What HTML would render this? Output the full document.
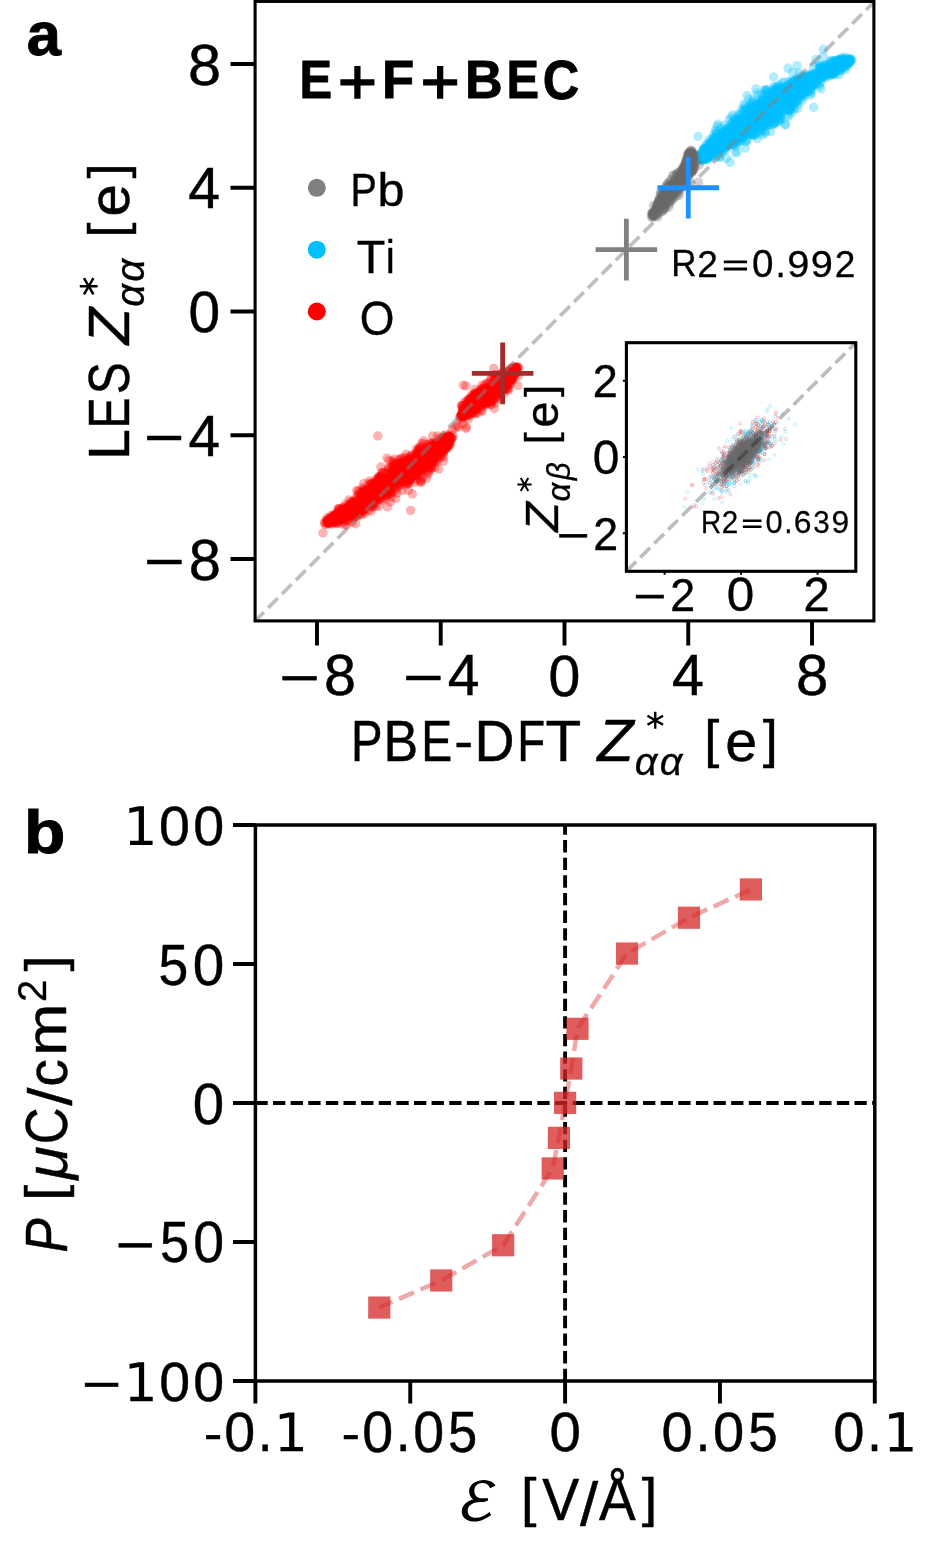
<!DOCTYPE html>
<html><head><meta charset="utf-8"><style>
html,body{margin:0;padding:0;background:#fff;overflow:hidden;}
svg{display:block;}
text{font-family:"Liberation Sans", sans-serif;}
.sc circle{r:4.75px;}
.si circle{r:1.5px;}
</style></head><body>
<svg width="934" height="1550" viewBox="0 0 934 1550">
<rect width="934" height="1550" fill="#fff"/>
<g class='sc' fill='#ff0000' fill-opacity='0.3'><circle cx='493.3' cy='375.0' r='4.75'/><circle cx='409.8' cy='463.8' r='4.75'/><circle cx='506.1' cy='380.0' r='4.75'/><circle cx='386.4' cy='484.7' r='4.75'/><circle cx='433.3' cy='453.6' r='4.75'/><circle cx='429.6' cy='458.9' r='4.75'/><circle cx='362.2' cy='503.0' r='4.75'/><circle cx='484.7' cy='397.3' r='4.75'/><circle cx='502.4' cy='372.5' r='4.75'/><circle cx='355.6' cy='503.1' r='4.75'/><circle cx='495.6' cy='394.7' r='4.75'/><circle cx='446.0' cy='445.9' r='4.75'/><circle cx='392.5' cy='466.7' r='4.75'/><circle cx='400.4' cy='469.6' r='4.75'/><circle cx='447.0' cy='447.9' r='4.75'/><circle cx='367.0' cy='498.3' r='4.75'/><circle cx='482.4' cy='399.5' r='4.75'/><circle cx='409.5' cy='480.0' r='4.75'/><circle cx='368.4' cy='499.6' r='4.75'/><circle cx='480.2' cy='400.7' r='4.75'/><circle cx='331.0' cy='522.2' r='4.75'/><circle cx='337.6' cy='523.0' r='4.75'/><circle cx='474.7' cy='408.6' r='4.75'/><circle cx='385.6' cy='485.7' r='4.75'/><circle cx='420.5' cy='460.7' r='4.75'/><circle cx='436.5' cy='444.1' r='4.75'/><circle cx='461.5' cy='415.1' r='4.75'/><circle cx='413.2' cy='472.6' r='4.75'/><circle cx='380.4' cy='498.5' r='4.75'/><circle cx='383.7' cy='478.1' r='4.75'/><circle cx='440.0' cy='441.0' r='4.75'/><circle cx='483.7' cy='403.7' r='4.75'/><circle cx='367.3' cy='499.3' r='4.75'/><circle cx='346.1' cy='515.4' r='4.75'/><circle cx='485.5' cy='405.0' r='4.75'/><circle cx='477.9' cy='394.4' r='4.75'/><circle cx='338.6' cy='509.1' r='4.75'/><circle cx='417.0' cy='474.3' r='4.75'/><circle cx='429.4' cy='465.4' r='4.75'/><circle cx='398.9' cy='474.8' r='4.75'/><circle cx='391.7' cy='470.1' r='4.75'/><circle cx='445.0' cy='447.9' r='4.75'/><circle cx='347.3' cy='513.2' r='4.75'/><circle cx='417.8' cy='456.9' r='4.75'/><circle cx='414.8' cy='470.6' r='4.75'/><circle cx='380.0' cy='499.5' r='4.75'/><circle cx='474.7' cy='404.8' r='4.75'/><circle cx='479.9' cy='399.9' r='4.75'/><circle cx='432.6' cy='454.1' r='4.75'/><circle cx='396.7' cy='492.8' r='4.75'/><circle cx='342.9' cy='508.4' r='4.75'/><circle cx='408.1' cy='471.8' r='4.75'/><circle cx='404.3' cy='465.8' r='4.75'/><circle cx='403.8' cy='470.8' r='4.75'/><circle cx='433.8' cy='446.5' r='4.75'/><circle cx='488.0' cy='383.1' r='4.75'/><circle cx='485.0' cy='390.9' r='4.75'/><circle cx='482.1' cy='398.9' r='4.75'/><circle cx='425.3' cy='447.7' r='4.75'/><circle cx='372.4' cy='485.8' r='4.75'/><circle cx='348.8' cy='511.6' r='4.75'/><circle cx='365.2' cy='499.1' r='4.75'/><circle cx='492.1' cy='389.0' r='4.75'/><circle cx='381.3' cy='479.9' r='4.75'/><circle cx='508.5' cy='379.7' r='4.75'/><circle cx='406.5' cy='471.2' r='4.75'/><circle cx='464.9' cy='402.0' r='4.75'/><circle cx='420.5' cy='459.7' r='4.75'/><circle cx='395.7' cy='484.3' r='4.75'/><circle cx='409.1' cy='481.7' r='4.75'/><circle cx='402.6' cy='469.7' r='4.75'/><circle cx='426.9' cy='459.0' r='4.75'/><circle cx='489.7' cy='391.8' r='4.75'/><circle cx='475.8' cy='413.7' r='4.75'/><circle cx='429.6' cy='459.4' r='4.75'/><circle cx='333.4' cy='516.4' r='4.75'/><circle cx='512.0' cy='372.4' r='4.75'/><circle cx='484.1' cy='390.8' r='4.75'/><circle cx='355.0' cy='503.0' r='4.75'/><circle cx='503.7' cy='391.2' r='4.75'/><circle cx='502.4' cy='379.7' r='4.75'/><circle cx='477.6' cy='401.2' r='4.75'/><circle cx='364.7' cy='497.7' r='4.75'/><circle cx='433.1' cy='459.3' r='4.75'/><circle cx='482.6' cy='390.2' r='4.75'/><circle cx='477.7' cy='413.0' r='4.75'/><circle cx='505.0' cy='377.9' r='4.75'/><circle cx='391.2' cy='492.0' r='4.75'/><circle cx='409.6' cy='467.2' r='4.75'/><circle cx='399.9' cy='478.1' r='4.75'/><circle cx='360.7' cy='514.9' r='4.75'/><circle cx='475.8' cy='398.2' r='4.75'/><circle cx='334.4' cy='521.3' r='4.75'/><circle cx='492.6' cy='399.2' r='4.75'/><circle cx='420.3' cy='467.9' r='4.75'/><circle cx='366.5' cy='498.1' r='4.75'/><circle cx='497.8' cy='389.8' r='4.75'/><circle cx='367.1' cy='497.5' r='4.75'/><circle cx='477.0' cy='396.5' r='4.75'/><circle cx='504.2' cy='377.5' r='4.75'/><circle cx='469.9' cy='398.4' r='4.75'/><circle cx='390.7' cy='482.5' r='4.75'/><circle cx='337.3' cy='516.6' r='4.75'/><circle cx='422.6' cy='469.6' r='4.75'/><circle cx='383.8' cy='485.3' r='4.75'/><circle cx='508.2' cy='383.3' r='4.75'/><circle cx='411.1' cy='462.4' r='4.75'/><circle cx='464.3' cy='415.0' r='4.75'/><circle cx='446.3' cy='443.7' r='4.75'/><circle cx='395.9' cy='475.6' r='4.75'/><circle cx='369.8' cy='494.5' r='4.75'/><circle cx='364.0' cy='503.3' r='4.75'/><circle cx='441.0' cy='447.6' r='4.75'/><circle cx='408.2' cy='460.3' r='4.75'/><circle cx='485.3' cy='399.2' r='4.75'/><circle cx='419.1' cy='449.4' r='4.75'/><circle cx='408.1' cy='483.7' r='4.75'/><circle cx='386.0' cy='482.0' r='4.75'/><circle cx='363.5' cy='504.4' r='4.75'/><circle cx='512.2' cy='367.6' r='4.75'/><circle cx='366.7' cy='501.1' r='4.75'/><circle cx='509.9' cy='376.6' r='4.75'/><circle cx='450.3' cy='444.8' r='4.75'/><circle cx='382.3' cy='491.4' r='4.75'/><circle cx='401.3' cy='464.0' r='4.75'/><circle cx='367.0' cy='504.4' r='4.75'/><circle cx='382.9' cy='483.8' r='4.75'/><circle cx='468.7' cy='401.0' r='4.75'/><circle cx='490.2' cy='394.4' r='4.75'/><circle cx='335.5' cy='517.3' r='4.75'/><circle cx='474.3' cy='409.6' r='4.75'/><circle cx='367.1' cy='502.6' r='4.75'/><circle cx='367.3' cy='498.1' r='4.75'/><circle cx='396.5' cy='468.7' r='4.75'/><circle cx='410.9' cy='469.1' r='4.75'/><circle cx='492.0' cy='388.7' r='4.75'/><circle cx='382.1' cy='493.9' r='4.75'/><circle cx='344.8' cy='524.8' r='4.75'/><circle cx='413.5' cy='468.9' r='4.75'/><circle cx='441.5' cy='449.9' r='4.75'/><circle cx='495.6' cy='394.8' r='4.75'/><circle cx='338.0' cy='510.3' r='4.75'/><circle cx='495.2' cy='396.7' r='4.75'/><circle cx='516.3' cy='370.3' r='4.75'/><circle cx='510.0' cy='383.2' r='4.75'/><circle cx='393.6' cy='480.0' r='4.75'/><circle cx='402.1' cy='463.5' r='4.75'/><circle cx='402.3' cy='473.1' r='4.75'/><circle cx='425.1' cy='454.0' r='4.75'/><circle cx='374.9' cy='483.3' r='4.75'/><circle cx='406.7' cy='463.2' r='4.75'/><circle cx='418.2' cy='467.3' r='4.75'/><circle cx='433.4' cy='456.8' r='4.75'/><circle cx='407.5' cy='463.4' r='4.75'/><circle cx='447.8' cy='437.0' r='4.75'/><circle cx='376.1' cy='487.7' r='4.75'/><circle cx='401.6' cy='478.4' r='4.75'/><circle cx='494.6' cy='392.8' r='4.75'/><circle cx='360.4' cy='505.4' r='4.75'/><circle cx='494.1' cy='396.6' r='4.75'/><circle cx='374.8' cy='486.4' r='4.75'/><circle cx='391.9' cy='461.1' r='4.75'/><circle cx='339.0' cy='518.9' r='4.75'/><circle cx='387.8' cy='489.8' r='4.75'/><circle cx='380.1' cy='488.2' r='4.75'/><circle cx='468.1' cy='413.2' r='4.75'/><circle cx='419.3' cy='461.8' r='4.75'/><circle cx='475.4' cy='395.0' r='4.75'/><circle cx='507.8' cy='376.7' r='4.75'/><circle cx='443.4' cy='450.3' r='4.75'/><circle cx='380.9' cy='492.9' r='4.75'/><circle cx='441.7' cy='439.7' r='4.75'/><circle cx='467.6' cy='412.8' r='4.75'/><circle cx='512.6' cy='379.5' r='4.75'/><circle cx='436.9' cy='455.2' r='4.75'/><circle cx='500.9' cy='381.4' r='4.75'/><circle cx='374.4' cy='500.0' r='4.75'/><circle cx='420.7' cy='461.9' r='4.75'/><circle cx='471.1' cy='400.8' r='4.75'/><circle cx='474.9' cy='393.6' r='4.75'/><circle cx='370.6' cy='499.5' r='4.75'/><circle cx='352.8' cy='513.2' r='4.75'/><circle cx='421.5' cy='461.5' r='4.75'/><circle cx='361.4' cy='504.1' r='4.75'/><circle cx='507.0' cy='376.5' r='4.75'/><circle cx='444.3' cy='437.7' r='4.75'/><circle cx='443.1' cy='447.7' r='4.75'/><circle cx='350.0' cy='514.9' r='4.75'/><circle cx='369.3' cy='500.7' r='4.75'/><circle cx='436.0' cy='450.2' r='4.75'/><circle cx='406.0' cy='475.1' r='4.75'/><circle cx='391.0' cy='480.8' r='4.75'/><circle cx='486.6' cy='389.7' r='4.75'/><circle cx='358.0' cy='502.6' r='4.75'/><circle cx='358.5' cy='512.7' r='4.75'/><circle cx='337.5' cy='520.3' r='4.75'/><circle cx='415.8' cy='460.8' r='4.75'/><circle cx='472.4' cy='406.0' r='4.75'/><circle cx='422.5' cy='454.6' r='4.75'/><circle cx='371.9' cy='503.9' r='4.75'/><circle cx='378.8' cy='486.7' r='4.75'/><circle cx='385.3' cy='492.4' r='4.75'/><circle cx='391.8' cy='480.7' r='4.75'/><circle cx='440.8' cy='445.3' r='4.75'/><circle cx='499.0' cy='385.9' r='4.75'/><circle cx='497.5' cy='385.6' r='4.75'/><circle cx='489.3' cy='395.6' r='4.75'/><circle cx='377.2' cy='491.7' r='4.75'/><circle cx='515.2' cy='368.5' r='4.75'/><circle cx='503.4' cy='374.5' r='4.75'/><circle cx='376.9' cy='496.7' r='4.75'/><circle cx='389.0' cy='460.7' r='4.75'/><circle cx='476.7' cy='401.7' r='4.75'/><circle cx='505.8' cy='372.2' r='4.75'/><circle cx='498.4' cy='377.1' r='4.75'/><circle cx='341.0' cy='512.6' r='4.75'/><circle cx='427.3' cy='463.7' r='4.75'/><circle cx='501.1' cy='387.9' r='4.75'/><circle cx='431.5' cy='460.6' r='4.75'/><circle cx='378.1' cy='488.0' r='4.75'/><circle cx='476.9' cy='402.2' r='4.75'/><circle cx='443.6' cy='439.0' r='4.75'/><circle cx='496.8' cy='390.8' r='4.75'/><circle cx='470.9' cy='402.7' r='4.75'/><circle cx='470.0' cy='413.4' r='4.75'/><circle cx='422.1' cy='461.8' r='4.75'/><circle cx='408.4' cy='458.4' r='4.75'/><circle cx='446.5' cy='439.5' r='4.75'/><circle cx='472.7' cy='397.7' r='4.75'/><circle cx='479.8' cy='392.0' r='4.75'/><circle cx='421.5' cy='443.7' r='4.75'/><circle cx='468.3' cy='409.5' r='4.75'/><circle cx='477.1' cy='400.3' r='4.75'/><circle cx='393.6' cy='462.3' r='4.75'/><circle cx='474.4' cy='401.6' r='4.75'/><circle cx='362.5' cy='505.8' r='4.75'/><circle cx='392.9' cy='480.0' r='4.75'/><circle cx='437.3' cy='448.6' r='4.75'/><circle cx='335.5' cy='514.3' r='4.75'/><circle cx='397.8' cy='480.8' r='4.75'/><circle cx='377.7' cy='488.5' r='4.75'/><circle cx='351.0' cy='507.0' r='4.75'/><circle cx='420.5' cy='465.6' r='4.75'/><circle cx='423.0' cy='468.2' r='4.75'/><circle cx='427.2' cy='459.7' r='4.75'/><circle cx='384.3' cy='485.6' r='4.75'/><circle cx='382.8' cy='481.2' r='4.75'/><circle cx='430.6' cy='450.3' r='4.75'/><circle cx='437.2' cy='460.9' r='4.75'/><circle cx='502.8' cy='386.3' r='4.75'/><circle cx='359.9' cy='506.1' r='4.75'/><circle cx='481.3' cy='395.5' r='4.75'/><circle cx='471.7' cy='404.6' r='4.75'/><circle cx='475.7' cy='395.8' r='4.75'/><circle cx='341.0' cy='515.8' r='4.75'/><circle cx='398.7' cy='459.8' r='4.75'/><circle cx='513.8' cy='372.5' r='4.75'/><circle cx='354.6' cy='504.3' r='4.75'/><circle cx='501.5' cy='385.0' r='4.75'/><circle cx='368.1' cy='496.4' r='4.75'/><circle cx='472.0' cy='409.7' r='4.75'/><circle cx='332.6' cy='517.3' r='4.75'/><circle cx='476.3' cy='397.1' r='4.75'/><circle cx='425.5' cy='456.3' r='4.75'/><circle cx='425.2' cy='462.8' r='4.75'/><circle cx='507.6' cy='374.3' r='4.75'/><circle cx='496.5' cy='392.2' r='4.75'/><circle cx='357.8' cy='502.9' r='4.75'/><circle cx='397.5' cy='474.0' r='4.75'/><circle cx='366.4' cy='491.7' r='4.75'/><circle cx='359.5' cy='506.1' r='4.75'/><circle cx='351.4' cy='513.7' r='4.75'/><circle cx='431.0' cy='466.6' r='4.75'/><circle cx='394.9' cy='469.8' r='4.75'/><circle cx='336.7' cy='517.0' r='4.75'/><circle cx='424.5' cy='457.7' r='4.75'/><circle cx='461.0' cy='415.4' r='4.75'/><circle cx='497.4' cy='385.1' r='4.75'/><circle cx='393.2' cy='471.4' r='4.75'/><circle cx='398.6' cy='477.2' r='4.75'/><circle cx='370.2' cy='505.4' r='4.75'/><circle cx='358.1' cy='507.5' r='4.75'/><circle cx='421.9' cy='458.2' r='4.75'/><circle cx='393.9' cy='477.7' r='4.75'/><circle cx='391.5' cy='473.1' r='4.75'/><circle cx='470.0' cy='398.7' r='4.75'/><circle cx='351.1' cy='512.9' r='4.75'/><circle cx='335.0' cy='518.6' r='4.75'/><circle cx='417.5' cy='468.6' r='4.75'/><circle cx='341.6' cy='509.2' r='4.75'/><circle cx='425.3' cy='470.8' r='4.75'/><circle cx='445.8' cy='441.7' r='4.75'/><circle cx='479.0' cy='398.0' r='4.75'/><circle cx='493.5' cy='395.7' r='4.75'/><circle cx='387.0' cy='492.8' r='4.75'/><circle cx='401.8' cy='477.2' r='4.75'/><circle cx='408.9' cy='477.9' r='4.75'/><circle cx='498.1' cy='381.8' r='4.75'/><circle cx='361.0' cy='505.6' r='4.75'/><circle cx='502.9' cy='380.6' r='4.75'/><circle cx='512.1' cy='377.8' r='4.75'/><circle cx='441.2' cy='441.3' r='4.75'/><circle cx='375.3' cy='484.5' r='4.75'/><circle cx='401.4' cy='470.6' r='4.75'/><circle cx='382.4' cy='472.6' r='4.75'/><circle cx='395.7' cy='498.6' r='4.75'/><circle cx='468.2' cy='411.2' r='4.75'/><circle cx='405.6' cy='474.1' r='4.75'/><circle cx='379.3' cy='476.6' r='4.75'/><circle cx='511.9' cy='379.0' r='4.75'/><circle cx='492.5' cy='397.9' r='4.75'/><circle cx='486.2' cy='393.5' r='4.75'/><circle cx='364.1' cy='499.6' r='4.75'/><circle cx='387.0' cy='493.9' r='4.75'/><circle cx='431.2' cy='445.0' r='4.75'/><circle cx='479.9' cy='402.9' r='4.75'/><circle cx='487.3' cy='388.4' r='4.75'/><circle cx='496.5' cy='391.9' r='4.75'/><circle cx='410.6' cy='473.3' r='4.75'/><circle cx='412.6' cy='464.4' r='4.75'/><circle cx='418.8' cy='450.5' r='4.75'/><circle cx='414.3' cy='467.1' r='4.75'/><circle cx='332.2' cy='523.2' r='4.75'/><circle cx='346.6' cy='510.2' r='4.75'/><circle cx='401.3' cy='458.8' r='4.75'/><circle cx='401.2' cy='471.0' r='4.75'/><circle cx='373.0' cy='495.6' r='4.75'/><circle cx='411.3' cy='464.6' r='4.75'/><circle cx='474.0' cy='410.7' r='4.75'/><circle cx='493.0' cy='396.9' r='4.75'/><circle cx='463.6' cy='415.4' r='4.75'/><circle cx='418.9' cy='451.3' r='4.75'/><circle cx='341.3' cy='518.8' r='4.75'/><circle cx='405.8' cy='481.4' r='4.75'/><circle cx='402.7' cy='476.7' r='4.75'/><circle cx='509.3' cy='378.9' r='4.75'/><circle cx='493.5' cy='387.6' r='4.75'/><circle cx='353.2' cy='510.9' r='4.75'/><circle cx='381.9' cy='494.5' r='4.75'/><circle cx='357.6' cy='511.4' r='4.75'/><circle cx='492.4' cy='391.9' r='4.75'/><circle cx='351.7' cy='517.4' r='4.75'/><circle cx='500.3' cy='379.1' r='4.75'/><circle cx='350.7' cy='509.6' r='4.75'/><circle cx='470.3' cy='402.0' r='4.75'/><circle cx='342.9' cy='513.3' r='4.75'/><circle cx='496.1' cy='379.3' r='4.75'/><circle cx='370.3' cy='502.8' r='4.75'/><circle cx='448.3' cy='441.5' r='4.75'/><circle cx='359.3' cy='502.9' r='4.75'/><circle cx='341.1' cy='516.1' r='4.75'/><circle cx='414.2' cy='465.5' r='4.75'/><circle cx='503.6' cy='376.3' r='4.75'/><circle cx='346.9' cy='514.2' r='4.75'/><circle cx='349.8' cy='509.9' r='4.75'/><circle cx='392.4' cy='492.1' r='4.75'/><circle cx='412.0' cy='476.5' r='4.75'/><circle cx='358.0' cy='504.3' r='4.75'/><circle cx='389.0' cy='479.5' r='4.75'/><circle cx='379.4' cy='491.9' r='4.75'/><circle cx='497.3' cy='380.2' r='4.75'/><circle cx='419.2' cy='455.7' r='4.75'/><circle cx='381.2' cy='476.2' r='4.75'/><circle cx='437.4' cy='457.3' r='4.75'/><circle cx='499.5' cy='393.2' r='4.75'/><circle cx='492.9' cy='394.6' r='4.75'/><circle cx='374.7' cy='497.4' r='4.75'/><circle cx='444.5' cy='446.5' r='4.75'/><circle cx='363.6' cy='503.4' r='4.75'/><circle cx='345.8' cy='514.9' r='4.75'/><circle cx='510.7' cy='379.1' r='4.75'/><circle cx='442.4' cy='438.9' r='4.75'/><circle cx='437.7' cy='446.4' r='4.75'/><circle cx='337.1' cy='523.7' r='4.75'/><circle cx='350.6' cy='508.6' r='4.75'/><circle cx='420.2' cy='454.7' r='4.75'/><circle cx='349.3' cy='509.1' r='4.75'/><circle cx='416.7' cy='465.5' r='4.75'/><circle cx='428.1' cy='459.0' r='4.75'/><circle cx='380.5' cy='480.7' r='4.75'/><circle cx='406.3' cy='475.2' r='4.75'/><circle cx='381.2' cy='478.6' r='4.75'/><circle cx='377.1' cy='489.5' r='4.75'/><circle cx='403.2' cy='470.6' r='4.75'/><circle cx='377.9' cy='481.3' r='4.75'/><circle cx='339.7' cy='515.8' r='4.75'/><circle cx='337.1' cy='516.2' r='4.75'/><circle cx='478.9' cy='403.6' r='4.75'/><circle cx='505.6' cy='379.5' r='4.75'/><circle cx='492.0' cy='401.1' r='4.75'/><circle cx='368.8' cy='499.8' r='4.75'/><circle cx='380.0' cy='479.5' r='4.75'/><circle cx='337.7' cy='519.4' r='4.75'/><circle cx='474.2' cy='399.7' r='4.75'/><circle cx='324.8' cy='523.8' r='4.75'/><circle cx='504.3' cy='379.9' r='4.75'/><circle cx='486.2' cy='389.4' r='4.75'/><circle cx='417.9' cy='460.3' r='4.75'/><circle cx='425.3' cy='463.7' r='4.75'/><circle cx='499.2' cy='385.0' r='4.75'/><circle cx='397.6' cy='474.3' r='4.75'/><circle cx='331.2' cy='515.3' r='4.75'/><circle cx='421.8' cy='461.4' r='4.75'/><circle cx='346.8' cy='507.3' r='4.75'/><circle cx='363.9' cy='492.1' r='4.75'/><circle cx='415.8' cy='469.3' r='4.75'/><circle cx='500.2' cy='395.2' r='4.75'/><circle cx='345.8' cy='520.7' r='4.75'/><circle cx='515.8' cy='373.0' r='4.75'/><circle cx='488.0' cy='392.6' r='4.75'/><circle cx='486.7' cy='394.1' r='4.75'/><circle cx='429.7' cy='462.3' r='4.75'/><circle cx='497.1' cy='394.2' r='4.75'/><circle cx='412.3' cy='473.4' r='4.75'/><circle cx='423.1' cy='460.1' r='4.75'/><circle cx='393.7' cy='474.8' r='4.75'/><circle cx='387.8' cy='484.7' r='4.75'/><circle cx='392.4' cy='484.3' r='4.75'/><circle cx='476.1' cy='398.1' r='4.75'/><circle cx='363.4' cy='501.3' r='4.75'/><circle cx='497.6' cy='392.9' r='4.75'/><circle cx='360.3' cy='508.4' r='4.75'/><circle cx='462.9' cy='410.5' r='4.75'/><circle cx='416.1' cy='467.7' r='4.75'/><circle cx='506.4' cy='381.7' r='4.75'/><circle cx='483.7' cy='394.7' r='4.75'/><circle cx='387.9' cy='481.5' r='4.75'/><circle cx='328.6' cy='523.0' r='4.75'/><circle cx='382.1' cy='492.2' r='4.75'/><circle cx='446.8' cy='444.6' r='4.75'/><circle cx='508.2' cy='372.8' r='4.75'/><circle cx='381.9' cy='481.6' r='4.75'/><circle cx='472.8' cy='402.1' r='4.75'/><circle cx='469.4' cy='414.7' r='4.75'/><circle cx='409.7' cy='479.5' r='4.75'/><circle cx='417.6' cy='462.6' r='4.75'/><circle cx='371.3' cy='496.3' r='4.75'/><circle cx='478.7' cy='404.1' r='4.75'/><circle cx='435.7' cy='452.6' r='4.75'/><circle cx='422.5' cy='452.3' r='4.75'/><circle cx='419.4' cy='467.6' r='4.75'/><circle cx='422.2' cy='461.2' r='4.75'/><circle cx='383.2' cy='490.8' r='4.75'/><circle cx='361.5' cy='492.2' r='4.75'/><circle cx='509.1' cy='379.9' r='4.75'/><circle cx='367.1' cy='493.4' r='4.75'/><circle cx='408.9' cy='460.6' r='4.75'/><circle cx='411.2' cy='466.4' r='4.75'/><circle cx='476.2' cy='401.3' r='4.75'/><circle cx='466.7' cy='407.0' r='4.75'/><circle cx='329.6' cy='522.3' r='4.75'/><circle cx='417.0' cy='457.2' r='4.75'/><circle cx='336.3' cy='519.1' r='4.75'/><circle cx='440.9' cy='440.5' r='4.75'/><circle cx='419.3' cy='469.9' r='4.75'/><circle cx='451.0' cy='439.0' r='4.75'/><circle cx='478.5' cy='403.4' r='4.75'/><circle cx='377.1' cy='498.3' r='4.75'/><circle cx='499.1' cy='387.2' r='4.75'/><circle cx='462.8' cy='410.5' r='4.75'/><circle cx='502.3' cy='382.2' r='4.75'/><circle cx='363.3' cy='496.7' r='4.75'/><circle cx='375.0' cy='503.1' r='4.75'/><circle cx='475.9' cy='393.1' r='4.75'/><circle cx='439.7' cy='445.3' r='4.75'/><circle cx='383.4' cy='484.8' r='4.75'/><circle cx='377.1' cy='493.4' r='4.75'/><circle cx='474.1' cy='398.2' r='4.75'/><circle cx='362.5' cy='488.1' r='4.75'/><circle cx='404.3' cy='475.2' r='4.75'/><circle cx='380.4' cy='491.2' r='4.75'/><circle cx='462.8' cy='417.2' r='4.75'/><circle cx='368.4' cy='491.8' r='4.75'/><circle cx='506.2' cy='379.6' r='4.75'/><circle cx='334.1' cy='515.1' r='4.75'/><circle cx='424.7' cy='457.4' r='4.75'/><circle cx='482.9' cy='388.9' r='4.75'/><circle cx='439.8' cy='448.6' r='4.75'/><circle cx='367.3' cy='490.2' r='4.75'/><circle cx='387.5' cy='472.8' r='4.75'/><circle cx='423.7' cy='466.8' r='4.75'/><circle cx='502.4' cy='388.0' r='4.75'/><circle cx='418.0' cy='457.4' r='4.75'/><circle cx='448.5' cy='445.8' r='4.75'/><circle cx='399.1' cy='464.6' r='4.75'/><circle cx='507.1' cy='380.2' r='4.75'/><circle cx='412.0' cy='473.4' r='4.75'/><circle cx='461.6' cy='414.4' r='4.75'/><circle cx='499.8' cy='383.6' r='4.75'/><circle cx='397.4' cy='470.7' r='4.75'/><circle cx='356.6' cy='515.3' r='4.75'/><circle cx='404.0' cy='470.0' r='4.75'/><circle cx='329.0' cy='521.2' r='4.75'/><circle cx='352.3' cy='522.1' r='4.75'/><circle cx='364.2' cy='503.8' r='4.75'/><circle cx='337.1' cy='519.1' r='4.75'/><circle cx='409.7' cy='456.5' r='4.75'/><circle cx='513.7' cy='372.4' r='4.75'/><circle cx='434.8' cy='467.3' r='4.75'/><circle cx='331.0' cy='517.6' r='4.75'/><circle cx='508.9' cy='389.8' r='4.75'/><circle cx='510.1' cy='384.0' r='4.75'/><circle cx='358.1' cy='510.8' r='4.75'/><circle cx='512.7' cy='373.8' r='4.75'/><circle cx='350.2' cy='507.6' r='4.75'/><circle cx='426.4' cy='464.3' r='4.75'/><circle cx='339.2' cy='516.6' r='4.75'/><circle cx='406.8' cy='474.7' r='4.75'/><circle cx='411.4' cy='471.3' r='4.75'/><circle cx='428.0' cy='466.4' r='4.75'/><circle cx='403.3' cy='481.8' r='4.75'/><circle cx='358.4' cy='505.5' r='4.75'/><circle cx='443.6' cy='451.6' r='4.75'/><circle cx='373.0' cy='493.1' r='4.75'/><circle cx='514.9' cy='369.2' r='4.75'/><circle cx='382.5' cy='486.6' r='4.75'/><circle cx='434.9' cy='458.9' r='4.75'/><circle cx='410.7' cy='510.4' r='4.75'/><circle cx='441.2' cy='444.8' r='4.75'/><circle cx='442.3' cy='441.4' r='4.75'/><circle cx='342.9' cy='518.9' r='4.75'/><circle cx='447.9' cy='437.7' r='4.75'/><circle cx='470.4' cy='406.5' r='4.75'/><circle cx='398.9' cy='483.8' r='4.75'/><circle cx='504.0' cy='378.5' r='4.75'/><circle cx='348.8' cy='505.9' r='4.75'/><circle cx='428.0' cy='455.2' r='4.75'/><circle cx='396.2' cy='472.0' r='4.75'/><circle cx='396.7' cy='479.8' r='4.75'/><circle cx='449.6' cy='436.9' r='4.75'/><circle cx='417.2' cy='462.0' r='4.75'/><circle cx='324.6' cy='522.2' r='4.75'/><circle cx='412.8' cy='465.7' r='4.75'/><circle cx='487.3' cy='402.6' r='4.75'/><circle cx='492.8' cy='389.0' r='4.75'/><circle cx='386.9' cy='491.0' r='4.75'/><circle cx='447.3' cy='440.7' r='4.75'/><circle cx='492.9' cy='391.9' r='4.75'/><circle cx='476.9' cy='396.3' r='4.75'/><circle cx='416.0' cy='469.0' r='4.75'/><circle cx='452.9' cy='435.7' r='4.75'/><circle cx='400.9' cy='463.6' r='4.75'/><circle cx='349.3' cy='507.6' r='4.75'/><circle cx='439.0' cy='447.8' r='4.75'/><circle cx='428.8' cy='450.9' r='4.75'/><circle cx='410.2' cy='468.5' r='4.75'/><circle cx='428.7' cy='457.3' r='4.75'/><circle cx='435.1' cy='448.6' r='4.75'/><circle cx='461.1' cy='416.4' r='4.75'/><circle cx='487.4' cy='403.0' r='4.75'/><circle cx='430.0' cy='470.4' r='4.75'/><circle cx='444.3' cy='441.2' r='4.75'/><circle cx='395.4' cy='488.2' r='4.75'/><circle cx='450.5' cy='441.8' r='4.75'/><circle cx='482.2' cy='392.8' r='4.75'/><circle cx='379.9' cy='490.7' r='4.75'/><circle cx='411.0' cy='465.7' r='4.75'/><circle cx='405.0' cy='457.6' r='4.75'/><circle cx='443.7' cy='456.6' r='4.75'/><circle cx='463.5' cy='410.8' r='4.75'/><circle cx='504.8' cy='375.8' r='4.75'/><circle cx='412.6' cy='454.8' r='4.75'/><circle cx='498.6' cy='382.3' r='4.75'/><circle cx='343.0' cy='512.6' r='4.75'/><circle cx='437.1' cy='455.3' r='4.75'/><circle cx='496.2' cy='374.6' r='4.75'/><circle cx='357.9' cy='508.8' r='4.75'/><circle cx='423.8' cy='459.0' r='4.75'/><circle cx='413.9' cy='474.0' r='4.75'/><circle cx='372.4' cy='507.0' r='4.75'/><circle cx='408.2' cy='463.4' r='4.75'/><circle cx='506.9' cy='386.6' r='4.75'/><circle cx='471.8' cy='395.9' r='4.75'/><circle cx='336.9' cy='515.7' r='4.75'/><circle cx='435.7' cy='455.6' r='4.75'/><circle cx='376.1' cy='496.9' r='4.75'/><circle cx='405.4' cy='479.2' r='4.75'/><circle cx='417.0' cy='479.5' r='4.75'/><circle cx='365.8' cy='501.7' r='4.75'/><circle cx='469.5' cy='415.5' r='4.75'/><circle cx='417.4' cy='466.5' r='4.75'/><circle cx='377.6' cy='492.9' r='4.75'/><circle cx='439.3' cy='443.2' r='4.75'/><circle cx='501.4' cy='379.9' r='4.75'/><circle cx='356.9' cy='511.5' r='4.75'/><circle cx='438.8' cy='438.6' r='4.75'/><circle cx='355.1' cy='512.0' r='4.75'/><circle cx='333.2' cy='520.6' r='4.75'/><circle cx='422.4' cy='470.1' r='4.75'/><circle cx='502.4' cy='381.8' r='4.75'/><circle cx='429.0' cy='467.9' r='4.75'/><circle cx='501.1' cy='380.6' r='4.75'/><circle cx='463.4' cy='414.0' r='4.75'/><circle cx='488.3' cy='396.7' r='4.75'/><circle cx='435.0' cy='451.0' r='4.75'/><circle cx='347.5' cy='510.4' r='4.75'/><circle cx='495.7' cy='391.7' r='4.75'/><circle cx='494.0' cy='390.1' r='4.75'/><circle cx='384.4' cy='492.0' r='4.75'/><circle cx='430.7' cy='442.8' r='4.75'/><circle cx='390.1' cy='501.8' r='4.75'/><circle cx='387.0' cy='487.5' r='4.75'/><circle cx='445.1' cy='449.3' r='4.75'/><circle cx='410.4' cy='459.8' r='4.75'/><circle cx='402.0' cy='476.5' r='4.75'/><circle cx='419.5' cy='447.0' r='4.75'/><circle cx='370.4' cy='484.3' r='4.75'/><circle cx='503.8' cy='383.9' r='4.75'/><circle cx='372.3' cy='483.7' r='4.75'/><circle cx='498.5' cy='387.3' r='4.75'/><circle cx='391.2' cy='474.8' r='4.75'/><circle cx='441.0' cy='443.5' r='4.75'/><circle cx='392.2' cy='480.5' r='4.75'/><circle cx='493.8' cy='394.4' r='4.75'/><circle cx='393.2' cy='482.1' r='4.75'/><circle cx='372.5' cy='505.9' r='4.75'/><circle cx='407.7' cy='479.8' r='4.75'/><circle cx='433.1' cy='449.7' r='4.75'/><circle cx='394.1' cy='477.4' r='4.75'/><circle cx='449.5' cy='443.7' r='4.75'/><circle cx='496.6' cy='387.8' r='4.75'/><circle cx='377.8' cy='435.9' r='4.75'/><circle cx='326.4' cy='520.2' r='4.75'/><circle cx='434.0' cy='457.9' r='4.75'/><circle cx='327.9' cy='523.1' r='4.75'/><circle cx='375.5' cy='492.1' r='4.75'/><circle cx='374.6' cy='482.0' r='4.75'/><circle cx='339.7' cy='520.9' r='4.75'/><circle cx='416.0' cy='454.3' r='4.75'/><circle cx='369.9' cy='480.9' r='4.75'/><circle cx='427.9' cy='457.1' r='4.75'/><circle cx='382.9' cy='486.2' r='4.75'/><circle cx='443.9' cy='438.1' r='4.75'/><circle cx='442.1' cy='443.4' r='4.75'/><circle cx='469.9' cy='405.4' r='4.75'/><circle cx='472.9' cy='400.6' r='4.75'/><circle cx='380.4' cy='481.6' r='4.75'/><circle cx='477.5' cy='404.1' r='4.75'/><circle cx='497.4' cy='391.0' r='4.75'/><circle cx='491.9' cy='398.8' r='4.75'/><circle cx='420.9' cy='458.1' r='4.75'/><circle cx='400.6' cy='464.1' r='4.75'/><circle cx='347.7' cy='505.5' r='4.75'/><circle cx='502.4' cy='385.4' r='4.75'/><circle cx='449.9' cy='438.6' r='4.75'/><circle cx='404.5' cy='481.0' r='4.75'/><circle cx='446.5' cy='436.1' r='4.75'/><circle cx='374.5' cy='493.8' r='4.75'/><circle cx='486.4' cy='397.7' r='4.75'/><circle cx='500.7' cy='380.6' r='4.75'/><circle cx='416.3' cy='462.6' r='4.75'/><circle cx='380.3' cy='494.8' r='4.75'/><circle cx='397.8' cy='466.1' r='4.75'/><circle cx='409.5' cy='471.8' r='4.75'/><circle cx='369.6' cy='497.1' r='4.75'/><circle cx='416.2' cy='472.3' r='4.75'/><circle cx='408.8' cy='458.5' r='4.75'/><circle cx='469.8' cy='405.2' r='4.75'/><circle cx='400.7' cy='472.1' r='4.75'/><circle cx='417.9' cy='456.7' r='4.75'/><circle cx='386.9' cy='494.7' r='4.75'/><circle cx='446.4' cy='439.3' r='4.75'/><circle cx='429.7' cy='454.6' r='4.75'/><circle cx='438.4' cy='458.9' r='4.75'/><circle cx='424.7' cy='467.9' r='4.75'/><circle cx='443.4' cy='440.9' r='4.75'/><circle cx='475.4' cy='397.3' r='4.75'/><circle cx='348.1' cy='507.5' r='4.75'/><circle cx='471.2' cy='400.3' r='4.75'/><circle cx='485.2' cy='395.4' r='4.75'/><circle cx='358.7' cy='506.3' r='4.75'/><circle cx='405.3' cy='470.7' r='4.75'/><circle cx='504.4' cy='381.0' r='4.75'/><circle cx='369.6' cy='503.6' r='4.75'/><circle cx='340.7' cy='513.9' r='4.75'/><circle cx='366.9' cy='493.3' r='4.75'/><circle cx='356.7' cy='507.4' r='4.75'/><circle cx='384.8' cy='485.4' r='4.75'/><circle cx='351.7' cy='505.4' r='4.75'/><circle cx='373.3' cy='493.0' r='4.75'/><circle cx='480.8' cy='396.4' r='4.75'/><circle cx='434.0' cy='447.2' r='4.75'/><circle cx='396.0' cy='463.1' r='4.75'/><circle cx='422.0' cy='462.2' r='4.75'/><circle cx='368.4' cy='499.4' r='4.75'/><circle cx='371.7' cy='495.8' r='4.75'/><circle cx='375.9' cy='506.7' r='4.75'/><circle cx='419.0' cy='459.0' r='4.75'/><circle cx='488.4' cy='395.6' r='4.75'/><circle cx='463.4' cy='415.5' r='4.75'/><circle cx='487.5' cy='393.0' r='4.75'/><circle cx='373.2' cy='488.3' r='4.75'/><circle cx='434.1' cy='448.7' r='4.75'/><circle cx='376.4' cy='479.5' r='4.75'/><circle cx='411.9' cy='469.0' r='4.75'/><circle cx='340.1' cy='511.5' r='4.75'/><circle cx='502.9' cy='389.5' r='4.75'/><circle cx='364.0' cy='505.8' r='4.75'/><circle cx='484.1' cy='397.7' r='4.75'/><circle cx='371.9' cy='505.8' r='4.75'/><circle cx='489.7' cy='392.7' r='4.75'/><circle cx='411.1' cy='478.6' r='4.75'/><circle cx='447.7' cy='445.1' r='4.75'/><circle cx='518.4' cy='375.9' r='4.75'/><circle cx='504.6' cy='379.5' r='4.75'/><circle cx='342.1' cy='517.1' r='4.75'/><circle cx='421.1' cy='466.3' r='4.75'/><circle cx='429.3' cy='447.8' r='4.75'/><circle cx='369.4' cy='498.3' r='4.75'/><circle cx='443.1' cy='444.2' r='4.75'/><circle cx='464.0' cy='407.5' r='4.75'/><circle cx='492.1' cy='383.8' r='4.75'/><circle cx='495.7' cy='388.6' r='4.75'/><circle cx='387.5' cy='506.8' r='4.75'/><circle cx='517.8' cy='385.4' r='4.75'/><circle cx='503.1' cy='380.1' r='4.75'/><circle cx='361.2' cy='502.8' r='4.75'/><circle cx='437.5' cy='448.5' r='4.75'/><circle cx='440.6' cy='446.0' r='4.75'/><circle cx='363.9' cy='495.3' r='4.75'/><circle cx='331.1' cy='518.1' r='4.75'/><circle cx='515.9' cy='368.0' r='4.75'/><circle cx='467.1' cy='407.6' r='4.75'/><circle cx='487.1' cy='397.9' r='4.75'/><circle cx='466.5' cy='411.6' r='4.75'/><circle cx='397.3' cy='471.7' r='4.75'/><circle cx='438.7' cy='448.0' r='4.75'/><circle cx='419.0' cy='452.3' r='4.75'/><circle cx='344.9' cy='518.6' r='4.75'/><circle cx='433.6' cy='449.8' r='4.75'/><circle cx='365.1' cy='489.8' r='4.75'/><circle cx='463.8' cy='411.5' r='4.75'/><circle cx='399.1' cy='483.4' r='4.75'/><circle cx='485.8' cy='400.6' r='4.75'/><circle cx='467.4' cy='413.9' r='4.75'/><circle cx='467.9' cy='407.4' r='4.75'/><circle cx='385.1' cy='485.0' r='4.75'/><circle cx='375.0' cy='498.0' r='4.75'/><circle cx='363.3' cy='505.4' r='4.75'/><circle cx='398.0' cy='477.9' r='4.75'/><circle cx='378.6' cy='491.8' r='4.75'/><circle cx='378.8' cy='486.8' r='4.75'/><circle cx='509.1' cy='377.0' r='4.75'/><circle cx='445.9' cy='439.8' r='4.75'/><circle cx='402.4' cy='480.8' r='4.75'/><circle cx='443.7' cy='442.1' r='4.75'/><circle cx='367.7' cy='491.8' r='4.75'/><circle cx='380.8' cy='487.3' r='4.75'/><circle cx='375.2' cy='492.7' r='4.75'/><circle cx='466.0' cy='409.2' r='4.75'/><circle cx='384.2' cy='491.6' r='4.75'/><circle cx='375.5' cy='493.8' r='4.75'/><circle cx='395.9' cy='479.6' r='4.75'/><circle cx='350.7' cy='501.7' r='4.75'/><circle cx='370.3' cy='502.7' r='4.75'/><circle cx='357.2' cy='515.9' r='4.75'/><circle cx='415.5' cy='454.3' r='4.75'/><circle cx='444.4' cy='448.0' r='4.75'/><circle cx='472.8' cy='397.4' r='4.75'/><circle cx='510.3' cy='371.2' r='4.75'/><circle cx='435.9' cy='452.5' r='4.75'/><circle cx='464.8' cy='411.5' r='4.75'/><circle cx='491.1' cy='400.9' r='4.75'/><circle cx='500.9' cy='383.9' r='4.75'/><circle cx='402.4' cy='473.0' r='4.75'/><circle cx='476.1' cy='408.0' r='4.75'/><circle cx='508.0' cy='371.8' r='4.75'/><circle cx='474.9' cy='406.5' r='4.75'/><circle cx='486.8' cy='395.5' r='4.75'/><circle cx='514.7' cy='368.9' r='4.75'/><circle cx='344.8' cy='510.9' r='4.75'/><circle cx='424.3' cy='454.5' r='4.75'/><circle cx='478.2' cy='398.2' r='4.75'/><circle cx='406.3' cy='466.5' r='4.75'/><circle cx='431.8' cy='443.6' r='4.75'/><circle cx='430.4' cy='447.4' r='4.75'/><circle cx='431.7' cy='462.4' r='4.75'/><circle cx='329.3' cy='519.6' r='4.75'/><circle cx='362.4' cy='505.2' r='4.75'/><circle cx='399.0' cy='479.3' r='4.75'/><circle cx='465.1' cy='414.0' r='4.75'/><circle cx='493.6' cy='389.9' r='4.75'/><circle cx='488.5' cy='388.8' r='4.75'/><circle cx='431.6' cy='457.6' r='4.75'/><circle cx='467.4' cy='413.2' r='4.75'/><circle cx='374.2' cy='497.7' r='4.75'/><circle cx='387.2' cy='482.5' r='4.75'/><circle cx='489.0' cy='397.1' r='4.75'/><circle cx='504.8' cy='380.4' r='4.75'/><circle cx='352.1' cy='511.4' r='4.75'/><circle cx='398.6' cy='466.8' r='4.75'/><circle cx='362.4' cy='510.7' r='4.75'/><circle cx='370.6' cy='499.8' r='4.75'/><circle cx='512.1' cy='377.1' r='4.75'/><circle cx='438.6' cy='449.4' r='4.75'/><circle cx='489.4' cy='399.2' r='4.75'/><circle cx='367.2' cy='504.3' r='4.75'/><circle cx='423.3' cy='458.9' r='4.75'/><circle cx='343.9' cy='516.7' r='4.75'/><circle cx='515.1' cy='368.5' r='4.75'/><circle cx='431.1' cy='468.4' r='4.75'/><circle cx='336.7' cy='513.9' r='4.75'/><circle cx='404.1' cy='482.0' r='4.75'/><circle cx='370.5' cy='498.2' r='4.75'/><circle cx='507.1' cy='374.2' r='4.75'/><circle cx='396.4' cy='489.7' r='4.75'/><circle cx='504.2' cy='383.0' r='4.75'/><circle cx='334.9' cy='518.5' r='4.75'/><circle cx='432.1' cy='458.3' r='4.75'/><circle cx='360.0' cy='511.4' r='4.75'/><circle cx='432.5' cy='460.7' r='4.75'/><circle cx='461.4' cy='405.5' r='4.75'/><circle cx='468.5' cy='414.1' r='4.75'/><circle cx='484.9' cy='395.4' r='4.75'/><circle cx='464.8' cy='412.9' r='4.75'/><circle cx='368.3' cy='496.3' r='4.75'/><circle cx='442.0' cy='447.7' r='4.75'/><circle cx='469.7' cy='407.6' r='4.75'/><circle cx='443.9' cy='443.3' r='4.75'/><circle cx='435.8' cy='444.9' r='4.75'/><circle cx='443.9' cy='437.4' r='4.75'/><circle cx='517.7' cy='371.9' r='4.75'/><circle cx='506.6' cy='377.7' r='4.75'/><circle cx='371.1' cy='504.4' r='4.75'/><circle cx='517.4' cy='367.7' r='4.75'/><circle cx='512.0' cy='371.7' r='4.75'/><circle cx='327.5' cy='522.1' r='4.75'/><circle cx='345.4' cy='509.6' r='4.75'/><circle cx='352.2' cy='517.7' r='4.75'/><circle cx='502.6' cy='387.4' r='4.75'/><circle cx='423.1' cy='461.9' r='4.75'/><circle cx='387.1' cy='483.5' r='4.75'/><circle cx='392.7' cy='483.4' r='4.75'/><circle cx='491.8' cy='392.9' r='4.75'/><circle cx='364.5' cy='503.9' r='4.75'/><circle cx='509.3' cy='375.9' r='4.75'/><circle cx='463.2' cy='412.3' r='4.75'/><circle cx='353.8' cy='501.3' r='4.75'/><circle cx='410.4' cy='462.9' r='4.75'/><circle cx='448.2' cy='443.2' r='4.75'/><circle cx='335.6' cy='519.7' r='4.75'/><circle cx='368.0' cy='510.6' r='4.75'/><circle cx='499.3' cy='390.6' r='4.75'/><circle cx='500.3' cy='383.8' r='4.75'/><circle cx='508.7' cy='372.4' r='4.75'/><circle cx='374.5' cy='494.8' r='4.75'/><circle cx='501.7' cy='386.9' r='4.75'/><circle cx='473.5' cy='403.5' r='4.75'/><circle cx='444.1' cy='450.4' r='4.75'/><circle cx='391.8' cy='478.9' r='4.75'/><circle cx='365.5' cy='504.0' r='4.75'/><circle cx='380.3' cy='489.7' r='4.75'/><circle cx='344.2' cy='507.2' r='4.75'/><circle cx='425.7' cy='462.6' r='4.75'/><circle cx='501.9' cy='375.6' r='4.75'/><circle cx='504.4' cy='378.1' r='4.75'/><circle cx='448.3' cy='445.7' r='4.75'/><circle cx='435.4' cy='450.9' r='4.75'/><circle cx='489.0' cy='401.8' r='4.75'/><circle cx='513.7' cy='369.5' r='4.75'/><circle cx='342.7' cy='513.3' r='4.75'/><circle cx='340.0' cy='518.6' r='4.75'/><circle cx='477.2' cy='403.4' r='4.75'/><circle cx='351.9' cy='509.7' r='4.75'/><circle cx='499.6' cy='390.8' r='4.75'/><circle cx='385.9' cy='482.7' r='4.75'/><circle cx='337.8' cy='520.0' r='4.75'/><circle cx='425.7' cy='456.4' r='4.75'/><circle cx='349.1' cy='507.8' r='4.75'/><circle cx='351.8' cy='515.4' r='4.75'/><circle cx='394.1' cy='475.5' r='4.75'/><circle cx='418.9' cy='462.4' r='4.75'/><circle cx='345.6' cy='515.9' r='4.75'/><circle cx='476.2' cy='400.4' r='4.75'/><circle cx='489.1' cy='396.8' r='4.75'/><circle cx='372.6' cy='497.9' r='4.75'/><circle cx='349.7' cy='513.9' r='4.75'/><circle cx='445.2' cy='443.0' r='4.75'/><circle cx='380.6' cy='477.3' r='4.75'/><circle cx='396.9' cy='480.1' r='4.75'/><circle cx='362.3' cy='493.7' r='4.75'/><circle cx='445.4' cy='446.1' r='4.75'/><circle cx='366.6' cy='503.7' r='4.75'/><circle cx='442.3' cy='448.2' r='4.75'/><circle cx='481.6' cy='395.1' r='4.75'/><circle cx='507.0' cy='381.4' r='4.75'/><circle cx='396.7' cy='474.5' r='4.75'/><circle cx='506.0' cy='376.8' r='4.75'/><circle cx='498.2' cy='389.8' r='4.75'/><circle cx='412.8' cy='476.2' r='4.75'/><circle cx='355.2' cy='516.3' r='4.75'/><circle cx='474.0' cy='400.2' r='4.75'/><circle cx='386.7' cy='491.0' r='4.75'/><circle cx='471.9' cy='405.9' r='4.75'/><circle cx='388.6' cy='469.7' r='4.75'/><circle cx='483.0' cy='395.6' r='4.75'/><circle cx='353.8' cy='504.6' r='4.75'/><circle cx='375.6' cy='492.9' r='4.75'/><circle cx='501.2' cy='384.0' r='4.75'/><circle cx='399.8' cy='485.1' r='4.75'/><circle cx='401.5' cy='478.6' r='4.75'/><circle cx='334.4' cy='516.8' r='4.75'/><circle cx='384.2' cy='489.4' r='4.75'/><circle cx='495.9' cy='385.7' r='4.75'/><circle cx='503.7' cy='386.9' r='4.75'/><circle cx='371.1' cy='492.7' r='4.75'/><circle cx='420.5' cy='451.9' r='4.75'/><circle cx='514.5' cy='374.3' r='4.75'/><circle cx='372.6' cy='495.3' r='4.75'/><circle cx='350.7' cy='508.3' r='4.75'/><circle cx='490.1' cy='397.8' r='4.75'/><circle cx='353.5' cy='507.3' r='4.75'/><circle cx='436.5' cy='447.5' r='4.75'/><circle cx='471.2' cy='402.9' r='4.75'/><circle cx='383.9' cy='472.8' r='4.75'/><circle cx='440.2' cy='442.9' r='4.75'/><circle cx='375.3' cy='484.4' r='4.75'/><circle cx='373.0' cy='489.8' r='4.75'/><circle cx='339.8' cy='518.6' r='4.75'/><circle cx='390.7' cy='479.5' r='4.75'/><circle cx='362.0' cy='502.5' r='4.75'/><circle cx='351.9' cy='506.5' r='4.75'/><circle cx='366.8' cy='493.9' r='4.75'/><circle cx='511.8' cy='375.7' r='4.75'/><circle cx='504.5' cy='373.2' r='4.75'/><circle cx='468.2' cy='399.6' r='4.75'/><circle cx='510.8' cy='371.3' r='4.75'/><circle cx='379.7' cy='493.0' r='4.75'/><circle cx='441.5' cy='447.1' r='4.75'/><circle cx='383.4' cy='490.6' r='4.75'/><circle cx='507.3' cy='387.9' r='4.75'/><circle cx='504.8' cy='374.5' r='4.75'/><circle cx='438.5' cy='445.2' r='4.75'/><circle cx='369.2' cy='500.7' r='4.75'/><circle cx='483.7' cy='393.9' r='4.75'/><circle cx='490.2' cy='399.4' r='4.75'/><circle cx='511.4' cy='370.2' r='4.75'/><circle cx='413.3' cy='460.7' r='4.75'/><circle cx='384.4' cy='483.2' r='4.75'/><circle cx='514.9' cy='372.4' r='4.75'/><circle cx='489.8' cy='390.5' r='4.75'/><circle cx='516.6' cy='366.9' r='4.75'/><circle cx='505.1' cy='388.9' r='4.75'/><circle cx='492.8' cy='389.9' r='4.75'/><circle cx='327.6' cy='522.9' r='4.75'/><circle cx='489.4' cy='396.4' r='4.75'/><circle cx='426.3' cy='457.2' r='4.75'/><circle cx='355.1' cy='514.7' r='4.75'/><circle cx='445.9' cy='446.1' r='4.75'/><circle cx='446.8' cy='442.4' r='4.75'/><circle cx='511.1' cy='379.7' r='4.75'/><circle cx='393.9' cy='477.8' r='4.75'/><circle cx='506.2' cy='375.6' r='4.75'/><circle cx='418.1' cy='454.9' r='4.75'/><circle cx='337.6' cy='522.7' r='4.75'/><circle cx='466.2' cy='405.3' r='4.75'/><circle cx='476.6' cy='395.6' r='4.75'/><circle cx='330.9' cy='520.3' r='4.75'/><circle cx='484.3' cy='398.2' r='4.75'/><circle cx='442.1' cy='445.5' r='4.75'/><circle cx='404.5' cy='472.7' r='4.75'/><circle cx='401.0' cy='470.7' r='4.75'/><circle cx='390.1' cy='477.8' r='4.75'/><circle cx='350.8' cy='509.0' r='4.75'/><circle cx='408.2' cy='466.1' r='4.75'/><circle cx='394.7' cy='459.2' r='4.75'/><circle cx='385.1' cy='479.6' r='4.75'/><circle cx='475.0' cy='389.6' r='4.75'/><circle cx='507.1' cy='385.5' r='4.75'/><circle cx='342.6' cy='510.0' r='4.75'/><circle cx='506.5' cy='383.0' r='4.75'/><circle cx='436.6' cy='450.9' r='4.75'/><circle cx='372.3' cy='490.5' r='4.75'/><circle cx='406.4' cy='468.6' r='4.75'/><circle cx='354.0' cy='503.2' r='4.75'/><circle cx='449.8' cy='437.1' r='4.75'/><circle cx='350.9' cy='509.3' r='4.75'/><circle cx='417.8' cy='468.1' r='4.75'/><circle cx='369.3' cy='497.4' r='4.75'/><circle cx='363.4' cy='493.4' r='4.75'/><circle cx='493.2' cy='392.0' r='4.75'/><circle cx='474.1' cy='404.0' r='4.75'/><circle cx='388.7' cy='481.2' r='4.75'/><circle cx='501.8' cy='384.5' r='4.75'/><circle cx='445.1' cy='445.0' r='4.75'/><circle cx='489.3' cy='396.0' r='4.75'/><circle cx='337.6' cy='515.9' r='4.75'/><circle cx='412.4' cy='463.0' r='4.75'/><circle cx='360.5' cy='504.9' r='4.75'/><circle cx='350.4' cy='514.2' r='4.75'/><circle cx='500.4' cy='397.4' r='4.75'/><circle cx='502.9' cy='381.9' r='4.75'/><circle cx='510.7' cy='375.6' r='4.75'/><circle cx='361.9' cy='498.3' r='4.75'/><circle cx='419.9' cy='472.2' r='4.75'/><circle cx='341.2' cy='516.9' r='4.75'/><circle cx='479.4' cy='401.8' r='4.75'/><circle cx='370.2' cy='503.0' r='4.75'/><circle cx='480.5' cy='395.6' r='4.75'/><circle cx='349.5' cy='513.5' r='4.75'/><circle cx='365.8' cy='494.9' r='4.75'/><circle cx='392.2' cy='478.0' r='4.75'/><circle cx='414.2' cy='465.0' r='4.75'/><circle cx='468.3' cy='418.8' r='4.75'/><circle cx='345.5' cy='516.2' r='4.75'/><circle cx='503.8' cy='375.3' r='4.75'/><circle cx='433.9' cy='446.0' r='4.75'/><circle cx='379.6' cy='487.1' r='4.75'/><circle cx='408.2' cy='477.6' r='4.75'/><circle cx='438.5' cy='449.2' r='4.75'/><circle cx='397.4' cy='483.1' r='4.75'/><circle cx='517.3' cy='367.8' r='4.75'/><circle cx='358.5' cy='508.0' r='4.75'/><circle cx='492.3' cy='400.3' r='4.75'/><circle cx='403.6' cy='473.3' r='4.75'/><circle cx='385.5' cy='494.7' r='4.75'/><circle cx='358.5' cy='490.4' r='4.75'/><circle cx='328.1' cy='523.0' r='4.75'/><circle cx='443.1' cy='438.7' r='4.75'/><circle cx='395.8' cy='476.6' r='4.75'/><circle cx='365.8' cy='490.6' r='4.75'/><circle cx='371.8' cy='483.8' r='4.75'/><circle cx='472.4' cy='407.3' r='4.75'/><circle cx='472.7' cy='404.8' r='4.75'/><circle cx='499.3' cy='388.4' r='4.75'/><circle cx='427.6' cy='455.9' r='4.75'/><circle cx='364.4' cy='507.5' r='4.75'/><circle cx='368.9' cy='494.2' r='4.75'/><circle cx='412.6' cy='464.7' r='4.75'/><circle cx='358.2' cy='507.6' r='4.75'/><circle cx='445.5' cy='441.9' r='4.75'/><circle cx='374.1' cy='495.2' r='4.75'/><circle cx='471.9' cy='400.2' r='4.75'/><circle cx='412.4' cy='470.2' r='4.75'/><circle cx='375.5' cy='489.3' r='4.75'/><circle cx='423.2' cy='463.7' r='4.75'/><circle cx='427.1' cy='468.5' r='4.75'/><circle cx='433.3' cy='443.2' r='4.75'/><circle cx='437.1' cy='454.2' r='4.75'/><circle cx='341.1' cy='517.4' r='4.75'/><circle cx='401.0' cy='482.2' r='4.75'/><circle cx='419.5' cy='471.3' r='4.75'/><circle cx='397.1' cy='478.8' r='4.75'/><circle cx='481.3' cy='403.1' r='4.75'/><circle cx='383.7' cy='485.9' r='4.75'/><circle cx='417.1' cy='470.4' r='4.75'/><circle cx='436.2' cy='449.0' r='4.75'/><circle cx='503.7' cy='385.5' r='4.75'/><circle cx='447.1' cy='442.3' r='4.75'/><circle cx='391.3' cy='476.2' r='4.75'/><circle cx='411.1' cy='473.9' r='4.75'/><circle cx='482.7' cy='392.3' r='4.75'/><circle cx='465.3' cy='410.9' r='4.75'/><circle cx='507.6' cy='375.0' r='4.75'/><circle cx='397.4' cy='466.0' r='4.75'/><circle cx='365.5' cy='508.7' r='4.75'/><circle cx='355.2' cy='509.9' r='4.75'/><circle cx='498.2' cy='394.0' r='4.75'/><circle cx='343.8' cy='517.7' r='4.75'/><circle cx='474.7' cy='398.2' r='4.75'/><circle cx='509.6' cy='375.7' r='4.75'/><circle cx='501.0' cy='384.1' r='4.75'/><circle cx='383.8' cy='472.9' r='4.75'/><circle cx='406.2' cy='484.8' r='4.75'/><circle cx='473.0' cy='403.4' r='4.75'/><circle cx='513.8' cy='369.5' r='4.75'/><circle cx='427.5' cy='459.7' r='4.75'/><circle cx='488.3' cy='401.3' r='4.75'/><circle cx='502.2' cy='380.6' r='4.75'/><circle cx='509.3' cy='376.8' r='4.75'/><circle cx='406.7' cy='464.8' r='4.75'/><circle cx='361.8' cy='506.7' r='4.75'/><circle cx='367.2' cy='503.2' r='4.75'/><circle cx='345.8' cy='517.5' r='4.75'/><circle cx='419.3' cy='461.6' r='4.75'/><circle cx='337.1' cy='518.8' r='4.75'/><circle cx='436.3' cy='449.9' r='4.75'/><circle cx='463.3' cy='409.3' r='4.75'/><circle cx='505.7' cy='374.4' r='4.75'/><circle cx='497.0' cy='386.7' r='4.75'/><circle cx='470.1' cy='399.2' r='4.75'/><circle cx='438.2' cy='447.0' r='4.75'/><circle cx='492.1' cy='395.2' r='4.75'/><circle cx='501.6' cy='373.4' r='4.75'/><circle cx='327.2' cy='517.8' r='4.75'/><circle cx='442.3' cy='441.4' r='4.75'/><circle cx='443.2' cy='446.7' r='4.75'/><circle cx='505.6' cy='383.7' r='4.75'/><circle cx='352.8' cy='509.1' r='4.75'/><circle cx='443.5' cy='436.0' r='4.75'/><circle cx='386.7' cy='485.3' r='4.75'/><circle cx='342.3' cy='511.4' r='4.75'/><circle cx='418.5' cy='456.4' r='4.75'/><circle cx='468.2' cy='412.8' r='4.75'/><circle cx='482.9' cy='396.0' r='4.75'/><circle cx='499.3' cy='384.8' r='4.75'/><circle cx='466.4' cy='409.7' r='4.75'/><circle cx='440.3' cy='455.5' r='4.75'/><circle cx='357.0' cy='505.3' r='4.75'/><circle cx='501.3' cy='384.5' r='4.75'/><circle cx='429.2' cy='450.2' r='4.75'/><circle cx='392.6' cy='484.8' r='4.75'/><circle cx='382.1' cy='480.5' r='4.75'/><circle cx='463.4' cy='385.2' r='4.75'/><circle cx='356.6' cy='490.7' r='4.75'/><circle cx='417.4' cy='450.4' r='4.75'/><circle cx='441.1' cy='452.7' r='4.75'/><circle cx='399.1' cy='474.2' r='4.75'/><circle cx='350.2' cy='515.2' r='4.75'/><circle cx='509.3' cy='378.6' r='4.75'/><circle cx='336.2' cy='515.6' r='4.75'/><circle cx='512.3' cy='375.6' r='4.75'/><circle cx='389.9' cy='480.6' r='4.75'/><circle cx='386.5' cy='483.9' r='4.75'/><circle cx='411.7' cy='462.6' r='4.75'/><circle cx='510.7' cy='380.0' r='4.75'/><circle cx='421.2' cy='481.6' r='4.75'/><circle cx='380.2' cy='488.0' r='4.75'/><circle cx='484.2' cy='386.9' r='4.75'/><circle cx='365.5' cy='490.7' r='4.75'/><circle cx='367.8' cy='492.7' r='4.75'/><circle cx='356.8' cy='504.4' r='4.75'/><circle cx='340.1' cy='514.6' r='4.75'/><circle cx='508.0' cy='374.6' r='4.75'/><circle cx='422.5' cy='465.0' r='4.75'/><circle cx='359.6' cy='510.3' r='4.75'/><circle cx='482.2' cy='404.9' r='4.75'/><circle cx='369.3' cy='497.5' r='4.75'/><circle cx='331.9' cy='519.9' r='4.75'/><circle cx='499.2' cy='377.2' r='4.75'/><circle cx='328.4' cy='520.0' r='4.75'/><circle cx='489.2' cy='396.9' r='4.75'/><circle cx='340.3' cy='515.0' r='4.75'/><circle cx='416.0' cy='471.6' r='4.75'/><circle cx='347.7' cy='519.8' r='4.75'/><circle cx='415.9' cy='463.0' r='4.75'/><circle cx='437.1' cy='446.4' r='4.75'/><circle cx='405.5' cy='476.7' r='4.75'/><circle cx='358.3' cy='495.6' r='4.75'/><circle cx='473.9' cy='410.5' r='4.75'/><circle cx='462.7' cy='405.5' r='4.75'/><circle cx='372.5' cy='489.2' r='4.75'/><circle cx='328.0' cy='522.0' r='4.75'/><circle cx='388.8' cy='467.3' r='4.75'/><circle cx='485.1' cy='384.3' r='4.75'/><circle cx='362.2' cy='492.8' r='4.75'/><circle cx='435.6' cy='450.9' r='4.75'/><circle cx='330.1' cy='518.4' r='4.75'/><circle cx='479.1' cy='401.1' r='4.75'/><circle cx='358.0' cy='505.3' r='4.75'/><circle cx='383.2' cy='498.0' r='4.75'/><circle cx='373.0' cy='501.9' r='4.75'/><circle cx='497.2' cy='387.6' r='4.75'/><circle cx='344.0' cy='513.5' r='4.75'/><circle cx='348.1' cy='514.9' r='4.75'/><circle cx='464.9' cy='409.6' r='4.75'/><circle cx='515.6' cy='367.5' r='4.75'/><circle cx='370.5' cy='503.9' r='4.75'/><circle cx='417.4' cy='460.0' r='4.75'/><circle cx='432.8' cy='447.5' r='4.75'/><circle cx='419.4' cy='465.0' r='4.75'/><circle cx='511.6' cy='379.8' r='4.75'/><circle cx='328.2' cy='522.1' r='4.75'/><circle cx='379.1' cy='492.7' r='4.75'/><circle cx='329.6' cy='521.0' r='4.75'/><circle cx='442.0' cy='449.7' r='4.75'/><circle cx='403.9' cy='468.5' r='4.75'/><circle cx='383.0' cy='494.6' r='4.75'/><circle cx='502.6' cy='377.4' r='4.75'/><circle cx='338.4' cy='512.1' r='4.75'/><circle cx='420.3' cy='460.8' r='4.75'/><circle cx='411.7' cy='475.2' r='4.75'/><circle cx='391.4' cy='473.2' r='4.75'/><circle cx='469.4' cy='402.9' r='4.75'/><circle cx='350.2' cy='509.8' r='4.75'/><circle cx='409.6' cy='466.4' r='4.75'/><circle cx='351.2' cy='503.7' r='4.75'/><circle cx='353.9' cy='514.8' r='4.75'/><circle cx='362.6' cy='499.6' r='4.75'/><circle cx='439.3' cy='453.5' r='4.75'/><circle cx='506.1' cy='381.5' r='4.75'/><circle cx='377.5' cy='487.4' r='4.75'/><circle cx='401.3' cy='467.5' r='4.75'/><circle cx='405.2' cy='471.4' r='4.75'/><circle cx='414.6' cy='467.4' r='4.75'/><circle cx='358.0' cy='494.9' r='4.75'/><circle cx='381.5' cy='477.8' r='4.75'/><circle cx='502.8' cy='383.3' r='4.75'/><circle cx='409.3' cy='464.5' r='4.75'/><circle cx='358.3' cy='501.7' r='4.75'/><circle cx='514.2' cy='371.6' r='4.75'/><circle cx='401.1' cy='473.6' r='4.75'/><circle cx='380.0' cy='484.3' r='4.75'/><circle cx='485.5' cy='399.3' r='4.75'/><circle cx='415.3' cy='474.6' r='4.75'/><circle cx='390.7' cy='478.6' r='4.75'/><circle cx='381.8' cy='478.5' r='4.75'/><circle cx='411.6' cy='465.8' r='4.75'/><circle cx='368.9' cy='492.7' r='4.75'/><circle cx='498.6' cy='391.5' r='4.75'/><circle cx='347.5' cy='520.5' r='4.75'/><circle cx='353.4' cy='517.9' r='4.75'/><circle cx='414.3' cy='473.6' r='4.75'/><circle cx='342.5' cy='516.6' r='4.75'/><circle cx='423.1' cy='476.4' r='4.75'/><circle cx='482.2' cy='406.2' r='4.75'/><circle cx='361.4' cy='499.6' r='4.75'/><circle cx='477.4' cy='398.1' r='4.75'/><circle cx='386.1' cy='498.3' r='4.75'/><circle cx='341.8' cy='514.7' r='4.75'/><circle cx='333.0' cy='521.8' r='4.75'/><circle cx='358.7' cy='504.7' r='4.75'/><circle cx='437.4' cy='436.0' r='4.75'/><circle cx='464.4' cy='408.6' r='4.75'/><circle cx='387.3' cy='478.0' r='4.75'/><circle cx='385.5' cy='478.4' r='4.75'/><circle cx='393.4' cy='476.1' r='4.75'/><circle cx='422.7' cy='469.1' r='4.75'/><circle cx='383.2' cy='488.9' r='4.75'/><circle cx='442.1' cy='440.8' r='4.75'/><circle cx='363.5' cy='509.0' r='4.75'/><circle cx='518.3' cy='367.1' r='4.75'/><circle cx='331.4' cy='519.2' r='4.75'/><circle cx='490.2' cy='383.6' r='4.75'/><circle cx='503.2' cy='388.4' r='4.75'/><circle cx='408.4' cy='460.2' r='4.75'/><circle cx='450.7' cy='438.6' r='4.75'/><circle cx='339.7' cy='514.4' r='4.75'/><circle cx='425.4' cy='457.8' r='4.75'/><circle cx='423.1' cy='453.4' r='4.75'/><circle cx='446.7' cy='447.7' r='4.75'/><circle cx='422.9' cy='458.8' r='4.75'/><circle cx='421.2' cy='457.8' r='4.75'/><circle cx='395.4' cy='478.0' r='4.75'/><circle cx='413.4' cy='464.0' r='4.75'/><circle cx='350.5' cy='504.8' r='4.75'/><circle cx='386.7' cy='488.2' r='4.75'/><circle cx='358.9' cy='492.0' r='4.75'/><circle cx='472.0' cy='406.0' r='4.75'/><circle cx='371.1' cy='492.1' r='4.75'/><circle cx='509.8' cy='374.0' r='4.75'/><circle cx='415.5' cy='459.9' r='4.75'/><circle cx='419.2' cy='453.5' r='4.75'/><circle cx='376.4' cy='495.9' r='4.75'/><circle cx='492.3' cy='394.6' r='4.75'/><circle cx='463.1' cy='417.8' r='4.75'/><circle cx='373.6' cy='489.8' r='4.75'/><circle cx='361.1' cy='508.8' r='4.75'/><circle cx='479.1' cy='403.8' r='4.75'/><circle cx='336.9' cy='517.7' r='4.75'/><circle cx='439.3' cy='445.2' r='4.75'/><circle cx='399.3' cy='475.7' r='4.75'/><circle cx='484.9' cy='397.3' r='4.75'/><circle cx='438.8' cy='469.1' r='4.75'/><circle cx='418.6' cy='455.6' r='4.75'/><circle cx='480.6' cy='392.8' r='4.75'/><circle cx='367.3' cy='497.7' r='4.75'/><circle cx='431.0' cy='464.6' r='4.75'/><circle cx='468.7' cy='406.0' r='4.75'/><circle cx='401.5' cy='463.4' r='4.75'/><circle cx='339.3' cy='512.1' r='4.75'/><circle cx='501.5' cy='386.9' r='4.75'/><circle cx='467.7' cy='403.5' r='4.75'/><circle cx='344.8' cy='517.0' r='4.75'/><circle cx='448.6' cy='434.4' r='4.75'/><circle cx='416.4' cy='464.2' r='4.75'/><circle cx='385.0' cy='482.1' r='4.75'/><circle cx='332.6' cy='520.2' r='4.75'/><circle cx='510.6' cy='376.7' r='4.75'/><circle cx='335.1' cy='521.4' r='4.75'/><circle cx='343.1' cy='517.4' r='4.75'/><circle cx='437.9' cy='448.5' r='4.75'/><circle cx='386.1' cy='482.9' r='4.75'/><circle cx='335.9' cy='515.7' r='4.75'/><circle cx='482.1' cy='385.2' r='4.75'/><circle cx='344.5' cy='510.5' r='4.75'/><circle cx='397.3' cy='471.7' r='4.75'/><circle cx='428.6' cy='457.1' r='4.75'/><circle cx='483.9' cy='393.3' r='4.75'/><circle cx='392.6' cy='484.6' r='4.75'/><circle cx='332.0' cy='521.4' r='4.75'/><circle cx='474.2' cy='407.0' r='4.75'/><circle cx='484.0' cy='388.6' r='4.75'/><circle cx='426.1' cy='459.2' r='4.75'/><circle cx='386.7' cy='480.4' r='4.75'/><circle cx='448.8' cy='437.7' r='4.75'/><circle cx='425.8' cy='448.2' r='4.75'/><circle cx='405.6' cy='469.2' r='4.75'/><circle cx='498.2' cy='384.2' r='4.75'/><circle cx='471.9' cy='404.8' r='4.75'/><circle cx='489.2' cy='386.7' r='4.75'/><circle cx='379.0' cy='476.5' r='4.75'/><circle cx='462.6' cy='407.7' r='4.75'/><circle cx='366.6' cy='503.6' r='4.75'/><circle cx='334.8' cy='516.3' r='4.75'/><circle cx='368.4' cy='496.4' r='4.75'/><circle cx='415.6' cy='475.5' r='4.75'/><circle cx='503.1' cy='387.4' r='4.75'/><circle cx='511.3' cy='371.3' r='4.75'/><circle cx='343.1' cy='512.5' r='4.75'/><circle cx='400.7' cy='467.2' r='4.75'/><circle cx='368.0' cy='503.0' r='4.75'/><circle cx='437.1' cy='447.7' r='4.75'/><circle cx='508.3' cy='375.2' r='4.75'/><circle cx='492.2' cy='385.9' r='4.75'/><circle cx='332.4' cy='520.2' r='4.75'/><circle cx='347.9' cy='508.6' r='4.75'/><circle cx='391.3' cy='483.4' r='4.75'/><circle cx='499.6' cy='375.7' r='4.75'/><circle cx='343.9' cy='515.8' r='4.75'/><circle cx='341.7' cy='514.4' r='4.75'/><circle cx='513.3' cy='369.9' r='4.75'/><circle cx='398.8' cy='471.7' r='4.75'/><circle cx='333.0' cy='516.9' r='4.75'/><circle cx='369.1' cy='507.0' r='4.75'/><circle cx='439.4' cy='443.2' r='4.75'/><circle cx='510.2' cy='380.2' r='4.75'/><circle cx='355.7' cy='498.1' r='4.75'/><circle cx='483.1' cy='393.1' r='4.75'/><circle cx='365.0' cy='493.9' r='4.75'/><circle cx='513.2' cy='368.0' r='4.75'/><circle cx='355.0' cy='504.6' r='4.75'/><circle cx='501.2' cy='388.7' r='4.75'/><circle cx='342.9' cy='510.5' r='4.75'/><circle cx='391.2' cy='480.9' r='4.75'/><circle cx='407.6' cy='475.3' r='4.75'/><circle cx='477.8' cy='406.2' r='4.75'/><circle cx='508.2' cy='380.0' r='4.75'/><circle cx='341.3' cy='510.6' r='4.75'/><circle cx='432.2' cy='452.5' r='4.75'/><circle cx='345.4' cy='504.3' r='4.75'/><circle cx='335.5' cy='518.3' r='4.75'/><circle cx='343.2' cy='519.1' r='4.75'/><circle cx='518.1' cy='368.9' r='4.75'/><circle cx='435.9' cy='456.1' r='4.75'/><circle cx='347.0' cy='513.0' r='4.75'/><circle cx='438.9' cy='450.9' r='4.75'/><circle cx='432.3' cy='454.7' r='4.75'/><circle cx='486.8' cy='393.6' r='4.75'/><circle cx='511.2' cy='369.2' r='4.75'/><circle cx='481.1' cy='395.6' r='4.75'/><circle cx='377.1' cy='495.7' r='4.75'/><circle cx='411.0' cy='464.7' r='4.75'/><circle cx='483.7' cy='398.8' r='4.75'/><circle cx='405.1' cy='469.9' r='4.75'/><circle cx='346.0' cy='515.2' r='4.75'/><circle cx='486.2' cy='397.7' r='4.75'/><circle cx='364.3' cy='514.2' r='4.75'/><circle cx='479.3' cy='401.2' r='4.75'/><circle cx='482.0' cy='403.4' r='4.75'/><circle cx='493.2' cy='389.1' r='4.75'/><circle cx='358.8' cy='508.7' r='4.75'/><circle cx='466.3' cy='405.6' r='4.75'/><circle cx='380.1' cy='496.2' r='4.75'/><circle cx='465.4' cy='416.5' r='4.75'/><circle cx='498.7' cy='385.3' r='4.75'/><circle cx='379.1' cy='487.0' r='4.75'/><circle cx='477.6' cy='393.4' r='4.75'/><circle cx='476.6' cy='400.3' r='4.75'/><circle cx='434.7' cy='446.3' r='4.75'/><circle cx='420.3' cy='464.5' r='4.75'/><circle cx='352.1' cy='504.6' r='4.75'/><circle cx='428.8' cy='459.0' r='4.75'/><circle cx='473.9' cy='397.5' r='4.75'/><circle cx='333.2' cy='518.6' r='4.75'/><circle cx='367.3' cy='490.1' r='4.75'/><circle cx='418.8' cy='463.9' r='4.75'/><circle cx='368.0' cy='498.4' r='4.75'/><circle cx='384.9' cy='483.2' r='4.75'/><circle cx='466.0' cy='385.9' r='4.75'/><circle cx='505.0' cy='376.7' r='4.75'/><circle cx='434.4' cy='448.0' r='4.75'/><circle cx='422.9' cy='455.5' r='4.75'/><circle cx='490.2' cy='393.1' r='4.75'/><circle cx='411.2' cy='460.7' r='4.75'/><circle cx='465.0' cy='410.9' r='4.75'/><circle cx='503.7' cy='383.3' r='4.75'/><circle cx='485.5' cy='394.9' r='4.75'/><circle cx='350.7' cy='508.7' r='4.75'/><circle cx='328.6' cy='522.9' r='4.75'/><circle cx='356.3' cy='500.6' r='4.75'/><circle cx='481.7' cy='396.8' r='4.75'/><circle cx='418.8' cy='468.6' r='4.75'/><circle cx='464.7' cy='414.7' r='4.75'/><circle cx='491.2' cy='394.7' r='4.75'/><circle cx='350.2' cy='511.8' r='4.75'/><circle cx='440.7' cy='445.1' r='4.75'/><circle cx='515.8' cy='367.9' r='4.75'/><circle cx='493.1' cy='395.5' r='4.75'/><circle cx='333.3' cy='521.9' r='4.75'/><circle cx='419.7' cy='448.3' r='4.75'/><circle cx='438.6' cy='444.1' r='4.75'/><circle cx='474.8' cy='393.9' r='4.75'/><circle cx='390.9' cy='492.7' r='4.75'/><circle cx='479.0' cy='395.3' r='4.75'/><circle cx='382.1' cy='500.2' r='4.75'/><circle cx='428.4' cy='458.8' r='4.75'/><circle cx='349.0' cy='499.9' r='4.75'/><circle cx='388.2' cy='479.9' r='4.75'/><circle cx='438.0' cy='452.0' r='4.75'/><circle cx='447.6' cy='438.2' r='4.75'/><circle cx='496.7' cy='398.4' r='4.75'/><circle cx='489.9' cy='387.4' r='4.75'/><circle cx='486.9' cy='399.9' r='4.75'/><circle cx='427.1' cy='458.5' r='4.75'/><circle cx='420.1' cy='450.3' r='4.75'/><circle cx='366.9' cy='503.9' r='4.75'/><circle cx='421.0' cy='461.7' r='4.75'/><circle cx='492.3' cy='390.6' r='4.75'/><circle cx='338.3' cy='508.5' r='4.75'/><circle cx='423.5' cy='455.6' r='4.75'/><circle cx='405.2' cy='472.2' r='4.75'/><circle cx='389.9' cy='487.5' r='4.75'/><circle cx='422.7' cy='446.3' r='4.75'/><circle cx='503.4' cy='379.1' r='4.75'/><circle cx='494.7' cy='377.4' r='4.75'/><circle cx='499.5' cy='380.8' r='4.75'/><circle cx='439.6' cy='445.9' r='4.75'/><circle cx='475.4' cy='409.0' r='4.75'/><circle cx='398.3' cy='474.5' r='4.75'/><circle cx='344.2' cy='516.4' r='4.75'/><circle cx='439.7' cy='451.1' r='4.75'/><circle cx='416.1' cy='465.0' r='4.75'/><circle cx='390.0' cy='481.3' r='4.75'/><circle cx='348.8' cy='508.2' r='4.75'/><circle cx='389.1' cy='488.7' r='4.75'/><circle cx='363.6' cy='489.0' r='4.75'/><circle cx='491.4' cy='389.0' r='4.75'/><circle cx='409.3' cy='480.3' r='4.75'/><circle cx='496.4' cy='388.2' r='4.75'/><circle cx='383.8' cy='487.8' r='4.75'/><circle cx='386.8' cy='485.4' r='4.75'/><circle cx='339.1' cy='509.1' r='4.75'/><circle cx='486.7' cy='392.5' r='4.75'/><circle cx='368.1' cy='496.1' r='4.75'/><circle cx='402.4' cy='475.9' r='4.75'/><circle cx='477.6' cy='399.7' r='4.75'/><circle cx='484.9' cy='402.7' r='4.75'/><circle cx='344.8' cy='513.7' r='4.75'/><circle cx='439.1' cy='452.5' r='4.75'/><circle cx='403.5' cy='462.9' r='4.75'/><circle cx='433.8' cy='451.9' r='4.75'/><circle cx='491.0' cy='395.9' r='4.75'/><circle cx='499.2' cy='387.2' r='4.75'/><circle cx='446.1' cy='439.1' r='4.75'/><circle cx='473.2' cy='412.6' r='4.75'/><circle cx='381.1' cy='480.2' r='4.75'/><circle cx='367.7' cy='503.6' r='4.75'/><circle cx='511.4' cy='376.5' r='4.75'/><circle cx='418.5' cy='469.0' r='4.75'/><circle cx='477.0' cy='403.7' r='4.75'/><circle cx='404.6' cy='475.5' r='4.75'/><circle cx='327.3' cy='521.5' r='4.75'/><circle cx='478.6' cy='404.0' r='4.75'/><circle cx='467.0' cy='402.5' r='4.75'/><circle cx='478.1' cy='398.4' r='4.75'/><circle cx='435.5' cy='456.3' r='4.75'/><circle cx='399.6' cy='480.4' r='4.75'/><circle cx='352.7' cy='511.9' r='4.75'/><circle cx='363.6' cy='496.0' r='4.75'/><circle cx='419.2' cy='472.3' r='4.75'/><circle cx='468.4' cy='406.8' r='4.75'/><circle cx='342.1' cy='513.0' r='4.75'/><circle cx='473.0' cy='406.9' r='4.75'/><circle cx='368.7' cy='483.3' r='4.75'/><circle cx='381.9' cy='484.2' r='4.75'/><circle cx='498.3' cy='383.4' r='4.75'/><circle cx='444.6' cy='447.1' r='4.75'/><circle cx='425.3' cy='458.3' r='4.75'/><circle cx='371.8' cy='490.6' r='4.75'/><circle cx='514.6' cy='368.4' r='4.75'/><circle cx='356.5' cy='507.5' r='4.75'/><circle cx='363.7' cy='504.7' r='4.75'/><circle cx='387.4' cy='484.8' r='4.75'/><circle cx='471.8' cy='405.3' r='4.75'/><circle cx='340.8' cy='515.7' r='4.75'/><circle cx='440.0' cy='450.0' r='4.75'/><circle cx='385.3' cy='485.3' r='4.75'/><circle cx='413.2' cy='464.1' r='4.75'/><circle cx='434.2' cy='456.1' r='4.75'/><circle cx='412.4' cy='468.6' r='4.75'/><circle cx='452.2' cy='438.0' r='4.75'/><circle cx='506.6' cy='380.7' r='4.75'/><circle cx='400.0' cy='478.0' r='4.75'/><circle cx='409.6' cy='469.6' r='4.75'/><circle cx='481.5' cy='410.3' r='4.75'/><circle cx='352.2' cy='515.0' r='4.75'/><circle cx='399.1' cy='476.9' r='4.75'/><circle cx='338.7' cy='515.8' r='4.75'/><circle cx='513.6' cy='378.8' r='4.75'/><circle cx='435.8' cy='443.5' r='4.75'/><circle cx='405.7' cy='460.3' r='4.75'/><circle cx='412.2' cy='468.0' r='4.75'/><circle cx='431.1' cy='468.1' r='4.75'/><circle cx='431.7' cy='451.4' r='4.75'/><circle cx='490.9' cy='379.5' r='4.75'/><circle cx='354.5' cy='507.7' r='4.75'/><circle cx='502.6' cy='382.1' r='4.75'/><circle cx='392.9' cy='488.0' r='4.75'/><circle cx='391.9' cy='468.5' r='4.75'/><circle cx='515.0' cy='374.4' r='4.75'/><circle cx='354.3' cy='508.0' r='4.75'/><circle cx='482.9' cy='396.6' r='4.75'/><circle cx='408.5' cy='464.2' r='4.75'/><circle cx='355.0' cy='505.7' r='4.75'/><circle cx='509.9' cy='369.3' r='4.75'/><circle cx='360.5' cy='494.5' r='4.75'/><circle cx='377.3' cy='478.6' r='4.75'/><circle cx='498.5' cy='379.3' r='4.75'/><circle cx='394.1' cy='481.3' r='4.75'/><circle cx='386.7' cy='481.8' r='4.75'/><circle cx='495.8' cy='388.7' r='4.75'/><circle cx='486.9' cy='388.4' r='4.75'/><circle cx='417.9' cy='477.1' r='4.75'/><circle cx='345.8' cy='512.2' r='4.75'/><circle cx='397.4' cy='478.4' r='4.75'/><circle cx='449.7' cy='439.2' r='4.75'/><circle cx='358.1' cy='507.3' r='4.75'/><circle cx='481.4' cy='389.3' r='4.75'/><circle cx='473.2' cy='406.4' r='4.75'/><circle cx='420.6' cy='482.5' r='4.75'/><circle cx='372.3' cy='490.8' r='4.75'/><circle cx='349.0' cy='511.5' r='4.75'/><circle cx='496.7' cy='390.9' r='4.75'/><circle cx='483.3' cy='394.1' r='4.75'/><circle cx='380.2' cy='487.5' r='4.75'/><circle cx='418.9' cy='449.3' r='4.75'/><circle cx='354.8' cy='510.0' r='4.75'/><circle cx='491.9' cy='390.2' r='4.75'/><circle cx='410.9' cy='456.0' r='4.75'/><circle cx='448.7' cy='436.2' r='4.75'/><circle cx='500.9' cy='377.4' r='4.75'/><circle cx='441.3' cy='441.6' r='4.75'/><circle cx='372.3' cy='490.8' r='4.75'/><circle cx='399.7' cy='476.0' r='4.75'/><circle cx='504.1' cy='388.0' r='4.75'/><circle cx='440.2' cy='446.9' r='4.75'/><circle cx='432.7' cy='436.1' r='4.75'/><circle cx='325.8' cy='524.6' r='4.75'/><circle cx='479.1' cy='391.4' r='4.75'/><circle cx='478.9' cy='391.9' r='4.75'/><circle cx='446.6' cy='444.4' r='4.75'/><circle cx='480.7' cy='407.5' r='4.75'/><circle cx='360.6' cy='495.0' r='4.75'/><circle cx='483.4' cy='395.2' r='4.75'/><circle cx='474.3' cy='400.8' r='4.75'/><circle cx='377.8' cy='491.2' r='4.75'/><circle cx='506.2' cy='382.7' r='4.75'/><circle cx='336.2' cy='517.6' r='4.75'/><circle cx='361.3' cy='498.6' r='4.75'/><circle cx='380.6' cy='492.1' r='4.75'/><circle cx='378.8' cy='506.1' r='4.75'/><circle cx='428.1' cy='445.8' r='4.75'/><circle cx='333.6' cy='515.8' r='4.75'/><circle cx='509.3' cy='384.2' r='4.75'/><circle cx='369.2' cy='498.3' r='4.75'/><circle cx='382.2' cy='484.8' r='4.75'/><circle cx='514.4' cy='373.7' r='4.75'/><circle cx='355.0' cy='516.5' r='4.75'/><circle cx='494.4' cy='390.3' r='4.75'/><circle cx='348.6' cy='508.8' r='4.75'/><circle cx='514.7' cy='367.9' r='4.75'/><circle cx='417.9' cy='469.0' r='4.75'/><circle cx='399.8' cy='468.2' r='4.75'/><circle cx='396.0' cy='478.4' r='4.75'/><circle cx='403.3' cy='465.5' r='4.75'/><circle cx='494.8' cy='387.9' r='4.75'/><circle cx='417.4' cy='467.9' r='4.75'/><circle cx='436.0' cy='452.9' r='4.75'/><circle cx='437.1' cy='447.8' r='4.75'/><circle cx='497.2' cy='382.3' r='4.75'/><circle cx='466.3' cy='411.1' r='4.75'/><circle cx='355.2' cy='501.6' r='4.75'/><circle cx='337.2' cy='516.9' r='4.75'/><circle cx='412.5' cy='470.2' r='4.75'/><circle cx='329.9' cy='522.9' r='4.75'/><circle cx='471.1' cy='400.2' r='4.75'/><circle cx='487.8' cy='399.4' r='4.75'/><circle cx='506.8' cy='388.8' r='4.75'/><circle cx='443.5' cy='440.0' r='4.75'/><circle cx='362.9' cy='503.4' r='4.75'/><circle cx='492.1' cy='393.5' r='4.75'/><circle cx='399.2' cy='470.6' r='4.75'/><circle cx='340.9' cy='516.7' r='4.75'/><circle cx='422.2' cy='464.2' r='4.75'/><circle cx='386.0' cy='478.7' r='4.75'/><circle cx='386.2' cy='494.8' r='4.75'/><circle cx='480.8' cy='397.8' r='4.75'/><circle cx='388.2' cy='477.6' r='4.75'/><circle cx='419.5' cy='459.8' r='4.75'/><circle cx='442.1' cy='441.7' r='4.75'/><circle cx='486.9' cy='391.7' r='4.75'/><circle cx='442.0' cy='451.7' r='4.75'/><circle cx='363.9' cy='501.8' r='4.75'/><circle cx='467.7' cy='411.1' r='4.75'/><circle cx='497.6' cy='380.5' r='4.75'/><circle cx='439.4' cy='447.3' r='4.75'/><circle cx='427.9' cy='458.4' r='4.75'/><circle cx='466.8' cy='401.0' r='4.75'/><circle cx='347.2' cy='511.3' r='4.75'/><circle cx='352.7' cy='506.8' r='4.75'/><circle cx='423.8' cy='464.2' r='4.75'/><circle cx='485.9' cy='404.0' r='4.75'/><circle cx='473.8' cy='403.7' r='4.75'/><circle cx='355.6' cy='506.4' r='4.75'/><circle cx='440.4' cy='450.8' r='4.75'/><circle cx='485.8' cy='395.6' r='4.75'/><circle cx='473.9' cy='399.2' r='4.75'/><circle cx='399.4' cy='486.0' r='4.75'/><circle cx='491.2' cy='396.5' r='4.75'/><circle cx='421.1' cy='461.0' r='4.75'/><circle cx='446.2' cy='437.7' r='4.75'/><circle cx='372.6' cy='489.1' r='4.75'/><circle cx='427.8' cy='457.8' r='4.75'/><circle cx='370.9' cy='487.9' r='4.75'/><circle cx='400.5' cy='470.3' r='4.75'/><circle cx='499.0' cy='389.3' r='4.75'/><circle cx='413.2' cy='467.2' r='4.75'/><circle cx='417.0' cy='471.7' r='4.75'/><circle cx='515.7' cy='367.1' r='4.75'/><circle cx='333.9' cy='518.8' r='4.75'/><circle cx='378.0' cy='499.6' r='4.75'/><circle cx='359.4' cy='505.3' r='4.75'/><circle cx='449.2' cy='436.1' r='4.75'/><circle cx='461.8' cy='417.3' r='4.75'/><circle cx='352.0' cy='507.4' r='4.75'/><circle cx='465.8' cy='410.8' r='4.75'/><circle cx='492.1' cy='387.6' r='4.75'/><circle cx='491.1' cy='403.9' r='4.75'/><circle cx='383.8' cy='490.8' r='4.75'/><circle cx='468.0' cy='402.7' r='4.75'/><circle cx='362.1' cy='502.6' r='4.75'/><circle cx='445.1' cy='438.2' r='4.75'/><circle cx='337.4' cy='519.3' r='4.75'/><circle cx='437.3' cy='446.4' r='4.75'/><circle cx='409.5' cy='469.3' r='4.75'/><circle cx='367.8' cy='496.5' r='4.75'/><circle cx='394.9' cy='464.4' r='4.75'/><circle cx='386.1' cy='483.8' r='4.75'/><circle cx='414.3' cy='471.7' r='4.75'/><circle cx='409.3' cy='476.5' r='4.75'/><circle cx='476.9' cy='409.1' r='4.75'/><circle cx='421.3' cy='460.1' r='4.75'/><circle cx='420.2' cy='458.3' r='4.75'/><circle cx='485.6' cy='395.7' r='4.75'/><circle cx='499.6' cy='384.7' r='4.75'/><circle cx='426.9' cy='456.0' r='4.75'/><circle cx='419.2' cy='467.4' r='4.75'/><circle cx='435.2' cy='455.4' r='4.75'/><circle cx='406.7' cy='477.6' r='4.75'/><circle cx='370.5' cy='501.1' r='4.75'/><circle cx='504.5' cy='381.5' r='4.75'/><circle cx='410.6' cy='474.0' r='4.75'/><circle cx='479.7' cy='397.3' r='4.75'/><circle cx='481.4' cy='395.1' r='4.75'/><circle cx='433.1' cy='461.0' r='4.75'/><circle cx='391.7' cy='484.7' r='4.75'/><circle cx='333.8' cy='522.8' r='4.75'/><circle cx='510.7' cy='372.4' r='4.75'/><circle cx='427.5' cy='444.4' r='4.75'/><circle cx='363.8' cy='497.2' r='4.75'/><circle cx='375.7' cy='493.2' r='4.75'/><circle cx='490.4' cy='386.7' r='4.75'/><circle cx='345.9' cy='515.9' r='4.75'/><circle cx='499.2' cy='385.9' r='4.75'/><circle cx='431.6' cy='457.4' r='4.75'/><circle cx='395.4' cy='480.8' r='4.75'/><circle cx='477.3' cy='400.9' r='4.75'/><circle cx='503.9' cy='379.3' r='4.75'/><circle cx='496.2' cy='390.3' r='4.75'/><circle cx='389.1' cy='477.4' r='4.75'/><circle cx='436.4' cy='451.2' r='4.75'/><circle cx='481.3' cy='397.7' r='4.75'/><circle cx='429.4' cy='452.0' r='4.75'/><circle cx='367.9' cy='492.9' r='4.75'/><circle cx='478.8' cy='404.0' r='4.75'/><circle cx='401.6' cy='458.2' r='4.75'/><circle cx='444.2' cy='445.0' r='4.75'/><circle cx='415.6' cy='474.9' r='4.75'/><circle cx='337.4' cy='517.8' r='4.75'/><circle cx='421.3' cy='479.3' r='4.75'/><circle cx='334.8' cy='518.3' r='4.75'/><circle cx='383.0' cy='483.5' r='4.75'/><circle cx='490.8' cy='396.9' r='4.75'/><circle cx='506.8' cy='371.4' r='4.75'/><circle cx='393.4' cy='472.9' r='4.75'/><circle cx='416.5' cy='460.2' r='4.75'/><circle cx='494.9' cy='389.3' r='4.75'/><circle cx='344.4' cy='513.0' r='4.75'/><circle cx='369.7' cy='500.5' r='4.75'/><circle cx='353.1' cy='509.5' r='4.75'/><circle cx='515.1' cy='369.1' r='4.75'/><circle cx='335.0' cy='519.7' r='4.75'/><circle cx='354.6' cy='505.1' r='4.75'/><circle cx='506.7' cy='380.4' r='4.75'/><circle cx='356.9' cy='511.8' r='4.75'/><circle cx='346.6' cy='525.0' r='4.75'/><circle cx='446.7' cy='438.7' r='4.75'/><circle cx='495.7' cy='386.0' r='4.75'/><circle cx='360.7' cy='509.6' r='4.75'/><circle cx='495.7' cy='378.1' r='4.75'/><circle cx='513.4' cy='370.0' r='4.75'/><circle cx='447.1' cy='447.4' r='4.75'/><circle cx='377.6' cy='492.0' r='4.75'/><circle cx='487.6' cy='394.8' r='4.75'/><circle cx='483.1' cy='394.6' r='4.75'/><circle cx='397.2' cy='479.3' r='4.75'/><circle cx='372.9' cy='488.9' r='4.75'/><circle cx='495.2' cy='388.2' r='4.75'/><circle cx='495.2' cy='403.0' r='4.75'/><circle cx='511.7' cy='373.9' r='4.75'/><circle cx='381.8' cy='489.2' r='4.75'/><circle cx='373.5' cy='494.2' r='4.75'/><circle cx='352.7' cy='510.6' r='4.75'/><circle cx='467.5' cy='414.7' r='4.75'/><circle cx='467.1' cy='412.0' r='4.75'/><circle cx='441.4' cy='450.6' r='4.75'/><circle cx='470.5' cy='406.3' r='4.75'/><circle cx='512.2' cy='372.6' r='4.75'/><circle cx='464.1' cy='408.1' r='4.75'/><circle cx='491.5' cy='389.9' r='4.75'/><circle cx='491.4' cy='392.8' r='4.75'/><circle cx='348.0' cy='510.6' r='4.75'/><circle cx='416.7' cy='455.4' r='4.75'/><circle cx='326.9' cy='520.8' r='4.75'/><circle cx='351.9' cy='502.1' r='4.75'/><circle cx='357.1' cy='510.5' r='4.75'/><circle cx='449.7' cy='440.4' r='4.75'/><circle cx='498.6' cy='382.3' r='4.75'/><circle cx='400.0' cy='480.1' r='4.75'/><circle cx='476.4' cy='406.8' r='4.75'/><circle cx='499.5' cy='386.4' r='4.75'/><circle cx='345.8' cy='512.5' r='4.75'/><circle cx='366.6' cy='505.0' r='4.75'/><circle cx='355.3' cy='507.7' r='4.75'/><circle cx='351.8' cy='509.9' r='4.75'/><circle cx='449.8' cy='437.3' r='4.75'/><circle cx='408.8' cy='464.6' r='4.75'/><circle cx='472.3' cy='394.7' r='4.75'/><circle cx='459.7' cy='416.7' r='4.75'/><circle cx='373.5' cy='499.6' r='4.75'/><circle cx='422.7' cy='455.3' r='4.75'/><circle cx='431.7' cy='460.6' r='4.75'/><circle cx='501.3' cy='385.1' r='4.75'/><circle cx='431.5' cy='456.7' r='4.75'/><circle cx='392.5' cy='474.7' r='4.75'/><circle cx='360.5' cy='507.0' r='4.75'/><circle cx='358.3' cy='502.2' r='4.75'/><circle cx='354.7' cy='507.9' r='4.75'/><circle cx='418.6' cy='454.0' r='4.75'/><circle cx='513.2' cy='372.1' r='4.75'/><circle cx='375.4' cy='483.4' r='4.75'/><circle cx='424.1' cy='467.7' r='4.75'/><circle cx='355.6' cy='508.1' r='4.75'/><circle cx='433.5' cy='446.2' r='4.75'/><circle cx='383.1' cy='487.3' r='4.75'/><circle cx='429.1' cy='455.8' r='4.75'/><circle cx='402.5' cy='464.9' r='4.75'/><circle cx='430.7' cy='455.4' r='4.75'/><circle cx='474.7' cy='394.4' r='4.75'/><circle cx='475.4' cy='404.7' r='4.75'/><circle cx='331.2' cy='524.4' r='4.75'/><circle cx='504.2' cy='381.5' r='4.75'/><circle cx='497.7' cy='381.3' r='4.75'/><circle cx='501.3' cy='383.7' r='4.75'/><circle cx='396.5' cy='464.6' r='4.75'/><circle cx='427.1' cy='452.0' r='4.75'/><circle cx='461.8' cy='405.8' r='4.75'/><circle cx='494.4' cy='396.7' r='4.75'/><circle cx='498.8' cy='375.4' r='4.75'/><circle cx='430.3' cy='457.4' r='4.75'/><circle cx='394.8' cy='463.5' r='4.75'/><circle cx='485.7' cy='400.9' r='4.75'/><circle cx='432.3' cy='460.1' r='4.75'/><circle cx='371.0' cy='499.8' r='4.75'/><circle cx='369.7' cy='486.5' r='4.75'/><circle cx='412.7' cy='466.3' r='4.75'/><circle cx='412.3' cy='464.1' r='4.75'/><circle cx='495.3' cy='381.5' r='4.75'/><circle cx='470.6' cy='404.3' r='4.75'/><circle cx='412.5' cy='478.7' r='4.75'/><circle cx='496.8' cy='388.3' r='4.75'/><circle cx='427.4' cy='462.5' r='4.75'/><circle cx='447.0' cy='443.7' r='4.75'/><circle cx='362.9' cy='509.5' r='4.75'/><circle cx='404.0' cy='482.0' r='4.75'/><circle cx='515.6' cy='372.5' r='4.75'/><circle cx='388.8' cy='491.5' r='4.75'/><circle cx='485.4' cy='392.9' r='4.75'/><circle cx='390.5' cy='488.0' r='4.75'/><circle cx='351.1' cy='514.8' r='4.75'/><circle cx='464.9' cy='415.0' r='4.75'/><circle cx='443.2' cy='447.5' r='4.75'/><circle cx='361.1' cy='502.2' r='4.75'/><circle cx='429.3' cy='448.0' r='4.75'/><circle cx='506.2' cy='379.8' r='4.75'/><circle cx='482.0' cy='411.1' r='4.75'/><circle cx='399.7' cy='477.5' r='4.75'/><circle cx='378.4' cy='483.3' r='4.75'/><circle cx='380.9' cy='467.1' r='4.75'/><circle cx='332.6' cy='521.0' r='4.75'/><circle cx='329.4' cy='519.6' r='4.75'/><circle cx='478.5' cy='400.5' r='4.75'/><circle cx='341.9' cy='517.1' r='4.75'/><circle cx='366.3' cy='502.4' r='4.75'/><circle cx='412.0' cy='472.8' r='4.75'/><circle cx='503.2' cy='389.0' r='4.75'/><circle cx='378.9' cy='477.8' r='4.75'/><circle cx='413.4' cy='469.1' r='4.75'/><circle cx='484.7' cy='399.4' r='4.75'/><circle cx='516.4' cy='370.8' r='4.75'/><circle cx='368.3' cy='505.3' r='4.75'/><circle cx='441.2' cy='442.1' r='4.75'/><circle cx='464.1' cy='413.7' r='4.75'/><circle cx='423.5' cy='440.8' r='4.75'/><circle cx='414.6' cy='482.6' r='4.75'/><circle cx='389.5' cy='486.1' r='4.75'/><circle cx='500.3' cy='380.5' r='4.75'/><circle cx='505.9' cy='374.9' r='4.75'/><circle cx='423.3' cy='461.6' r='4.75'/><circle cx='389.1' cy='468.6' r='4.75'/><circle cx='415.4' cy='456.1' r='4.75'/><circle cx='384.3' cy='490.8' r='4.75'/><circle cx='410.4' cy='464.6' r='4.75'/><circle cx='487.3' cy='383.2' r='4.75'/><circle cx='512.8' cy='373.6' r='4.75'/><circle cx='441.2' cy='449.1' r='4.75'/><circle cx='359.9' cy='498.1' r='4.75'/><circle cx='369.8' cy='495.9' r='4.75'/><circle cx='404.4' cy='472.4' r='4.75'/><circle cx='346.6' cy='512.7' r='4.75'/><circle cx='482.1' cy='399.2' r='4.75'/><circle cx='363.2' cy='502.3' r='4.75'/><circle cx='363.8' cy='483.6' r='4.75'/><circle cx='429.0' cy='460.4' r='4.75'/><circle cx='371.2' cy='511.2' r='4.75'/><circle cx='360.0' cy='503.4' r='4.75'/><circle cx='507.6' cy='372.6' r='4.75'/><circle cx='402.4' cy='476.3' r='4.75'/><circle cx='404.5' cy='466.7' r='4.75'/><circle cx='437.9' cy='447.2' r='4.75'/><circle cx='378.1' cy='488.9' r='4.75'/><circle cx='410.0' cy='474.2' r='4.75'/><circle cx='440.0' cy='440.6' r='4.75'/><circle cx='488.9' cy='394.2' r='4.75'/><circle cx='470.2' cy='404.6' r='4.75'/><circle cx='377.1' cy='486.6' r='4.75'/><circle cx='461.0' cy='416.5' r='4.75'/><circle cx='477.2' cy='403.4' r='4.75'/><circle cx='442.4' cy='445.4' r='4.75'/><circle cx='461.1' cy='415.3' r='4.75'/><circle cx='345.1' cy='510.1' r='4.75'/><circle cx='495.3' cy='385.9' r='4.75'/><circle cx='432.5' cy='456.7' r='4.75'/><circle cx='351.0' cy='504.7' r='4.75'/><circle cx='384.8' cy='481.0' r='4.75'/><circle cx='427.8' cy='457.9' r='4.75'/><circle cx='441.7' cy='438.8' r='4.75'/><circle cx='362.4' cy='500.9' r='4.75'/><circle cx='426.7' cy='450.7' r='4.75'/><circle cx='378.3' cy='490.6' r='4.75'/><circle cx='477.2' cy='408.3' r='4.75'/><circle cx='436.7' cy='445.2' r='4.75'/><circle cx='356.7' cy='514.1' r='4.75'/><circle cx='474.4' cy='402.6' r='4.75'/><circle cx='476.3' cy='405.3' r='4.75'/><circle cx='433.4' cy='451.2' r='4.75'/><circle cx='394.7' cy='478.0' r='4.75'/><circle cx='370.9' cy='490.3' r='4.75'/><circle cx='414.0' cy='460.2' r='4.75'/><circle cx='426.4' cy='478.3' r='4.75'/><circle cx='360.7' cy='512.9' r='4.75'/><circle cx='472.3' cy='409.2' r='4.75'/><circle cx='478.5' cy='406.0' r='4.75'/><circle cx='483.0' cy='389.9' r='4.75'/><circle cx='384.9' cy='487.0' r='4.75'/><circle cx='500.5' cy='391.2' r='4.75'/><circle cx='482.6' cy='401.0' r='4.75'/><circle cx='485.9' cy='392.2' r='4.75'/><circle cx='432.5' cy='462.7' r='4.75'/><circle cx='365.6' cy='491.0' r='4.75'/><circle cx='387.1' cy='489.3' r='4.75'/><circle cx='507.2' cy='373.1' r='4.75'/><circle cx='354.9' cy='515.3' r='4.75'/><circle cx='428.7' cy='457.4' r='4.75'/><circle cx='432.1' cy='446.8' r='4.75'/><circle cx='379.6' cy='495.7' r='4.75'/><circle cx='406.0' cy='483.4' r='4.75'/><circle cx='494.5' cy='378.5' r='4.75'/><circle cx='417.1' cy='453.7' r='4.75'/><circle cx='386.2' cy='484.6' r='4.75'/><circle cx='380.0' cy='492.0' r='4.75'/><circle cx='355.6' cy='523.7' r='4.75'/><circle cx='411.2' cy='465.8' r='4.75'/><circle cx='498.7' cy='383.9' r='4.75'/><circle cx='393.0' cy='464.2' r='4.75'/><circle cx='396.3' cy='482.0' r='4.75'/><circle cx='386.5' cy='478.4' r='4.75'/><circle cx='359.4' cy='502.0' r='4.75'/><circle cx='481.0' cy='388.9' r='4.75'/><circle cx='361.3' cy='499.4' r='4.75'/><circle cx='505.8' cy='380.1' r='4.75'/><circle cx='503.5' cy='374.2' r='4.75'/><circle cx='347.3' cy='513.9' r='4.75'/><circle cx='502.3' cy='383.3' r='4.75'/><circle cx='387.1' cy='484.7' r='4.75'/><circle cx='463.0' cy='415.9' r='4.75'/><circle cx='402.7' cy='467.2' r='4.75'/><circle cx='466.2' cy='414.1' r='4.75'/><circle cx='428.7' cy='461.7' r='4.75'/><circle cx='358.7' cy='514.6' r='4.75'/><circle cx='401.9' cy='490.6' r='4.75'/><circle cx='399.9' cy='470.4' r='4.75'/><circle cx='506.6' cy='375.0' r='4.75'/><circle cx='376.9' cy='490.5' r='4.75'/><circle cx='408.7' cy='483.3' r='4.75'/><circle cx='474.7' cy='397.9' r='4.75'/><circle cx='430.6' cy='458.7' r='4.75'/><circle cx='425.3' cy='465.1' r='4.75'/><circle cx='491.0' cy='390.4' r='4.75'/><circle cx='388.9' cy='489.6' r='4.75'/><circle cx='511.0' cy='370.6' r='4.75'/><circle cx='448.3' cy='441.2' r='4.75'/><circle cx='507.8' cy='379.4' r='4.75'/><circle cx='390.1' cy='478.6' r='4.75'/><circle cx='506.4' cy='380.0' r='4.75'/><circle cx='420.7' cy='480.9' r='4.75'/><circle cx='462.1' cy='411.7' r='4.75'/><circle cx='435.4' cy='443.2' r='4.75'/><circle cx='502.0' cy='382.2' r='4.75'/><circle cx='381.3' cy='485.2' r='4.75'/><circle cx='475.8' cy='393.6' r='4.75'/><circle cx='447.7' cy='442.5' r='4.75'/><circle cx='502.2' cy='376.3' r='4.75'/><circle cx='474.6' cy='405.9' r='4.75'/><circle cx='438.9' cy='449.8' r='4.75'/><circle cx='427.6' cy='472.7' r='4.75'/><circle cx='451.9' cy='438.2' r='4.75'/><circle cx='373.5' cy='488.1' r='4.75'/><circle cx='446.2' cy='443.4' r='4.75'/><circle cx='381.7' cy='473.1' r='4.75'/><circle cx='379.6' cy='492.5' r='4.75'/><circle cx='493.9' cy='394.4' r='4.75'/><circle cx='404.6' cy='465.2' r='4.75'/><circle cx='490.0' cy='395.3' r='4.75'/><circle cx='363.6' cy='512.1' r='4.75'/><circle cx='429.4' cy='451.3' r='4.75'/><circle cx='368.7' cy='504.7' r='4.75'/><circle cx='376.5' cy='491.3' r='4.75'/><circle cx='356.3' cy='510.3' r='4.75'/><circle cx='413.3' cy='466.2' r='4.75'/><circle cx='411.4' cy='465.5' r='4.75'/><circle cx='511.0' cy='371.2' r='4.75'/><circle cx='403.6' cy='467.6' r='4.75'/><circle cx='486.7' cy='399.2' r='4.75'/><circle cx='496.3' cy='385.1' r='4.75'/><circle cx='443.6' cy='461.1' r='4.75'/><circle cx='416.4' cy='448.9' r='4.75'/><circle cx='423.5' cy='458.5' r='4.75'/><circle cx='399.9' cy='462.9' r='4.75'/><circle cx='443.1' cy='453.5' r='4.75'/><circle cx='412.7' cy='464.5' r='4.75'/><circle cx='338.9' cy='518.5' r='4.75'/><circle cx='485.1' cy='394.7' r='4.75'/><circle cx='499.5' cy='395.8' r='4.75'/><circle cx='421.3' cy='459.4' r='4.75'/><circle cx='370.8' cy='484.6' r='4.75'/><circle cx='363.9' cy='492.8' r='4.75'/><circle cx='465.1' cy='409.9' r='4.75'/><circle cx='364.1' cy='503.0' r='4.75'/><circle cx='406.3' cy='454.2' r='4.75'/><circle cx='347.3' cy='515.4' r='4.75'/><circle cx='377.2' cy='493.7' r='4.75'/><circle cx='502.4' cy='386.5' r='4.75'/><circle cx='329.8' cy='520.4' r='4.75'/><circle cx='378.1' cy='498.3' r='4.75'/><circle cx='491.0' cy='404.9' r='4.75'/><circle cx='413.8' cy='469.8' r='4.75'/><circle cx='475.1' cy='399.6' r='4.75'/><circle cx='403.5' cy='461.3' r='4.75'/><circle cx='476.3' cy='404.2' r='4.75'/><circle cx='446.2' cy='442.8' r='4.75'/><circle cx='374.5' cy='490.7' r='4.75'/><circle cx='423.8' cy='443.5' r='4.75'/><circle cx='391.1' cy='479.4' r='4.75'/><circle cx='352.4' cy='512.3' r='4.75'/><circle cx='408.8' cy='473.9' r='4.75'/><circle cx='451.1' cy='438.1' r='4.75'/><circle cx='490.3' cy='399.9' r='4.75'/><circle cx='470.7' cy='406.9' r='4.75'/><circle cx='358.4' cy='511.7' r='4.75'/><circle cx='367.2' cy='497.9' r='4.75'/><circle cx='495.5' cy='379.1' r='4.75'/><circle cx='484.4' cy='399.3' r='4.75'/><circle cx='341.3' cy='513.4' r='4.75'/><circle cx='432.1' cy='454.7' r='4.75'/><circle cx='393.1' cy='488.3' r='4.75'/><circle cx='341.5' cy='514.8' r='4.75'/><circle cx='446.3' cy='439.4' r='4.75'/><circle cx='499.8' cy='388.2' r='4.75'/><circle cx='400.3' cy='479.9' r='4.75'/><circle cx='408.4' cy='490.3' r='4.75'/><circle cx='502.2' cy='380.1' r='4.75'/><circle cx='357.7' cy='506.9' r='4.75'/><circle cx='418.5' cy='460.6' r='4.75'/><circle cx='438.8' cy='447.1' r='4.75'/><circle cx='472.8' cy='412.0' r='4.75'/><circle cx='446.2' cy='440.7' r='4.75'/><circle cx='362.5' cy='511.4' r='4.75'/><circle cx='419.1' cy='457.6' r='4.75'/><circle cx='471.6' cy='400.8' r='4.75'/><circle cx='411.2' cy='465.5' r='4.75'/><circle cx='408.2' cy='472.8' r='4.75'/><circle cx='502.6' cy='376.7' r='4.75'/><circle cx='362.5' cy='502.9' r='4.75'/><circle cx='340.7' cy='514.4' r='4.75'/><circle cx='397.8' cy='474.7' r='4.75'/><circle cx='346.8' cy='511.4' r='4.75'/><circle cx='507.0' cy='384.4' r='4.75'/><circle cx='333.3' cy='518.9' r='4.75'/><circle cx='377.4' cy='497.7' r='4.75'/><circle cx='402.9' cy='470.4' r='4.75'/><circle cx='477.4' cy='406.9' r='4.75'/><circle cx='503.9' cy='394.0' r='4.75'/><circle cx='375.9' cy='496.6' r='4.75'/><circle cx='343.4' cy='513.2' r='4.75'/><circle cx='424.9' cy='455.2' r='4.75'/><circle cx='478.1' cy='398.5' r='4.75'/><circle cx='502.2' cy='373.3' r='4.75'/><circle cx='477.0' cy='398.4' r='4.75'/><circle cx='395.9' cy='475.5' r='4.75'/><circle cx='476.6' cy='395.0' r='4.75'/><circle cx='441.4' cy='457.0' r='4.75'/><circle cx='372.7' cy='492.7' r='4.75'/><circle cx='498.2' cy='378.9' r='4.75'/><circle cx='513.8' cy='370.0' r='4.75'/><circle cx='474.4' cy='413.5' r='4.75'/><circle cx='348.6' cy='507.2' r='4.75'/><circle cx='435.0' cy='462.8' r='4.75'/><circle cx='385.3' cy='473.7' r='4.75'/><circle cx='498.6' cy='383.0' r='4.75'/><circle cx='484.4' cy='390.8' r='4.75'/><circle cx='356.9' cy='506.2' r='4.75'/><circle cx='493.7' cy='393.5' r='4.75'/><circle cx='491.5' cy='378.1' r='4.75'/><circle cx='425.0' cy='464.5' r='4.75'/><circle cx='365.7' cy='501.5' r='4.75'/><circle cx='404.3' cy='473.7' r='4.75'/><circle cx='366.9' cy='503.6' r='4.75'/><circle cx='387.1' cy='458.2' r='4.75'/><circle cx='374.3' cy='498.9' r='4.75'/><circle cx='461.6' cy='415.6' r='4.75'/><circle cx='392.9' cy='471.9' r='4.75'/><circle cx='501.9' cy='382.4' r='4.75'/><circle cx='358.1' cy='508.1' r='4.75'/><circle cx='493.8' cy='368.4' r='4.75'/><circle cx='418.6' cy='455.4' r='4.75'/><circle cx='383.6' cy='478.2' r='4.75'/><circle cx='492.1' cy='390.8' r='4.75'/><circle cx='443.8' cy='447.2' r='4.75'/><circle cx='339.2' cy='512.4' r='4.75'/><circle cx='471.5' cy='408.0' r='4.75'/><circle cx='429.8' cy='451.5' r='4.75'/><circle cx='349.3' cy='512.9' r='4.75'/><circle cx='426.7' cy='464.9' r='4.75'/><circle cx='369.9' cy='502.4' r='4.75'/><circle cx='408.2' cy='476.4' r='4.75'/><circle cx='447.9' cy='438.0' r='4.75'/><circle cx='374.8' cy='486.3' r='4.75'/><circle cx='374.3' cy='501.4' r='4.75'/><circle cx='352.0' cy='502.3' r='4.75'/><circle cx='415.6' cy='456.7' r='4.75'/><circle cx='372.7' cy='487.4' r='4.75'/><circle cx='369.4' cy='504.6' r='4.75'/><circle cx='401.4' cy='478.3' r='4.75'/><circle cx='423.0' cy='454.5' r='4.75'/><circle cx='341.8' cy='523.0' r='4.75'/><circle cx='382.2' cy='486.8' r='4.75'/><circle cx='467.9' cy='406.2' r='4.75'/><circle cx='407.7' cy='469.0' r='4.75'/><circle cx='350.1' cy='507.0' r='4.75'/><circle cx='507.7' cy='373.4' r='4.75'/><circle cx='441.4' cy='441.4' r='4.75'/><circle cx='488.1' cy='397.5' r='4.75'/><circle cx='399.8' cy='474.1' r='4.75'/><circle cx='333.5' cy='518.9' r='4.75'/><circle cx='428.4' cy='473.8' r='4.75'/><circle cx='437.2' cy='448.1' r='4.75'/><circle cx='350.8' cy='511.2' r='4.75'/><circle cx='512.3' cy='377.7' r='4.75'/><circle cx='380.9' cy='496.7' r='4.75'/><circle cx='433.4' cy='462.2' r='4.75'/><circle cx='462.7' cy='408.4' r='4.75'/><circle cx='510.4' cy='377.5' r='4.75'/><circle cx='377.7' cy='484.1' r='4.75'/><circle cx='391.8' cy='474.2' r='4.75'/><circle cx='374.8' cy='486.7' r='4.75'/><circle cx='447.1' cy='438.5' r='4.75'/><circle cx='422.0' cy='457.7' r='4.75'/><circle cx='372.2' cy='496.4' r='4.75'/><circle cx='413.2' cy='469.2' r='4.75'/><circle cx='367.9' cy='492.7' r='4.75'/><circle cx='468.9' cy='409.5' r='4.75'/><circle cx='357.8' cy='506.4' r='4.75'/><circle cx='503.7' cy='388.0' r='4.75'/><circle cx='378.2' cy='497.1' r='4.75'/><circle cx='482.4' cy='397.6' r='4.75'/><circle cx='445.1' cy='447.9' r='4.75'/><circle cx='334.9' cy='515.6' r='4.75'/><circle cx='391.6' cy='496.8' r='4.75'/><circle cx='358.6' cy='507.7' r='4.75'/><circle cx='484.2' cy='403.5' r='4.75'/><circle cx='352.0' cy='508.8' r='4.75'/><circle cx='357.7' cy='509.2' r='4.75'/><circle cx='502.4' cy='375.0' r='4.75'/><circle cx='349.4' cy='514.1' r='4.75'/><circle cx='358.8' cy='508.2' r='4.75'/><circle cx='402.2' cy='475.3' r='4.75'/><circle cx='403.6' cy='470.6' r='4.75'/><circle cx='488.8' cy='403.1' r='4.75'/><circle cx='374.5' cy='502.9' r='4.75'/><circle cx='335.5' cy='521.7' r='4.75'/><circle cx='342.2' cy='511.1' r='4.75'/><circle cx='358.1' cy='503.8' r='4.75'/><circle cx='407.4' cy='474.7' r='4.75'/><circle cx='483.1' cy='398.4' r='4.75'/><circle cx='378.9' cy='481.7' r='4.75'/><circle cx='497.9' cy='390.2' r='4.75'/><circle cx='464.8' cy='414.5' r='4.75'/><circle cx='401.6' cy='460.5' r='4.75'/><circle cx='492.4' cy='392.3' r='4.75'/><circle cx='328.8' cy='519.3' r='4.75'/><circle cx='344.1' cy='519.6' r='4.75'/><circle cx='388.7' cy='478.3' r='4.75'/><circle cx='485.2' cy='402.6' r='4.75'/><circle cx='433.4' cy='449.6' r='4.75'/><circle cx='391.1' cy='493.5' r='4.75'/><circle cx='363.8' cy='503.0' r='4.75'/><circle cx='515.5' cy='371.7' r='4.75'/><circle cx='333.6' cy='516.2' r='4.75'/><circle cx='388.2' cy='494.6' r='4.75'/><circle cx='408.4' cy='474.9' r='4.75'/><circle cx='376.4' cy='496.8' r='4.75'/><circle cx='501.0' cy='381.0' r='4.75'/><circle cx='422.8' cy='456.4' r='4.75'/><circle cx='432.4' cy='449.1' r='4.75'/><circle cx='363.8' cy='509.4' r='4.75'/><circle cx='465.1' cy='411.9' r='4.75'/><circle cx='479.5' cy='393.1' r='4.75'/><circle cx='462.5' cy='415.0' r='4.75'/><circle cx='502.7' cy='389.8' r='4.75'/><circle cx='378.7' cy='487.9' r='4.75'/><circle cx='444.9' cy='448.6' r='4.75'/><circle cx='429.2' cy='456.0' r='4.75'/><circle cx='363.0' cy='509.1' r='4.75'/><circle cx='412.3' cy='493.8' r='4.75'/><circle cx='434.1' cy='448.1' r='4.75'/><circle cx='475.6' cy='408.4' r='4.75'/><circle cx='480.1' cy='399.4' r='4.75'/><circle cx='498.8' cy='381.8' r='4.75'/><circle cx='494.9' cy='399.7' r='4.75'/><circle cx='380.5' cy='491.4' r='4.75'/><circle cx='342.3' cy='508.1' r='4.75'/><circle cx='357.4' cy='510.8' r='4.75'/><circle cx='509.0' cy='379.3' r='4.75'/><circle cx='364.1' cy='505.3' r='4.75'/><circle cx='369.6' cy='496.6' r='4.75'/><circle cx='421.9' cy='457.9' r='4.75'/><circle cx='472.7' cy='405.7' r='4.75'/><circle cx='391.6' cy='473.7' r='4.75'/><circle cx='409.7' cy='478.1' r='4.75'/><circle cx='368.2' cy='504.3' r='4.75'/><circle cx='358.7' cy='506.4' r='4.75'/><circle cx='345.2' cy='513.2' r='4.75'/><circle cx='357.0' cy='512.9' r='4.75'/><circle cx='391.9' cy='486.5' r='4.75'/><circle cx='396.3' cy='474.9' r='4.75'/><circle cx='340.2' cy='517.6' r='4.75'/><circle cx='373.4' cy='483.5' r='4.75'/><circle cx='508.0' cy='388.8' r='4.75'/><circle cx='360.0' cy='507.5' r='4.75'/><circle cx='379.4' cy='492.8' r='4.75'/><circle cx='466.9' cy='413.4' r='4.75'/><circle cx='378.6' cy='482.4' r='4.75'/><circle cx='433.4' cy='443.6' r='4.75'/><circle cx='502.7' cy='382.0' r='4.75'/><circle cx='392.7' cy='470.4' r='4.75'/><circle cx='360.8' cy='511.3' r='4.75'/><circle cx='361.1' cy='494.4' r='4.75'/><circle cx='379.7' cy='477.6' r='4.75'/><circle cx='494.2' cy='408.4' r='4.75'/><circle cx='344.9' cy='511.7' r='4.75'/><circle cx='507.7' cy='373.0' r='4.75'/><circle cx='330.7' cy='521.4' r='4.75'/><circle cx='371.0' cy='498.2' r='4.75'/><circle cx='507.4' cy='373.6' r='4.75'/><circle cx='424.7' cy='462.1' r='4.75'/><circle cx='484.1' cy='395.0' r='4.75'/><circle cx='445.7' cy='444.1' r='4.75'/><circle cx='495.7' cy='385.4' r='4.75'/><circle cx='456.9' cy='425.4' r='4.75'/><circle cx='458.5' cy='426.8' r='4.75'/><circle cx='466.0' cy='428.4' r='4.75'/><circle cx='460.7' cy='419.3' r='4.75'/><circle cx='455.3' cy='427.8' r='4.75'/><circle cx='466.3' cy='427.0' r='4.75'/><circle cx='323.0' cy='533.0' r='4.75'/><circle cx='452.0' cy='430.0' r='4.75'/><circle cx='463.0' cy='424.0' r='4.75'/></g>
<g class='sc' fill='#00bfff' fill-opacity='0.3'><circle cx='773.2' cy='113.8' r='4.75'/><circle cx='771.4' cy='113.9' r='4.75'/><circle cx='779.8' cy='89.2' r='4.75'/><circle cx='766.9' cy='111.2' r='4.75'/><circle cx='746.4' cy='140.8' r='4.75'/><circle cx='813.7' cy='107.3' r='4.75'/><circle cx='757.8' cy='118.1' r='4.75'/><circle cx='729.4' cy='119.7' r='4.75'/><circle cx='764.5' cy='115.5' r='4.75'/><circle cx='742.9' cy='130.5' r='4.75'/><circle cx='821.5' cy='69.6' r='4.75'/><circle cx='759.3' cy='115.3' r='4.75'/><circle cx='743.4' cy='123.3' r='4.75'/><circle cx='777.0' cy='116.5' r='4.75'/><circle cx='729.7' cy='130.8' r='4.75'/><circle cx='810.5' cy='84.2' r='4.75'/><circle cx='730.7' cy='136.1' r='4.75'/><circle cx='806.4' cy='91.2' r='4.75'/><circle cx='790.6' cy='87.9' r='4.75'/><circle cx='766.0' cy='90.2' r='4.75'/><circle cx='721.7' cy='143.5' r='4.75'/><circle cx='738.3' cy='124.7' r='4.75'/><circle cx='820.2' cy='68.5' r='4.75'/><circle cx='799.7' cy='85.6' r='4.75'/><circle cx='805.9' cy='76.7' r='4.75'/><circle cx='750.7' cy='124.9' r='4.75'/><circle cx='799.2' cy='99.7' r='4.75'/><circle cx='763.9' cy='96.1' r='4.75'/><circle cx='717.6' cy='134.9' r='4.75'/><circle cx='844.4' cy='60.7' r='4.75'/><circle cx='767.5' cy='110.0' r='4.75'/><circle cx='729.0' cy='135.4' r='4.75'/><circle cx='735.2' cy='133.5' r='4.75'/><circle cx='784.7' cy='94.6' r='4.75'/><circle cx='764.6' cy='117.6' r='4.75'/><circle cx='735.1' cy='134.6' r='4.75'/><circle cx='745.8' cy='124.9' r='4.75'/><circle cx='808.6' cy='85.2' r='4.75'/><circle cx='840.4' cy='67.3' r='4.75'/><circle cx='751.6' cy='121.0' r='4.75'/><circle cx='820.9' cy='75.5' r='4.75'/><circle cx='835.2' cy='66.8' r='4.75'/><circle cx='790.0' cy='86.7' r='4.75'/><circle cx='758.5' cy='112.9' r='4.75'/><circle cx='843.2' cy='59.8' r='4.75'/><circle cx='705.1' cy='152.8' r='4.75'/><circle cx='706.5' cy='155.7' r='4.75'/><circle cx='830.1' cy='61.4' r='4.75'/><circle cx='739.2' cy='127.1' r='4.75'/><circle cx='732.5' cy='115.1' r='4.75'/><circle cx='798.0' cy='80.6' r='4.75'/><circle cx='716.1' cy='147.2' r='4.75'/><circle cx='724.4' cy='125.2' r='4.75'/><circle cx='764.0' cy='124.3' r='4.75'/><circle cx='721.4' cy='145.5' r='4.75'/><circle cx='806.4' cy='86.6' r='4.75'/><circle cx='788.2' cy='91.9' r='4.75'/><circle cx='708.3' cy='157.1' r='4.75'/><circle cx='705.9' cy='153.6' r='4.75'/><circle cx='790.1' cy='98.8' r='4.75'/><circle cx='792.1' cy='88.0' r='4.75'/><circle cx='747.6' cy='117.8' r='4.75'/><circle cx='804.7' cy='86.8' r='4.75'/><circle cx='799.6' cy='87.5' r='4.75'/><circle cx='768.8' cy='100.8' r='4.75'/><circle cx='719.7' cy='142.9' r='4.75'/><circle cx='724.5' cy='137.9' r='4.75'/><circle cx='789.5' cy='90.6' r='4.75'/><circle cx='723.7' cy='148.3' r='4.75'/><circle cx='719.1' cy='137.5' r='4.75'/><circle cx='838.4' cy='63.9' r='4.75'/><circle cx='753.7' cy='112.1' r='4.75'/><circle cx='720.5' cy='134.4' r='4.75'/><circle cx='740.7' cy='137.4' r='4.75'/><circle cx='750.8' cy='110.7' r='4.75'/><circle cx='728.1' cy='130.1' r='4.75'/><circle cx='810.3' cy='78.9' r='4.75'/><circle cx='707.2' cy='154.0' r='4.75'/><circle cx='737.1' cy='139.6' r='4.75'/><circle cx='771.0' cy='102.1' r='4.75'/><circle cx='762.7' cy='107.0' r='4.75'/><circle cx='838.0' cy='61.8' r='4.75'/><circle cx='790.7' cy='97.8' r='4.75'/><circle cx='837.2' cy='66.7' r='4.75'/><circle cx='849.6' cy='62.4' r='4.75'/><circle cx='712.6' cy='147.5' r='4.75'/><circle cx='752.2' cy='118.5' r='4.75'/><circle cx='810.3' cy='75.9' r='4.75'/><circle cx='759.2' cy='114.9' r='4.75'/><circle cx='762.6' cy='112.2' r='4.75'/><circle cx='726.2' cy='146.2' r='4.75'/><circle cx='772.5' cy='112.0' r='4.75'/><circle cx='819.9' cy='75.4' r='4.75'/><circle cx='754.7' cy='117.0' r='4.75'/><circle cx='849.9' cy='60.4' r='4.75'/><circle cx='704.6' cy='149.2' r='4.75'/><circle cx='778.7' cy='97.9' r='4.75'/><circle cx='771.4' cy='98.8' r='4.75'/><circle cx='792.6' cy='82.6' r='4.75'/><circle cx='840.3' cy='61.5' r='4.75'/><circle cx='789.9' cy='102.3' r='4.75'/><circle cx='842.3' cy='65.7' r='4.75'/><circle cx='715.2' cy='144.7' r='4.75'/><circle cx='789.6' cy='99.5' r='4.75'/><circle cx='749.4' cy='108.4' r='4.75'/><circle cx='797.1' cy='87.0' r='4.75'/><circle cx='743.6' cy='110.6' r='4.75'/><circle cx='744.8' cy='124.2' r='4.75'/><circle cx='739.3' cy='137.0' r='4.75'/><circle cx='797.9' cy='108.4' r='4.75'/><circle cx='705.5' cy='152.4' r='4.75'/><circle cx='776.9' cy='108.1' r='4.75'/><circle cx='828.0' cy='64.5' r='4.75'/><circle cx='749.3' cy='114.5' r='4.75'/><circle cx='846.0' cy='61.3' r='4.75'/><circle cx='797.7' cy='101.1' r='4.75'/><circle cx='715.8' cy='141.4' r='4.75'/><circle cx='709.7' cy='151.5' r='4.75'/><circle cx='745.3' cy='129.2' r='4.75'/><circle cx='830.4' cy='71.0' r='4.75'/><circle cx='785.1' cy='96.0' r='4.75'/><circle cx='770.2' cy='96.8' r='4.75'/><circle cx='801.6' cy='95.0' r='4.75'/><circle cx='786.4' cy='94.5' r='4.75'/><circle cx='828.5' cy='70.4' r='4.75'/><circle cx='709.3' cy='157.2' r='4.75'/><circle cx='825.3' cy='73.3' r='4.75'/><circle cx='725.4' cy='130.5' r='4.75'/><circle cx='708.7' cy='154.7' r='4.75'/><circle cx='817.7' cy='72.0' r='4.75'/><circle cx='783.6' cy='96.0' r='4.75'/><circle cx='835.7' cy='67.4' r='4.75'/><circle cx='756.7' cy='115.7' r='4.75'/><circle cx='752.2' cy='117.1' r='4.75'/><circle cx='729.1' cy='141.5' r='4.75'/><circle cx='750.8' cy='103.1' r='4.75'/><circle cx='807.4' cy='83.3' r='4.75'/><circle cx='716.0' cy='138.8' r='4.75'/><circle cx='745.3' cy='105.6' r='4.75'/><circle cx='729.0' cy='134.9' r='4.75'/><circle cx='741.5' cy='123.0' r='4.75'/><circle cx='849.4' cy='61.9' r='4.75'/><circle cx='732.8' cy='130.6' r='4.75'/><circle cx='702.4' cy='155.1' r='4.75'/><circle cx='769.2' cy='107.4' r='4.75'/><circle cx='780.4' cy='95.2' r='4.75'/><circle cx='759.5' cy='104.2' r='4.75'/><circle cx='785.2' cy='90.3' r='4.75'/><circle cx='761.7' cy='123.2' r='4.75'/><circle cx='757.6' cy='116.1' r='4.75'/><circle cx='806.6' cy='78.5' r='4.75'/><circle cx='736.9' cy='134.5' r='4.75'/><circle cx='824.3' cy='75.4' r='4.75'/><circle cx='790.2' cy='87.9' r='4.75'/><circle cx='831.9' cy='67.8' r='4.75'/><circle cx='837.0' cy='62.9' r='4.75'/><circle cx='784.8' cy='103.5' r='4.75'/><circle cx='841.3' cy='65.6' r='4.75'/><circle cx='757.0' cy='105.6' r='4.75'/><circle cx='748.0' cy='125.7' r='4.75'/><circle cx='801.2' cy='89.5' r='4.75'/><circle cx='771.8' cy='124.4' r='4.75'/><circle cx='783.6' cy='99.5' r='4.75'/><circle cx='832.4' cy='68.0' r='4.75'/><circle cx='723.1' cy='142.6' r='4.75'/><circle cx='785.3' cy='97.1' r='4.75'/><circle cx='741.3' cy='132.5' r='4.75'/><circle cx='836.2' cy='64.3' r='4.75'/><circle cx='715.1' cy='146.5' r='4.75'/><circle cx='739.8' cy='131.0' r='4.75'/><circle cx='728.1' cy='137.7' r='4.75'/><circle cx='766.9' cy='115.1' r='4.75'/><circle cx='822.0' cy='77.2' r='4.75'/><circle cx='775.6' cy='107.5' r='4.75'/><circle cx='751.4' cy='114.7' r='4.75'/><circle cx='807.1' cy='82.2' r='4.75'/><circle cx='832.9' cy='68.8' r='4.75'/><circle cx='719.7' cy='140.2' r='4.75'/><circle cx='839.4' cy='74.7' r='4.75'/><circle cx='700.9' cy='159.0' r='4.75'/><circle cx='842.2' cy='65.5' r='4.75'/><circle cx='728.2' cy='135.7' r='4.75'/><circle cx='838.7' cy='64.0' r='4.75'/><circle cx='711.1' cy='151.3' r='4.75'/><circle cx='793.3' cy='93.6' r='4.75'/><circle cx='763.5' cy='110.9' r='4.75'/><circle cx='715.6' cy='146.2' r='4.75'/><circle cx='824.2' cy='72.1' r='4.75'/><circle cx='709.1' cy='153.6' r='4.75'/><circle cx='756.0' cy='111.0' r='4.75'/><circle cx='701.8' cy='156.4' r='4.75'/><circle cx='800.5' cy='91.3' r='4.75'/><circle cx='720.6' cy='140.9' r='4.75'/><circle cx='850.6' cy='58.7' r='4.75'/><circle cx='824.9' cy='69.2' r='4.75'/><circle cx='772.9' cy='113.1' r='4.75'/><circle cx='742.9' cy='124.5' r='4.75'/><circle cx='790.1' cy='91.6' r='4.75'/><circle cx='749.7' cy='122.0' r='4.75'/><circle cx='725.9' cy='134.2' r='4.75'/><circle cx='703.3' cy='156.8' r='4.75'/><circle cx='779.6' cy='99.8' r='4.75'/><circle cx='765.3' cy='111.2' r='4.75'/><circle cx='724.6' cy='132.4' r='4.75'/><circle cx='747.5' cy='126.2' r='4.75'/><circle cx='736.7' cy='123.7' r='4.75'/><circle cx='760.5' cy='103.5' r='4.75'/><circle cx='847.6' cy='62.2' r='4.75'/><circle cx='779.1' cy='119.2' r='4.75'/><circle cx='822.2' cy='74.6' r='4.75'/><circle cx='792.0' cy='91.3' r='4.75'/><circle cx='826.3' cy='70.5' r='4.75'/><circle cx='713.1' cy='152.0' r='4.75'/><circle cx='743.5' cy='121.7' r='4.75'/><circle cx='708.0' cy='148.8' r='4.75'/><circle cx='701.6' cy='159.9' r='4.75'/><circle cx='746.9' cy='121.1' r='4.75'/><circle cx='776.9' cy='110.7' r='4.75'/><circle cx='792.8' cy='93.2' r='4.75'/><circle cx='731.0' cy='117.3' r='4.75'/><circle cx='771.1' cy='115.8' r='4.75'/><circle cx='736.2' cy='140.9' r='4.75'/><circle cx='756.6' cy='127.8' r='4.75'/><circle cx='791.8' cy='95.6' r='4.75'/><circle cx='702.3' cy='156.6' r='4.75'/><circle cx='807.9' cy='79.5' r='4.75'/><circle cx='838.7' cy='63.8' r='4.75'/><circle cx='736.5' cy='139.5' r='4.75'/><circle cx='809.1' cy='86.6' r='4.75'/><circle cx='779.9' cy='94.9' r='4.75'/><circle cx='772.2' cy='92.5' r='4.75'/><circle cx='734.5' cy='127.7' r='4.75'/><circle cx='830.3' cy='71.0' r='4.75'/><circle cx='755.3' cy='117.7' r='4.75'/><circle cx='816.4' cy='82.2' r='4.75'/><circle cx='843.6' cy='65.7' r='4.75'/><circle cx='800.5' cy='92.6' r='4.75'/><circle cx='715.3' cy='146.1' r='4.75'/><circle cx='707.7' cy='153.0' r='4.75'/><circle cx='737.2' cy='134.4' r='4.75'/><circle cx='713.0' cy='148.0' r='4.75'/><circle cx='794.4' cy='92.9' r='4.75'/><circle cx='713.5' cy='146.3' r='4.75'/><circle cx='825.0' cy='72.8' r='4.75'/><circle cx='741.1' cy='136.2' r='4.75'/><circle cx='770.2' cy='110.4' r='4.75'/><circle cx='824.1' cy='68.5' r='4.75'/><circle cx='803.7' cy='83.8' r='4.75'/><circle cx='756.2' cy='116.9' r='4.75'/><circle cx='715.0' cy='142.6' r='4.75'/><circle cx='796.3' cy='85.4' r='4.75'/><circle cx='825.9' cy='72.4' r='4.75'/><circle cx='717.2' cy='126.3' r='4.75'/><circle cx='848.4' cy='58.9' r='4.75'/><circle cx='764.8' cy='105.6' r='4.75'/><circle cx='823.4' cy='56.7' r='4.75'/><circle cx='720.0' cy='157.1' r='4.75'/><circle cx='763.0' cy='120.8' r='4.75'/><circle cx='766.1' cy='112.2' r='4.75'/><circle cx='732.9' cy='122.5' r='4.75'/><circle cx='727.1' cy='138.2' r='4.75'/><circle cx='751.9' cy='129.5' r='4.75'/><circle cx='752.5' cy='102.5' r='4.75'/><circle cx='709.9' cy='150.8' r='4.75'/><circle cx='724.7' cy='141.6' r='4.75'/><circle cx='748.8' cy='120.7' r='4.75'/><circle cx='828.9' cy='73.3' r='4.75'/><circle cx='830.8' cy='68.3' r='4.75'/><circle cx='768.0' cy='114.1' r='4.75'/><circle cx='789.0' cy='98.2' r='4.75'/><circle cx='788.6' cy='100.3' r='4.75'/><circle cx='754.0' cy='116.9' r='4.75'/><circle cx='740.3' cy='136.1' r='4.75'/><circle cx='752.2' cy='132.7' r='4.75'/><circle cx='736.7' cy='128.0' r='4.75'/><circle cx='714.7' cy='150.5' r='4.75'/><circle cx='849.9' cy='59.4' r='4.75'/><circle cx='733.4' cy='137.9' r='4.75'/><circle cx='744.2' cy='129.1' r='4.75'/><circle cx='725.5' cy='133.3' r='4.75'/><circle cx='796.1' cy='97.2' r='4.75'/><circle cx='753.8' cy='119.9' r='4.75'/><circle cx='800.8' cy='85.4' r='4.75'/><circle cx='805.3' cy='77.6' r='4.75'/><circle cx='756.3' cy='123.8' r='4.75'/><circle cx='729.6' cy='132.8' r='4.75'/><circle cx='724.8' cy='140.5' r='4.75'/><circle cx='786.4' cy='87.8' r='4.75'/><circle cx='719.4' cy='146.9' r='4.75'/><circle cx='776.2' cy='90.4' r='4.75'/><circle cx='812.1' cy='86.3' r='4.75'/><circle cx='818.4' cy='79.1' r='4.75'/><circle cx='706.3' cy='150.1' r='4.75'/><circle cx='761.5' cy='116.9' r='4.75'/><circle cx='839.8' cy='60.5' r='4.75'/><circle cx='790.0' cy='97.2' r='4.75'/><circle cx='717.3' cy='146.7' r='4.75'/><circle cx='791.1' cy='82.3' r='4.75'/><circle cx='706.9' cy='153.2' r='4.75'/><circle cx='702.1' cy='157.0' r='4.75'/><circle cx='781.1' cy='99.2' r='4.75'/><circle cx='833.7' cy='63.8' r='4.75'/><circle cx='758.2' cy='101.8' r='4.75'/><circle cx='778.3' cy='89.9' r='4.75'/><circle cx='712.1' cy='151.3' r='4.75'/><circle cx='716.6' cy='147.6' r='4.75'/><circle cx='808.1' cy='91.2' r='4.75'/><circle cx='780.4' cy='108.2' r='4.75'/><circle cx='800.9' cy='95.2' r='4.75'/><circle cx='776.0' cy='112.2' r='4.75'/><circle cx='721.0' cy='138.2' r='4.75'/><circle cx='731.4' cy='138.2' r='4.75'/><circle cx='836.2' cy='70.3' r='4.75'/><circle cx='788.7' cy='107.1' r='4.75'/><circle cx='847.5' cy='60.3' r='4.75'/><circle cx='774.1' cy='113.0' r='4.75'/><circle cx='738.7' cy='129.9' r='4.75'/><circle cx='763.4' cy='111.4' r='4.75'/><circle cx='838.9' cy='66.2' r='4.75'/><circle cx='799.6' cy='81.6' r='4.75'/><circle cx='789.1' cy='98.7' r='4.75'/><circle cx='716.8' cy='149.3' r='4.75'/><circle cx='708.3' cy='156.4' r='4.75'/><circle cx='758.0' cy='118.9' r='4.75'/><circle cx='787.1' cy='89.5' r='4.75'/><circle cx='740.2' cy='114.7' r='4.75'/><circle cx='788.8' cy='85.9' r='4.75'/><circle cx='805.5' cy='89.6' r='4.75'/><circle cx='755.9' cy='108.1' r='4.75'/><circle cx='783.5' cy='102.1' r='4.75'/><circle cx='706.4' cy='149.9' r='4.75'/><circle cx='770.5' cy='118.7' r='4.75'/><circle cx='711.5' cy='145.4' r='4.75'/><circle cx='762.0' cy='113.5' r='4.75'/><circle cx='756.8' cy='108.4' r='4.75'/><circle cx='721.4' cy='143.0' r='4.75'/><circle cx='732.6' cy='134.8' r='4.75'/><circle cx='773.9' cy='106.8' r='4.75'/><circle cx='797.0' cy='90.3' r='4.75'/><circle cx='760.3' cy='115.5' r='4.75'/><circle cx='837.5' cy='66.5' r='4.75'/><circle cx='762.2' cy='119.7' r='4.75'/><circle cx='713.0' cy='141.9' r='4.75'/><circle cx='842.6' cy='59.2' r='4.75'/><circle cx='778.5' cy='105.2' r='4.75'/><circle cx='810.5' cy='83.2' r='4.75'/><circle cx='743.1' cy='120.5' r='4.75'/><circle cx='748.6' cy='99.3' r='4.75'/><circle cx='714.1' cy='133.8' r='4.75'/><circle cx='754.5' cy='108.8' r='4.75'/><circle cx='746.1' cy='125.5' r='4.75'/><circle cx='823.2' cy='73.9' r='4.75'/><circle cx='731.8' cy='135.6' r='4.75'/><circle cx='714.9' cy='145.7' r='4.75'/><circle cx='801.0' cy='92.8' r='4.75'/><circle cx='775.5' cy='122.4' r='4.75'/><circle cx='806.5' cy='82.8' r='4.75'/><circle cx='828.9' cy='67.1' r='4.75'/><circle cx='746.2' cy='128.2' r='4.75'/><circle cx='785.8' cy='90.4' r='4.75'/><circle cx='769.2' cy='102.0' r='4.75'/><circle cx='766.8' cy='111.1' r='4.75'/><circle cx='831.4' cy='67.7' r='4.75'/><circle cx='825.7' cy='71.1' r='4.75'/><circle cx='756.7' cy='123.3' r='4.75'/><circle cx='830.5' cy='66.0' r='4.75'/><circle cx='750.5' cy='127.0' r='4.75'/><circle cx='755.3' cy='124.2' r='4.75'/><circle cx='777.1' cy='96.2' r='4.75'/><circle cx='829.9' cy='69.7' r='4.75'/><circle cx='743.5' cy='132.1' r='4.75'/><circle cx='798.9' cy='77.7' r='4.75'/><circle cx='751.2' cy='119.8' r='4.75'/><circle cx='806.6' cy='91.7' r='4.75'/><circle cx='783.2' cy='97.1' r='4.75'/><circle cx='761.4' cy='132.1' r='4.75'/><circle cx='706.0' cy='144.6' r='4.75'/><circle cx='743.6' cy='104.3' r='4.75'/><circle cx='733.2' cy='130.7' r='4.75'/><circle cx='707.3' cy='147.2' r='4.75'/><circle cx='774.8' cy='90.9' r='4.75'/><circle cx='764.9' cy='89.6' r='4.75'/><circle cx='738.6' cy='134.0' r='4.75'/><circle cx='736.8' cy='132.2' r='4.75'/><circle cx='711.2' cy='140.8' r='4.75'/><circle cx='828.9' cy='69.6' r='4.75'/><circle cx='838.5' cy='63.1' r='4.75'/><circle cx='815.1' cy='74.8' r='4.75'/><circle cx='720.8' cy='145.6' r='4.75'/><circle cx='756.6' cy='111.3' r='4.75'/><circle cx='795.7' cy='93.2' r='4.75'/><circle cx='716.2' cy='149.9' r='4.75'/><circle cx='734.6' cy='133.6' r='4.75'/><circle cx='740.0' cy='122.0' r='4.75'/><circle cx='719.0' cy='139.6' r='4.75'/><circle cx='736.5' cy='128.4' r='4.75'/><circle cx='762.6' cy='117.7' r='4.75'/><circle cx='828.9' cy='70.2' r='4.75'/><circle cx='796.1' cy='79.0' r='4.75'/><circle cx='764.1' cy='106.6' r='4.75'/><circle cx='787.8' cy='96.4' r='4.75'/><circle cx='760.3' cy='114.8' r='4.75'/><circle cx='797.3' cy='81.5' r='4.75'/><circle cx='716.8' cy='145.9' r='4.75'/><circle cx='708.9' cy='156.0' r='4.75'/><circle cx='726.8' cy='135.6' r='4.75'/><circle cx='778.3' cy='102.5' r='4.75'/><circle cx='726.2' cy='143.5' r='4.75'/><circle cx='847.4' cy='61.6' r='4.75'/><circle cx='740.3' cy='124.3' r='4.75'/><circle cx='779.2' cy='104.5' r='4.75'/><circle cx='801.8' cy='82.9' r='4.75'/><circle cx='704.3' cy='159.5' r='4.75'/><circle cx='703.8' cy='153.7' r='4.75'/><circle cx='787.7' cy='99.2' r='4.75'/><circle cx='738.2' cy='131.2' r='4.75'/><circle cx='800.1' cy='92.8' r='4.75'/><circle cx='738.9' cy='122.4' r='4.75'/><circle cx='724.8' cy='139.3' r='4.75'/><circle cx='798.0' cy='90.9' r='4.75'/><circle cx='838.2' cy='59.4' r='4.75'/><circle cx='774.4' cy='123.5' r='4.75'/><circle cx='750.0' cy='123.6' r='4.75'/><circle cx='796.5' cy='86.8' r='4.75'/><circle cx='788.2' cy='106.4' r='4.75'/><circle cx='735.4' cy='122.7' r='4.75'/><circle cx='735.1' cy='132.6' r='4.75'/><circle cx='764.4' cy='100.1' r='4.75'/><circle cx='725.0' cy='141.8' r='4.75'/><circle cx='742.6' cy='126.5' r='4.75'/><circle cx='718.0' cy='145.6' r='4.75'/><circle cx='790.3' cy='92.8' r='4.75'/><circle cx='802.4' cy='88.0' r='4.75'/><circle cx='713.6' cy='146.4' r='4.75'/><circle cx='780.2' cy='102.8' r='4.75'/><circle cx='757.7' cy='110.1' r='4.75'/><circle cx='802.9' cy='79.2' r='4.75'/><circle cx='735.6' cy='125.8' r='4.75'/><circle cx='728.7' cy='141.6' r='4.75'/><circle cx='837.0' cy='66.9' r='4.75'/><circle cx='765.6' cy='100.9' r='4.75'/><circle cx='839.1' cy='67.3' r='4.75'/><circle cx='707.4' cy='148.7' r='4.75'/><circle cx='820.1' cy='67.5' r='4.75'/><circle cx='815.1' cy='77.8' r='4.75'/><circle cx='820.8' cy='74.0' r='4.75'/><circle cx='765.6' cy='101.2' r='4.75'/><circle cx='825.9' cy='66.2' r='4.75'/><circle cx='824.8' cy='69.3' r='4.75'/><circle cx='723.2' cy='144.9' r='4.75'/><circle cx='801.7' cy='80.4' r='4.75'/><circle cx='797.3' cy='100.4' r='4.75'/><circle cx='733.2' cy='144.7' r='4.75'/><circle cx='772.3' cy='97.5' r='4.75'/><circle cx='701.1' cy='157.9' r='4.75'/><circle cx='811.2' cy='81.3' r='4.75'/><circle cx='727.5' cy='130.3' r='4.75'/><circle cx='730.4' cy='133.7' r='4.75'/><circle cx='763.2' cy='116.4' r='4.75'/><circle cx='773.4' cy='108.2' r='4.75'/><circle cx='757.1' cy='138.6' r='4.75'/><circle cx='726.0' cy='134.4' r='4.75'/><circle cx='742.7' cy='123.5' r='4.75'/><circle cx='785.3' cy='124.2' r='4.75'/><circle cx='778.8' cy='104.6' r='4.75'/><circle cx='833.5' cy='64.0' r='4.75'/><circle cx='773.3' cy='103.6' r='4.75'/><circle cx='760.6' cy='101.6' r='4.75'/><circle cx='828.0' cy='69.1' r='4.75'/><circle cx='812.3' cy='86.0' r='4.75'/><circle cx='845.8' cy='63.2' r='4.75'/><circle cx='748.1' cy='122.3' r='4.75'/><circle cx='724.1' cy='139.0' r='4.75'/><circle cx='731.5' cy='135.5' r='4.75'/><circle cx='710.2' cy='144.2' r='4.75'/><circle cx='747.6' cy='119.1' r='4.75'/><circle cx='743.3' cy='137.6' r='4.75'/><circle cx='816.8' cy='75.4' r='4.75'/><circle cx='740.0' cy='129.2' r='4.75'/><circle cx='775.0' cy='116.1' r='4.75'/><circle cx='729.5' cy='137.2' r='4.75'/><circle cx='712.5' cy='148.3' r='4.75'/><circle cx='773.0' cy='105.2' r='4.75'/><circle cx='832.6' cy='66.7' r='4.75'/><circle cx='832.9' cy='71.2' r='4.75'/><circle cx='740.0' cy='125.4' r='4.75'/><circle cx='782.7' cy='109.1' r='4.75'/><circle cx='830.9' cy='69.9' r='4.75'/><circle cx='788.0' cy='96.5' r='4.75'/><circle cx='832.3' cy='70.0' r='4.75'/><circle cx='742.7' cy='126.6' r='4.75'/><circle cx='722.0' cy='136.0' r='4.75'/><circle cx='823.0' cy='76.6' r='4.75'/><circle cx='754.5' cy='134.8' r='4.75'/><circle cx='719.5' cy='147.9' r='4.75'/><circle cx='793.9' cy='84.0' r='4.75'/><circle cx='726.3' cy='128.3' r='4.75'/><circle cx='787.2' cy='97.2' r='4.75'/><circle cx='707.7' cy='153.4' r='4.75'/><circle cx='733.7' cy='126.5' r='4.75'/><circle cx='770.5' cy='113.3' r='4.75'/><circle cx='770.7' cy='131.6' r='4.75'/><circle cx='788.8' cy='97.9' r='4.75'/><circle cx='785.6' cy='92.0' r='4.75'/><circle cx='742.1' cy='128.6' r='4.75'/><circle cx='818.3' cy='77.1' r='4.75'/><circle cx='796.0' cy='91.7' r='4.75'/><circle cx='833.9' cy='70.3' r='4.75'/><circle cx='827.4' cy='69.9' r='4.75'/><circle cx='705.3' cy='154.1' r='4.75'/><circle cx='791.2' cy='96.3' r='4.75'/><circle cx='836.8' cy='67.8' r='4.75'/><circle cx='708.4' cy='150.6' r='4.75'/><circle cx='755.7' cy='123.0' r='4.75'/><circle cx='716.6' cy='145.3' r='4.75'/><circle cx='705.1' cy='159.4' r='4.75'/><circle cx='737.1' cy='126.0' r='4.75'/><circle cx='796.2' cy='91.4' r='4.75'/><circle cx='847.7' cy='65.6' r='4.75'/><circle cx='745.1' cy='118.2' r='4.75'/><circle cx='770.3' cy='98.5' r='4.75'/><circle cx='715.6' cy='149.1' r='4.75'/><circle cx='787.6' cy='96.6' r='4.75'/><circle cx='727.1' cy='142.3' r='4.75'/><circle cx='757.4' cy='96.1' r='4.75'/><circle cx='841.4' cy='60.3' r='4.75'/><circle cx='787.5' cy='93.7' r='4.75'/><circle cx='800.9' cy='86.3' r='4.75'/><circle cx='765.8' cy='110.0' r='4.75'/><circle cx='767.0' cy='125.6' r='4.75'/><circle cx='720.1' cy='138.4' r='4.75'/><circle cx='760.6' cy='112.3' r='4.75'/><circle cx='751.9' cy='118.9' r='4.75'/><circle cx='705.3' cy='153.3' r='4.75'/><circle cx='756.1' cy='125.5' r='4.75'/><circle cx='736.0' cy='129.2' r='4.75'/><circle cx='782.3' cy='92.5' r='4.75'/><circle cx='730.3' cy='125.9' r='4.75'/><circle cx='780.0' cy='106.2' r='4.75'/><circle cx='823.2' cy='72.5' r='4.75'/><circle cx='806.9' cy='83.5' r='4.75'/><circle cx='806.9' cy='81.1' r='4.75'/><circle cx='737.7' cy='120.8' r='4.75'/><circle cx='712.5' cy='154.3' r='4.75'/><circle cx='821.2' cy='70.3' r='4.75'/><circle cx='780.9' cy='95.3' r='4.75'/><circle cx='723.3' cy='140.5' r='4.75'/><circle cx='774.0' cy='122.9' r='4.75'/><circle cx='774.2' cy='99.1' r='4.75'/><circle cx='743.2' cy='118.1' r='4.75'/><circle cx='820.6' cy='73.2' r='4.75'/><circle cx='725.0' cy='130.6' r='4.75'/><circle cx='713.2' cy='140.7' r='4.75'/><circle cx='803.9' cy='86.7' r='4.75'/><circle cx='790.0' cy='92.4' r='4.75'/><circle cx='787.7' cy='90.9' r='4.75'/><circle cx='726.2' cy='136.3' r='4.75'/><circle cx='727.0' cy='132.9' r='4.75'/><circle cx='785.9' cy='87.9' r='4.75'/><circle cx='725.0' cy='138.5' r='4.75'/><circle cx='763.7' cy='111.4' r='4.75'/><circle cx='765.9' cy='120.3' r='4.75'/><circle cx='834.2' cy='66.8' r='4.75'/><circle cx='803.4' cy='79.2' r='4.75'/><circle cx='836.6' cy='61.9' r='4.75'/><circle cx='728.8' cy='141.6' r='4.75'/><circle cx='747.5' cy='115.0' r='4.75'/><circle cx='773.6' cy='106.6' r='4.75'/><circle cx='775.9' cy='119.8' r='4.75'/><circle cx='724.5' cy='147.6' r='4.75'/><circle cx='709.2' cy='143.2' r='4.75'/><circle cx='768.0' cy='113.4' r='4.75'/><circle cx='716.0' cy='142.0' r='4.75'/><circle cx='708.9' cy='154.1' r='4.75'/><circle cx='778.0' cy='99.8' r='4.75'/><circle cx='776.5' cy='98.7' r='4.75'/><circle cx='812.3' cy='85.1' r='4.75'/><circle cx='824.5' cy='65.9' r='4.75'/><circle cx='794.3' cy='94.7' r='4.75'/><circle cx='726.0' cy='142.1' r='4.75'/><circle cx='719.7' cy='148.0' r='4.75'/><circle cx='804.7' cy='88.5' r='4.75'/><circle cx='799.4' cy='94.1' r='4.75'/><circle cx='787.4' cy='92.1' r='4.75'/><circle cx='837.3' cy='61.7' r='4.75'/><circle cx='737.5' cy='138.2' r='4.75'/><circle cx='796.8' cy='90.6' r='4.75'/><circle cx='776.5' cy='109.4' r='4.75'/><circle cx='785.0' cy='91.7' r='4.75'/><circle cx='823.6' cy='73.8' r='4.75'/><circle cx='813.4' cy='66.4' r='4.75'/><circle cx='759.9' cy='115.5' r='4.75'/><circle cx='793.0' cy='89.8' r='4.75'/><circle cx='817.7' cy='75.0' r='4.75'/><circle cx='789.0' cy='91.9' r='4.75'/><circle cx='778.1' cy='97.1' r='4.75'/><circle cx='748.2' cy='128.8' r='4.75'/><circle cx='827.9' cy='69.8' r='4.75'/><circle cx='775.5' cy='117.9' r='4.75'/><circle cx='740.4' cy='130.1' r='4.75'/><circle cx='819.2' cy='77.2' r='4.75'/><circle cx='719.3' cy='146.8' r='4.75'/><circle cx='773.0' cy='97.4' r='4.75'/><circle cx='808.3' cy='83.1' r='4.75'/><circle cx='805.7' cy='86.7' r='4.75'/><circle cx='833.2' cy='73.1' r='4.75'/><circle cx='761.3' cy='130.0' r='4.75'/><circle cx='758.2' cy='119.9' r='4.75'/><circle cx='758.2' cy='118.8' r='4.75'/><circle cx='772.8' cy='109.9' r='4.75'/><circle cx='836.2' cy='68.1' r='4.75'/><circle cx='754.8' cy='118.8' r='4.75'/><circle cx='800.7' cy='86.6' r='4.75'/><circle cx='773.6' cy='102.5' r='4.75'/><circle cx='703.0' cy='158.7' r='4.75'/><circle cx='801.8' cy='101.0' r='4.75'/><circle cx='839.6' cy='69.1' r='4.75'/><circle cx='775.2' cy='96.9' r='4.75'/><circle cx='740.7' cy='138.7' r='4.75'/><circle cx='760.1' cy='111.5' r='4.75'/><circle cx='794.7' cy='90.9' r='4.75'/><circle cx='835.2' cy='70.0' r='4.75'/><circle cx='794.5' cy='86.3' r='4.75'/><circle cx='706.2' cy='146.1' r='4.75'/><circle cx='831.5' cy='71.1' r='4.75'/><circle cx='767.4' cy='106.2' r='4.75'/><circle cx='822.8' cy='71.1' r='4.75'/><circle cx='725.7' cy='138.4' r='4.75'/><circle cx='703.2' cy='154.5' r='4.75'/><circle cx='700.9' cy='155.6' r='4.75'/><circle cx='787.5' cy='110.7' r='4.75'/><circle cx='790.2' cy='100.8' r='4.75'/><circle cx='755.4' cy='134.0' r='4.75'/><circle cx='732.6' cy='141.4' r='4.75'/><circle cx='743.0' cy='126.3' r='4.75'/><circle cx='739.3' cy='130.9' r='4.75'/><circle cx='730.1' cy='162.3' r='4.75'/><circle cx='749.8' cy='119.4' r='4.75'/><circle cx='781.5' cy='97.4' r='4.75'/><circle cx='724.1' cy='143.8' r='4.75'/><circle cx='773.3' cy='113.2' r='4.75'/><circle cx='755.7' cy='115.8' r='4.75'/><circle cx='758.0' cy='124.0' r='4.75'/><circle cx='773.5' cy='89.8' r='4.75'/><circle cx='729.7' cy='126.9' r='4.75'/><circle cx='779.0' cy='117.1' r='4.75'/><circle cx='733.3' cy='135.9' r='4.75'/><circle cx='801.3' cy='92.9' r='4.75'/><circle cx='718.7' cy='143.0' r='4.75'/><circle cx='738.5' cy='129.9' r='4.75'/><circle cx='851.5' cy='61.1' r='4.75'/><circle cx='731.3' cy='123.7' r='4.75'/><circle cx='703.1' cy='150.1' r='4.75'/><circle cx='745.8' cy='119.4' r='4.75'/><circle cx='778.4' cy='101.9' r='4.75'/><circle cx='786.4' cy='86.8' r='4.75'/><circle cx='738.4' cy='123.1' r='4.75'/><circle cx='798.6' cy='82.1' r='4.75'/><circle cx='713.6' cy='147.3' r='4.75'/><circle cx='757.1' cy='109.7' r='4.75'/><circle cx='722.7' cy='149.6' r='4.75'/><circle cx='778.9' cy='114.4' r='4.75'/><circle cx='789.4' cy='105.9' r='4.75'/><circle cx='747.4' cy='127.4' r='4.75'/><circle cx='747.4' cy='130.8' r='4.75'/><circle cx='722.0' cy='137.6' r='4.75'/><circle cx='764.9' cy='114.7' r='4.75'/><circle cx='737.0' cy='126.4' r='4.75'/><circle cx='812.6' cy='86.0' r='4.75'/><circle cx='713.8' cy='146.5' r='4.75'/><circle cx='847.3' cy='60.6' r='4.75'/><circle cx='713.1' cy='137.2' r='4.75'/><circle cx='804.4' cy='86.9' r='4.75'/><circle cx='775.5' cy='108.2' r='4.75'/><circle cx='787.6' cy='91.3' r='4.75'/><circle cx='828.0' cy='73.1' r='4.75'/><circle cx='842.3' cy='63.8' r='4.75'/><circle cx='801.5' cy='93.9' r='4.75'/><circle cx='756.8' cy='112.9' r='4.75'/><circle cx='735.0' cy='129.5' r='4.75'/><circle cx='766.9' cy='107.0' r='4.75'/><circle cx='805.0' cy='87.0' r='4.75'/><circle cx='784.2' cy='96.9' r='4.75'/><circle cx='832.7' cy='73.6' r='4.75'/><circle cx='737.4' cy='138.7' r='4.75'/><circle cx='840.0' cy='70.5' r='4.75'/><circle cx='744.3' cy='120.8' r='4.75'/><circle cx='834.7' cy='60.5' r='4.75'/><circle cx='722.5' cy='133.0' r='4.75'/><circle cx='767.1' cy='105.1' r='4.75'/><circle cx='765.3' cy='111.9' r='4.75'/><circle cx='728.7' cy='138.3' r='4.75'/><circle cx='719.4' cy='142.4' r='4.75'/><circle cx='715.1' cy='149.7' r='4.75'/><circle cx='808.5' cy='88.4' r='4.75'/><circle cx='735.8' cy='129.2' r='4.75'/><circle cx='802.3' cy='77.8' r='4.75'/><circle cx='755.5' cy='108.9' r='4.75'/><circle cx='723.2' cy='139.3' r='4.75'/><circle cx='731.3' cy='134.2' r='4.75'/><circle cx='822.0' cy='69.8' r='4.75'/><circle cx='847.0' cy='59.6' r='4.75'/><circle cx='795.2' cy='92.6' r='4.75'/><circle cx='702.4' cy='159.8' r='4.75'/><circle cx='841.4' cy='57.5' r='4.75'/><circle cx='825.2' cy='64.9' r='4.75'/><circle cx='711.8' cy='148.5' r='4.75'/><circle cx='791.1' cy='96.6' r='4.75'/><circle cx='725.8' cy='141.1' r='4.75'/><circle cx='763.3' cy='118.8' r='4.75'/><circle cx='795.3' cy='86.7' r='4.75'/><circle cx='775.4' cy='123.1' r='4.75'/><circle cx='823.2' cy='65.0' r='4.75'/><circle cx='768.5' cy='115.1' r='4.75'/><circle cx='736.4' cy='136.0' r='4.75'/><circle cx='742.2' cy='129.4' r='4.75'/><circle cx='790.0' cy='108.0' r='4.75'/><circle cx='737.6' cy='130.1' r='4.75'/><circle cx='765.5' cy='105.3' r='4.75'/><circle cx='803.3' cy='85.0' r='4.75'/><circle cx='785.5' cy='101.2' r='4.75'/><circle cx='833.5' cy='70.6' r='4.75'/><circle cx='720.0' cy='142.8' r='4.75'/><circle cx='748.3' cy='122.6' r='4.75'/><circle cx='819.3' cy='65.6' r='4.75'/><circle cx='820.5' cy='73.6' r='4.75'/><circle cx='768.9' cy='104.3' r='4.75'/><circle cx='842.3' cy='60.6' r='4.75'/><circle cx='773.7' cy='86.4' r='4.75'/><circle cx='775.5' cy='90.5' r='4.75'/><circle cx='712.7' cy='150.1' r='4.75'/><circle cx='795.8' cy='92.0' r='4.75'/><circle cx='776.1' cy='103.4' r='4.75'/><circle cx='788.4' cy='90.2' r='4.75'/><circle cx='771.0' cy='101.5' r='4.75'/><circle cx='736.2' cy='129.2' r='4.75'/><circle cx='802.3' cy='80.8' r='4.75'/><circle cx='836.3' cy='61.8' r='4.75'/><circle cx='729.7' cy='138.5' r='4.75'/><circle cx='830.7' cy='73.4' r='4.75'/><circle cx='767.3' cy='112.4' r='4.75'/><circle cx='782.5' cy='89.9' r='4.75'/><circle cx='835.7' cy='67.1' r='4.75'/><circle cx='716.3' cy='133.5' r='4.75'/><circle cx='716.9' cy='144.9' r='4.75'/><circle cx='714.1' cy='147.2' r='4.75'/><circle cx='794.9' cy='88.1' r='4.75'/><circle cx='838.8' cy='63.7' r='4.75'/><circle cx='702.6' cy='150.7' r='4.75'/><circle cx='737.2' cy='119.6' r='4.75'/><circle cx='831.5' cy='64.6' r='4.75'/><circle cx='778.9' cy='108.7' r='4.75'/><circle cx='749.7' cy='128.0' r='4.75'/><circle cx='783.9' cy='81.9' r='4.75'/><circle cx='803.3' cy='89.2' r='4.75'/><circle cx='748.6' cy='122.1' r='4.75'/><circle cx='807.8' cy='82.9' r='4.75'/><circle cx='748.2' cy='111.8' r='4.75'/><circle cx='764.0' cy='107.7' r='4.75'/><circle cx='783.7' cy='103.9' r='4.75'/><circle cx='798.5' cy='84.0' r='4.75'/><circle cx='786.6' cy='98.5' r='4.75'/><circle cx='774.0' cy='96.8' r='4.75'/><circle cx='800.9' cy='85.8' r='4.75'/><circle cx='735.9' cy='124.6' r='4.75'/><circle cx='770.9' cy='108.8' r='4.75'/><circle cx='847.0' cy='61.5' r='4.75'/><circle cx='734.5' cy='124.7' r='4.75'/><circle cx='747.6' cy='135.2' r='4.75'/><circle cx='812.4' cy='81.9' r='4.75'/><circle cx='732.3' cy='137.1' r='4.75'/><circle cx='791.0' cy='105.9' r='4.75'/><circle cx='751.7' cy='118.8' r='4.75'/><circle cx='800.8' cy='81.4' r='4.75'/><circle cx='761.8' cy='111.8' r='4.75'/><circle cx='722.3' cy='146.7' r='4.75'/><circle cx='835.1' cy='62.7' r='4.75'/><circle cx='817.6' cy='73.9' r='4.75'/><circle cx='730.7' cy='132.3' r='4.75'/><circle cx='828.5' cy='67.3' r='4.75'/><circle cx='775.9' cy='111.8' r='4.75'/><circle cx='735.5' cy='146.5' r='4.75'/><circle cx='774.6' cy='97.5' r='4.75'/><circle cx='746.8' cy='121.4' r='4.75'/><circle cx='717.3' cy='146.3' r='4.75'/><circle cx='792.6' cy='72.2' r='4.75'/><circle cx='767.3' cy='111.5' r='4.75'/><circle cx='752.5' cy='124.4' r='4.75'/><circle cx='782.9' cy='91.4' r='4.75'/><circle cx='811.9' cy='74.4' r='4.75'/><circle cx='720.8' cy='146.3' r='4.75'/><circle cx='707.5' cy='149.7' r='4.75'/><circle cx='829.7' cy='63.3' r='4.75'/><circle cx='817.0' cy='76.1' r='4.75'/><circle cx='843.7' cy='65.1' r='4.75'/><circle cx='741.0' cy='133.2' r='4.75'/><circle cx='703.7' cy='148.5' r='4.75'/><circle cx='785.2' cy='104.3' r='4.75'/><circle cx='840.2' cy='64.3' r='4.75'/><circle cx='741.1' cy='117.4' r='4.75'/><circle cx='755.8' cy='116.0' r='4.75'/><circle cx='732.2' cy='144.5' r='4.75'/><circle cx='714.7' cy='143.9' r='4.75'/><circle cx='786.2' cy='92.6' r='4.75'/><circle cx='823.8' cy='77.0' r='4.75'/><circle cx='783.3' cy='92.8' r='4.75'/><circle cx='768.5' cy='101.2' r='4.75'/><circle cx='827.8' cy='69.5' r='4.75'/><circle cx='743.5' cy='131.8' r='4.75'/><circle cx='820.1' cy='74.4' r='4.75'/><circle cx='796.1' cy='90.8' r='4.75'/><circle cx='742.0' cy='122.6' r='4.75'/><circle cx='740.1' cy='140.6' r='4.75'/><circle cx='748.4' cy='123.5' r='4.75'/><circle cx='826.5' cy='68.1' r='4.75'/><circle cx='752.1' cy='130.9' r='4.75'/><circle cx='755.7' cy='105.2' r='4.75'/><circle cx='836.6' cy='66.6' r='4.75'/><circle cx='733.4' cy='130.8' r='4.75'/><circle cx='808.2' cy='80.9' r='4.75'/><circle cx='753.8' cy='123.2' r='4.75'/><circle cx='717.2' cy='156.2' r='4.75'/><circle cx='808.0' cy='76.9' r='4.75'/><circle cx='703.3' cy='157.8' r='4.75'/><circle cx='833.6' cy='64.2' r='4.75'/><circle cx='771.3' cy='103.9' r='4.75'/><circle cx='745.1' cy='111.4' r='4.75'/><circle cx='833.2' cy='74.2' r='4.75'/><circle cx='717.3' cy='146.0' r='4.75'/><circle cx='791.8' cy='90.9' r='4.75'/><circle cx='806.3' cy='78.7' r='4.75'/><circle cx='737.7' cy='130.1' r='4.75'/><circle cx='782.6' cy='104.5' r='4.75'/><circle cx='712.2' cy='156.4' r='4.75'/><circle cx='718.0' cy='124.3' r='4.75'/><circle cx='774.2' cy='115.0' r='4.75'/><circle cx='707.0' cy='158.1' r='4.75'/><circle cx='760.3' cy='109.0' r='4.75'/><circle cx='747.7' cy='122.2' r='4.75'/><circle cx='788.9' cy='102.1' r='4.75'/><circle cx='712.8' cy='152.5' r='4.75'/><circle cx='760.4' cy='119.0' r='4.75'/><circle cx='751.0' cy='119.0' r='4.75'/><circle cx='744.6' cy='122.7' r='4.75'/><circle cx='722.2' cy='138.1' r='4.75'/><circle cx='821.0' cy='73.7' r='4.75'/><circle cx='733.1' cy='125.9' r='4.75'/><circle cx='772.2' cy='108.0' r='4.75'/><circle cx='824.3' cy='69.6' r='4.75'/><circle cx='703.9' cy='155.0' r='4.75'/><circle cx='782.0' cy='112.1' r='4.75'/><circle cx='746.4' cy='126.0' r='4.75'/><circle cx='731.8' cy='144.4' r='4.75'/><circle cx='701.9' cy='154.0' r='4.75'/><circle cx='731.8' cy='125.5' r='4.75'/><circle cx='732.7' cy='128.6' r='4.75'/><circle cx='810.8' cy='73.4' r='4.75'/><circle cx='730.7' cy='137.2' r='4.75'/><circle cx='707.4' cy='150.8' r='4.75'/><circle cx='701.5' cy='156.9' r='4.75'/><circle cx='823.5' cy='49.3' r='4.75'/><circle cx='811.8' cy='78.0' r='4.75'/><circle cx='742.0' cy='136.0' r='4.75'/><circle cx='792.3' cy='96.8' r='4.75'/><circle cx='768.9' cy='111.4' r='4.75'/><circle cx='775.2' cy='99.6' r='4.75'/><circle cx='786.1' cy='88.5' r='4.75'/><circle cx='785.7' cy='96.9' r='4.75'/><circle cx='796.5' cy='95.9' r='4.75'/><circle cx='756.6' cy='115.6' r='4.75'/><circle cx='738.8' cy='117.9' r='4.75'/><circle cx='774.8' cy='103.1' r='4.75'/><circle cx='811.5' cy='93.1' r='4.75'/><circle cx='747.8' cy='122.5' r='4.75'/><circle cx='793.2' cy='84.0' r='4.75'/><circle cx='744.0' cy='124.0' r='4.75'/><circle cx='713.3' cy='151.8' r='4.75'/><circle cx='795.9' cy='91.4' r='4.75'/><circle cx='788.3' cy='102.7' r='4.75'/><circle cx='792.4' cy='105.2' r='4.75'/><circle cx='787.5' cy='94.7' r='4.75'/><circle cx='775.0' cy='115.5' r='4.75'/><circle cx='844.1' cy='67.6' r='4.75'/><circle cx='830.6' cy='67.2' r='4.75'/><circle cx='778.2' cy='108.9' r='4.75'/><circle cx='727.2' cy='143.3' r='4.75'/><circle cx='719.6' cy='137.8' r='4.75'/><circle cx='742.1' cy='118.8' r='4.75'/><circle cx='719.6' cy='150.6' r='4.75'/><circle cx='713.5' cy='138.3' r='4.75'/><circle cx='837.2' cy='68.6' r='4.75'/><circle cx='786.6' cy='90.1' r='4.75'/><circle cx='780.1' cy='118.9' r='4.75'/><circle cx='777.3' cy='107.3' r='4.75'/><circle cx='779.4' cy='97.2' r='4.75'/><circle cx='726.7' cy='135.7' r='4.75'/><circle cx='780.2' cy='93.6' r='4.75'/><circle cx='736.1' cy='122.5' r='4.75'/><circle cx='746.2' cy='121.6' r='4.75'/><circle cx='849.9' cy='61.0' r='4.75'/><circle cx='754.1' cy='107.8' r='4.75'/><circle cx='814.0' cy='83.0' r='4.75'/><circle cx='735.1' cy='119.0' r='4.75'/><circle cx='837.7' cy='61.8' r='4.75'/><circle cx='749.8' cy='123.7' r='4.75'/><circle cx='776.8' cy='108.3' r='4.75'/><circle cx='699.6' cy='159.4' r='4.75'/><circle cx='717.4' cy='142.5' r='4.75'/><circle cx='747.1' cy='95.6' r='4.75'/><circle cx='719.1' cy='157.4' r='4.75'/><circle cx='779.9' cy='121.4' r='4.75'/><circle cx='792.9' cy='96.9' r='4.75'/><circle cx='740.5' cy='130.4' r='4.75'/><circle cx='759.3' cy='122.9' r='4.75'/><circle cx='791.9' cy='101.6' r='4.75'/><circle cx='698.9' cy='156.0' r='4.75'/><circle cx='849.3' cy='59.9' r='4.75'/><circle cx='763.4' cy='102.6' r='4.75'/><circle cx='814.4' cy='83.9' r='4.75'/><circle cx='805.3' cy='82.0' r='4.75'/><circle cx='716.9' cy='131.5' r='4.75'/><circle cx='719.1' cy='145.0' r='4.75'/><circle cx='753.6' cy='111.1' r='4.75'/><circle cx='734.6' cy='134.7' r='4.75'/><circle cx='704.5' cy='153.2' r='4.75'/><circle cx='740.5' cy='119.2' r='4.75'/><circle cx='739.5' cy='132.2' r='4.75'/><circle cx='819.6' cy='75.8' r='4.75'/><circle cx='732.7' cy='134.4' r='4.75'/><circle cx='765.7' cy='111.2' r='4.75'/><circle cx='805.9' cy='82.1' r='4.75'/><circle cx='771.4' cy='105.5' r='4.75'/><circle cx='761.8' cy='102.9' r='4.75'/><circle cx='829.0' cy='67.6' r='4.75'/><circle cx='704.3' cy='156.0' r='4.75'/><circle cx='845.2' cy='62.3' r='4.75'/><circle cx='775.7' cy='106.0' r='4.75'/><circle cx='729.3' cy='135.5' r='4.75'/><circle cx='783.6' cy='105.3' r='4.75'/><circle cx='752.8' cy='102.6' r='4.75'/><circle cx='789.2' cy='109.3' r='4.75'/><circle cx='779.6' cy='102.2' r='4.75'/><circle cx='795.9' cy='82.8' r='4.75'/><circle cx='777.1' cy='104.0' r='4.75'/><circle cx='737.4' cy='136.3' r='4.75'/><circle cx='749.6' cy='117.5' r='4.75'/><circle cx='844.2' cy='66.8' r='4.75'/><circle cx='830.0' cy='73.8' r='4.75'/><circle cx='836.5' cy='63.7' r='4.75'/><circle cx='743.4' cy='130.2' r='4.75'/><circle cx='812.2' cy='80.1' r='4.75'/><circle cx='834.4' cy='64.2' r='4.75'/><circle cx='742.3' cy='129.2' r='4.75'/><circle cx='717.6' cy='144.0' r='4.75'/><circle cx='795.3' cy='94.5' r='4.75'/><circle cx='764.3' cy='108.1' r='4.75'/><circle cx='786.0' cy='98.0' r='4.75'/><circle cx='807.0' cy='82.5' r='4.75'/><circle cx='833.8' cy='69.3' r='4.75'/><circle cx='767.2' cy='103.6' r='4.75'/><circle cx='711.7' cy='154.1' r='4.75'/><circle cx='848.3' cy='62.7' r='4.75'/><circle cx='769.3' cy='102.2' r='4.75'/><circle cx='810.0' cy='79.1' r='4.75'/><circle cx='745.9' cy='121.7' r='4.75'/><circle cx='769.3' cy='108.4' r='4.75'/><circle cx='822.0' cy='70.3' r='4.75'/><circle cx='732.5' cy='135.9' r='4.75'/><circle cx='764.5' cy='120.2' r='4.75'/><circle cx='758.9' cy='125.6' r='4.75'/><circle cx='768.6' cy='93.8' r='4.75'/><circle cx='715.7' cy='142.7' r='4.75'/><circle cx='790.5' cy='105.5' r='4.75'/><circle cx='798.7' cy='91.4' r='4.75'/><circle cx='773.6' cy='77.0' r='4.75'/><circle cx='788.3' cy='87.6' r='4.75'/><circle cx='705.5' cy='148.8' r='4.75'/><circle cx='776.2' cy='93.8' r='4.75'/><circle cx='704.3' cy='155.4' r='4.75'/><circle cx='802.4' cy='92.0' r='4.75'/><circle cx='741.7' cy='121.9' r='4.75'/><circle cx='704.5' cy='152.5' r='4.75'/><circle cx='714.1' cy='152.1' r='4.75'/><circle cx='786.1' cy='90.0' r='4.75'/><circle cx='777.1' cy='110.9' r='4.75'/><circle cx='796.0' cy='87.3' r='4.75'/><circle cx='751.5' cy='113.4' r='4.75'/><circle cx='770.8' cy='105.2' r='4.75'/><circle cx='750.4' cy='125.5' r='4.75'/><circle cx='826.5' cy='74.2' r='4.75'/><circle cx='795.5' cy='80.6' r='4.75'/><circle cx='775.8' cy='113.3' r='4.75'/><circle cx='843.1' cy='64.2' r='4.75'/><circle cx='795.3' cy='101.9' r='4.75'/><circle cx='714.3' cy='149.7' r='4.75'/><circle cx='724.9' cy='142.3' r='4.75'/><circle cx='792.3' cy='95.0' r='4.75'/><circle cx='753.4' cy='125.4' r='4.75'/><circle cx='703.6' cy='151.3' r='4.75'/><circle cx='718.9' cy='142.8' r='4.75'/><circle cx='722.4' cy='141.4' r='4.75'/><circle cx='785.1' cy='109.7' r='4.75'/><circle cx='848.4' cy='61.0' r='4.75'/><circle cx='740.5' cy='122.0' r='4.75'/><circle cx='758.2' cy='124.0' r='4.75'/><circle cx='838.7' cy='66.9' r='4.75'/><circle cx='757.0' cy='93.1' r='4.75'/><circle cx='701.4' cy='157.3' r='4.75'/><circle cx='767.6' cy='101.7' r='4.75'/><circle cx='782.9' cy='94.1' r='4.75'/><circle cx='773.3' cy='101.7' r='4.75'/><circle cx='782.9' cy='97.1' r='4.75'/><circle cx='801.2' cy='83.8' r='4.75'/><circle cx='795.7' cy='89.6' r='4.75'/><circle cx='757.4' cy='115.1' r='4.75'/><circle cx='727.7' cy='136.3' r='4.75'/><circle cx='745.4' cy='120.9' r='4.75'/><circle cx='708.4' cy='147.1' r='4.75'/><circle cx='791.3' cy='92.7' r='4.75'/><circle cx='796.4' cy='81.1' r='4.75'/><circle cx='779.9' cy='107.2' r='4.75'/><circle cx='766.1' cy='117.1' r='4.75'/><circle cx='825.1' cy='77.8' r='4.75'/><circle cx='767.9' cy='90.0' r='4.75'/><circle cx='753.1' cy='134.9' r='4.75'/><circle cx='791.2' cy='105.8' r='4.75'/><circle cx='780.5' cy='107.2' r='4.75'/><circle cx='741.0' cy='126.7' r='4.75'/><circle cx='807.0' cy='84.7' r='4.75'/><circle cx='739.0' cy='115.8' r='4.75'/><circle cx='755.1' cy='117.1' r='4.75'/><circle cx='770.1' cy='111.7' r='4.75'/><circle cx='790.5' cy='87.3' r='4.75'/><circle cx='728.1' cy='138.9' r='4.75'/><circle cx='835.1' cy='71.5' r='4.75'/><circle cx='816.8' cy='76.8' r='4.75'/><circle cx='770.4' cy='104.4' r='4.75'/><circle cx='799.0' cy='95.7' r='4.75'/><circle cx='734.3' cy='119.0' r='4.75'/><circle cx='706.7' cy='151.0' r='4.75'/><circle cx='769.8' cy='110.0' r='4.75'/><circle cx='705.1' cy='153.2' r='4.75'/><circle cx='780.9' cy='119.0' r='4.75'/><circle cx='814.0' cy='78.9' r='4.75'/><circle cx='800.9' cy='82.4' r='4.75'/><circle cx='707.0' cy='153.1' r='4.75'/><circle cx='760.3' cy='104.1' r='4.75'/><circle cx='699.9' cy='156.9' r='4.75'/><circle cx='725.0' cy='137.2' r='4.75'/><circle cx='750.7' cy='118.5' r='4.75'/><circle cx='753.7' cy='115.8' r='4.75'/><circle cx='766.1' cy='114.0' r='4.75'/><circle cx='811.0' cy='82.5' r='4.75'/><circle cx='772.7' cy='104.8' r='4.75'/><circle cx='802.7' cy='79.5' r='4.75'/><circle cx='779.3' cy='115.5' r='4.75'/><circle cx='794.5' cy='97.8' r='4.75'/><circle cx='824.5' cy='67.8' r='4.75'/><circle cx='712.0' cy='144.8' r='4.75'/><circle cx='727.6' cy='133.2' r='4.75'/><circle cx='766.5' cy='116.4' r='4.75'/><circle cx='827.5' cy='68.8' r='4.75'/><circle cx='786.8' cy='98.5' r='4.75'/><circle cx='757.1' cy='111.2' r='4.75'/><circle cx='746.8' cy='123.6' r='4.75'/><circle cx='792.0' cy='88.4' r='4.75'/><circle cx='768.5' cy='102.3' r='4.75'/><circle cx='783.4' cy='105.0' r='4.75'/><circle cx='737.4' cy='129.9' r='4.75'/><circle cx='803.6' cy='79.4' r='4.75'/><circle cx='834.0' cy='63.8' r='4.75'/><circle cx='746.6' cy='113.8' r='4.75'/><circle cx='804.9' cy='82.3' r='4.75'/><circle cx='760.9' cy='112.8' r='4.75'/><circle cx='762.8' cy='111.8' r='4.75'/><circle cx='818.0' cy='80.0' r='4.75'/><circle cx='798.9' cy='82.9' r='4.75'/><circle cx='746.9' cy='116.9' r='4.75'/><circle cx='754.2' cy='135.6' r='4.75'/><circle cx='733.7' cy='142.6' r='4.75'/><circle cx='757.6' cy='109.9' r='4.75'/><circle cx='784.3' cy='87.8' r='4.75'/><circle cx='737.2' cy='151.8' r='4.75'/><circle cx='771.2' cy='122.5' r='4.75'/><circle cx='783.5' cy='101.8' r='4.75'/><circle cx='728.2' cy='139.2' r='4.75'/><circle cx='746.5' cy='129.7' r='4.75'/><circle cx='762.5' cy='135.2' r='4.75'/><circle cx='747.1' cy='128.2' r='4.75'/><circle cx='743.1' cy='120.2' r='4.75'/><circle cx='712.1' cy='147.9' r='4.75'/><circle cx='776.6' cy='105.7' r='4.75'/><circle cx='788.6' cy='91.6' r='4.75'/><circle cx='807.0' cy='89.8' r='4.75'/><circle cx='703.4' cy='151.8' r='4.75'/><circle cx='710.6' cy='151.7' r='4.75'/><circle cx='767.9' cy='107.6' r='4.75'/><circle cx='772.2' cy='109.7' r='4.75'/><circle cx='773.1' cy='117.7' r='4.75'/><circle cx='709.2' cy='156.1' r='4.75'/><circle cx='763.4' cy='127.5' r='4.75'/><circle cx='762.9' cy='115.3' r='4.75'/><circle cx='819.0' cy='73.5' r='4.75'/><circle cx='832.5' cy='62.9' r='4.75'/><circle cx='793.6' cy='93.7' r='4.75'/><circle cx='829.4' cy='67.4' r='4.75'/><circle cx='769.7' cy='107.3' r='4.75'/><circle cx='773.8' cy='113.5' r='4.75'/><circle cx='793.4' cy='100.1' r='4.75'/><circle cx='704.3' cy='154.7' r='4.75'/><circle cx='730.5' cy='132.5' r='4.75'/><circle cx='808.2' cy='82.6' r='4.75'/><circle cx='794.2' cy='102.3' r='4.75'/><circle cx='704.4' cy='151.4' r='4.75'/><circle cx='770.5' cy='95.2' r='4.75'/><circle cx='797.3' cy='80.3' r='4.75'/><circle cx='797.8' cy='89.3' r='4.75'/><circle cx='787.6' cy='100.7' r='4.75'/><circle cx='799.6' cy='91.7' r='4.75'/><circle cx='717.8' cy='142.5' r='4.75'/><circle cx='708.0' cy='158.1' r='4.75'/><circle cx='810.8' cy='84.4' r='4.75'/><circle cx='819.8' cy='75.2' r='4.75'/><circle cx='704.9' cy='155.3' r='4.75'/><circle cx='766.4' cy='100.5' r='4.75'/><circle cx='818.4' cy='75.2' r='4.75'/><circle cx='833.2' cy='73.6' r='4.75'/><circle cx='766.5' cy='92.5' r='4.75'/><circle cx='701.7' cy='160.7' r='4.75'/><circle cx='837.3' cy='69.8' r='4.75'/><circle cx='704.6' cy='154.6' r='4.75'/><circle cx='820.2' cy='69.7' r='4.75'/><circle cx='818.2' cy='77.0' r='4.75'/><circle cx='794.5' cy='81.1' r='4.75'/><circle cx='755.9' cy='88.8' r='4.75'/><circle cx='842.0' cy='64.6' r='4.75'/><circle cx='742.6' cy='130.6' r='4.75'/><circle cx='796.0' cy='88.7' r='4.75'/><circle cx='712.4' cy='144.7' r='4.75'/><circle cx='727.2' cy='138.8' r='4.75'/><circle cx='724.0' cy='142.3' r='4.75'/><circle cx='738.5' cy='123.5' r='4.75'/><circle cx='725.8' cy='130.0' r='4.75'/><circle cx='829.1' cy='66.2' r='4.75'/><circle cx='713.1' cy='151.4' r='4.75'/><circle cx='788.5' cy='90.9' r='4.75'/><circle cx='758.8' cy='110.0' r='4.75'/><circle cx='812.7' cy='79.5' r='4.75'/><circle cx='775.1' cy='110.0' r='4.75'/><circle cx='810.7' cy='91.2' r='4.75'/><circle cx='714.8' cy='147.4' r='4.75'/><circle cx='764.3' cy='113.9' r='4.75'/><circle cx='697.7' cy='155.4' r='4.75'/><circle cx='747.0' cy='129.4' r='4.75'/><circle cx='742.5' cy='128.0' r='4.75'/><circle cx='712.5' cy='153.9' r='4.75'/><circle cx='727.9' cy='138.4' r='4.75'/><circle cx='708.7' cy='148.0' r='4.75'/><circle cx='848.9' cy='60.7' r='4.75'/><circle cx='754.0' cy='107.1' r='4.75'/><circle cx='740.0' cy='121.5' r='4.75'/><circle cx='810.6' cy='90.6' r='4.75'/><circle cx='709.4' cy='151.1' r='4.75'/><circle cx='781.9' cy='88.0' r='4.75'/><circle cx='733.2' cy='140.6' r='4.75'/><circle cx='775.1' cy='104.0' r='4.75'/><circle cx='787.8' cy='93.1' r='4.75'/><circle cx='812.0' cy='79.1' r='4.75'/><circle cx='835.2' cy='60.5' r='4.75'/><circle cx='720.2' cy='147.4' r='4.75'/><circle cx='836.4' cy='62.1' r='4.75'/><circle cx='738.4' cy='137.7' r='4.75'/><circle cx='711.7' cy='149.1' r='4.75'/><circle cx='804.3' cy='95.2' r='4.75'/><circle cx='762.4' cy='113.5' r='4.75'/><circle cx='747.3' cy='139.9' r='4.75'/><circle cx='705.2' cy='151.5' r='4.75'/><circle cx='783.1' cy='91.2' r='4.75'/><circle cx='754.5' cy='128.7' r='4.75'/><circle cx='735.7' cy='130.6' r='4.75'/><circle cx='797.7' cy='104.1' r='4.75'/><circle cx='793.7' cy='94.8' r='4.75'/><circle cx='788.0' cy='68.3' r='4.75'/><circle cx='771.8' cy='101.9' r='4.75'/><circle cx='801.5' cy='92.6' r='4.75'/><circle cx='778.6' cy='104.0' r='4.75'/><circle cx='759.6' cy='119.2' r='4.75'/><circle cx='813.1' cy='79.5' r='4.75'/><circle cx='762.9' cy='102.2' r='4.75'/><circle cx='811.9' cy='77.0' r='4.75'/><circle cx='784.5' cy='87.5' r='4.75'/><circle cx='723.8' cy='137.4' r='4.75'/><circle cx='721.7' cy='133.4' r='4.75'/><circle cx='814.8' cy='79.3' r='4.75'/><circle cx='830.1' cy='69.2' r='4.75'/><circle cx='762.4' cy='97.9' r='4.75'/><circle cx='775.3' cy='98.5' r='4.75'/><circle cx='705.1' cy='156.6' r='4.75'/><circle cx='734.9' cy='131.9' r='4.75'/><circle cx='831.5' cy='60.5' r='4.75'/><circle cx='801.8' cy='84.2' r='4.75'/><circle cx='707.1' cy='152.7' r='4.75'/><circle cx='712.4' cy='153.1' r='4.75'/><circle cx='729.8' cy='131.8' r='4.75'/><circle cx='726.4' cy='135.8' r='4.75'/><circle cx='748.3' cy='107.9' r='4.75'/><circle cx='721.0' cy='140.3' r='4.75'/><circle cx='795.9' cy='89.9' r='4.75'/><circle cx='736.3' cy='134.0' r='4.75'/><circle cx='766.4' cy='123.1' r='4.75'/><circle cx='766.4' cy='114.3' r='4.75'/><circle cx='760.5' cy='108.0' r='4.75'/><circle cx='748.6' cy='126.2' r='4.75'/><circle cx='813.0' cy='75.5' r='4.75'/><circle cx='711.3' cy='157.2' r='4.75'/><circle cx='785.1' cy='93.3' r='4.75'/><circle cx='790.1' cy='110.4' r='4.75'/><circle cx='761.3' cy='121.9' r='4.75'/><circle cx='751.5' cy='113.5' r='4.75'/><circle cx='845.4' cy='69.8' r='4.75'/><circle cx='744.4' cy='125.1' r='4.75'/><circle cx='727.3' cy='137.8' r='4.75'/><circle cx='839.9' cy='60.1' r='4.75'/><circle cx='760.4' cy='122.6' r='4.75'/><circle cx='745.7' cy='110.8' r='4.75'/><circle cx='784.2' cy='106.1' r='4.75'/><circle cx='730.3' cy='144.3' r='4.75'/><circle cx='840.3' cy='71.1' r='4.75'/><circle cx='842.6' cy='67.5' r='4.75'/><circle cx='790.8' cy='94.2' r='4.75'/><circle cx='824.1' cy='70.5' r='4.75'/><circle cx='718.3' cy='150.1' r='4.75'/><circle cx='750.8' cy='107.6' r='4.75'/><circle cx='828.8' cy='71.1' r='4.75'/><circle cx='827.7' cy='73.9' r='4.75'/><circle cx='820.7' cy='76.9' r='4.75'/><circle cx='739.9' cy='134.2' r='4.75'/><circle cx='767.1' cy='93.8' r='4.75'/><circle cx='726.3' cy='135.7' r='4.75'/><circle cx='708.8' cy='148.2' r='4.75'/><circle cx='774.9' cy='109.5' r='4.75'/><circle cx='797.8' cy='79.9' r='4.75'/><circle cx='818.8' cy='75.4' r='4.75'/><circle cx='806.9' cy='85.8' r='4.75'/><circle cx='827.5' cy='72.7' r='4.75'/><circle cx='784.0' cy='98.4' r='4.75'/><circle cx='753.2' cy='112.1' r='4.75'/><circle cx='700.1' cy='156.0' r='4.75'/><circle cx='714.7' cy='145.1' r='4.75'/><circle cx='749.6' cy='110.0' r='4.75'/><circle cx='724.6' cy='140.5' r='4.75'/><circle cx='726.8' cy='129.4' r='4.75'/><circle cx='711.9' cy='150.4' r='4.75'/><circle cx='842.9' cy='61.9' r='4.75'/><circle cx='847.7' cy='61.7' r='4.75'/><circle cx='757.0' cy='125.4' r='4.75'/><circle cx='775.2' cy='111.2' r='4.75'/><circle cx='720.1' cy='145.5' r='4.75'/><circle cx='719.4' cy='144.5' r='4.75'/><circle cx='842.9' cy='59.3' r='4.75'/><circle cx='780.6' cy='91.9' r='4.75'/><circle cx='750.0' cy='120.3' r='4.75'/><circle cx='704.3' cy='148.6' r='4.75'/><circle cx='788.6' cy='98.7' r='4.75'/><circle cx='773.7' cy='103.8' r='4.75'/><circle cx='721.9' cy='136.7' r='4.75'/><circle cx='802.1' cy='84.8' r='4.75'/><circle cx='718.2' cy='149.4' r='4.75'/><circle cx='725.8' cy='143.9' r='4.75'/><circle cx='734.6' cy='130.1' r='4.75'/><circle cx='760.0' cy='103.6' r='4.75'/><circle cx='725.9' cy='133.4' r='4.75'/><circle cx='725.5' cy='150.5' r='4.75'/><circle cx='730.7' cy='131.8' r='4.75'/><circle cx='782.6' cy='96.7' r='4.75'/><circle cx='795.9' cy='87.6' r='4.75'/><circle cx='772.3' cy='97.0' r='4.75'/><circle cx='729.0' cy='132.9' r='4.75'/><circle cx='726.3' cy='134.5' r='4.75'/><circle cx='729.7' cy='137.9' r='4.75'/><circle cx='726.7' cy='137.8' r='4.75'/><circle cx='724.6' cy='149.0' r='4.75'/><circle cx='809.3' cy='82.8' r='4.75'/><circle cx='700.1' cy='158.8' r='4.75'/><circle cx='751.1' cy='127.1' r='4.75'/><circle cx='706.6' cy='159.0' r='4.75'/><circle cx='744.6' cy='131.0' r='4.75'/><circle cx='766.4' cy='116.1' r='4.75'/><circle cx='788.0' cy='114.9' r='4.75'/><circle cx='783.3' cy='97.5' r='4.75'/><circle cx='808.5' cy='81.8' r='4.75'/><circle cx='757.2' cy='126.4' r='4.75'/><circle cx='843.4' cy='64.2' r='4.75'/><circle cx='848.1' cy='63.9' r='4.75'/><circle cx='837.6' cy='63.8' r='4.75'/><circle cx='721.4' cy='153.1' r='4.75'/><circle cx='774.6' cy='108.4' r='4.75'/><circle cx='748.1' cy='129.1' r='4.75'/><circle cx='844.4' cy='64.0' r='4.75'/><circle cx='747.5' cy='133.5' r='4.75'/><circle cx='785.2' cy='92.0' r='4.75'/><circle cx='764.2' cy='99.7' r='4.75'/><circle cx='793.0' cy='107.3' r='4.75'/><circle cx='773.0' cy='111.8' r='4.75'/><circle cx='820.9' cy='88.8' r='4.75'/><circle cx='751.1' cy='116.9' r='4.75'/><circle cx='840.7' cy='63.6' r='4.75'/><circle cx='851.7' cy='60.1' r='4.75'/><circle cx='804.1' cy='84.5' r='4.75'/><circle cx='723.5' cy='142.1' r='4.75'/><circle cx='729.5' cy='144.5' r='4.75'/><circle cx='784.0' cy='100.0' r='4.75'/><circle cx='735.9' cy='130.9' r='4.75'/><circle cx='798.1' cy='86.2' r='4.75'/><circle cx='765.2' cy='131.4' r='4.75'/><circle cx='752.6' cy='114.3' r='4.75'/><circle cx='715.2' cy='147.2' r='4.75'/><circle cx='742.3' cy='120.6' r='4.75'/><circle cx='723.3' cy='144.5' r='4.75'/><circle cx='793.0' cy='92.7' r='4.75'/><circle cx='829.5' cy='76.0' r='4.75'/><circle cx='717.8' cy='136.2' r='4.75'/><circle cx='759.8' cy='107.2' r='4.75'/><circle cx='706.6' cy='159.7' r='4.75'/><circle cx='778.3' cy='111.9' r='4.75'/><circle cx='789.0' cy='96.7' r='4.75'/><circle cx='775.7' cy='99.2' r='4.75'/><circle cx='780.3' cy='97.6' r='4.75'/><circle cx='778.0' cy='96.6' r='4.75'/><circle cx='770.8' cy='101.1' r='4.75'/><circle cx='845.0' cy='58.7' r='4.75'/><circle cx='722.5' cy='134.1' r='4.75'/><circle cx='759.6' cy='113.6' r='4.75'/><circle cx='806.3' cy='83.3' r='4.75'/><circle cx='762.2' cy='109.0' r='4.75'/><circle cx='710.3' cy='142.2' r='4.75'/><circle cx='720.3' cy='143.7' r='4.75'/><circle cx='839.5' cy='63.8' r='4.75'/><circle cx='715.6' cy='136.7' r='4.75'/><circle cx='800.4' cy='85.1' r='4.75'/><circle cx='790.8' cy='96.6' r='4.75'/><circle cx='801.8' cy='88.8' r='4.75'/><circle cx='763.1' cy='114.0' r='4.75'/><circle cx='723.2' cy='143.4' r='4.75'/><circle cx='753.7' cy='122.3' r='4.75'/><circle cx='804.3' cy='85.8' r='4.75'/><circle cx='797.7' cy='84.0' r='4.75'/><circle cx='765.1' cy='133.2' r='4.75'/><circle cx='782.7' cy='95.8' r='4.75'/><circle cx='780.6' cy='86.1' r='4.75'/><circle cx='750.2' cy='121.4' r='4.75'/><circle cx='718.4' cy='149.3' r='4.75'/><circle cx='833.9' cy='69.7' r='4.75'/><circle cx='779.2' cy='103.8' r='4.75'/><circle cx='810.4' cy='95.2' r='4.75'/><circle cx='778.8' cy='85.1' r='4.75'/><circle cx='801.7' cy='75.7' r='4.75'/><circle cx='743.3' cy='131.8' r='4.75'/><circle cx='800.1' cy='93.5' r='4.75'/><circle cx='757.3' cy='104.5' r='4.75'/><circle cx='733.2' cy='137.0' r='4.75'/><circle cx='819.6' cy='86.3' r='4.75'/><circle cx='737.2' cy='124.5' r='4.75'/><circle cx='722.6' cy='142.1' r='4.75'/><circle cx='726.4' cy='158.2' r='4.75'/><circle cx='741.4' cy='121.1' r='4.75'/><circle cx='786.4' cy='90.7' r='4.75'/><circle cx='815.5' cy='74.9' r='4.75'/><circle cx='752.8' cy='107.4' r='4.75'/><circle cx='745.5' cy='141.9' r='4.75'/><circle cx='712.8' cy='149.6' r='4.75'/><circle cx='731.5' cy='144.1' r='4.75'/><circle cx='750.4' cy='113.6' r='4.75'/><circle cx='762.1' cy='104.9' r='4.75'/><circle cx='746.7' cy='117.9' r='4.75'/><circle cx='769.3' cy='117.8' r='4.75'/><circle cx='725.9' cy='141.2' r='4.75'/><circle cx='724.1' cy='136.9' r='4.75'/><circle cx='814.7' cy='79.0' r='4.75'/><circle cx='776.7' cy='103.9' r='4.75'/><circle cx='808.4' cy='77.9' r='4.75'/><circle cx='800.9' cy='81.0' r='4.75'/><circle cx='707.3' cy='153.9' r='4.75'/><circle cx='791.4' cy='93.4' r='4.75'/><circle cx='715.4' cy='129.9' r='4.75'/><circle cx='758.0' cy='119.5' r='4.75'/><circle cx='754.6' cy='116.1' r='4.75'/><circle cx='771.5' cy='102.7' r='4.75'/><circle cx='723.5' cy='140.0' r='4.75'/><circle cx='704.3' cy='158.6' r='4.75'/><circle cx='741.3' cy='137.9' r='4.75'/><circle cx='769.6' cy='105.1' r='4.75'/><circle cx='798.5' cy='96.8' r='4.75'/><circle cx='700.6' cy='154.0' r='4.75'/><circle cx='716.1' cy='143.7' r='4.75'/><circle cx='782.5' cy='98.1' r='4.75'/><circle cx='789.7' cy='93.5' r='4.75'/><circle cx='814.7' cy='74.1' r='4.75'/><circle cx='703.9' cy='152.9' r='4.75'/><circle cx='709.1' cy='156.6' r='4.75'/><circle cx='733.8' cy='140.1' r='4.75'/><circle cx='780.0' cy='95.7' r='4.75'/><circle cx='744.2' cy='126.0' r='4.75'/><circle cx='764.9' cy='122.3' r='4.75'/><circle cx='729.6' cy='146.4' r='4.75'/><circle cx='719.6' cy='146.9' r='4.75'/><circle cx='772.7' cy='93.5' r='4.75'/><circle cx='788.2' cy='101.8' r='4.75'/><circle cx='776.2' cy='87.1' r='4.75'/><circle cx='707.9' cy='155.5' r='4.75'/><circle cx='799.6' cy='80.7' r='4.75'/><circle cx='747.5' cy='123.8' r='4.75'/><circle cx='784.1' cy='91.2' r='4.75'/><circle cx='720.2' cy='128.1' r='4.75'/><circle cx='761.2' cy='106.7' r='4.75'/><circle cx='808.3' cy='86.3' r='4.75'/><circle cx='790.8' cy='94.0' r='4.75'/><circle cx='726.2' cy='142.2' r='4.75'/><circle cx='725.5' cy='144.7' r='4.75'/><circle cx='738.4' cy='141.5' r='4.75'/><circle cx='733.7' cy='129.0' r='4.75'/><circle cx='760.4' cy='110.1' r='4.75'/><circle cx='732.8' cy='131.1' r='4.75'/><circle cx='727.2' cy='138.9' r='4.75'/><circle cx='726.5' cy='146.3' r='4.75'/><circle cx='752.7' cy='100.1' r='4.75'/><circle cx='720.4' cy='140.9' r='4.75'/><circle cx='728.0' cy='142.8' r='4.75'/><circle cx='729.4' cy='132.0' r='4.75'/><circle cx='732.4' cy='129.0' r='4.75'/><circle cx='768.1' cy='125.2' r='4.75'/><circle cx='764.4' cy='113.2' r='4.75'/><circle cx='777.5' cy='98.4' r='4.75'/><circle cx='765.3' cy='104.2' r='4.75'/><circle cx='849.4' cy='61.4' r='4.75'/><circle cx='802.1' cy='93.4' r='4.75'/><circle cx='785.8' cy='87.2' r='4.75'/><circle cx='729.2' cy='132.6' r='4.75'/><circle cx='763.5' cy='122.8' r='4.75'/><circle cx='791.1' cy='96.3' r='4.75'/><circle cx='738.6' cy='122.3' r='4.75'/><circle cx='728.9' cy='144.2' r='4.75'/><circle cx='765.9' cy='113.4' r='4.75'/><circle cx='734.7' cy='135.5' r='4.75'/><circle cx='822.3' cy='69.1' r='4.75'/><circle cx='780.5' cy='116.8' r='4.75'/><circle cx='747.9' cy='130.7' r='4.75'/><circle cx='837.1' cy='61.9' r='4.75'/><circle cx='707.4' cy='148.4' r='4.75'/><circle cx='719.0' cy='142.6' r='4.75'/><circle cx='795.8' cy='87.3' r='4.75'/><circle cx='806.3' cy='80.7' r='4.75'/><circle cx='706.8' cy='158.7' r='4.75'/><circle cx='769.5' cy='110.8' r='4.75'/><circle cx='724.6' cy='143.5' r='4.75'/><circle cx='821.4' cy='81.3' r='4.75'/><circle cx='750.5' cy='121.3' r='4.75'/><circle cx='819.0' cy='77.9' r='4.75'/><circle cx='757.0' cy='115.7' r='4.75'/><circle cx='783.9' cy='111.0' r='4.75'/><circle cx='704.7' cy='155.7' r='4.75'/><circle cx='801.7' cy='89.3' r='4.75'/><circle cx='739.7' cy='123.9' r='4.75'/><circle cx='779.0' cy='105.7' r='4.75'/><circle cx='716.6' cy='145.8' r='4.75'/><circle cx='796.0' cy='96.1' r='4.75'/><circle cx='706.4' cy='153.9' r='4.75'/><circle cx='750.2' cy='115.8' r='4.75'/><circle cx='776.5' cy='95.0' r='4.75'/><circle cx='723.6' cy='138.9' r='4.75'/><circle cx='798.6' cy='91.6' r='4.75'/><circle cx='710.6' cy='148.5' r='4.75'/><circle cx='849.8' cy='59.3' r='4.75'/><circle cx='831.5' cy='73.3' r='4.75'/><circle cx='748.6' cy='125.6' r='4.75'/><circle cx='795.7' cy='92.7' r='4.75'/><circle cx='788.6' cy='94.2' r='4.75'/><circle cx='753.9' cy='124.6' r='4.75'/><circle cx='845.0' cy='61.9' r='4.75'/><circle cx='714.5' cy='151.3' r='4.75'/><circle cx='706.8' cy='153.9' r='4.75'/><circle cx='841.5' cy='61.3' r='4.75'/><circle cx='770.1' cy='98.8' r='4.75'/><circle cx='777.1' cy='88.1' r='4.75'/><circle cx='756.8' cy='132.5' r='4.75'/><circle cx='815.2' cy='74.0' r='4.75'/><circle cx='759.2' cy='127.9' r='4.75'/><circle cx='775.7' cy='104.6' r='4.75'/><circle cx='710.5' cy='143.6' r='4.75'/><circle cx='738.4' cy='121.2' r='4.75'/><circle cx='776.0' cy='89.4' r='4.75'/><circle cx='747.0' cy='126.6' r='4.75'/><circle cx='750.4' cy='128.2' r='4.75'/><circle cx='705.3' cy='149.5' r='4.75'/><circle cx='745.5' cy='116.7' r='4.75'/><circle cx='834.2' cy='71.0' r='4.75'/><circle cx='753.6' cy='111.1' r='4.75'/><circle cx='727.7' cy='137.3' r='4.75'/><circle cx='762.0' cy='124.1' r='4.75'/><circle cx='751.6' cy='134.8' r='4.75'/><circle cx='731.9' cy='135.5' r='4.75'/><circle cx='739.2' cy='131.5' r='4.75'/><circle cx='782.2' cy='94.4' r='4.75'/><circle cx='788.7' cy='96.8' r='4.75'/><circle cx='725.2' cy='134.6' r='4.75'/><circle cx='746.2' cy='129.0' r='4.75'/><circle cx='790.6' cy='110.3' r='4.75'/><circle cx='789.6' cy='92.1' r='4.75'/><circle cx='800.1' cy='81.9' r='4.75'/><circle cx='719.1' cy='140.4' r='4.75'/><circle cx='751.3' cy='117.8' r='4.75'/><circle cx='729.1' cy='140.2' r='4.75'/><circle cx='747.8' cy='123.3' r='4.75'/><circle cx='812.1' cy='86.2' r='4.75'/><circle cx='823.9' cy='74.0' r='4.75'/><circle cx='708.3' cy='154.8' r='4.75'/><circle cx='721.8' cy='134.8' r='4.75'/><circle cx='751.5' cy='115.9' r='4.75'/><circle cx='744.1' cy='136.3' r='4.75'/><circle cx='832.7' cy='60.9' r='4.75'/><circle cx='780.9' cy='101.5' r='4.75'/><circle cx='736.7' cy='143.9' r='4.75'/><circle cx='723.7' cy='143.8' r='4.75'/><circle cx='846.1' cy='64.5' r='4.75'/><circle cx='739.6' cy='121.3' r='4.75'/><circle cx='715.0' cy='150.1' r='4.75'/><circle cx='737.8' cy='134.1' r='4.75'/><circle cx='834.6' cy='66.0' r='4.75'/><circle cx='830.6' cy='64.1' r='4.75'/><circle cx='761.7' cy='112.4' r='4.75'/><circle cx='835.1' cy='62.2' r='4.75'/><circle cx='765.4' cy='106.1' r='4.75'/><circle cx='795.2' cy='91.9' r='4.75'/><circle cx='777.2' cy='87.0' r='4.75'/><circle cx='828.6' cy='75.7' r='4.75'/><circle cx='817.6' cy='84.5' r='4.75'/><circle cx='736.0' cy='133.3' r='4.75'/><circle cx='747.7' cy='107.4' r='4.75'/><circle cx='747.4' cy='134.0' r='4.75'/><circle cx='836.9' cy='68.7' r='4.75'/><circle cx='709.7' cy='150.7' r='4.75'/><circle cx='735.8' cy='132.8' r='4.75'/><circle cx='772.0' cy='112.7' r='4.75'/><circle cx='819.5' cy='75.1' r='4.75'/><circle cx='771.4' cy='101.1' r='4.75'/><circle cx='774.9' cy='110.5' r='4.75'/><circle cx='772.4' cy='115.3' r='4.75'/><circle cx='710.3' cy='144.4' r='4.75'/><circle cx='742.1' cy='124.0' r='4.75'/><circle cx='797.0' cy='65.7' r='4.75'/><circle cx='714.3' cy='144.9' r='4.75'/><circle cx='751.7' cy='113.0' r='4.75'/><circle cx='827.9' cy='70.1' r='4.75'/><circle cx='745.3' cy='148.1' r='4.75'/><circle cx='754.5' cy='112.4' r='4.75'/><circle cx='715.1' cy='151.7' r='4.75'/><circle cx='700.9' cy='157.4' r='4.75'/><circle cx='840.9' cy='64.7' r='4.75'/><circle cx='846.4' cy='59.3' r='4.75'/><circle cx='753.5' cy='118.8' r='4.75'/><circle cx='778.4' cy='120.4' r='4.75'/><circle cx='832.5' cy='71.7' r='4.75'/><circle cx='739.5' cy='124.9' r='4.75'/><circle cx='788.4' cy='91.7' r='4.75'/><circle cx='798.0' cy='86.0' r='4.75'/><circle cx='733.2' cy='141.1' r='4.75'/><circle cx='725.7' cy='139.5' r='4.75'/><circle cx='789.3' cy='80.9' r='4.75'/><circle cx='828.1' cy='72.0' r='4.75'/><circle cx='730.7' cy='137.4' r='4.75'/><circle cx='728.0' cy='137.3' r='4.75'/><circle cx='820.2' cy='65.7' r='4.75'/><circle cx='735.3' cy='153.0' r='4.75'/><circle cx='839.3' cy='59.7' r='4.75'/><circle cx='706.1' cy='157.2' r='4.75'/><circle cx='752.5' cy='125.1' r='4.75'/><circle cx='701.5' cy='159.0' r='4.75'/><circle cx='730.5' cy='131.2' r='4.75'/><circle cx='741.9' cy='109.2' r='4.75'/><circle cx='795.1' cy='97.5' r='4.75'/><circle cx='720.6' cy='140.5' r='4.75'/><circle cx='734.0' cy='130.1' r='4.75'/><circle cx='829.2' cy='72.4' r='4.75'/><circle cx='766.0' cy='104.4' r='4.75'/><circle cx='706.1' cy='148.6' r='4.75'/><circle cx='747.7' cy='116.8' r='4.75'/><circle cx='724.2' cy='143.6' r='4.75'/><circle cx='745.9' cy='125.5' r='4.75'/><circle cx='784.4' cy='96.7' r='4.75'/><circle cx='812.0' cy='75.3' r='4.75'/><circle cx='755.0' cy='128.7' r='4.75'/><circle cx='728.1' cy='142.7' r='4.75'/><circle cx='754.1' cy='106.3' r='4.75'/><circle cx='832.9' cy='74.4' r='4.75'/><circle cx='795.3' cy='93.9' r='4.75'/><circle cx='764.9' cy='109.9' r='4.75'/><circle cx='716.4' cy='143.6' r='4.75'/><circle cx='786.1' cy='101.8' r='4.75'/><circle cx='766.7' cy='120.3' r='4.75'/><circle cx='712.0' cy='145.2' r='4.75'/><circle cx='720.6' cy='141.2' r='4.75'/><circle cx='775.0' cy='99.5' r='4.75'/><circle cx='762.3' cy='117.0' r='4.75'/><circle cx='840.5' cy='63.1' r='4.75'/><circle cx='762.5' cy='119.5' r='4.75'/><circle cx='769.8' cy='104.9' r='4.75'/><circle cx='711.7' cy='146.6' r='4.75'/><circle cx='845.4' cy='57.2' r='4.75'/><circle cx='813.2' cy='77.2' r='4.75'/><circle cx='740.5' cy='132.0' r='4.75'/><circle cx='744.2' cy='127.3' r='4.75'/><circle cx='807.4' cy='88.0' r='4.75'/><circle cx='814.1' cy='77.5' r='4.75'/><circle cx='703.1' cy='156.4' r='4.75'/><circle cx='757.0' cy='108.2' r='4.75'/><circle cx='758.3' cy='120.5' r='4.75'/><circle cx='786.6' cy='94.5' r='4.75'/><circle cx='787.9' cy='103.8' r='4.75'/><circle cx='848.5' cy='62.4' r='4.75'/><circle cx='773.2' cy='114.6' r='4.75'/><circle cx='777.8' cy='108.1' r='4.75'/><circle cx='840.4' cy='64.6' r='4.75'/><circle cx='779.4' cy='101.6' r='4.75'/><circle cx='756.7' cy='117.4' r='4.75'/><circle cx='726.0' cy='142.2' r='4.75'/><circle cx='774.4' cy='111.8' r='4.75'/><circle cx='733.7' cy='134.4' r='4.75'/><circle cx='832.7' cy='72.6' r='4.75'/><circle cx='735.0' cy='128.6' r='4.75'/><circle cx='780.4' cy='108.1' r='4.75'/><circle cx='767.9' cy='119.1' r='4.75'/><circle cx='788.5' cy='109.6' r='4.75'/><circle cx='750.1' cy='109.4' r='4.75'/><circle cx='837.7' cy='66.5' r='4.75'/><circle cx='819.8' cy='74.9' r='4.75'/><circle cx='764.0' cy='110.0' r='4.75'/><circle cx='740.5' cy='122.5' r='4.75'/><circle cx='715.1' cy='150.6' r='4.75'/><circle cx='744.0' cy='122.3' r='4.75'/><circle cx='752.3' cy='134.3' r='4.75'/><circle cx='774.6' cy='105.8' r='4.75'/><circle cx='721.6' cy='140.7' r='4.75'/><circle cx='744.7' cy='119.0' r='4.75'/><circle cx='805.5' cy='80.9' r='4.75'/><circle cx='799.3' cy='93.7' r='4.75'/><circle cx='754.7' cy='113.6' r='4.75'/><circle cx='816.0' cy='59.5' r='4.75'/><circle cx='730.7' cy='140.6' r='4.75'/><circle cx='716.6' cy='147.8' r='4.75'/><circle cx='763.7' cy='113.4' r='4.75'/><circle cx='759.3' cy='110.6' r='4.75'/><circle cx='787.4' cy='99.9' r='4.75'/><circle cx='789.7' cy='90.0' r='4.75'/><circle cx='725.0' cy='143.6' r='4.75'/><circle cx='748.3' cy='133.6' r='4.75'/><circle cx='755.4' cy='108.4' r='4.75'/><circle cx='836.7' cy='65.5' r='4.75'/><circle cx='772.0' cy='112.3' r='4.75'/><circle cx='809.7' cy='89.0' r='4.75'/><circle cx='735.3' cy='126.4' r='4.75'/><circle cx='721.5' cy='142.7' r='4.75'/><circle cx='737.3' cy='126.7' r='4.75'/><circle cx='743.7' cy='135.6' r='4.75'/><circle cx='790.1' cy='93.7' r='4.75'/><circle cx='805.9' cy='82.9' r='4.75'/><circle cx='759.3' cy='129.8' r='4.75'/><circle cx='833.7' cy='66.8' r='4.75'/><circle cx='781.7' cy='102.4' r='4.75'/><circle cx='817.9' cy='68.5' r='4.75'/><circle cx='703.2' cy='153.9' r='4.75'/><circle cx='722.2' cy='145.9' r='4.75'/><circle cx='772.4' cy='104.1' r='4.75'/><circle cx='794.6' cy='109.1' r='4.75'/><circle cx='723.0' cy='132.7' r='4.75'/><circle cx='709.5' cy='156.2' r='4.75'/><circle cx='723.7' cy='140.9' r='4.75'/><circle cx='843.2' cy='62.1' r='4.75'/><circle cx='732.1' cy='134.0' r='4.75'/><circle cx='779.4' cy='109.2' r='4.75'/><circle cx='803.9' cy='92.2' r='4.75'/><circle cx='734.5' cy='143.4' r='4.75'/><circle cx='761.1' cy='94.7' r='4.75'/><circle cx='711.4' cy='149.8' r='4.75'/><circle cx='724.3' cy='147.9' r='4.75'/><circle cx='839.3' cy='60.0' r='4.75'/><circle cx='736.3' cy='132.9' r='4.75'/><circle cx='813.0' cy='78.5' r='4.75'/><circle cx='743.8' cy='132.8' r='4.75'/><circle cx='725.1' cy='143.1' r='4.75'/><circle cx='752.3' cy='122.4' r='4.75'/><circle cx='848.9' cy='61.5' r='4.75'/><circle cx='707.7' cy='157.1' r='4.75'/><circle cx='802.7' cy='85.6' r='4.75'/><circle cx='742.7' cy='131.6' r='4.75'/><circle cx='752.1' cy='110.4' r='4.75'/><circle cx='797.3' cy='93.9' r='4.75'/><circle cx='725.5' cy='139.1' r='4.75'/><circle cx='722.1' cy='145.6' r='4.75'/><circle cx='745.7' cy='112.9' r='4.75'/><circle cx='775.2' cy='106.0' r='4.75'/><circle cx='752.8' cy='132.7' r='4.75'/><circle cx='727.5' cy='142.3' r='4.75'/><circle cx='780.1' cy='115.4' r='4.75'/><circle cx='720.9' cy='141.9' r='4.75'/><circle cx='785.4' cy='95.1' r='4.75'/><circle cx='741.8' cy='137.7' r='4.75'/><circle cx='755.4' cy='105.8' r='4.75'/><circle cx='783.8' cy='92.1' r='4.75'/><circle cx='754.8' cy='127.6' r='4.75'/><circle cx='730.0' cy='138.7' r='4.75'/><circle cx='732.4' cy='129.8' r='4.75'/><circle cx='718.2' cy='145.7' r='4.75'/><circle cx='717.0' cy='145.1' r='4.75'/><circle cx='751.4' cy='120.4' r='4.75'/><circle cx='762.5' cy='116.4' r='4.75'/><circle cx='775.4' cy='104.2' r='4.75'/><circle cx='804.3' cy='97.1' r='4.75'/><circle cx='780.0' cy='94.3' r='4.75'/><circle cx='710.4' cy='149.4' r='4.75'/><circle cx='719.4' cy='146.4' r='4.75'/><circle cx='707.5' cy='147.9' r='4.75'/><circle cx='705.0' cy='148.7' r='4.75'/><circle cx='772.5' cy='125.1' r='4.75'/><circle cx='843.7' cy='60.1' r='4.75'/><circle cx='792.7' cy='80.7' r='4.75'/><circle cx='769.7' cy='102.5' r='4.75'/><circle cx='738.2' cy='129.3' r='4.75'/><circle cx='765.4' cy='114.4' r='4.75'/><circle cx='761.3' cy='103.3' r='4.75'/><circle cx='836.4' cy='66.9' r='4.75'/><circle cx='818.2' cy='79.5' r='4.75'/><circle cx='754.1' cy='122.6' r='4.75'/><circle cx='787.1' cy='95.6' r='4.75'/><circle cx='787.6' cy='94.0' r='4.75'/><circle cx='830.6' cy='72.0' r='4.75'/><circle cx='722.4' cy='137.7' r='4.75'/><circle cx='844.7' cy='62.4' r='4.75'/><circle cx='734.0' cy='131.8' r='4.75'/><circle cx='734.8' cy='131.6' r='4.75'/><circle cx='771.0' cy='96.9' r='4.75'/><circle cx='727.2' cy='140.8' r='4.75'/><circle cx='844.1' cy='64.6' r='4.75'/><circle cx='725.2' cy='138.0' r='4.75'/><circle cx='779.0' cy='111.5' r='4.75'/><circle cx='829.6' cy='67.0' r='4.75'/><circle cx='791.8' cy='112.7' r='4.75'/><circle cx='703.0' cy='153.6' r='4.75'/><circle cx='782.6' cy='99.8' r='4.75'/><circle cx='738.0' cy='120.2' r='4.75'/><circle cx='706.6' cy='153.3' r='4.75'/><circle cx='790.9' cy='100.7' r='4.75'/><circle cx='847.8' cy='61.9' r='4.75'/><circle cx='761.5' cy='114.8' r='4.75'/><circle cx='807.4' cy='88.4' r='4.75'/><circle cx='774.5' cy='91.3' r='4.75'/><circle cx='774.4' cy='99.7' r='4.75'/><circle cx='722.3' cy='132.1' r='4.75'/><circle cx='718.9' cy='142.9' r='4.75'/><circle cx='701.0' cy='153.9' r='4.75'/><circle cx='842.4' cy='64.2' r='4.75'/><circle cx='759.9' cy='130.3' r='4.75'/><circle cx='785.2' cy='95.1' r='4.75'/><circle cx='775.2' cy='103.8' r='4.75'/><circle cx='840.9' cy='60.6' r='4.75'/><circle cx='804.4' cy='76.0' r='4.75'/><circle cx='794.9' cy='92.6' r='4.75'/><circle cx='805.8' cy='87.7' r='4.75'/><circle cx='805.5' cy='80.6' r='4.75'/><circle cx='748.7' cy='127.1' r='4.75'/><circle cx='790.1' cy='102.1' r='4.75'/><circle cx='800.7' cy='95.4' r='4.75'/><circle cx='800.5' cy='90.2' r='4.75'/><circle cx='735.6' cy='131.6' r='4.75'/><circle cx='790.0' cy='85.2' r='4.75'/><circle cx='819.5' cy='83.0' r='4.75'/><circle cx='804.1' cy='90.1' r='4.75'/><circle cx='817.7' cy='73.8' r='4.75'/><circle cx='769.4' cy='103.8' r='4.75'/><circle cx='805.0' cy='79.5' r='4.75'/><circle cx='735.8' cy='139.8' r='4.75'/><circle cx='801.6' cy='80.5' r='4.75'/><circle cx='794.6' cy='99.9' r='4.75'/><circle cx='745.0' cy='115.9' r='4.75'/><circle cx='825.7' cy='67.9' r='4.75'/><circle cx='788.9' cy='90.4' r='4.75'/><circle cx='805.7' cy='88.2' r='4.75'/><circle cx='843.2' cy='62.1' r='4.75'/><circle cx='803.5' cy='88.3' r='4.75'/><circle cx='832.0' cy='66.9' r='4.75'/><circle cx='838.8' cy='65.6' r='4.75'/><circle cx='794.2' cy='100.6' r='4.75'/><circle cx='795.9' cy='90.9' r='4.75'/><circle cx='738.0' cy='141.6' r='4.75'/><circle cx='711.1' cy='151.6' r='4.75'/><circle cx='733.4' cy='130.9' r='4.75'/><circle cx='788.3' cy='116.9' r='4.75'/><circle cx='757.5' cy='117.6' r='4.75'/><circle cx='724.7' cy='137.5' r='4.75'/><circle cx='786.4' cy='93.2' r='4.75'/><circle cx='772.3' cy='101.8' r='4.75'/><circle cx='743.2' cy='126.0' r='4.75'/><circle cx='826.4' cy='74.5' r='4.75'/><circle cx='837.8' cy='63.2' r='4.75'/><circle cx='835.0' cy='74.3' r='4.75'/><circle cx='800.7' cy='89.3' r='4.75'/><circle cx='710.9' cy='153.5' r='4.75'/><circle cx='834.2' cy='67.4' r='4.75'/><circle cx='756.9' cy='114.5' r='4.75'/><circle cx='716.0' cy='137.8' r='4.75'/><circle cx='811.5' cy='74.8' r='4.75'/><circle cx='806.4' cy='79.4' r='4.75'/><circle cx='747.5' cy='131.2' r='4.75'/><circle cx='841.3' cy='66.2' r='4.75'/><circle cx='774.1' cy='88.7' r='4.75'/><circle cx='746.2' cy='126.2' r='4.75'/><circle cx='736.3' cy='135.5' r='4.75'/><circle cx='789.9' cy='88.0' r='4.75'/><circle cx='843.4' cy='59.8' r='4.75'/><circle cx='848.5' cy='61.7' r='4.75'/><circle cx='711.6' cy='150.7' r='4.75'/><circle cx='718.0' cy='139.6' r='4.75'/><circle cx='837.7' cy='65.9' r='4.75'/><circle cx='767.7' cy='112.6' r='4.75'/><circle cx='724.2' cy='146.3' r='4.75'/><circle cx='804.1' cy='86.8' r='4.75'/><circle cx='714.2' cy='146.0' r='4.75'/><circle cx='775.1' cy='112.5' r='4.75'/><circle cx='815.2' cy='78.8' r='4.75'/><circle cx='832.2' cy='64.0' r='4.75'/><circle cx='808.8' cy='75.7' r='4.75'/><circle cx='717.7' cy='148.3' r='4.75'/><circle cx='842.8' cy='61.9' r='4.75'/><circle cx='705.6' cy='155.3' r='4.75'/><circle cx='758.7' cy='113.6' r='4.75'/><circle cx='777.4' cy='103.4' r='4.75'/><circle cx='765.1' cy='90.4' r='4.75'/><circle cx='748.7' cy='121.9' r='4.75'/><circle cx='791.8' cy='82.4' r='4.75'/><circle cx='751.9' cy='121.4' r='4.75'/><circle cx='721.1' cy='142.1' r='4.75'/><circle cx='785.4' cy='124.8' r='4.75'/><circle cx='809.3' cy='79.1' r='4.75'/><circle cx='715.0' cy='145.1' r='4.75'/><circle cx='738.1' cy='114.1' r='4.75'/><circle cx='746.3' cy='132.2' r='4.75'/><circle cx='740.5' cy='140.5' r='4.75'/><circle cx='828.3' cy='68.9' r='4.75'/><circle cx='719.9' cy='138.4' r='4.75'/><circle cx='782.1' cy='100.9' r='4.75'/><circle cx='837.3' cy='61.8' r='4.75'/><circle cx='756.7' cy='106.5' r='4.75'/><circle cx='817.3' cy='74.7' r='4.75'/><circle cx='709.2' cy='146.8' r='4.75'/><circle cx='778.7' cy='103.4' r='4.75'/><circle cx='709.9' cy='153.8' r='4.75'/><circle cx='782.1' cy='109.8' r='4.75'/><circle cx='762.6' cy='100.1' r='4.75'/><circle cx='820.0' cy='67.7' r='4.75'/><circle cx='789.8' cy='89.8' r='4.75'/><circle cx='752.7' cy='122.4' r='4.75'/><circle cx='770.0' cy='109.2' r='4.75'/><circle cx='752.6' cy='122.7' r='4.75'/><circle cx='764.2' cy='124.2' r='4.75'/><circle cx='825.2' cy='68.7' r='4.75'/><circle cx='763.0' cy='125.6' r='4.75'/><circle cx='807.5' cy='76.6' r='4.75'/><circle cx='841.5' cy='67.0' r='4.75'/><circle cx='714.0' cy='139.0' r='4.75'/><circle cx='739.7' cy='128.6' r='4.75'/><circle cx='782.3' cy='89.5' r='4.75'/><circle cx='759.6' cy='109.5' r='4.75'/><circle cx='770.4' cy='103.2' r='4.75'/><circle cx='760.6' cy='104.7' r='4.75'/><circle cx='766.1' cy='122.6' r='4.75'/><circle cx='720.9' cy='141.2' r='4.75'/><circle cx='756.0' cy='112.0' r='4.75'/><circle cx='777.2' cy='98.9' r='4.75'/><circle cx='761.1' cy='112.6' r='4.75'/><circle cx='709.1' cy='139.7' r='4.75'/><circle cx='846.5' cy='60.5' r='4.75'/><circle cx='703.5' cy='155.9' r='4.75'/><circle cx='723.4' cy='135.3' r='4.75'/><circle cx='802.2' cy='94.5' r='4.75'/><circle cx='769.3' cy='105.1' r='4.75'/><circle cx='741.6' cy='127.9' r='4.75'/><circle cx='781.3' cy='98.6' r='4.75'/><circle cx='744.0' cy='127.9' r='4.75'/><circle cx='796.6' cy='82.4' r='4.75'/><circle cx='735.2' cy='128.4' r='4.75'/><circle cx='717.3' cy='140.0' r='4.75'/><circle cx='773.1' cy='95.7' r='4.75'/><circle cx='751.3' cy='120.0' r='4.75'/><circle cx='835.0' cy='62.7' r='4.75'/><circle cx='743.3' cy='135.1' r='4.75'/><circle cx='816.4' cy='78.5' r='4.75'/><circle cx='841.3' cy='69.0' r='4.75'/><circle cx='750.4' cy='116.2' r='4.75'/><circle cx='719.5' cy='136.1' r='4.75'/><circle cx='792.0' cy='96.4' r='4.75'/><circle cx='784.8' cy='105.8' r='4.75'/><circle cx='781.6' cy='88.2' r='4.75'/><circle cx='828.6' cy='70.8' r='4.75'/><circle cx='762.1' cy='130.0' r='4.75'/><circle cx='726.3' cy='135.5' r='4.75'/><circle cx='731.1' cy='132.9' r='4.75'/><circle cx='738.1' cy='133.9' r='4.75'/><circle cx='794.2' cy='90.3' r='4.75'/><circle cx='751.1' cy='115.6' r='4.75'/><circle cx='739.2' cy='124.9' r='4.75'/><circle cx='746.0' cy='109.8' r='4.75'/><circle cx='787.3' cy='92.5' r='4.75'/><circle cx='810.5' cy='77.0' r='4.75'/><circle cx='712.0' cy='152.9' r='4.75'/><circle cx='715.1' cy='142.0' r='4.75'/><circle cx='762.8' cy='100.0' r='4.75'/><circle cx='809.8' cy='85.0' r='4.75'/><circle cx='711.5' cy='148.9' r='4.75'/><circle cx='767.3' cy='124.7' r='4.75'/><circle cx='714.3' cy='152.5' r='4.75'/><circle cx='758.5' cy='124.0' r='4.75'/><circle cx='846.3' cy='65.6' r='4.75'/><circle cx='759.5' cy='110.1' r='4.75'/><circle cx='823.4' cy='68.5' r='4.75'/><circle cx='789.9' cy='92.0' r='4.75'/><circle cx='826.8' cy='70.7' r='4.75'/><circle cx='794.4' cy='95.8' r='4.75'/><circle cx='743.8' cy='110.2' r='4.75'/><circle cx='810.4' cy='89.2' r='4.75'/><circle cx='838.2' cy='70.2' r='4.75'/><circle cx='706.5' cy='148.5' r='4.75'/><circle cx='721.2' cy='136.0' r='4.75'/><circle cx='800.5' cy='85.5' r='4.75'/><circle cx='781.5' cy='99.3' r='4.75'/><circle cx='725.3' cy='145.0' r='4.75'/><circle cx='719.5' cy='138.8' r='4.75'/><circle cx='760.2' cy='108.6' r='4.75'/><circle cx='829.1' cy='73.2' r='4.75'/><circle cx='773.8' cy='117.2' r='4.75'/><circle cx='776.4' cy='108.0' r='4.75'/><circle cx='715.3' cy='152.8' r='4.75'/><circle cx='790.4' cy='94.4' r='4.75'/><circle cx='760.5' cy='111.7' r='4.75'/><circle cx='745.7' cy='127.4' r='4.75'/><circle cx='790.6' cy='98.4' r='4.75'/><circle cx='744.4' cy='119.9' r='4.75'/><circle cx='732.2' cy='133.4' r='4.75'/><circle cx='804.4' cy='86.7' r='4.75'/><circle cx='817.5' cy='76.8' r='4.75'/><circle cx='730.3' cy='132.0' r='4.75'/><circle cx='846.1' cy='60.7' r='4.75'/><circle cx='723.1' cy='145.0' r='4.75'/><circle cx='708.0' cy='148.1' r='4.75'/><circle cx='750.3' cy='118.7' r='4.75'/><circle cx='737.6' cy='135.6' r='4.75'/><circle cx='843.9' cy='63.1' r='4.75'/><circle cx='734.7' cy='125.9' r='4.75'/><circle cx='777.6' cy='116.3' r='4.75'/><circle cx='733.2' cy='128.1' r='4.75'/><circle cx='824.4' cy='72.6' r='4.75'/><circle cx='790.3' cy='84.5' r='4.75'/><circle cx='743.6' cy='126.5' r='4.75'/><circle cx='732.5' cy='135.1' r='4.75'/><circle cx='704.9' cy='158.0' r='4.75'/><circle cx='794.2' cy='103.8' r='4.75'/><circle cx='733.8' cy='130.5' r='4.75'/><circle cx='813.5' cy='83.9' r='4.75'/><circle cx='827.9' cy='69.0' r='4.75'/><circle cx='759.1' cy='112.7' r='4.75'/><circle cx='807.4' cy='90.6' r='4.75'/><circle cx='733.9' cy='133.6' r='4.75'/><circle cx='712.1' cy='146.0' r='4.75'/><circle cx='797.6' cy='89.7' r='4.75'/><circle cx='759.5' cy='106.5' r='4.75'/><circle cx='787.0' cy='91.8' r='4.75'/><circle cx='747.9' cy='114.2' r='4.75'/><circle cx='775.1' cy='110.2' r='4.75'/><circle cx='763.2' cy='125.5' r='4.75'/><circle cx='750.7' cy='105.6' r='4.75'/><circle cx='708.4' cy='154.3' r='4.75'/><circle cx='741.1' cy='133.2' r='4.75'/><circle cx='717.7' cy='146.5' r='4.75'/><circle cx='830.1' cy='66.2' r='4.75'/><circle cx='738.3' cy='135.0' r='4.75'/><circle cx='746.6' cy='123.1' r='4.75'/><circle cx='849.1' cy='62.2' r='4.75'/><circle cx='734.9' cy='135.9' r='4.75'/><circle cx='750.9' cy='109.2' r='4.75'/><circle cx='773.0' cy='92.4' r='4.75'/><circle cx='735.4' cy='128.0' r='4.75'/><circle cx='823.2' cy='69.0' r='4.75'/><circle cx='720.6' cy='144.6' r='4.75'/><circle cx='799.5' cy='72.9' r='4.75'/><circle cx='803.4' cy='92.7' r='4.75'/><circle cx='821.9' cy='74.5' r='4.75'/><circle cx='800.4' cy='85.0' r='4.75'/><circle cx='819.0' cy='77.1' r='4.75'/><circle cx='714.3' cy='149.8' r='4.75'/><circle cx='743.1' cy='129.4' r='4.75'/><circle cx='736.7' cy='132.8' r='4.75'/><circle cx='765.0' cy='123.4' r='4.75'/><circle cx='712.7' cy='152.1' r='4.75'/><circle cx='835.2' cy='69.6' r='4.75'/><circle cx='765.7' cy='91.9' r='4.75'/><circle cx='787.5' cy='85.8' r='4.75'/><circle cx='782.6' cy='83.0' r='4.75'/><circle cx='786.1' cy='98.3' r='4.75'/><circle cx='698.0' cy='136.4' r='4.75'/><circle cx='729.9' cy='133.5' r='4.75'/></g>
<g class='sc' fill='#696969' fill-opacity='0.3'><circle cx='669.2' cy='194.8' r='4.75'/><circle cx='660.5' cy='206.1' r='4.75'/><circle cx='690.3' cy='163.6' r='4.75'/><circle cx='657.2' cy='209.4' r='4.75'/><circle cx='677.7' cy='183.9' r='4.75'/><circle cx='683.4' cy='170.4' r='4.75'/><circle cx='666.5' cy='197.5' r='4.75'/><circle cx='682.4' cy='179.1' r='4.75'/><circle cx='657.5' cy='209.7' r='4.75'/><circle cx='660.6' cy='207.4' r='4.75'/><circle cx='668.6' cy='207.3' r='4.75'/><circle cx='658.4' cy='206.0' r='4.75'/><circle cx='686.7' cy='171.8' r='4.75'/><circle cx='689.0' cy='167.2' r='4.75'/><circle cx='680.9' cy='187.6' r='4.75'/><circle cx='686.1' cy='174.7' r='4.75'/><circle cx='679.4' cy='184.5' r='4.75'/><circle cx='665.0' cy='192.6' r='4.75'/><circle cx='685.6' cy='174.0' r='4.75'/><circle cx='680.9' cy='180.6' r='4.75'/><circle cx='692.2' cy='154.5' r='4.75'/><circle cx='667.6' cy='189.9' r='4.75'/><circle cx='686.6' cy='170.0' r='4.75'/><circle cx='673.0' cy='191.3' r='4.75'/><circle cx='665.2' cy='188.3' r='4.75'/><circle cx='691.0' cy='150.2' r='4.75'/><circle cx='667.3' cy='199.3' r='4.75'/><circle cx='688.1' cy='167.4' r='4.75'/><circle cx='668.7' cy='191.4' r='4.75'/><circle cx='672.5' cy='188.8' r='4.75'/><circle cx='693.2' cy='153.8' r='4.75'/><circle cx='691.8' cy='151.2' r='4.75'/><circle cx='671.1' cy='190.5' r='4.75'/><circle cx='675.7' cy='184.0' r='4.75'/><circle cx='666.9' cy='196.6' r='4.75'/><circle cx='688.6' cy='169.3' r='4.75'/><circle cx='677.0' cy='182.1' r='4.75'/><circle cx='688.7' cy='152.6' r='4.75'/><circle cx='692.4' cy='162.1' r='4.75'/><circle cx='685.0' cy='174.4' r='4.75'/><circle cx='656.0' cy='213.4' r='4.75'/><circle cx='655.3' cy='214.4' r='4.75'/><circle cx='682.2' cy='177.8' r='4.75'/><circle cx='677.6' cy='182.0' r='4.75'/><circle cx='669.5' cy='192.7' r='4.75'/><circle cx='656.1' cy='209.9' r='4.75'/><circle cx='671.4' cy='191.1' r='4.75'/><circle cx='692.8' cy='158.7' r='4.75'/><circle cx='669.9' cy='191.3' r='4.75'/><circle cx='687.1' cy='174.0' r='4.75'/><circle cx='672.7' cy='189.7' r='4.75'/><circle cx='693.7' cy='169.7' r='4.75'/><circle cx='664.3' cy='195.9' r='4.75'/><circle cx='679.0' cy='181.9' r='4.75'/><circle cx='658.7' cy='202.1' r='4.75'/><circle cx='671.5' cy='191.6' r='4.75'/><circle cx='656.7' cy='211.0' r='4.75'/><circle cx='678.7' cy='186.4' r='4.75'/><circle cx='682.1' cy='170.8' r='4.75'/><circle cx='686.4' cy='172.6' r='4.75'/><circle cx='662.0' cy='199.3' r='4.75'/><circle cx='673.7' cy='186.0' r='4.75'/><circle cx='691.3' cy='162.7' r='4.75'/><circle cx='660.4' cy='199.8' r='4.75'/><circle cx='663.3' cy='204.1' r='4.75'/><circle cx='674.9' cy='183.7' r='4.75'/><circle cx='671.4' cy='197.3' r='4.75'/><circle cx='682.3' cy='169.3' r='4.75'/><circle cx='665.8' cy='186.5' r='4.75'/><circle cx='685.2' cy='166.9' r='4.75'/><circle cx='676.6' cy='185.9' r='4.75'/><circle cx='692.1' cy='160.1' r='4.75'/><circle cx='690.7' cy='158.4' r='4.75'/><circle cx='665.3' cy='193.3' r='4.75'/><circle cx='678.3' cy='181.3' r='4.75'/><circle cx='681.9' cy='178.3' r='4.75'/><circle cx='691.0' cy='159.6' r='4.75'/><circle cx='674.7' cy='194.5' r='4.75'/><circle cx='671.7' cy='198.1' r='4.75'/><circle cx='653.1' cy='212.1' r='4.75'/><circle cx='669.6' cy='193.4' r='4.75'/><circle cx='685.8' cy='159.2' r='4.75'/><circle cx='683.3' cy='171.0' r='4.75'/><circle cx='686.3' cy='176.6' r='4.75'/><circle cx='666.7' cy='198.5' r='4.75'/><circle cx='680.7' cy='178.0' r='4.75'/><circle cx='667.8' cy='203.3' r='4.75'/><circle cx='670.8' cy='192.5' r='4.75'/><circle cx='655.7' cy='210.1' r='4.75'/><circle cx='686.6' cy='170.2' r='4.75'/><circle cx='661.7' cy='209.5' r='4.75'/><circle cx='679.8' cy='179.4' r='4.75'/><circle cx='686.9' cy='165.9' r='4.75'/><circle cx='688.0' cy='171.3' r='4.75'/><circle cx='690.8' cy='162.8' r='4.75'/><circle cx='686.6' cy='165.4' r='4.75'/><circle cx='661.4' cy='201.5' r='4.75'/><circle cx='682.6' cy='177.9' r='4.75'/><circle cx='686.4' cy='172.1' r='4.75'/><circle cx='660.9' cy='206.1' r='4.75'/><circle cx='692.8' cy='159.1' r='4.75'/><circle cx='679.0' cy='195.6' r='4.75'/><circle cx='658.6' cy='207.1' r='4.75'/><circle cx='663.8' cy='203.9' r='4.75'/><circle cx='670.3' cy='191.3' r='4.75'/><circle cx='669.6' cy='188.2' r='4.75'/><circle cx='669.4' cy='194.2' r='4.75'/><circle cx='652.1' cy='213.9' r='4.75'/><circle cx='676.4' cy='189.8' r='4.75'/><circle cx='680.8' cy='183.5' r='4.75'/><circle cx='684.0' cy='167.7' r='4.75'/><circle cx='690.3' cy='170.4' r='4.75'/><circle cx='691.1' cy='168.8' r='4.75'/><circle cx='661.7' cy='205.3' r='4.75'/><circle cx='691.8' cy='153.6' r='4.75'/><circle cx='686.8' cy='176.9' r='4.75'/><circle cx='679.6' cy='175.7' r='4.75'/><circle cx='656.7' cy='210.6' r='4.75'/><circle cx='690.1' cy='159.6' r='4.75'/><circle cx='658.0' cy='206.7' r='4.75'/><circle cx='691.0' cy='162.7' r='4.75'/><circle cx='662.6' cy='205.3' r='4.75'/><circle cx='686.2' cy='161.7' r='4.75'/><circle cx='670.7' cy='191.4' r='4.75'/><circle cx='671.1' cy='184.7' r='4.75'/><circle cx='676.0' cy='183.6' r='4.75'/><circle cx='668.0' cy='193.2' r='4.75'/><circle cx='687.5' cy='154.1' r='4.75'/><circle cx='655.6' cy='210.1' r='4.75'/><circle cx='685.9' cy='169.6' r='4.75'/><circle cx='686.0' cy='171.1' r='4.75'/><circle cx='665.3' cy='201.2' r='4.75'/><circle cx='682.1' cy='175.4' r='4.75'/><circle cx='661.2' cy='205.9' r='4.75'/><circle cx='654.7' cy='214.3' r='4.75'/><circle cx='688.5' cy='156.1' r='4.75'/><circle cx='693.1' cy='170.9' r='4.75'/><circle cx='659.8' cy='208.4' r='4.75'/><circle cx='665.3' cy='199.4' r='4.75'/><circle cx='691.4' cy='157.6' r='4.75'/><circle cx='653.2' cy='213.9' r='4.75'/><circle cx='691.3' cy='162.2' r='4.75'/><circle cx='680.4' cy='181.8' r='4.75'/><circle cx='680.1' cy='177.9' r='4.75'/><circle cx='689.8' cy='166.6' r='4.75'/><circle cx='674.2' cy='186.4' r='4.75'/><circle cx='674.9' cy='184.5' r='4.75'/><circle cx='692.2' cy='161.3' r='4.75'/><circle cx='685.8' cy='173.0' r='4.75'/><circle cx='683.3' cy='181.4' r='4.75'/><circle cx='678.3' cy='184.1' r='4.75'/><circle cx='676.4' cy='185.1' r='4.75'/><circle cx='678.7' cy='182.5' r='4.75'/><circle cx='679.9' cy='186.8' r='4.75'/><circle cx='669.3' cy='192.5' r='4.75'/><circle cx='675.8' cy='181.1' r='4.75'/><circle cx='668.3' cy='190.3' r='4.75'/><circle cx='671.9' cy='189.7' r='4.75'/><circle cx='659.2' cy='205.5' r='4.75'/><circle cx='675.4' cy='185.1' r='4.75'/><circle cx='665.6' cy='194.2' r='4.75'/><circle cx='671.7' cy='191.7' r='4.75'/><circle cx='684.8' cy='177.9' r='4.75'/><circle cx='676.5' cy='183.0' r='4.75'/><circle cx='685.1' cy='176.9' r='4.75'/><circle cx='672.2' cy='187.8' r='4.75'/><circle cx='680.7' cy='176.9' r='4.75'/><circle cx='672.8' cy='175.6' r='4.75'/><circle cx='690.5' cy='164.1' r='4.75'/><circle cx='675.7' cy='186.0' r='4.75'/><circle cx='670.3' cy='189.2' r='4.75'/><circle cx='663.6' cy='201.3' r='4.75'/><circle cx='689.2' cy='167.3' r='4.75'/><circle cx='660.2' cy='209.5' r='4.75'/><circle cx='673.3' cy='186.1' r='4.75'/><circle cx='668.5' cy='194.0' r='4.75'/><circle cx='666.7' cy='196.7' r='4.75'/><circle cx='662.8' cy='205.7' r='4.75'/><circle cx='692.3' cy='154.5' r='4.75'/><circle cx='690.3' cy='162.4' r='4.75'/><circle cx='666.2' cy='196.0' r='4.75'/><circle cx='663.4' cy='199.6' r='4.75'/><circle cx='689.1' cy='161.2' r='4.75'/><circle cx='664.0' cy='196.9' r='4.75'/><circle cx='689.0' cy='158.6' r='4.75'/><circle cx='654.4' cy='213.2' r='4.75'/><circle cx='655.7' cy='212.3' r='4.75'/><circle cx='672.3' cy='186.6' r='4.75'/><circle cx='691.8' cy='172.1' r='4.75'/><circle cx='680.0' cy='182.3' r='4.75'/><circle cx='653.5' cy='205.3' r='4.75'/><circle cx='687.9' cy='158.4' r='4.75'/><circle cx='685.4' cy='172.5' r='4.75'/><circle cx='661.6' cy='198.2' r='4.75'/><circle cx='691.3' cy='171.8' r='4.75'/><circle cx='656.8' cy='212.5' r='4.75'/><circle cx='682.4' cy='186.2' r='4.75'/><circle cx='679.1' cy='183.9' r='4.75'/><circle cx='692.0' cy='168.3' r='4.75'/><circle cx='690.5' cy='170.3' r='4.75'/><circle cx='674.9' cy='186.7' r='4.75'/><circle cx='680.4' cy='184.4' r='4.75'/><circle cx='690.3' cy='159.8' r='4.75'/><circle cx='685.5' cy='171.2' r='4.75'/><circle cx='683.3' cy='171.5' r='4.75'/><circle cx='656.6' cy='212.8' r='4.75'/><circle cx='664.8' cy='204.8' r='4.75'/><circle cx='680.2' cy='179.4' r='4.75'/><circle cx='662.7' cy='206.5' r='4.75'/><circle cx='666.5' cy='196.1' r='4.75'/><circle cx='654.6' cy='216.1' r='4.75'/><circle cx='685.5' cy='175.0' r='4.75'/><circle cx='686.6' cy='173.4' r='4.75'/><circle cx='661.7' cy='209.6' r='4.75'/><circle cx='673.1' cy='188.8' r='4.75'/><circle cx='669.5' cy='189.3' r='4.75'/><circle cx='677.9' cy='179.4' r='4.75'/><circle cx='676.0' cy='193.8' r='4.75'/><circle cx='671.5' cy='186.5' r='4.75'/><circle cx='685.1' cy='165.9' r='4.75'/><circle cx='681.5' cy='180.3' r='4.75'/><circle cx='688.6' cy='166.5' r='4.75'/><circle cx='677.9' cy='181.4' r='4.75'/><circle cx='688.8' cy='166.3' r='4.75'/><circle cx='673.7' cy='195.6' r='4.75'/><circle cx='685.2' cy='171.3' r='4.75'/><circle cx='666.2' cy='200.3' r='4.75'/><circle cx='685.8' cy='163.5' r='4.75'/><circle cx='663.3' cy='200.5' r='4.75'/><circle cx='663.7' cy='206.2' r='4.75'/><circle cx='668.2' cy='182.8' r='4.75'/><circle cx='682.8' cy='173.4' r='4.75'/><circle cx='684.6' cy='176.4' r='4.75'/><circle cx='683.8' cy='174.1' r='4.75'/><circle cx='673.0' cy='183.2' r='4.75'/><circle cx='687.0' cy='158.6' r='4.75'/><circle cx='677.2' cy='188.1' r='4.75'/><circle cx='678.0' cy='191.4' r='4.75'/><circle cx='666.8' cy='190.5' r='4.75'/><circle cx='691.7' cy='156.3' r='4.75'/><circle cx='690.5' cy='164.5' r='4.75'/><circle cx='671.3' cy='187.3' r='4.75'/><circle cx='683.5' cy='182.6' r='4.75'/><circle cx='656.3' cy='213.0' r='4.75'/><circle cx='663.7' cy='210.4' r='4.75'/><circle cx='688.0' cy='167.0' r='4.75'/><circle cx='686.7' cy='175.6' r='4.75'/><circle cx='666.9' cy='199.5' r='4.75'/><circle cx='660.9' cy='208.0' r='4.75'/><circle cx='669.9' cy='192.5' r='4.75'/><circle cx='683.7' cy='178.0' r='4.75'/><circle cx='687.3' cy='170.1' r='4.75'/><circle cx='662.7' cy='205.2' r='4.75'/><circle cx='681.4' cy='184.2' r='4.75'/><circle cx='674.9' cy='184.5' r='4.75'/><circle cx='679.4' cy='180.2' r='4.75'/><circle cx='669.7' cy='181.3' r='4.75'/><circle cx='664.3' cy='206.1' r='4.75'/><circle cx='664.7' cy='202.2' r='4.75'/><circle cx='686.3' cy='163.8' r='4.75'/><circle cx='677.7' cy='186.7' r='4.75'/><circle cx='679.8' cy='184.5' r='4.75'/><circle cx='676.2' cy='179.7' r='4.75'/><circle cx='679.1' cy='179.3' r='4.75'/><circle cx='672.7' cy='193.1' r='4.75'/><circle cx='665.4' cy='195.5' r='4.75'/><circle cx='660.3' cy='194.5' r='4.75'/><circle cx='668.3' cy='193.6' r='4.75'/><circle cx='659.8' cy='207.0' r='4.75'/><circle cx='682.1' cy='182.5' r='4.75'/><circle cx='691.6' cy='154.7' r='4.75'/><circle cx='677.8' cy='183.3' r='4.75'/><circle cx='660.5' cy='203.7' r='4.75'/><circle cx='685.0' cy='176.3' r='4.75'/><circle cx='673.3' cy='185.2' r='4.75'/><circle cx='676.8' cy='173.5' r='4.75'/><circle cx='669.8' cy='185.7' r='4.75'/><circle cx='657.1' cy='213.7' r='4.75'/><circle cx='691.1' cy='162.5' r='4.75'/><circle cx='658.3' cy='208.0' r='4.75'/><circle cx='665.5' cy='202.6' r='4.75'/><circle cx='690.4' cy='166.6' r='4.75'/><circle cx='681.7' cy='170.8' r='4.75'/><circle cx='668.0' cy='197.8' r='4.75'/><circle cx='675.8' cy='191.3' r='4.75'/><circle cx='657.8' cy='205.8' r='4.75'/><circle cx='666.9' cy='201.4' r='4.75'/><circle cx='662.9' cy='201.4' r='4.75'/><circle cx='673.6' cy='193.8' r='4.75'/><circle cx='684.7' cy='168.5' r='4.75'/><circle cx='661.3' cy='198.3' r='4.75'/><circle cx='686.5' cy='170.8' r='4.75'/><circle cx='655.1' cy='210.4' r='4.75'/><circle cx='689.4' cy='155.3' r='4.75'/><circle cx='671.2' cy='195.8' r='4.75'/><circle cx='686.6' cy='165.6' r='4.75'/><circle cx='686.8' cy='168.7' r='4.75'/><circle cx='656.3' cy='210.1' r='4.75'/><circle cx='660.5' cy='208.7' r='4.75'/><circle cx='663.6' cy='207.1' r='4.75'/><circle cx='688.0' cy='164.6' r='4.75'/><circle cx='656.2' cy='212.9' r='4.75'/><circle cx='671.0' cy='189.9' r='4.75'/><circle cx='687.9' cy='169.1' r='4.75'/><circle cx='667.5' cy='195.1' r='4.75'/><circle cx='667.9' cy='201.3' r='4.75'/><circle cx='687.6' cy='173.4' r='4.75'/><circle cx='688.8' cy='171.2' r='4.75'/><circle cx='683.6' cy='182.1' r='4.75'/><circle cx='690.7' cy='155.1' r='4.75'/><circle cx='672.8' cy='189.9' r='4.75'/><circle cx='683.9' cy='178.5' r='4.75'/><circle cx='690.6' cy='169.6' r='4.75'/><circle cx='691.8' cy='157.1' r='4.75'/><circle cx='669.7' cy='204.0' r='4.75'/><circle cx='689.4' cy='157.9' r='4.75'/><circle cx='692.2' cy='169.4' r='4.75'/><circle cx='658.3' cy='206.4' r='4.75'/><circle cx='676.1' cy='188.3' r='4.75'/><circle cx='693.9' cy='159.5' r='4.75'/><circle cx='679.5' cy='181.4' r='4.75'/><circle cx='662.1' cy='203.9' r='4.75'/><circle cx='689.1' cy='159.4' r='4.75'/><circle cx='685.8' cy='173.7' r='4.75'/><circle cx='688.9' cy='166.8' r='4.75'/><circle cx='668.3' cy='201.0' r='4.75'/><circle cx='691.4' cy='156.6' r='4.75'/><circle cx='664.2' cy='199.3' r='4.75'/><circle cx='690.6' cy='161.4' r='4.75'/><circle cx='676.9' cy='189.9' r='4.75'/><circle cx='688.9' cy='154.7' r='4.75'/><circle cx='684.2' cy='181.1' r='4.75'/><circle cx='680.3' cy='180.7' r='4.75'/><circle cx='690.9' cy='155.7' r='4.75'/><circle cx='662.7' cy='198.4' r='4.75'/><circle cx='661.1' cy='195.5' r='4.75'/><circle cx='668.3' cy='200.4' r='4.75'/><circle cx='666.4' cy='195.8' r='4.75'/><circle cx='656.8' cy='209.4' r='4.75'/><circle cx='690.0' cy='166.8' r='4.75'/><circle cx='689.1' cy='154.4' r='4.75'/><circle cx='674.6' cy='186.5' r='4.75'/><circle cx='688.2' cy='167.1' r='4.75'/><circle cx='665.9' cy='192.6' r='4.75'/><circle cx='679.1' cy='188.1' r='4.75'/><circle cx='675.4' cy='183.2' r='4.75'/><circle cx='688.0' cy='170.7' r='4.75'/><circle cx='667.7' cy='195.5' r='4.75'/><circle cx='670.9' cy='193.9' r='4.75'/><circle cx='680.7' cy='178.3' r='4.75'/><circle cx='674.1' cy='184.5' r='4.75'/><circle cx='673.4' cy='192.3' r='4.75'/><circle cx='690.3' cy='161.3' r='4.75'/><circle cx='674.3' cy='188.3' r='4.75'/><circle cx='671.5' cy='187.0' r='4.75'/><circle cx='685.7' cy='172.5' r='4.75'/><circle cx='674.8' cy='191.1' r='4.75'/><circle cx='679.9' cy='178.4' r='4.75'/><circle cx='669.3' cy='197.1' r='4.75'/><circle cx='656.6' cy='208.5' r='4.75'/><circle cx='691.3' cy='162.2' r='4.75'/><circle cx='680.4' cy='190.8' r='4.75'/><circle cx='659.1' cy='200.8' r='4.75'/><circle cx='668.2' cy='191.7' r='4.75'/><circle cx='680.0' cy='183.7' r='4.75'/><circle cx='689.6' cy='166.4' r='4.75'/><circle cx='665.6' cy='191.9' r='4.75'/><circle cx='687.4' cy='173.2' r='4.75'/><circle cx='686.4' cy='172.4' r='4.75'/><circle cx='688.9' cy='162.5' r='4.75'/><circle cx='684.6' cy='171.1' r='4.75'/><circle cx='652.3' cy='215.5' r='4.75'/><circle cx='666.4' cy='198.4' r='4.75'/><circle cx='691.2' cy='152.4' r='4.75'/><circle cx='685.6' cy='175.6' r='4.75'/><circle cx='683.8' cy='168.6' r='4.75'/><circle cx='682.3' cy='175.5' r='4.75'/><circle cx='688.8' cy='156.4' r='4.75'/><circle cx='693.6' cy='165.3' r='4.75'/><circle cx='684.8' cy='177.6' r='4.75'/><circle cx='679.2' cy='180.7' r='4.75'/><circle cx='680.1' cy='178.5' r='4.75'/><circle cx='668.6' cy='194.8' r='4.75'/><circle cx='685.3' cy='172.7' r='4.75'/><circle cx='664.2' cy='204.2' r='4.75'/><circle cx='660.0' cy='205.7' r='4.75'/><circle cx='664.0' cy='208.8' r='4.75'/><circle cx='663.1' cy='191.0' r='4.75'/><circle cx='674.6' cy='191.9' r='4.75'/><circle cx='685.7' cy='172.6' r='4.75'/><circle cx='665.0' cy='204.7' r='4.75'/><circle cx='676.2' cy='185.1' r='4.75'/><circle cx='664.3' cy='194.7' r='4.75'/><circle cx='684.0' cy='171.1' r='4.75'/><circle cx='663.0' cy='207.1' r='4.75'/><circle cx='687.5' cy='165.5' r='4.75'/><circle cx='688.9' cy='161.7' r='4.75'/><circle cx='684.1' cy='164.3' r='4.75'/><circle cx='685.9' cy='180.5' r='4.75'/><circle cx='672.4' cy='190.9' r='4.75'/><circle cx='680.6' cy='173.6' r='4.75'/><circle cx='662.5' cy='197.2' r='4.75'/><circle cx='662.1' cy='206.9' r='4.75'/><circle cx='671.2' cy='193.9' r='4.75'/><circle cx='661.6' cy='202.5' r='4.75'/><circle cx='655.8' cy='212.9' r='4.75'/><circle cx='657.4' cy='213.2' r='4.75'/><circle cx='686.5' cy='180.8' r='4.75'/><circle cx='675.8' cy='186.0' r='4.75'/><circle cx='664.9' cy='197.7' r='4.75'/><circle cx='682.2' cy='168.6' r='4.75'/><circle cx='663.4' cy='198.9' r='4.75'/><circle cx='660.1' cy='203.8' r='4.75'/><circle cx='658.3' cy='208.6' r='4.75'/><circle cx='691.4' cy='160.6' r='4.75'/><circle cx='677.7' cy='173.4' r='4.75'/><circle cx='668.5' cy='191.0' r='4.75'/><circle cx='657.7' cy='212.7' r='4.75'/><circle cx='678.0' cy='189.6' r='4.75'/><circle cx='689.6' cy='154.7' r='4.75'/><circle cx='668.7' cy='194.2' r='4.75'/><circle cx='668.4' cy='200.2' r='4.75'/><circle cx='695.4' cy='162.3' r='4.75'/><circle cx='679.3' cy='181.3' r='4.75'/><circle cx='689.1' cy='159.8' r='4.75'/><circle cx='665.2' cy='199.2' r='4.75'/><circle cx='680.8' cy='182.9' r='4.75'/><circle cx='659.8' cy='210.4' r='4.75'/><circle cx='682.2' cy='185.5' r='4.75'/><circle cx='670.8' cy='188.5' r='4.75'/><circle cx='690.7' cy='151.0' r='4.75'/><circle cx='663.0' cy='204.6' r='4.75'/><circle cx='664.7' cy='200.3' r='4.75'/><circle cx='687.1' cy='159.3' r='4.75'/><circle cx='692.0' cy='170.7' r='4.75'/><circle cx='672.7' cy='186.9' r='4.75'/><circle cx='676.8' cy='187.8' r='4.75'/><circle cx='685.8' cy='167.4' r='4.75'/><circle cx='683.5' cy='171.3' r='4.75'/><circle cx='669.8' cy='197.6' r='4.75'/><circle cx='663.4' cy='205.4' r='4.75'/><circle cx='663.3' cy='196.9' r='4.75'/><circle cx='679.8' cy='175.6' r='4.75'/><circle cx='689.8' cy='167.9' r='4.75'/><circle cx='687.8' cy='160.4' r='4.75'/><circle cx='673.8' cy='175.5' r='4.75'/><circle cx='689.4' cy='160.6' r='4.75'/><circle cx='684.7' cy='173.1' r='4.75'/><circle cx='672.0' cy='193.5' r='4.75'/><circle cx='663.7' cy='200.7' r='4.75'/><circle cx='664.4' cy='201.4' r='4.75'/><circle cx='683.4' cy='184.7' r='4.75'/><circle cx='686.6' cy='169.6' r='4.75'/><circle cx='669.2' cy='191.7' r='4.75'/><circle cx='664.5' cy='207.3' r='4.75'/><circle cx='679.3' cy='184.2' r='4.75'/><circle cx='676.8' cy='182.8' r='4.75'/><circle cx='668.3' cy='191.2' r='4.75'/><circle cx='688.6' cy='156.9' r='4.75'/><circle cx='680.2' cy='175.3' r='4.75'/><circle cx='684.4' cy='174.8' r='4.75'/><circle cx='682.4' cy='177.8' r='4.75'/><circle cx='662.9' cy='203.4' r='4.75'/><circle cx='658.6' cy='199.8' r='4.75'/><circle cx='670.2' cy='194.0' r='4.75'/><circle cx='683.5' cy='183.5' r='4.75'/><circle cx='665.8' cy='199.7' r='4.75'/><circle cx='680.4' cy='186.3' r='4.75'/><circle cx='679.3' cy='176.0' r='4.75'/><circle cx='662.9' cy='198.8' r='4.75'/><circle cx='692.5' cy='161.8' r='4.75'/><circle cx='682.5' cy='177.1' r='4.75'/><circle cx='679.2' cy='186.2' r='4.75'/><circle cx='692.2' cy='163.8' r='4.75'/><circle cx='670.8' cy='195.4' r='4.75'/><circle cx='681.5' cy='179.6' r='4.75'/><circle cx='679.9' cy='187.4' r='4.75'/><circle cx='685.7' cy='177.2' r='4.75'/><circle cx='654.2' cy='214.7' r='4.75'/><circle cx='664.6' cy='196.5' r='4.75'/><circle cx='665.3' cy='203.7' r='4.75'/><circle cx='683.2' cy='172.2' r='4.75'/><circle cx='675.7' cy='186.5' r='4.75'/><circle cx='684.5' cy='168.7' r='4.75'/><circle cx='655.5' cy='214.3' r='4.75'/><circle cx='679.9' cy='182.6' r='4.75'/><circle cx='685.5' cy='174.2' r='4.75'/><circle cx='652.0' cy='217.7' r='4.75'/><circle cx='678.8' cy='178.1' r='4.75'/><circle cx='688.3' cy='158.8' r='4.75'/><circle cx='691.7' cy='158.8' r='4.75'/><circle cx='678.5' cy='183.0' r='4.75'/><circle cx='665.1' cy='199.3' r='4.75'/><circle cx='684.4' cy='172.6' r='4.75'/><circle cx='661.8' cy='204.3' r='4.75'/><circle cx='667.4' cy='198.8' r='4.75'/><circle cx='669.3' cy='201.6' r='4.75'/><circle cx='690.9' cy='157.5' r='4.75'/><circle cx='666.6' cy='197.1' r='4.75'/><circle cx='668.5' cy='185.5' r='4.75'/><circle cx='689.5' cy='156.9' r='4.75'/><circle cx='658.4' cy='203.3' r='4.75'/><circle cx='689.9' cy='165.8' r='4.75'/><circle cx='681.9' cy='173.1' r='4.75'/><circle cx='692.7' cy='155.0' r='4.75'/><circle cx='689.2' cy='157.8' r='4.75'/><circle cx='685.8' cy='162.8' r='4.75'/><circle cx='685.1' cy='177.1' r='4.75'/><circle cx='693.9' cy='153.0' r='4.75'/><circle cx='654.0' cy='213.4' r='4.75'/><circle cx='685.1' cy='171.7' r='4.75'/><circle cx='691.5' cy='154.6' r='4.75'/><circle cx='661.4' cy='204.1' r='4.75'/><circle cx='666.5' cy='197.3' r='4.75'/><circle cx='678.7' cy='179.9' r='4.75'/><circle cx='690.5' cy='155.4' r='4.75'/><circle cx='661.6' cy='203.8' r='4.75'/><circle cx='679.3' cy='177.8' r='4.75'/><circle cx='680.0' cy='175.9' r='4.75'/><circle cx='684.5' cy='175.6' r='4.75'/><circle cx='657.2' cy='209.3' r='4.75'/><circle cx='660.6' cy='192.5' r='4.75'/><circle cx='665.4' cy='199.3' r='4.75'/><circle cx='689.6' cy='160.7' r='4.75'/><circle cx='669.7' cy='190.9' r='4.75'/><circle cx='688.4' cy='167.0' r='4.75'/><circle cx='671.5' cy='195.8' r='4.75'/><circle cx='691.5' cy='155.1' r='4.75'/><circle cx='670.2' cy='194.7' r='4.75'/><circle cx='687.7' cy='171.4' r='4.75'/><circle cx='691.1' cy='155.0' r='4.75'/><circle cx='662.7' cy='200.1' r='4.75'/><circle cx='654.8' cy='213.9' r='4.75'/><circle cx='661.5' cy='200.4' r='4.75'/><circle cx='665.7' cy='194.8' r='4.75'/><circle cx='687.1' cy='171.8' r='4.75'/><circle cx='688.9' cy='154.0' r='4.75'/><circle cx='665.4' cy='207.7' r='4.75'/><circle cx='665.6' cy='201.6' r='4.75'/><circle cx='690.4' cy='162.7' r='4.75'/><circle cx='674.1' cy='194.0' r='4.75'/><circle cx='669.1' cy='191.6' r='4.75'/><circle cx='658.6' cy='206.1' r='4.75'/><circle cx='692.0' cy='170.1' r='4.75'/><circle cx='668.6' cy='188.4' r='4.75'/><circle cx='675.0' cy='188.3' r='4.75'/><circle cx='662.2' cy='211.6' r='4.75'/><circle cx='673.2' cy='193.2' r='4.75'/><circle cx='671.1' cy='195.6' r='4.75'/><circle cx='687.2' cy='167.8' r='4.75'/><circle cx='666.7' cy='195.5' r='4.75'/><circle cx='676.1' cy='187.6' r='4.75'/><circle cx='661.6' cy='202.1' r='4.75'/><circle cx='689.7' cy='154.8' r='4.75'/><circle cx='688.9' cy='168.1' r='4.75'/><circle cx='662.1' cy='203.9' r='4.75'/><circle cx='672.8' cy='197.0' r='4.75'/><circle cx='656.2' cy='212.4' r='4.75'/><circle cx='665.6' cy='201.6' r='4.75'/><circle cx='674.0' cy='184.3' r='4.75'/><circle cx='673.1' cy='188.0' r='4.75'/><circle cx='691.1' cy='154.1' r='4.75'/><circle cx='662.6' cy='195.3' r='4.75'/><circle cx='673.3' cy='187.4' r='4.75'/><circle cx='654.3' cy='214.1' r='4.75'/><circle cx='663.8' cy='204.0' r='4.75'/><circle cx='661.9' cy='201.8' r='4.75'/><circle cx='692.3' cy='154.5' r='4.75'/><circle cx='666.1' cy='199.3' r='4.75'/><circle cx='669.1' cy='196.8' r='4.75'/><circle cx='676.6' cy='187.1' r='4.75'/><circle cx='692.5' cy='157.0' r='4.75'/><circle cx='652.2' cy='212.9' r='4.75'/><circle cx='670.5' cy='192.7' r='4.75'/><circle cx='671.6' cy='189.8' r='4.75'/><circle cx='689.1' cy='159.3' r='4.75'/><circle cx='661.1' cy='199.4' r='4.75'/><circle cx='666.1' cy='193.2' r='4.75'/><circle cx='671.3' cy='191.8' r='4.75'/><circle cx='664.9' cy='198.2' r='4.75'/><circle cx='682.8' cy='177.8' r='4.75'/><circle cx='689.3' cy='164.5' r='4.75'/><circle cx='683.5' cy='175.7' r='4.75'/><circle cx='671.7' cy='187.2' r='4.75'/><circle cx='672.1' cy='194.5' r='4.75'/><circle cx='687.6' cy='157.7' r='4.75'/><circle cx='685.8' cy='172.3' r='4.75'/><circle cx='676.9' cy='186.2' r='4.75'/><circle cx='685.9' cy='165.6' r='4.75'/><circle cx='674.4' cy='189.5' r='4.75'/><circle cx='671.3' cy='191.8' r='4.75'/><circle cx='686.3' cy='163.7' r='4.75'/><circle cx='690.2' cy='161.2' r='4.75'/><circle cx='685.5' cy='164.1' r='4.75'/><circle cx='656.2' cy='211.4' r='4.75'/><circle cx='665.4' cy='197.1' r='4.75'/><circle cx='687.1' cy='167.6' r='4.75'/><circle cx='674.4' cy='185.9' r='4.75'/><circle cx='671.8' cy='185.8' r='4.75'/><circle cx='655.4' cy='210.1' r='4.75'/><circle cx='655.9' cy='212.7' r='4.75'/><circle cx='658.8' cy='204.9' r='4.75'/><circle cx='672.4' cy='195.5' r='4.75'/><circle cx='674.2' cy='189.5' r='4.75'/><circle cx='675.4' cy='186.2' r='4.75'/><circle cx='677.3' cy='182.8' r='4.75'/><circle cx='664.8' cy='190.3' r='4.75'/><circle cx='691.2' cy='166.9' r='4.75'/><circle cx='676.1' cy='180.8' r='4.75'/><circle cx='690.2' cy='165.3' r='4.75'/><circle cx='687.9' cy='159.7' r='4.75'/><circle cx='692.5' cy='162.1' r='4.75'/><circle cx='665.6' cy='198.4' r='4.75'/><circle cx='665.4' cy='200.2' r='4.75'/><circle cx='658.3' cy='203.8' r='4.75'/><circle cx='688.2' cy='163.2' r='4.75'/><circle cx='690.6' cy='159.3' r='4.75'/><circle cx='682.2' cy='182.6' r='4.75'/><circle cx='666.6' cy='193.2' r='4.75'/><circle cx='685.6' cy='174.6' r='4.75'/><circle cx='687.4' cy='173.9' r='4.75'/><circle cx='656.4' cy='205.1' r='4.75'/><circle cx='657.1' cy='206.5' r='4.75'/><circle cx='662.4' cy='201.9' r='4.75'/><circle cx='672.8' cy='189.7' r='4.75'/><circle cx='664.9' cy='203.2' r='4.75'/><circle cx='669.0' cy='194.9' r='4.75'/><circle cx='677.6' cy='179.1' r='4.75'/><circle cx='687.5' cy='164.8' r='4.75'/><circle cx='680.8' cy='177.6' r='4.75'/><circle cx='664.8' cy='198.8' r='4.75'/><circle cx='690.0' cy='157.4' r='4.75'/><circle cx='673.7' cy='181.2' r='4.75'/><circle cx='662.9' cy='198.4' r='4.75'/><circle cx='656.2' cy='211.9' r='4.75'/><circle cx='670.9' cy='193.6' r='4.75'/><circle cx='676.8' cy='191.9' r='4.75'/><circle cx='654.8' cy='212.4' r='4.75'/><circle cx='688.7' cy='158.5' r='4.75'/><circle cx='685.5' cy='168.7' r='4.75'/><circle cx='673.8' cy='183.2' r='4.75'/><circle cx='689.2' cy='168.2' r='4.75'/><circle cx='687.7' cy='166.0' r='4.75'/><circle cx='663.9' cy='197.3' r='4.75'/><circle cx='683.4' cy='173.2' r='4.75'/><circle cx='673.1' cy='186.2' r='4.75'/><circle cx='686.9' cy='162.5' r='4.75'/><circle cx='680.7' cy='175.9' r='4.75'/><circle cx='682.1' cy='173.1' r='4.75'/><circle cx='676.4' cy='184.6' r='4.75'/><circle cx='687.8' cy='160.9' r='4.75'/><circle cx='687.8' cy='169.1' r='4.75'/><circle cx='675.1' cy='183.6' r='4.75'/><circle cx='672.9' cy='191.6' r='4.75'/><circle cx='693.4' cy='163.6' r='4.75'/><circle cx='683.1' cy='180.3' r='4.75'/><circle cx='689.5' cy='154.0' r='4.75'/><circle cx='655.3' cy='213.1' r='4.75'/><circle cx='653.1' cy='213.0' r='4.75'/><circle cx='669.3' cy='185.1' r='4.75'/><circle cx='681.3' cy='184.1' r='4.75'/><circle cx='688.6' cy='158.3' r='4.75'/><circle cx='657.7' cy='204.1' r='4.75'/><circle cx='686.7' cy='172.8' r='4.75'/><circle cx='678.7' cy='180.5' r='4.75'/><circle cx='657.7' cy='211.0' r='4.75'/><circle cx='680.5' cy='184.4' r='4.75'/><circle cx='683.4' cy='183.3' r='4.75'/><circle cx='688.2' cy='154.1' r='4.75'/><circle cx='676.3' cy='186.2' r='4.75'/><circle cx='667.8' cy='199.2' r='4.75'/><circle cx='671.0' cy='186.4' r='4.75'/><circle cx='682.7' cy='176.9' r='4.75'/><circle cx='676.2' cy='188.6' r='4.75'/><circle cx='677.3' cy='184.8' r='4.75'/><circle cx='675.9' cy='183.2' r='4.75'/><circle cx='684.1' cy='180.4' r='4.75'/><circle cx='655.9' cy='210.9' r='4.75'/><circle cx='688.9' cy='168.5' r='4.75'/><circle cx='689.0' cy='154.1' r='4.75'/><circle cx='678.2' cy='172.3' r='4.75'/><circle cx='663.9' cy='194.5' r='4.75'/><circle cx='660.1' cy='207.6' r='4.75'/><circle cx='661.5' cy='205.2' r='4.75'/><circle cx='676.0' cy='186.9' r='4.75'/><circle cx='663.2' cy='197.8' r='4.75'/><circle cx='695.1' cy='164.1' r='4.75'/><circle cx='676.0' cy='183.5' r='4.75'/><circle cx='656.8' cy='207.7' r='4.75'/><circle cx='676.2' cy='183.9' r='4.75'/><circle cx='699.2' cy='164.9' r='4.75'/><circle cx='672.7' cy='186.6' r='4.75'/><circle cx='658.5' cy='209.4' r='4.75'/><circle cx='667.1' cy='184.2' r='4.75'/><circle cx='681.2' cy='171.4' r='4.75'/><circle cx='657.8' cy='217.1' r='4.75'/><circle cx='689.3' cy='172.4' r='4.75'/><circle cx='678.7' cy='181.3' r='4.75'/><circle cx='686.3' cy='170.3' r='4.75'/><circle cx='688.0' cy='168.9' r='4.75'/><circle cx='675.5' cy='188.6' r='4.75'/><circle cx='676.2' cy='187.3' r='4.75'/><circle cx='691.3' cy='152.0' r='4.75'/><circle cx='687.5' cy='175.3' r='4.75'/><circle cx='679.8' cy='188.1' r='4.75'/><circle cx='694.8' cy='167.3' r='4.75'/><circle cx='682.9' cy='174.7' r='4.75'/><circle cx='665.7' cy='198.8' r='4.75'/><circle cx='685.8' cy='177.8' r='4.75'/><circle cx='685.8' cy='177.9' r='4.75'/><circle cx='657.4' cy='206.7' r='4.75'/><circle cx='658.3' cy='209.0' r='4.75'/><circle cx='686.6' cy='169.4' r='4.75'/><circle cx='686.3' cy='170.7' r='4.75'/><circle cx='684.1' cy='166.1' r='4.75'/><circle cx='691.1' cy='155.2' r='4.75'/><circle cx='676.3' cy='178.9' r='4.75'/><circle cx='656.1' cy='206.6' r='4.75'/><circle cx='653.9' cy='216.4' r='4.75'/><circle cx='685.3' cy='173.0' r='4.75'/><circle cx='671.7' cy='187.7' r='4.75'/><circle cx='685.7' cy='175.5' r='4.75'/><circle cx='684.5' cy='172.6' r='4.75'/><circle cx='662.8' cy='198.1' r='4.75'/><circle cx='666.9' cy='193.8' r='4.75'/><circle cx='659.4' cy='206.0' r='4.75'/><circle cx='689.1' cy='161.8' r='4.75'/><circle cx='691.8' cy='172.3' r='4.75'/><circle cx='675.6' cy='187.9' r='4.75'/><circle cx='688.3' cy='159.4' r='4.75'/><circle cx='672.3' cy='199.0' r='4.75'/><circle cx='677.5' cy='181.9' r='4.75'/><circle cx='688.2' cy='169.9' r='4.75'/><circle cx='680.6' cy='175.4' r='4.75'/><circle cx='669.0' cy='200.7' r='4.75'/><circle cx='689.3' cy='179.5' r='4.75'/><circle cx='688.3' cy='173.9' r='4.75'/><circle cx='683.2' cy='177.5' r='4.75'/><circle cx='661.1' cy='205.1' r='4.75'/><circle cx='676.6' cy='181.7' r='4.75'/><circle cx='689.4' cy='163.3' r='4.75'/><circle cx='693.5' cy='160.2' r='4.75'/><circle cx='689.9' cy='161.7' r='4.75'/><circle cx='663.0' cy='205.8' r='4.75'/><circle cx='659.9' cy='208.7' r='4.75'/><circle cx='683.0' cy='170.0' r='4.75'/><circle cx='675.7' cy='183.1' r='4.75'/><circle cx='651.8' cy='216.4' r='4.75'/><circle cx='674.7' cy='178.7' r='4.75'/><circle cx='659.6' cy='208.8' r='4.75'/><circle cx='671.0' cy='185.1' r='4.75'/><circle cx='695.7' cy='155.9' r='4.75'/><circle cx='672.4' cy='194.3' r='4.75'/><circle cx='663.1' cy='196.5' r='4.75'/><circle cx='658.2' cy='207.4' r='4.75'/><circle cx='677.1' cy='191.5' r='4.75'/><circle cx='673.8' cy='185.1' r='4.75'/><circle cx='667.3' cy='197.3' r='4.75'/><circle cx='664.8' cy='196.9' r='4.75'/><circle cx='651.8' cy='213.1' r='4.75'/><circle cx='694.3' cy='166.7' r='4.75'/><circle cx='670.0' cy='190.3' r='4.75'/><circle cx='659.1' cy='200.3' r='4.75'/><circle cx='687.9' cy='170.8' r='4.75'/><circle cx='668.1' cy='190.0' r='4.75'/><circle cx='689.1' cy='157.8' r='4.75'/><circle cx='681.1' cy='178.2' r='4.75'/><circle cx='676.8' cy='186.8' r='4.75'/><circle cx='666.6' cy='198.6' r='4.75'/><circle cx='689.0' cy='173.4' r='4.75'/><circle cx='667.0' cy='199.2' r='4.75'/><circle cx='690.8' cy='167.1' r='4.75'/><circle cx='688.8' cy='158.5' r='4.75'/><circle cx='667.3' cy='189.9' r='4.75'/><circle cx='664.2' cy='192.1' r='4.75'/><circle cx='688.6' cy='170.1' r='4.75'/><circle cx='656.0' cy='211.3' r='4.75'/><circle cx='663.4' cy='200.9' r='4.75'/><circle cx='670.9' cy='190.9' r='4.75'/><circle cx='685.5' cy='172.0' r='4.75'/><circle cx='672.5' cy='191.1' r='4.75'/><circle cx='667.8' cy='191.3' r='4.75'/><circle cx='693.0' cy='168.6' r='4.75'/><circle cx='683.9' cy='169.6' r='4.75'/><circle cx='665.5' cy='197.9' r='4.75'/><circle cx='659.6' cy='198.7' r='4.75'/><circle cx='681.4' cy='182.7' r='4.75'/><circle cx='653.9' cy='215.4' r='4.75'/><circle cx='668.6' cy='199.5' r='4.75'/><circle cx='671.3' cy='199.3' r='4.75'/><circle cx='698.4' cy='182.2' r='4.75'/><circle cx='656.3' cy='212.9' r='4.75'/><circle cx='683.1' cy='171.9' r='4.75'/><circle cx='660.6' cy='209.2' r='4.75'/><circle cx='661.6' cy='193.3' r='4.75'/><circle cx='679.8' cy='182.2' r='4.75'/><circle cx='681.3' cy='176.5' r='4.75'/><circle cx='687.3' cy='168.1' r='4.75'/><circle cx='687.3' cy='161.1' r='4.75'/><circle cx='670.9' cy='189.5' r='4.75'/><circle cx='689.2' cy='174.5' r='4.75'/><circle cx='691.8' cy='159.2' r='4.75'/><circle cx='679.3' cy='184.9' r='4.75'/><circle cx='669.7' cy='191.6' r='4.75'/><circle cx='682.3' cy='178.9' r='4.75'/><circle cx='691.0' cy='162.4' r='4.75'/><circle cx='669.6' cy='192.9' r='4.75'/><circle cx='657.8' cy='211.3' r='4.75'/><circle cx='661.4' cy='199.2' r='4.75'/><circle cx='653.1' cy='215.4' r='4.75'/><circle cx='663.9' cy='201.6' r='4.75'/><circle cx='652.9' cy='215.5' r='4.75'/><circle cx='689.5' cy='160.1' r='4.75'/><circle cx='689.0' cy='162.7' r='4.75'/><circle cx='671.3' cy='185.6' r='4.75'/><circle cx='692.0' cy='168.9' r='4.75'/><circle cx='685.0' cy='173.4' r='4.75'/><circle cx='690.2' cy='161.9' r='4.75'/><circle cx='683.1' cy='175.1' r='4.75'/><circle cx='658.2' cy='202.6' r='4.75'/><circle cx='674.4' cy='184.9' r='4.75'/><circle cx='659.7' cy='204.6' r='4.75'/><circle cx='664.3' cy='201.5' r='4.75'/><circle cx='687.8' cy='166.7' r='4.75'/><circle cx='653.6' cy='216.2' r='4.75'/><circle cx='664.4' cy='199.1' r='4.75'/><circle cx='685.0' cy='169.8' r='4.75'/><circle cx='660.1' cy='205.9' r='4.75'/><circle cx='680.9' cy='176.8' r='4.75'/><circle cx='684.0' cy='167.8' r='4.75'/><circle cx='676.7' cy='175.0' r='4.75'/><circle cx='665.0' cy='194.8' r='4.75'/><circle cx='687.7' cy='178.0' r='4.75'/><circle cx='666.0' cy='194.2' r='4.75'/><circle cx='666.9' cy='192.4' r='4.75'/><circle cx='675.1' cy='189.3' r='4.75'/><circle cx='669.0' cy='199.9' r='4.75'/><circle cx='658.9' cy='206.4' r='4.75'/><circle cx='662.7' cy='206.1' r='4.75'/><circle cx='687.3' cy='162.9' r='4.75'/><circle cx='661.3' cy='201.9' r='4.75'/><circle cx='689.9' cy='151.9' r='4.75'/><circle cx='675.2' cy='185.2' r='4.75'/><circle cx='682.1' cy='174.6' r='4.75'/><circle cx='686.4' cy='175.6' r='4.75'/><circle cx='671.0' cy='179.4' r='4.75'/><circle cx='675.4' cy='183.8' r='4.75'/><circle cx='675.9' cy='187.5' r='4.75'/><circle cx='681.5' cy='177.3' r='4.75'/><circle cx='669.9' cy='191.6' r='4.75'/></g>
<path d='M254.6,621.4L874.3,1.7' stroke='#808080' stroke-opacity='0.5' stroke-width='3.7' stroke-dasharray='13.73 5.94' stroke-dashoffset='0.6' fill='none'/>
<path d='M595.58,249.62h61.60M626.38,218.82v61.60' stroke='#808080' stroke-width='4.8' fill='none'/>
<path d='M657.46,187.74h61.60M688.26,156.94v61.60' stroke='#1e90ff' stroke-width='4.8' fill='none'/>
<path d='M471.82,373.38h61.60M502.62,342.58v61.60' stroke='#a52a2a' stroke-width='4.8' fill='none'/>
<circle cx='316.8' cy='187.8' r='9' fill='#808080'/><circle cx='316.8' cy='249.7' r='9' fill='#00bfff'/><circle cx='316.8' cy='311.5' r='9' fill='#ff0000'/>
<rect x='626.4' y='342.7' width='229.40' height='228.60' fill='#fff' stroke='none'/>
<g class='si' fill='none' stroke='#ff0000' stroke-opacity='0.3' stroke-width='0.8'><circle cx='734.2' cy='462.2' r='1.5'/><circle cx='755.9' cy='426.8' r='1.5'/><circle cx='752.8' cy='446.9' r='1.5'/><circle cx='765.5' cy='448.1' r='1.5'/><circle cx='737.1' cy='448.6' r='1.5'/><circle cx='725.8' cy='467.3' r='1.5'/><circle cx='749.5' cy='442.4' r='1.5'/><circle cx='730.8' cy='464.9' r='1.5'/><circle cx='737.6' cy='457.0' r='1.5'/><circle cx='743.7' cy='453.8' r='1.5'/><circle cx='739.2' cy='439.7' r='1.5'/><circle cx='727.9' cy='465.4' r='1.5'/><circle cx='734.7' cy='482.4' r='1.5'/><circle cx='739.4' cy='464.8' r='1.5'/><circle cx='739.2' cy='458.8' r='1.5'/><circle cx='741.8' cy='442.2' r='1.5'/><circle cx='738.7' cy='451.4' r='1.5'/><circle cx='729.6' cy='471.1' r='1.5'/><circle cx='702.6' cy='469.8' r='1.5'/><circle cx='775.0' cy='428.5' r='1.5'/><circle cx='743.2' cy='446.0' r='1.5'/><circle cx='744.9' cy='439.8' r='1.5'/><circle cx='755.7' cy='455.8' r='1.5'/><circle cx='753.0' cy='444.4' r='1.5'/><circle cx='724.7' cy='460.6' r='1.5'/><circle cx='737.9' cy='447.0' r='1.5'/><circle cx='755.9' cy='439.4' r='1.5'/><circle cx='723.3' cy='457.9' r='1.5'/><circle cx='724.2' cy='475.4' r='1.5'/><circle cx='771.6' cy='446.6' r='1.5'/><circle cx='763.2' cy='433.8' r='1.5'/><circle cx='751.8' cy='440.8' r='1.5'/><circle cx='729.9' cy='452.5' r='1.5'/><circle cx='755.9' cy='432.7' r='1.5'/><circle cx='716.4' cy='477.7' r='1.5'/><circle cx='755.2' cy='441.7' r='1.5'/><circle cx='764.1' cy='460.0' r='1.5'/><circle cx='740.9' cy='455.0' r='1.5'/><circle cx='714.1' cy='477.7' r='1.5'/><circle cx='733.0' cy='465.5' r='1.5'/><circle cx='765.4' cy='443.7' r='1.5'/><circle cx='746.0' cy='455.9' r='1.5'/><circle cx='723.3' cy='456.4' r='1.5'/><circle cx='739.7' cy='472.3' r='1.5'/><circle cx='747.5' cy='458.0' r='1.5'/><circle cx='751.4' cy='435.9' r='1.5'/><circle cx='757.8' cy='434.1' r='1.5'/><circle cx='760.2' cy='429.3' r='1.5'/><circle cx='760.6' cy='442.0' r='1.5'/><circle cx='762.0' cy='443.1' r='1.5'/><circle cx='769.9' cy='428.3' r='1.5'/><circle cx='753.6' cy='448.9' r='1.5'/><circle cx='757.6' cy='430.0' r='1.5'/><circle cx='762.5' cy='433.3' r='1.5'/><circle cx='752.2' cy='455.6' r='1.5'/><circle cx='724.0' cy='466.6' r='1.5'/><circle cx='741.9' cy='431.8' r='1.5'/><circle cx='755.7' cy='438.9' r='1.5'/><circle cx='775.9' cy='412.4' r='1.5'/><circle cx='726.9' cy='470.5' r='1.5'/><circle cx='764.2' cy='421.3' r='1.5'/><circle cx='758.4' cy='439.6' r='1.5'/><circle cx='745.0' cy='447.6' r='1.5'/><circle cx='744.0' cy='467.7' r='1.5'/><circle cx='742.5' cy='452.4' r='1.5'/><circle cx='719.4' cy='473.3' r='1.5'/><circle cx='740.9' cy='462.1' r='1.5'/><circle cx='741.6' cy='448.4' r='1.5'/><circle cx='738.4' cy='462.7' r='1.5'/><circle cx='740.0' cy='423.6' r='1.5'/><circle cx='755.5' cy='441.1' r='1.5'/><circle cx='738.6' cy='447.3' r='1.5'/><circle cx='748.3' cy='432.8' r='1.5'/><circle cx='738.9' cy='472.5' r='1.5'/><circle cx='753.0' cy='446.9' r='1.5'/><circle cx='730.6' cy='451.3' r='1.5'/><circle cx='735.8' cy='448.6' r='1.5'/><circle cx='730.4' cy='494.6' r='1.5'/><circle cx='751.5' cy='453.1' r='1.5'/><circle cx='727.3' cy='481.6' r='1.5'/><circle cx='765.0' cy='435.0' r='1.5'/><circle cx='731.6' cy='446.6' r='1.5'/><circle cx='732.5' cy='456.3' r='1.5'/><circle cx='726.9' cy='474.4' r='1.5'/><circle cx='733.2' cy='466.5' r='1.5'/><circle cx='740.3' cy='455.5' r='1.5'/><circle cx='745.9' cy='455.8' r='1.5'/><circle cx='772.3' cy='445.4' r='1.5'/><circle cx='728.8' cy='459.5' r='1.5'/><circle cx='729.5' cy='463.7' r='1.5'/><circle cx='722.3' cy='452.5' r='1.5'/><circle cx='730.8' cy='460.1' r='1.5'/><circle cx='752.4' cy='456.6' r='1.5'/><circle cx='731.3' cy='477.6' r='1.5'/><circle cx='707.3' cy='467.6' r='1.5'/><circle cx='723.0' cy='469.5' r='1.5'/><circle cx='718.2' cy='461.7' r='1.5'/><circle cx='733.9' cy='459.9' r='1.5'/><circle cx='752.6' cy='441.6' r='1.5'/><circle cx='685.0' cy='498.7' r='1.5'/><circle cx='756.0' cy='449.1' r='1.5'/><circle cx='743.7' cy='449.6' r='1.5'/><circle cx='766.3' cy='441.1' r='1.5'/><circle cx='758.9' cy='457.7' r='1.5'/><circle cx='724.0' cy='453.1' r='1.5'/><circle cx='768.3' cy='437.6' r='1.5'/><circle cx='756.5' cy='434.9' r='1.5'/><circle cx='744.8' cy='457.1' r='1.5'/><circle cx='755.7' cy='427.5' r='1.5'/><circle cx='755.5' cy='453.4' r='1.5'/><circle cx='723.7' cy='456.8' r='1.5'/><circle cx='728.7' cy='456.6' r='1.5'/><circle cx='731.1' cy='468.2' r='1.5'/><circle cx='741.8' cy='461.0' r='1.5'/><circle cx='766.3' cy='448.1' r='1.5'/><circle cx='718.4' cy='498.3' r='1.5'/><circle cx='741.3' cy='464.2' r='1.5'/><circle cx='740.2' cy='458.0' r='1.5'/><circle cx='763.8' cy='426.1' r='1.5'/><circle cx='746.8' cy='460.2' r='1.5'/><circle cx='718.7' cy='448.1' r='1.5'/><circle cx='716.6' cy='459.3' r='1.5'/><circle cx='730.6' cy='469.2' r='1.5'/><circle cx='727.7' cy='473.6' r='1.5'/><circle cx='741.7' cy='465.3' r='1.5'/><circle cx='756.4' cy='423.6' r='1.5'/><circle cx='757.2' cy='456.1' r='1.5'/><circle cx='756.0' cy='433.9' r='1.5'/><circle cx='734.1' cy='462.4' r='1.5'/><circle cx='733.3' cy='467.9' r='1.5'/><circle cx='745.5' cy='455.1' r='1.5'/><circle cx='703.6' cy='483.3' r='1.5'/><circle cx='734.4' cy='467.5' r='1.5'/><circle cx='726.8' cy='453.3' r='1.5'/><circle cx='744.0' cy='454.4' r='1.5'/><circle cx='722.9' cy='485.0' r='1.5'/><circle cx='742.8' cy='467.0' r='1.5'/><circle cx='738.0' cy='462.3' r='1.5'/><circle cx='706.9' cy='469.9' r='1.5'/><circle cx='758.3' cy='465.7' r='1.5'/><circle cx='767.8' cy='438.4' r='1.5'/><circle cx='747.2' cy='462.8' r='1.5'/><circle cx='711.9' cy='469.0' r='1.5'/><circle cx='693.6' cy='506.4' r='1.5'/><circle cx='753.9' cy='462.7' r='1.5'/><circle cx='718.9' cy='471.9' r='1.5'/><circle cx='764.6' cy='454.0' r='1.5'/><circle cx='736.7' cy='452.0' r='1.5'/><circle cx='752.4' cy='460.3' r='1.5'/><circle cx='747.5' cy='460.4' r='1.5'/><circle cx='745.8' cy='464.6' r='1.5'/><circle cx='765.4' cy='437.0' r='1.5'/><circle cx='696.0' cy='506.4' r='1.5'/><circle cx='763.1' cy='430.6' r='1.5'/><circle cx='736.3' cy='439.3' r='1.5'/><circle cx='747.7' cy='450.9' r='1.5'/><circle cx='764.8' cy='435.4' r='1.5'/><circle cx='722.1' cy='490.3' r='1.5'/><circle cx='736.7' cy='447.8' r='1.5'/><circle cx='724.8' cy='461.7' r='1.5'/><circle cx='750.4' cy='445.6' r='1.5'/><circle cx='735.8' cy='458.7' r='1.5'/><circle cx='732.1' cy='447.2' r='1.5'/><circle cx='754.6' cy='448.3' r='1.5'/><circle cx='753.2' cy='467.7' r='1.5'/><circle cx='738.9' cy='464.3' r='1.5'/><circle cx='758.5' cy='440.1' r='1.5'/><circle cx='723.9' cy='485.8' r='1.5'/><circle cx='736.5' cy='475.9' r='1.5'/><circle cx='726.8' cy='486.2' r='1.5'/><circle cx='768.0' cy='442.0' r='1.5'/><circle cx='730.6' cy='459.2' r='1.5'/><circle cx='739.5' cy='441.9' r='1.5'/><circle cx='735.8' cy='452.4' r='1.5'/><circle cx='760.3' cy='438.1' r='1.5'/><circle cx='733.8' cy='468.4' r='1.5'/><circle cx='761.2' cy='432.4' r='1.5'/><circle cx='739.3' cy='461.8' r='1.5'/><circle cx='704.5' cy='478.5' r='1.5'/><circle cx='734.9' cy='449.7' r='1.5'/><circle cx='773.8' cy='443.5' r='1.5'/><circle cx='740.6' cy='431.2' r='1.5'/><circle cx='735.4' cy='458.2' r='1.5'/><circle cx='749.0' cy='440.9' r='1.5'/><circle cx='737.8' cy='448.0' r='1.5'/><circle cx='769.5' cy='433.9' r='1.5'/><circle cx='745.9' cy='453.5' r='1.5'/><circle cx='737.7' cy='472.2' r='1.5'/><circle cx='760.8' cy='432.5' r='1.5'/><circle cx='724.9' cy='478.8' r='1.5'/><circle cx='741.0' cy='435.1' r='1.5'/><circle cx='729.9' cy='476.2' r='1.5'/><circle cx='760.6' cy='449.9' r='1.5'/><circle cx='736.2' cy='469.9' r='1.5'/><circle cx='753.6' cy='438.9' r='1.5'/><circle cx='730.3' cy='472.7' r='1.5'/><circle cx='747.8' cy='441.5' r='1.5'/><circle cx='720.8' cy='465.6' r='1.5'/><circle cx='741.5' cy='455.5' r='1.5'/><circle cx='760.3' cy='444.8' r='1.5'/><circle cx='748.3' cy='469.7' r='1.5'/><circle cx='727.5' cy='464.1' r='1.5'/><circle cx='725.3' cy='470.9' r='1.5'/><circle cx='736.9' cy='462.1' r='1.5'/><circle cx='706.0' cy='479.2' r='1.5'/><circle cx='736.4' cy='449.7' r='1.5'/><circle cx='758.8' cy='459.4' r='1.5'/><circle cx='738.1' cy='475.9' r='1.5'/><circle cx='735.8' cy='475.5' r='1.5'/><circle cx='745.4' cy='444.3' r='1.5'/><circle cx='748.8' cy='453.7' r='1.5'/><circle cx='743.8' cy='465.5' r='1.5'/><circle cx='750.4' cy='439.3' r='1.5'/><circle cx='745.5' cy='458.6' r='1.5'/><circle cx='744.0' cy='446.8' r='1.5'/><circle cx='749.9' cy='456.9' r='1.5'/><circle cx='769.6' cy='429.6' r='1.5'/><circle cx='729.5' cy='464.9' r='1.5'/><circle cx='767.5' cy='424.6' r='1.5'/><circle cx='721.2' cy='451.3' r='1.5'/><circle cx='743.6' cy='448.7' r='1.5'/><circle cx='717.2' cy='469.3' r='1.5'/><circle cx='737.3' cy='465.3' r='1.5'/><circle cx='706.3' cy='488.2' r='1.5'/><circle cx='752.5' cy='423.4' r='1.5'/><circle cx='725.9' cy='478.3' r='1.5'/><circle cx='753.2' cy='436.9' r='1.5'/><circle cx='752.2' cy='443.1' r='1.5'/><circle cx='769.7' cy='431.3' r='1.5'/><circle cx='713.4' cy='469.3' r='1.5'/><circle cx='743.1' cy='452.6' r='1.5'/><circle cx='729.0' cy='457.1' r='1.5'/><circle cx='746.9' cy='465.7' r='1.5'/><circle cx='741.0' cy='451.8' r='1.5'/><circle cx='739.3' cy='442.2' r='1.5'/><circle cx='780.8' cy='439.9' r='1.5'/><circle cx='755.5' cy='443.1' r='1.5'/><circle cx='734.3' cy='463.0' r='1.5'/><circle cx='741.3' cy='471.2' r='1.5'/><circle cx='723.5' cy='454.3' r='1.5'/><circle cx='736.5' cy='455.3' r='1.5'/><circle cx='730.4' cy='465.8' r='1.5'/><circle cx='764.3' cy='418.4' r='1.5'/><circle cx='764.7' cy='442.9' r='1.5'/><circle cx='744.1' cy='460.2' r='1.5'/><circle cx='714.2' cy='470.7' r='1.5'/><circle cx='747.1' cy='448.1' r='1.5'/><circle cx='743.8' cy='447.4' r='1.5'/><circle cx='752.5' cy='457.3' r='1.5'/><circle cx='749.2' cy='445.3' r='1.5'/><circle cx='738.8' cy='463.8' r='1.5'/><circle cx='742.6' cy='464.2' r='1.5'/><circle cx='746.9' cy='455.5' r='1.5'/><circle cx='726.0' cy='480.8' r='1.5'/><circle cx='743.6' cy='455.3' r='1.5'/><circle cx='731.2' cy='451.9' r='1.5'/><circle cx='745.8' cy='462.0' r='1.5'/><circle cx='741.9' cy='447.1' r='1.5'/><circle cx='736.5' cy='465.7' r='1.5'/><circle cx='713.1' cy='473.0' r='1.5'/><circle cx='709.9' cy='477.0' r='1.5'/><circle cx='740.7' cy='458.0' r='1.5'/><circle cx='751.1' cy='445.5' r='1.5'/><circle cx='746.6' cy='437.9' r='1.5'/><circle cx='774.1' cy='435.8' r='1.5'/><circle cx='723.2' cy='481.4' r='1.5'/><circle cx='762.6' cy='422.4' r='1.5'/><circle cx='750.1' cy='467.7' r='1.5'/><circle cx='732.9' cy='464.8' r='1.5'/><circle cx='760.4' cy='434.9' r='1.5'/><circle cx='767.3' cy='436.0' r='1.5'/><circle cx='735.7' cy='464.2' r='1.5'/><circle cx='744.9' cy='453.4' r='1.5'/><circle cx='750.5' cy='462.7' r='1.5'/><circle cx='755.5' cy='455.0' r='1.5'/><circle cx='712.9' cy='465.1' r='1.5'/><circle cx='750.0' cy='449.5' r='1.5'/><circle cx='738.7' cy='457.7' r='1.5'/><circle cx='716.8' cy='468.1' r='1.5'/><circle cx='729.0' cy='474.0' r='1.5'/><circle cx='749.5' cy='458.3' r='1.5'/><circle cx='738.0' cy='434.2' r='1.5'/><circle cx='732.3' cy='473.0' r='1.5'/><circle cx='731.3' cy='460.0' r='1.5'/><circle cx='727.4' cy='468.8' r='1.5'/><circle cx='767.1' cy='443.3' r='1.5'/><circle cx='740.5' cy='454.1' r='1.5'/><circle cx='718.3' cy='481.1' r='1.5'/><circle cx='762.1' cy='433.5' r='1.5'/><circle cx='721.2' cy='481.5' r='1.5'/><circle cx='739.8' cy='472.0' r='1.5'/><circle cx='735.8' cy='450.2' r='1.5'/><circle cx='759.8' cy='441.4' r='1.5'/><circle cx='758.5' cy='425.1' r='1.5'/><circle cx='728.9' cy='468.3' r='1.5'/><circle cx='727.5' cy='456.9' r='1.5'/><circle cx='753.0' cy='444.7' r='1.5'/><circle cx='704.7' cy='479.8' r='1.5'/><circle cx='756.5' cy='439.1' r='1.5'/><circle cx='756.8' cy='450.9' r='1.5'/><circle cx='721.2' cy='497.1' r='1.5'/><circle cx='724.6' cy='455.2' r='1.5'/><circle cx='742.7' cy='474.0' r='1.5'/><circle cx='744.3' cy='456.4' r='1.5'/><circle cx='757.6' cy='417.4' r='1.5'/><circle cx='743.3' cy='458.1' r='1.5'/><circle cx='742.9' cy='463.5' r='1.5'/><circle cx='741.7' cy='442.6' r='1.5'/><circle cx='740.0' cy='444.7' r='1.5'/><circle cx='731.9' cy='461.4' r='1.5'/><circle cx='746.2' cy='470.5' r='1.5'/><circle cx='748.9' cy='456.5' r='1.5'/><circle cx='755.2' cy='449.9' r='1.5'/><circle cx='707.2' cy='471.2' r='1.5'/><circle cx='739.6' cy='470.5' r='1.5'/><circle cx='743.9' cy='463.6' r='1.5'/><circle cx='760.3' cy='431.7' r='1.5'/><circle cx='749.9' cy='461.4' r='1.5'/><circle cx='749.8' cy='464.3' r='1.5'/><circle cx='750.3' cy='444.8' r='1.5'/><circle cx='759.7' cy='441.0' r='1.5'/><circle cx='769.9' cy='431.0' r='1.5'/><circle cx='735.2' cy='461.7' r='1.5'/><circle cx='735.1' cy='454.3' r='1.5'/><circle cx='757.6' cy='435.4' r='1.5'/><circle cx='737.8' cy='465.2' r='1.5'/><circle cx='743.5' cy='442.2' r='1.5'/><circle cx='742.1' cy='449.5' r='1.5'/><circle cx='752.9' cy='448.0' r='1.5'/><circle cx='749.7' cy='462.9' r='1.5'/><circle cx='728.9' cy='460.5' r='1.5'/><circle cx='728.2' cy='457.1' r='1.5'/><circle cx='729.1' cy='465.9' r='1.5'/><circle cx='734.4' cy='461.8' r='1.5'/><circle cx='745.9' cy='457.6' r='1.5'/><circle cx='716.6' cy='473.6' r='1.5'/><circle cx='712.3' cy='471.9' r='1.5'/><circle cx='740.6' cy='430.9' r='1.5'/><circle cx='753.7' cy='457.6' r='1.5'/><circle cx='742.4' cy='466.0' r='1.5'/><circle cx='744.8' cy='463.7' r='1.5'/><circle cx='753.1' cy='433.2' r='1.5'/><circle cx='738.8' cy='474.3' r='1.5'/><circle cx='746.6' cy='444.5' r='1.5'/><circle cx='748.9' cy='455.0' r='1.5'/><circle cx='691.6' cy='485.2' r='1.5'/><circle cx='745.3' cy='469.5' r='1.5'/><circle cx='750.0' cy='458.6' r='1.5'/><circle cx='731.5' cy='460.3' r='1.5'/><circle cx='735.7' cy='453.1' r='1.5'/><circle cx='748.1' cy='463.1' r='1.5'/><circle cx='743.8' cy='472.0' r='1.5'/><circle cx='724.7' cy='477.5' r='1.5'/><circle cx='759.7' cy='443.6' r='1.5'/><circle cx='730.1' cy='460.8' r='1.5'/><circle cx='739.0' cy='440.1' r='1.5'/><circle cx='736.3' cy='462.2' r='1.5'/><circle cx='729.2' cy='467.0' r='1.5'/><circle cx='761.6' cy='428.4' r='1.5'/><circle cx='733.1' cy='473.0' r='1.5'/><circle cx='757.5' cy='464.5' r='1.5'/><circle cx='754.4' cy='440.9' r='1.5'/><circle cx='753.9' cy='450.3' r='1.5'/><circle cx='745.7' cy='457.5' r='1.5'/><circle cx='724.9' cy='466.9' r='1.5'/><circle cx='767.3' cy='433.3' r='1.5'/><circle cx='735.8' cy='446.1' r='1.5'/><circle cx='728.2' cy='459.6' r='1.5'/><circle cx='733.1' cy='459.7' r='1.5'/><circle cx='745.7' cy='465.9' r='1.5'/><circle cx='739.0' cy='460.5' r='1.5'/><circle cx='721.3' cy='472.6' r='1.5'/><circle cx='709.1' cy='463.6' r='1.5'/><circle cx='758.4' cy='441.7' r='1.5'/><circle cx='738.3' cy='445.0' r='1.5'/><circle cx='749.5' cy='452.8' r='1.5'/><circle cx='720.6' cy='470.9' r='1.5'/><circle cx='722.2' cy='471.3' r='1.5'/><circle cx='735.9' cy='455.3' r='1.5'/><circle cx='740.2' cy='432.4' r='1.5'/><circle cx='744.9' cy='460.7' r='1.5'/><circle cx='735.9' cy='444.4' r='1.5'/><circle cx='715.6' cy='462.6' r='1.5'/><circle cx='744.3' cy='460.8' r='1.5'/><circle cx='752.6' cy='448.2' r='1.5'/><circle cx='725.9' cy='462.6' r='1.5'/><circle cx='734.5' cy='459.9' r='1.5'/><circle cx='756.4' cy='444.9' r='1.5'/><circle cx='750.5' cy='445.6' r='1.5'/><circle cx='723.7' cy='465.2' r='1.5'/><circle cx='742.8' cy='466.9' r='1.5'/><circle cx='739.7' cy='452.9' r='1.5'/><circle cx='692.5' cy='485.1' r='1.5'/><circle cx='739.2' cy='472.9' r='1.5'/><circle cx='745.0' cy='450.7' r='1.5'/><circle cx='767.0' cy='447.7' r='1.5'/><circle cx='726.2' cy='475.6' r='1.5'/><circle cx='731.1' cy='456.0' r='1.5'/><circle cx='739.4' cy='447.6' r='1.5'/><circle cx='753.0' cy='421.7' r='1.5'/><circle cx='726.0' cy='465.3' r='1.5'/><circle cx='775.8' cy='422.1' r='1.5'/><circle cx='737.3' cy='461.8' r='1.5'/><circle cx='744.2' cy='465.2' r='1.5'/><circle cx='729.1' cy='456.0' r='1.5'/><circle cx='719.1' cy='462.8' r='1.5'/><circle cx='744.1' cy='449.0' r='1.5'/><circle cx='742.4' cy='459.8' r='1.5'/><circle cx='723.4' cy='473.9' r='1.5'/><circle cx='761.6' cy='437.1' r='1.5'/><circle cx='725.5' cy='468.3' r='1.5'/><circle cx='725.2' cy='446.3' r='1.5'/><circle cx='740.6' cy='447.2' r='1.5'/><circle cx='752.5' cy='448.0' r='1.5'/><circle cx='738.7' cy='447.2' r='1.5'/><circle cx='777.5' cy='418.0' r='1.5'/><circle cx='736.8' cy='479.9' r='1.5'/><circle cx='734.7' cy='448.6' r='1.5'/><circle cx='727.4' cy='469.5' r='1.5'/><circle cx='751.8' cy='444.1' r='1.5'/><circle cx='714.2' cy='467.4' r='1.5'/><circle cx='743.7' cy='445.3' r='1.5'/><circle cx='758.1' cy='458.8' r='1.5'/><circle cx='745.5' cy='450.9' r='1.5'/><circle cx='735.4' cy='454.1' r='1.5'/><circle cx='750.4' cy='448.3' r='1.5'/><circle cx='764.0' cy='432.3' r='1.5'/><circle cx='729.4' cy='452.4' r='1.5'/><circle cx='726.7' cy='457.5' r='1.5'/><circle cx='734.3' cy='471.4' r='1.5'/><circle cx='773.0' cy='421.5' r='1.5'/><circle cx='766.8' cy='430.7' r='1.5'/><circle cx='751.3' cy='451.4' r='1.5'/><circle cx='737.9' cy='453.7' r='1.5'/><circle cx='730.5' cy='469.1' r='1.5'/><circle cx='744.0' cy='445.7' r='1.5'/><circle cx='728.9' cy='459.9' r='1.5'/><circle cx='776.4' cy='429.0' r='1.5'/><circle cx='715.6' cy='479.9' r='1.5'/><circle cx='743.7' cy='466.9' r='1.5'/><circle cx='724.2' cy='474.4' r='1.5'/><circle cx='756.3' cy='442.5' r='1.5'/><circle cx='739.8' cy='454.2' r='1.5'/><circle cx='712.9' cy='493.6' r='1.5'/><circle cx='733.9' cy='457.6' r='1.5'/><circle cx='756.7' cy='437.3' r='1.5'/><circle cx='758.8' cy='447.3' r='1.5'/><circle cx='740.4' cy='457.9' r='1.5'/><circle cx='744.3' cy='460.4' r='1.5'/><circle cx='744.1' cy='456.7' r='1.5'/></g>
<g class='si' fill='none' stroke='#00bfff' stroke-opacity='0.3' stroke-width='0.8'><circle cx='756.8' cy='452.0' r='1.5'/><circle cx='737.0' cy='454.3' r='1.5'/><circle cx='750.7' cy='462.9' r='1.5'/><circle cx='733.2' cy='482.7' r='1.5'/><circle cx='728.0' cy='463.3' r='1.5'/><circle cx='737.5' cy='459.5' r='1.5'/><circle cx='767.0' cy='428.7' r='1.5'/><circle cx='741.3' cy='471.1' r='1.5'/><circle cx='732.7' cy='455.4' r='1.5'/><circle cx='729.9' cy='468.1' r='1.5'/><circle cx='744.5' cy='461.6' r='1.5'/><circle cx='744.0' cy='456.4' r='1.5'/><circle cx='750.6' cy='432.7' r='1.5'/><circle cx='738.9' cy='443.3' r='1.5'/><circle cx='749.8' cy='457.7' r='1.5'/><circle cx='732.5' cy='471.7' r='1.5'/><circle cx='739.2' cy='463.4' r='1.5'/><circle cx='783.5' cy='444.0' r='1.5'/><circle cx='730.0' cy='468.8' r='1.5'/><circle cx='713.4' cy='488.6' r='1.5'/><circle cx='743.4' cy='451.1' r='1.5'/><circle cx='753.9' cy='458.5' r='1.5'/><circle cx='728.2' cy='462.0' r='1.5'/><circle cx='771.4' cy='424.0' r='1.5'/><circle cx='753.3' cy='463.4' r='1.5'/><circle cx='735.3' cy='465.6' r='1.5'/><circle cx='758.1' cy='432.7' r='1.5'/><circle cx='750.3' cy='463.2' r='1.5'/><circle cx='732.7' cy='464.4' r='1.5'/><circle cx='745.7' cy='434.5' r='1.5'/><circle cx='739.3' cy='452.9' r='1.5'/><circle cx='762.8' cy='449.1' r='1.5'/><circle cx='716.8' cy='486.8' r='1.5'/><circle cx='756.8' cy='439.7' r='1.5'/><circle cx='755.2' cy='448.0' r='1.5'/><circle cx='760.0' cy='433.5' r='1.5'/><circle cx='737.0' cy='453.1' r='1.5'/><circle cx='726.8' cy='461.4' r='1.5'/><circle cx='751.4' cy='458.5' r='1.5'/><circle cx='746.5' cy='458.4' r='1.5'/><circle cx='755.5' cy='435.5' r='1.5'/><circle cx='751.5' cy='447.9' r='1.5'/><circle cx='748.3' cy='438.2' r='1.5'/><circle cx='749.8' cy='478.7' r='1.5'/><circle cx='729.4' cy='467.8' r='1.5'/><circle cx='764.8' cy='448.8' r='1.5'/><circle cx='753.6' cy='439.5' r='1.5'/><circle cx='741.6' cy='469.1' r='1.5'/><circle cx='762.6' cy='420.0' r='1.5'/><circle cx='738.5' cy='469.2' r='1.5'/><circle cx='736.7' cy='458.5' r='1.5'/><circle cx='733.4' cy='462.7' r='1.5'/><circle cx='728.7' cy='462.1' r='1.5'/><circle cx='744.7' cy='463.0' r='1.5'/><circle cx='738.3' cy='461.7' r='1.5'/><circle cx='745.1' cy='434.1' r='1.5'/><circle cx='738.3' cy='472.1' r='1.5'/><circle cx='710.7' cy='467.6' r='1.5'/><circle cx='741.7' cy='440.1' r='1.5'/><circle cx='727.0' cy='491.8' r='1.5'/><circle cx='727.9' cy='474.7' r='1.5'/><circle cx='738.3' cy='467.7' r='1.5'/><circle cx='755.3' cy='475.9' r='1.5'/><circle cx='726.1' cy='476.0' r='1.5'/><circle cx='732.5' cy='462.6' r='1.5'/><circle cx='752.0' cy='425.9' r='1.5'/><circle cx='734.3' cy='471.4' r='1.5'/><circle cx='724.9' cy='483.9' r='1.5'/><circle cx='730.9' cy='476.8' r='1.5'/><circle cx='738.7' cy='460.1' r='1.5'/><circle cx='722.4' cy='453.6' r='1.5'/><circle cx='750.4' cy='451.5' r='1.5'/><circle cx='727.7' cy='455.8' r='1.5'/><circle cx='743.4' cy='475.1' r='1.5'/><circle cx='733.6' cy='463.3' r='1.5'/><circle cx='738.7' cy='466.4' r='1.5'/><circle cx='751.0' cy='454.5' r='1.5'/><circle cx='745.6' cy='437.1' r='1.5'/><circle cx='743.3' cy='450.0' r='1.5'/><circle cx='708.8' cy='480.3' r='1.5'/><circle cx='741.5' cy='459.9' r='1.5'/><circle cx='754.3' cy='466.3' r='1.5'/><circle cx='761.1' cy='426.8' r='1.5'/><circle cx='755.6' cy='437.0' r='1.5'/><circle cx='736.9' cy='434.3' r='1.5'/><circle cx='736.8' cy='454.0' r='1.5'/><circle cx='727.0' cy='467.4' r='1.5'/><circle cx='734.0' cy='483.0' r='1.5'/><circle cx='764.4' cy='432.0' r='1.5'/><circle cx='766.4' cy='434.8' r='1.5'/><circle cx='769.4' cy='442.2' r='1.5'/><circle cx='720.8' cy='484.0' r='1.5'/><circle cx='740.2' cy='458.4' r='1.5'/><circle cx='734.9' cy='461.1' r='1.5'/><circle cx='732.0' cy='462.2' r='1.5'/><circle cx='769.7' cy='443.3' r='1.5'/><circle cx='739.5' cy='452.4' r='1.5'/><circle cx='744.6' cy='449.9' r='1.5'/><circle cx='720.2' cy='489.4' r='1.5'/><circle cx='753.6' cy='458.5' r='1.5'/><circle cx='729.8' cy='468.5' r='1.5'/><circle cx='732.4' cy='446.5' r='1.5'/><circle cx='730.1' cy='449.6' r='1.5'/><circle cx='742.1' cy='463.8' r='1.5'/><circle cx='724.2' cy='456.6' r='1.5'/><circle cx='747.9' cy='481.3' r='1.5'/><circle cx='731.1' cy='462.1' r='1.5'/><circle cx='746.9' cy='447.0' r='1.5'/><circle cx='767.9' cy='409.0' r='1.5'/><circle cx='734.7' cy='471.4' r='1.5'/><circle cx='757.1' cy='441.0' r='1.5'/><circle cx='725.1' cy='475.5' r='1.5'/><circle cx='730.0' cy='462.1' r='1.5'/><circle cx='735.9' cy='473.1' r='1.5'/><circle cx='759.0' cy='442.0' r='1.5'/><circle cx='769.4' cy='424.9' r='1.5'/><circle cx='729.3' cy='483.3' r='1.5'/><circle cx='729.8' cy='456.9' r='1.5'/><circle cx='720.4' cy='471.2' r='1.5'/><circle cx='772.8' cy='429.2' r='1.5'/><circle cx='687.6' cy='491.6' r='1.5'/><circle cx='747.1' cy='455.1' r='1.5'/><circle cx='735.2' cy='455.8' r='1.5'/><circle cx='735.3' cy='448.1' r='1.5'/><circle cx='761.1' cy='441.4' r='1.5'/><circle cx='731.3' cy='463.5' r='1.5'/><circle cx='759.2' cy='444.8' r='1.5'/><circle cx='729.1' cy='464.5' r='1.5'/><circle cx='741.9' cy='453.0' r='1.5'/><circle cx='782.4' cy='414.0' r='1.5'/><circle cx='740.6' cy='472.0' r='1.5'/><circle cx='731.1' cy='480.2' r='1.5'/><circle cx='758.8' cy='450.2' r='1.5'/><circle cx='753.0' cy='441.9' r='1.5'/><circle cx='739.3' cy='456.0' r='1.5'/><circle cx='723.8' cy='452.1' r='1.5'/><circle cx='724.7' cy='481.2' r='1.5'/><circle cx='749.3' cy='448.9' r='1.5'/><circle cx='747.2' cy='434.6' r='1.5'/><circle cx='710.7' cy='492.0' r='1.5'/><circle cx='750.4' cy='440.6' r='1.5'/><circle cx='742.5' cy='456.7' r='1.5'/><circle cx='736.3' cy='456.9' r='1.5'/><circle cx='752.3' cy='453.3' r='1.5'/><circle cx='725.5' cy='468.9' r='1.5'/><circle cx='741.3' cy='453.6' r='1.5'/><circle cx='755.6' cy='419.7' r='1.5'/><circle cx='739.6' cy='452.9' r='1.5'/><circle cx='717.4' cy='480.6' r='1.5'/><circle cx='750.0' cy='464.1' r='1.5'/><circle cx='770.2' cy='405.7' r='1.5'/><circle cx='777.0' cy='422.7' r='1.5'/><circle cx='703.2' cy='469.0' r='1.5'/><circle cx='785.4' cy='431.6' r='1.5'/><circle cx='737.6' cy='469.3' r='1.5'/><circle cx='761.2' cy='420.0' r='1.5'/><circle cx='726.8' cy='489.0' r='1.5'/><circle cx='759.3' cy='451.2' r='1.5'/><circle cx='766.6' cy='411.5' r='1.5'/><circle cx='751.8' cy='460.7' r='1.5'/><circle cx='718.0' cy='471.7' r='1.5'/><circle cx='767.1' cy='442.4' r='1.5'/><circle cx='716.4' cy='488.0' r='1.5'/><circle cx='715.3' cy='464.3' r='1.5'/><circle cx='752.9' cy='442.1' r='1.5'/><circle cx='755.9' cy='446.9' r='1.5'/><circle cx='735.9' cy='443.3' r='1.5'/><circle cx='714.1' cy='498.9' r='1.5'/><circle cx='753.6' cy='449.6' r='1.5'/><circle cx='735.6' cy='456.7' r='1.5'/><circle cx='752.9' cy='450.0' r='1.5'/><circle cx='724.9' cy='482.4' r='1.5'/><circle cx='722.0' cy='492.4' r='1.5'/><circle cx='731.1' cy='458.6' r='1.5'/><circle cx='728.1' cy='469.0' r='1.5'/><circle cx='743.8' cy='442.1' r='1.5'/><circle cx='720.6' cy='477.9' r='1.5'/><circle cx='718.0' cy='476.6' r='1.5'/><circle cx='752.6' cy='436.7' r='1.5'/><circle cx='755.7' cy='443.0' r='1.5'/><circle cx='752.2' cy='439.9' r='1.5'/><circle cx='729.0' cy='476.6' r='1.5'/><circle cx='746.9' cy='445.3' r='1.5'/><circle cx='761.8' cy='430.6' r='1.5'/><circle cx='754.8' cy='443.4' r='1.5'/><circle cx='703.4' cy='474.0' r='1.5'/><circle cx='755.1' cy='454.0' r='1.5'/><circle cx='728.7' cy='482.1' r='1.5'/><circle cx='717.8' cy='489.5' r='1.5'/><circle cx='757.7' cy='442.8' r='1.5'/><circle cx='759.5' cy='443.4' r='1.5'/><circle cx='728.2' cy='463.5' r='1.5'/><circle cx='725.7' cy='459.4' r='1.5'/><circle cx='733.2' cy='458.3' r='1.5'/><circle cx='763.4' cy='422.2' r='1.5'/><circle cx='722.0' cy='469.1' r='1.5'/><circle cx='735.6' cy='453.0' r='1.5'/><circle cx='697.4' cy='469.5' r='1.5'/><circle cx='730.5' cy='454.9' r='1.5'/><circle cx='732.8' cy='477.6' r='1.5'/><circle cx='772.2' cy='436.2' r='1.5'/><circle cx='754.6' cy='446.1' r='1.5'/><circle cx='759.4' cy='441.5' r='1.5'/><circle cx='756.0' cy='445.9' r='1.5'/><circle cx='760.8' cy='434.6' r='1.5'/><circle cx='748.1' cy='483.3' r='1.5'/><circle cx='762.3' cy='432.7' r='1.5'/><circle cx='729.5' cy='475.5' r='1.5'/><circle cx='719.2' cy='479.8' r='1.5'/><circle cx='760.2' cy='448.6' r='1.5'/><circle cx='734.4' cy='447.7' r='1.5'/><circle cx='739.2' cy='448.9' r='1.5'/><circle cx='730.2' cy='454.9' r='1.5'/><circle cx='765.4' cy='434.4' r='1.5'/><circle cx='743.5' cy='449.8' r='1.5'/><circle cx='740.0' cy='453.0' r='1.5'/><circle cx='745.3' cy='445.8' r='1.5'/><circle cx='740.3' cy='457.4' r='1.5'/><circle cx='736.8' cy='463.5' r='1.5'/><circle cx='737.9' cy='450.8' r='1.5'/><circle cx='732.8' cy='473.9' r='1.5'/><circle cx='731.7' cy='465.1' r='1.5'/><circle cx='715.3' cy='481.6' r='1.5'/><circle cx='753.5' cy='440.1' r='1.5'/><circle cx='729.8' cy='456.3' r='1.5'/><circle cx='712.6' cy='461.7' r='1.5'/><circle cx='745.3' cy='458.2' r='1.5'/><circle cx='746.5' cy='451.8' r='1.5'/><circle cx='781.6' cy='437.1' r='1.5'/><circle cx='794.9' cy='424.7' r='1.5'/><circle cx='756.6' cy='432.2' r='1.5'/><circle cx='765.2' cy='442.3' r='1.5'/><circle cx='702.6' cy='471.7' r='1.5'/><circle cx='761.4' cy='420.8' r='1.5'/><circle cx='750.3' cy='434.3' r='1.5'/><circle cx='757.7' cy='443.9' r='1.5'/><circle cx='739.0' cy='454.7' r='1.5'/><circle cx='736.8' cy='447.4' r='1.5'/><circle cx='769.6' cy='422.3' r='1.5'/><circle cx='756.4' cy='476.5' r='1.5'/><circle cx='776.0' cy='441.3' r='1.5'/><circle cx='749.6' cy='450.0' r='1.5'/><circle cx='709.4' cy='482.4' r='1.5'/><circle cx='747.2' cy='440.0' r='1.5'/><circle cx='753.7' cy='440.5' r='1.5'/><circle cx='729.5' cy='469.6' r='1.5'/><circle cx='763.9' cy='444.4' r='1.5'/><circle cx='761.9' cy='460.8' r='1.5'/><circle cx='754.8' cy='441.5' r='1.5'/><circle cx='718.6' cy='469.0' r='1.5'/><circle cx='759.9' cy='448.9' r='1.5'/><circle cx='761.8' cy='438.2' r='1.5'/><circle cx='731.6' cy='474.1' r='1.5'/><circle cx='740.2' cy='459.6' r='1.5'/><circle cx='757.1' cy='449.2' r='1.5'/><circle cx='733.4' cy='468.7' r='1.5'/><circle cx='763.8' cy='448.5' r='1.5'/><circle cx='713.8' cy='479.0' r='1.5'/><circle cx='761.2' cy='438.5' r='1.5'/><circle cx='740.4' cy='472.1' r='1.5'/><circle cx='728.0' cy='462.9' r='1.5'/><circle cx='758.5' cy='446.2' r='1.5'/><circle cx='738.6' cy='462.9' r='1.5'/><circle cx='744.1' cy='450.7' r='1.5'/><circle cx='732.1' cy='439.6' r='1.5'/><circle cx='721.9' cy='472.5' r='1.5'/><circle cx='745.1' cy='447.7' r='1.5'/><circle cx='757.5' cy='459.2' r='1.5'/><circle cx='744.1' cy='437.9' r='1.5'/><circle cx='776.1' cy='430.7' r='1.5'/><circle cx='726.7' cy='472.7' r='1.5'/><circle cx='770.3' cy='436.3' r='1.5'/><circle cx='750.1' cy='449.3' r='1.5'/><circle cx='737.2' cy='455.1' r='1.5'/><circle cx='729.0' cy='460.9' r='1.5'/><circle cx='751.8' cy='456.9' r='1.5'/><circle cx='712.3' cy='476.4' r='1.5'/><circle cx='768.8' cy='425.3' r='1.5'/><circle cx='748.4' cy='448.4' r='1.5'/><circle cx='744.0' cy='430.3' r='1.5'/><circle cx='774.8' cy='437.2' r='1.5'/><circle cx='742.8' cy='456.7' r='1.5'/><circle cx='741.3' cy='458.0' r='1.5'/><circle cx='751.7' cy='443.9' r='1.5'/><circle cx='775.1' cy='416.4' r='1.5'/><circle cx='721.9' cy='491.7' r='1.5'/><circle cx='741.1' cy='461.0' r='1.5'/><circle cx='719.6' cy='459.0' r='1.5'/><circle cx='761.5' cy='436.9' r='1.5'/><circle cx='716.1' cy='481.8' r='1.5'/><circle cx='705.2' cy='485.0' r='1.5'/><circle cx='766.8' cy='431.4' r='1.5'/><circle cx='745.4' cy='431.7' r='1.5'/><circle cx='754.0' cy='451.7' r='1.5'/><circle cx='750.0' cy='474.5' r='1.5'/><circle cx='788.7' cy='418.8' r='1.5'/><circle cx='722.8' cy='475.2' r='1.5'/><circle cx='762.0' cy='439.3' r='1.5'/><circle cx='755.1' cy='420.5' r='1.5'/><circle cx='727.3' cy='441.0' r='1.5'/><circle cx='740.8' cy='484.0' r='1.5'/><circle cx='759.0' cy='451.3' r='1.5'/><circle cx='738.7' cy='468.4' r='1.5'/><circle cx='752.4' cy='467.0' r='1.5'/><circle cx='746.5' cy='441.1' r='1.5'/><circle cx='760.4' cy='436.9' r='1.5'/><circle cx='737.4' cy='470.6' r='1.5'/><circle cx='769.1' cy='459.7' r='1.5'/><circle cx='738.9' cy='452.8' r='1.5'/><circle cx='749.6' cy='450.6' r='1.5'/><circle cx='733.4' cy='460.0' r='1.5'/><circle cx='745.7' cy='481.1' r='1.5'/><circle cx='748.9' cy='431.2' r='1.5'/><circle cx='761.3' cy='450.8' r='1.5'/><circle cx='738.2' cy='461.6' r='1.5'/><circle cx='730.2' cy='449.8' r='1.5'/><circle cx='746.7' cy='438.6' r='1.5'/><circle cx='752.0' cy='455.1' r='1.5'/><circle cx='750.1' cy='432.7' r='1.5'/><circle cx='694.4' cy='504.8' r='1.5'/><circle cx='738.6' cy='446.5' r='1.5'/><circle cx='745.7' cy='446.4' r='1.5'/><circle cx='754.4' cy='437.5' r='1.5'/><circle cx='745.1' cy='461.5' r='1.5'/><circle cx='749.1' cy='440.3' r='1.5'/><circle cx='758.1' cy='438.6' r='1.5'/><circle cx='736.7' cy='462.9' r='1.5'/><circle cx='744.4' cy='467.6' r='1.5'/><circle cx='741.0' cy='433.1' r='1.5'/><circle cx='727.5' cy='460.6' r='1.5'/><circle cx='732.4' cy='465.8' r='1.5'/><circle cx='728.8' cy='477.1' r='1.5'/><circle cx='722.1' cy='502.0' r='1.5'/><circle cx='752.6' cy='432.2' r='1.5'/><circle cx='726.0' cy='483.1' r='1.5'/><circle cx='764.4' cy='446.9' r='1.5'/><circle cx='758.3' cy='446.8' r='1.5'/><circle cx='709.4' cy='493.0' r='1.5'/><circle cx='751.5' cy='448.3' r='1.5'/><circle cx='734.2' cy='483.1' r='1.5'/><circle cx='762.2' cy='419.8' r='1.5'/><circle cx='723.9' cy='482.5' r='1.5'/><circle cx='754.0' cy='474.7' r='1.5'/><circle cx='722.6' cy='456.1' r='1.5'/><circle cx='756.6' cy='443.2' r='1.5'/><circle cx='741.4' cy='463.2' r='1.5'/><circle cx='752.8' cy='432.8' r='1.5'/><circle cx='732.3' cy='459.2' r='1.5'/><circle cx='749.8' cy='439.8' r='1.5'/><circle cx='740.1' cy='459.9' r='1.5'/><circle cx='745.8' cy='462.6' r='1.5'/><circle cx='745.9' cy='451.9' r='1.5'/><circle cx='738.4' cy='439.6' r='1.5'/><circle cx='752.0' cy='426.8' r='1.5'/><circle cx='763.0' cy='444.6' r='1.5'/><circle cx='761.8' cy='449.8' r='1.5'/><circle cx='753.7' cy='461.9' r='1.5'/><circle cx='728.2' cy='475.6' r='1.5'/><circle cx='770.9' cy='443.5' r='1.5'/><circle cx='734.6' cy='464.2' r='1.5'/><circle cx='702.5' cy='503.8' r='1.5'/><circle cx='762.3' cy='436.1' r='1.5'/><circle cx='731.8' cy='462.5' r='1.5'/><circle cx='774.7' cy='439.3' r='1.5'/><circle cx='735.2' cy='454.4' r='1.5'/><circle cx='738.6' cy='456.5' r='1.5'/><circle cx='762.4' cy='438.1' r='1.5'/><circle cx='733.0' cy='445.0' r='1.5'/><circle cx='711.0' cy='475.9' r='1.5'/><circle cx='759.9' cy='452.0' r='1.5'/><circle cx='726.1' cy='490.6' r='1.5'/><circle cx='722.1' cy='474.8' r='1.5'/><circle cx='752.4' cy='436.3' r='1.5'/><circle cx='726.5' cy='486.1' r='1.5'/><circle cx='748.2' cy='468.3' r='1.5'/><circle cx='746.4' cy='436.8' r='1.5'/><circle cx='734.3' cy='486.1' r='1.5'/><circle cx='726.2' cy='465.1' r='1.5'/><circle cx='742.6' cy='440.4' r='1.5'/><circle cx='740.7' cy='467.7' r='1.5'/><circle cx='731.4' cy='427.8' r='1.5'/><circle cx='752.9' cy='446.0' r='1.5'/><circle cx='732.4' cy='467.3' r='1.5'/><circle cx='744.8' cy='458.5' r='1.5'/><circle cx='731.9' cy='457.3' r='1.5'/><circle cx='756.5' cy='444.1' r='1.5'/><circle cx='770.2' cy='439.6' r='1.5'/><circle cx='729.7' cy='483.7' r='1.5'/><circle cx='748.0' cy='452.7' r='1.5'/><circle cx='744.9' cy='454.3' r='1.5'/><circle cx='748.7' cy='431.8' r='1.5'/><circle cx='755.4' cy='435.5' r='1.5'/><circle cx='724.5' cy='473.2' r='1.5'/><circle cx='740.9' cy='445.2' r='1.5'/><circle cx='753.2' cy='456.8' r='1.5'/><circle cx='741.8' cy='449.6' r='1.5'/><circle cx='745.2' cy='432.6' r='1.5'/><circle cx='763.7' cy='426.2' r='1.5'/><circle cx='741.9' cy='464.7' r='1.5'/><circle cx='751.3' cy='462.8' r='1.5'/><circle cx='750.6' cy='461.4' r='1.5'/><circle cx='741.5' cy='461.7' r='1.5'/><circle cx='761.8' cy='435.8' r='1.5'/><circle cx='748.4' cy='435.9' r='1.5'/><circle cx='733.6' cy='458.1' r='1.5'/><circle cx='728.7' cy='456.8' r='1.5'/><circle cx='748.4' cy='455.2' r='1.5'/><circle cx='704.0' cy='499.0' r='1.5'/><circle cx='756.2' cy='443.7' r='1.5'/><circle cx='731.4' cy='459.0' r='1.5'/><circle cx='763.6' cy='443.1' r='1.5'/><circle cx='745.2' cy='466.7' r='1.5'/><circle cx='747.1' cy='455.2' r='1.5'/><circle cx='713.4' cy='477.0' r='1.5'/><circle cx='740.3' cy='438.6' r='1.5'/><circle cx='754.0' cy='444.4' r='1.5'/><circle cx='738.3' cy='476.1' r='1.5'/><circle cx='742.9' cy='448.5' r='1.5'/><circle cx='722.3' cy='460.9' r='1.5'/><circle cx='734.9' cy='445.1' r='1.5'/><circle cx='739.7' cy='459.9' r='1.5'/><circle cx='750.2' cy='451.9' r='1.5'/><circle cx='747.8' cy='444.2' r='1.5'/><circle cx='751.9' cy='431.7' r='1.5'/><circle cx='759.9' cy='458.8' r='1.5'/><circle cx='684.4' cy='507.5' r='1.5'/><circle cx='746.5' cy='453.1' r='1.5'/><circle cx='765.7' cy='436.1' r='1.5'/><circle cx='761.6' cy='442.0' r='1.5'/><circle cx='746.5' cy='447.4' r='1.5'/><circle cx='761.0' cy='434.0' r='1.5'/><circle cx='733.2' cy='462.2' r='1.5'/><circle cx='742.9' cy='470.2' r='1.5'/><circle cx='774.1' cy='454.9' r='1.5'/><circle cx='753.9' cy='443.0' r='1.5'/><circle cx='729.8' cy='484.9' r='1.5'/><circle cx='723.6' cy='463.1' r='1.5'/><circle cx='748.1' cy='461.5' r='1.5'/><circle cx='735.3' cy='436.7' r='1.5'/><circle cx='713.7' cy='476.6' r='1.5'/><circle cx='736.9' cy='450.1' r='1.5'/><circle cx='739.5' cy='446.3' r='1.5'/><circle cx='736.2' cy='465.7' r='1.5'/><circle cx='770.3' cy='445.7' r='1.5'/><circle cx='771.0' cy='426.3' r='1.5'/><circle cx='722.7' cy='474.7' r='1.5'/><circle cx='738.1' cy='475.9' r='1.5'/><circle cx='750.9' cy='456.1' r='1.5'/><circle cx='736.1' cy='460.6' r='1.5'/><circle cx='758.6' cy='426.0' r='1.5'/></g>
<g class='si' fill='none' stroke='#696969' stroke-opacity='0.3' stroke-width='0.8'><circle cx='749.4' cy='438.2' r='1.5'/><circle cx='747.1' cy='456.4' r='1.5'/><circle cx='765.8' cy='446.8' r='1.5'/><circle cx='732.4' cy='450.4' r='1.5'/><circle cx='744.9' cy='448.5' r='1.5'/><circle cx='750.7' cy='459.4' r='1.5'/><circle cx='743.1' cy='458.2' r='1.5'/><circle cx='752.3' cy='440.7' r='1.5'/><circle cx='740.0' cy='464.3' r='1.5'/><circle cx='761.7' cy='434.3' r='1.5'/><circle cx='759.4' cy='443.4' r='1.5'/><circle cx='737.4' cy='461.1' r='1.5'/><circle cx='740.3' cy='449.8' r='1.5'/><circle cx='752.7' cy='429.2' r='1.5'/><circle cx='734.7' cy='461.0' r='1.5'/><circle cx='766.8' cy='437.0' r='1.5'/><circle cx='735.4' cy='457.0' r='1.5'/><circle cx='749.4' cy='451.0' r='1.5'/><circle cx='741.4' cy='460.2' r='1.5'/><circle cx='744.3' cy='453.4' r='1.5'/><circle cx='734.7' cy='457.2' r='1.5'/><circle cx='751.2' cy='442.5' r='1.5'/><circle cx='745.5' cy='447.7' r='1.5'/><circle cx='753.3' cy='454.9' r='1.5'/><circle cx='734.6' cy='454.8' r='1.5'/><circle cx='748.9' cy='453.3' r='1.5'/><circle cx='755.9' cy='437.9' r='1.5'/><circle cx='741.0' cy='448.0' r='1.5'/><circle cx='743.2' cy='449.8' r='1.5'/><circle cx='739.5' cy='462.8' r='1.5'/><circle cx='735.1' cy='463.3' r='1.5'/><circle cx='759.3' cy='430.5' r='1.5'/><circle cx='742.2' cy='445.1' r='1.5'/><circle cx='740.3' cy='452.7' r='1.5'/><circle cx='738.0' cy='445.3' r='1.5'/><circle cx='741.0' cy='460.9' r='1.5'/><circle cx='736.4' cy='460.9' r='1.5'/><circle cx='744.9' cy='464.0' r='1.5'/><circle cx='746.4' cy='441.8' r='1.5'/><circle cx='761.0' cy='449.3' r='1.5'/><circle cx='724.8' cy='472.4' r='1.5'/><circle cx='714.9' cy='479.9' r='1.5'/><circle cx='711.7' cy='478.6' r='1.5'/><circle cx='756.7' cy='451.2' r='1.5'/><circle cx='744.3' cy='438.9' r='1.5'/><circle cx='755.3' cy='450.4' r='1.5'/><circle cx='733.3' cy='460.5' r='1.5'/><circle cx='738.5' cy='454.6' r='1.5'/><circle cx='743.2' cy='444.1' r='1.5'/><circle cx='743.2' cy='451.1' r='1.5'/><circle cx='742.0' cy='450.4' r='1.5'/><circle cx='763.1' cy='445.7' r='1.5'/><circle cx='751.4' cy='453.1' r='1.5'/><circle cx='747.0' cy='438.0' r='1.5'/><circle cx='742.0' cy='440.8' r='1.5'/><circle cx='742.2' cy='465.5' r='1.5'/><circle cx='746.6' cy='455.6' r='1.5'/><circle cx='734.8' cy='460.0' r='1.5'/><circle cx='732.1' cy='454.3' r='1.5'/><circle cx='731.3' cy='456.7' r='1.5'/><circle cx='732.1' cy='459.4' r='1.5'/><circle cx='738.6' cy='453.7' r='1.5'/><circle cx='736.5' cy='460.3' r='1.5'/><circle cx='738.0' cy='457.9' r='1.5'/><circle cx='745.1' cy='441.4' r='1.5'/><circle cx='741.1' cy='476.2' r='1.5'/><circle cx='745.7' cy='451.8' r='1.5'/><circle cx='743.4' cy='448.8' r='1.5'/><circle cx='760.6' cy='439.9' r='1.5'/><circle cx='744.8' cy='455.3' r='1.5'/><circle cx='736.0' cy='447.1' r='1.5'/><circle cx='740.1' cy='458.3' r='1.5'/><circle cx='750.2' cy='444.7' r='1.5'/><circle cx='723.2' cy='463.8' r='1.5'/><circle cx='751.8' cy='448.7' r='1.5'/><circle cx='726.2' cy='465.0' r='1.5'/><circle cx='757.9' cy='441.3' r='1.5'/><circle cx='755.3' cy='447.5' r='1.5'/><circle cx='722.0' cy='470.2' r='1.5'/><circle cx='736.9' cy='452.9' r='1.5'/><circle cx='753.1' cy='456.3' r='1.5'/><circle cx='738.7' cy='456.0' r='1.5'/><circle cx='747.5' cy='458.4' r='1.5'/><circle cx='745.8' cy='462.1' r='1.5'/><circle cx='750.0' cy='448.1' r='1.5'/><circle cx='741.9' cy='454.9' r='1.5'/><circle cx='733.9' cy='463.7' r='1.5'/><circle cx='738.6' cy='442.7' r='1.5'/><circle cx='754.6' cy='449.4' r='1.5'/><circle cx='730.1' cy='459.1' r='1.5'/><circle cx='743.7' cy='463.2' r='1.5'/><circle cx='760.3' cy='453.2' r='1.5'/><circle cx='728.2' cy='473.1' r='1.5'/><circle cx='743.7' cy='437.3' r='1.5'/><circle cx='739.4' cy='458.7' r='1.5'/><circle cx='730.6' cy='464.0' r='1.5'/><circle cx='754.8' cy='438.1' r='1.5'/><circle cx='749.5' cy='437.7' r='1.5'/><circle cx='742.0' cy='471.3' r='1.5'/><circle cx='747.3' cy='447.9' r='1.5'/><circle cx='753.0' cy='450.8' r='1.5'/><circle cx='728.3' cy='461.5' r='1.5'/><circle cx='746.5' cy='452.0' r='1.5'/><circle cx='748.0' cy='453.8' r='1.5'/><circle cx='756.3' cy='440.7' r='1.5'/><circle cx='734.9' cy='474.5' r='1.5'/><circle cx='755.4' cy='445.2' r='1.5'/><circle cx='730.3' cy='468.0' r='1.5'/><circle cx='747.1' cy='459.7' r='1.5'/><circle cx='744.2' cy='435.3' r='1.5'/><circle cx='749.6' cy='461.7' r='1.5'/><circle cx='755.4' cy='433.5' r='1.5'/><circle cx='739.8' cy='460.1' r='1.5'/><circle cx='734.0' cy='452.6' r='1.5'/><circle cx='750.6' cy='452.1' r='1.5'/><circle cx='757.0' cy='443.0' r='1.5'/><circle cx='733.4' cy='456.0' r='1.5'/><circle cx='726.8' cy='476.8' r='1.5'/><circle cx='744.6' cy='455.2' r='1.5'/><circle cx='745.7' cy='446.3' r='1.5'/><circle cx='722.2' cy='466.4' r='1.5'/><circle cx='728.3' cy='473.4' r='1.5'/><circle cx='723.5' cy='473.3' r='1.5'/><circle cx='727.2' cy='460.9' r='1.5'/><circle cx='735.0' cy='466.2' r='1.5'/><circle cx='742.5' cy='458.1' r='1.5'/><circle cx='730.9' cy='473.2' r='1.5'/><circle cx='736.2' cy='464.9' r='1.5'/><circle cx='733.9' cy='454.2' r='1.5'/><circle cx='741.5' cy='442.3' r='1.5'/><circle cx='757.8' cy='436.6' r='1.5'/><circle cx='744.9' cy='462.1' r='1.5'/><circle cx='746.9' cy='450.0' r='1.5'/><circle cx='738.4' cy='451.6' r='1.5'/><circle cx='727.3' cy='452.6' r='1.5'/><circle cx='726.8' cy='469.8' r='1.5'/><circle cx='734.8' cy='456.0' r='1.5'/><circle cx='725.6' cy='469.1' r='1.5'/><circle cx='743.0' cy='465.3' r='1.5'/><circle cx='748.8' cy='439.5' r='1.5'/><circle cx='728.6' cy='465.7' r='1.5'/><circle cx='743.4' cy='459.3' r='1.5'/><circle cx='763.1' cy='432.8' r='1.5'/><circle cx='745.2' cy='447.3' r='1.5'/><circle cx='748.7' cy='461.8' r='1.5'/><circle cx='749.9' cy='463.7' r='1.5'/><circle cx='746.2' cy='450.4' r='1.5'/><circle cx='748.5' cy='447.4' r='1.5'/><circle cx='751.5' cy='431.1' r='1.5'/><circle cx='759.6' cy='447.3' r='1.5'/><circle cx='746.9' cy='460.6' r='1.5'/><circle cx='754.8' cy='447.9' r='1.5'/><circle cx='757.1' cy='451.6' r='1.5'/><circle cx='736.9' cy='468.0' r='1.5'/><circle cx='741.5' cy='455.8' r='1.5'/><circle cx='749.9' cy='451.1' r='1.5'/><circle cx='763.4' cy='445.8' r='1.5'/><circle cx='748.1' cy='441.2' r='1.5'/><circle cx='749.2' cy='451.3' r='1.5'/><circle cx='740.3' cy='443.0' r='1.5'/><circle cx='769.5' cy='430.6' r='1.5'/><circle cx='753.8' cy='442.3' r='1.5'/><circle cx='733.4' cy='465.8' r='1.5'/><circle cx='757.6' cy='439.9' r='1.5'/><circle cx='745.2' cy='434.1' r='1.5'/><circle cx='734.4' cy='460.1' r='1.5'/><circle cx='727.8' cy='460.6' r='1.5'/><circle cx='750.4' cy='455.0' r='1.5'/><circle cx='744.5' cy='456.1' r='1.5'/><circle cx='745.9' cy='442.8' r='1.5'/><circle cx='732.6' cy='451.9' r='1.5'/><circle cx='737.1' cy='462.1' r='1.5'/><circle cx='735.1' cy='464.7' r='1.5'/><circle cx='712.8' cy='492.4' r='1.5'/><circle cx='745.3' cy='481.1' r='1.5'/><circle cx='742.2' cy='447.5' r='1.5'/><circle cx='757.8' cy='445.2' r='1.5'/><circle cx='748.0' cy='445.9' r='1.5'/><circle cx='742.9' cy='442.5' r='1.5'/><circle cx='753.9' cy='447.1' r='1.5'/><circle cx='765.8' cy='435.4' r='1.5'/><circle cx='754.0' cy='435.1' r='1.5'/><circle cx='734.4' cy='451.0' r='1.5'/><circle cx='733.5' cy='470.9' r='1.5'/><circle cx='752.7' cy='454.5' r='1.5'/><circle cx='747.1' cy='447.4' r='1.5'/><circle cx='736.1' cy='475.8' r='1.5'/><circle cx='735.9' cy='462.5' r='1.5'/><circle cx='751.4' cy='444.9' r='1.5'/><circle cx='759.6' cy='445.1' r='1.5'/><circle cx='736.1' cy='441.4' r='1.5'/><circle cx='743.0' cy='463.6' r='1.5'/><circle cx='734.7' cy='459.3' r='1.5'/><circle cx='737.3' cy='466.0' r='1.5'/><circle cx='747.9' cy='445.7' r='1.5'/><circle cx='750.8' cy='444.4' r='1.5'/><circle cx='729.5' cy='471.6' r='1.5'/><circle cx='732.0' cy='467.1' r='1.5'/><circle cx='731.1' cy='468.6' r='1.5'/><circle cx='737.4' cy='450.5' r='1.5'/><circle cx='756.4' cy='443.1' r='1.5'/><circle cx='732.0' cy='454.6' r='1.5'/><circle cx='749.7' cy='455.6' r='1.5'/><circle cx='742.1' cy='461.6' r='1.5'/><circle cx='741.9' cy='440.5' r='1.5'/><circle cx='736.7' cy='454.9' r='1.5'/><circle cx='738.9' cy='450.4' r='1.5'/><circle cx='735.0' cy='459.9' r='1.5'/><circle cx='756.0' cy='449.5' r='1.5'/><circle cx='746.4' cy='458.1' r='1.5'/><circle cx='734.7' cy='468.7' r='1.5'/><circle cx='732.9' cy='467.9' r='1.5'/><circle cx='748.9' cy='448.4' r='1.5'/><circle cx='738.7' cy='463.7' r='1.5'/><circle cx='737.9' cy='444.9' r='1.5'/><circle cx='750.2' cy='440.8' r='1.5'/><circle cx='744.9' cy='448.9' r='1.5'/><circle cx='743.2' cy='443.8' r='1.5'/><circle cx='734.3' cy='448.3' r='1.5'/><circle cx='732.7' cy='453.0' r='1.5'/><circle cx='760.0' cy='426.4' r='1.5'/><circle cx='736.7' cy='441.4' r='1.5'/><circle cx='730.2' cy='460.5' r='1.5'/><circle cx='733.7' cy='475.4' r='1.5'/><circle cx='756.5' cy='443.0' r='1.5'/><circle cx='746.8' cy='452.0' r='1.5'/><circle cx='731.8' cy='468.9' r='1.5'/><circle cx='756.3' cy='439.6' r='1.5'/><circle cx='734.2' cy='457.2' r='1.5'/><circle cx='755.7' cy='446.2' r='1.5'/><circle cx='727.4' cy='468.5' r='1.5'/><circle cx='737.4' cy='453.4' r='1.5'/><circle cx='732.8' cy='458.6' r='1.5'/><circle cx='758.8' cy='442.4' r='1.5'/><circle cx='738.0' cy='456.5' r='1.5'/><circle cx='739.1' cy='468.3' r='1.5'/><circle cx='765.5' cy='448.9' r='1.5'/><circle cx='733.6' cy='458.9' r='1.5'/><circle cx='750.1' cy='448.0' r='1.5'/><circle cx='740.6' cy='454.5' r='1.5'/><circle cx='735.5' cy='465.7' r='1.5'/><circle cx='739.6' cy='454.0' r='1.5'/><circle cx='745.2' cy='449.6' r='1.5'/><circle cx='785.1' cy='428.8' r='1.5'/><circle cx='738.1' cy='445.4' r='1.5'/><circle cx='758.3' cy='444.3' r='1.5'/><circle cx='735.4' cy='448.6' r='1.5'/><circle cx='745.8' cy='456.1' r='1.5'/><circle cx='747.7' cy='454.7' r='1.5'/><circle cx='740.7' cy='447.6' r='1.5'/><circle cx='756.1' cy='431.4' r='1.5'/><circle cx='740.5' cy='469.4' r='1.5'/><circle cx='754.7' cy='452.8' r='1.5'/><circle cx='747.4' cy='459.4' r='1.5'/><circle cx='759.8' cy='450.9' r='1.5'/><circle cx='733.4' cy='460.7' r='1.5'/><circle cx='727.8' cy='471.0' r='1.5'/><circle cx='744.0' cy='448.9' r='1.5'/><circle cx='737.3' cy='443.4' r='1.5'/><circle cx='735.7' cy='458.5' r='1.5'/><circle cx='755.9' cy='443.6' r='1.5'/><circle cx='746.4' cy='448.5' r='1.5'/><circle cx='758.8' cy='440.6' r='1.5'/><circle cx='751.5' cy='453.3' r='1.5'/><circle cx='750.3' cy='459.3' r='1.5'/><circle cx='727.9' cy='464.1' r='1.5'/><circle cx='750.9' cy='452.6' r='1.5'/><circle cx='725.1' cy='477.2' r='1.5'/><circle cx='742.0' cy='463.5' r='1.5'/><circle cx='749.3' cy='452.8' r='1.5'/><circle cx='743.0' cy='449.1' r='1.5'/><circle cx='748.3' cy='447.9' r='1.5'/><circle cx='749.4' cy='450.2' r='1.5'/><circle cx='757.2' cy='457.3' r='1.5'/><circle cx='733.0' cy='461.2' r='1.5'/><circle cx='728.5' cy='464.6' r='1.5'/><circle cx='757.6' cy='440.5' r='1.5'/><circle cx='716.8' cy='481.2' r='1.5'/><circle cx='741.0' cy='458.0' r='1.5'/><circle cx='734.3' cy='455.1' r='1.5'/><circle cx='751.3' cy='446.4' r='1.5'/><circle cx='757.9' cy='447.6' r='1.5'/><circle cx='749.2' cy='430.6' r='1.5'/><circle cx='725.9' cy='480.6' r='1.5'/><circle cx='731.4' cy='453.5' r='1.5'/><circle cx='763.4' cy='427.0' r='1.5'/><circle cx='740.1' cy='458.3' r='1.5'/><circle cx='746.5' cy='456.6' r='1.5'/><circle cx='748.8' cy='450.4' r='1.5'/><circle cx='742.9' cy='452.6' r='1.5'/><circle cx='722.5' cy='475.0' r='1.5'/><circle cx='748.2' cy='455.9' r='1.5'/><circle cx='725.0' cy='462.0' r='1.5'/><circle cx='742.8' cy='444.8' r='1.5'/><circle cx='749.1' cy='451.7' r='1.5'/><circle cx='744.2' cy='451.6' r='1.5'/><circle cx='745.8' cy='459.3' r='1.5'/><circle cx='749.7' cy='447.0' r='1.5'/><circle cx='730.5' cy='471.8' r='1.5'/><circle cx='743.1' cy='454.6' r='1.5'/><circle cx='750.9' cy='447.3' r='1.5'/><circle cx='739.6' cy='472.4' r='1.5'/><circle cx='742.3' cy='458.0' r='1.5'/><circle cx='738.7' cy='458.4' r='1.5'/><circle cx='738.0' cy='459.6' r='1.5'/><circle cx='741.7' cy='471.9' r='1.5'/><circle cx='743.5' cy='448.0' r='1.5'/><circle cx='729.2' cy='473.3' r='1.5'/><circle cx='737.5' cy='465.4' r='1.5'/><circle cx='731.0' cy='471.4' r='1.5'/><circle cx='764.2' cy='454.0' r='1.5'/><circle cx='743.2' cy='453.0' r='1.5'/><circle cx='741.9' cy='454.9' r='1.5'/><circle cx='741.0' cy='458.3' r='1.5'/><circle cx='731.9' cy='457.7' r='1.5'/><circle cx='733.8' cy='447.1' r='1.5'/><circle cx='738.0' cy='441.8' r='1.5'/><circle cx='729.1' cy='455.5' r='1.5'/><circle cx='740.4' cy='464.6' r='1.5'/><circle cx='726.2' cy='462.2' r='1.5'/><circle cx='756.3' cy='440.1' r='1.5'/><circle cx='730.5' cy='450.9' r='1.5'/><circle cx='721.0' cy='478.5' r='1.5'/><circle cx='743.9' cy='454.6' r='1.5'/><circle cx='741.9' cy='443.7' r='1.5'/><circle cx='751.0' cy='449.8' r='1.5'/><circle cx='734.1' cy='452.0' r='1.5'/><circle cx='759.4' cy='448.2' r='1.5'/><circle cx='721.6' cy='484.4' r='1.5'/><circle cx='730.8' cy='463.0' r='1.5'/><circle cx='758.2' cy='451.5' r='1.5'/><circle cx='746.1' cy='449.1' r='1.5'/><circle cx='733.5' cy='466.5' r='1.5'/><circle cx='729.4' cy='470.0' r='1.5'/><circle cx='762.6' cy='434.2' r='1.5'/><circle cx='736.6' cy='449.7' r='1.5'/><circle cx='745.3' cy='449.8' r='1.5'/><circle cx='737.5' cy='460.6' r='1.5'/><circle cx='720.6' cy='465.7' r='1.5'/><circle cx='734.1' cy='463.6' r='1.5'/><circle cx='732.9' cy='469.1' r='1.5'/><circle cx='744.3' cy='445.5' r='1.5'/><circle cx='735.3' cy='448.9' r='1.5'/><circle cx='746.1' cy='457.5' r='1.5'/><circle cx='734.0' cy='458.6' r='1.5'/><circle cx='756.2' cy='434.9' r='1.5'/><circle cx='730.2' cy='464.2' r='1.5'/><circle cx='738.4' cy='459.2' r='1.5'/><circle cx='744.8' cy='450.4' r='1.5'/><circle cx='712.5' cy='484.3' r='1.5'/><circle cx='746.5' cy='465.4' r='1.5'/><circle cx='735.8' cy='452.2' r='1.5'/><circle cx='758.4' cy='446.8' r='1.5'/><circle cx='759.6' cy='437.9' r='1.5'/><circle cx='703.0' cy='479.6' r='1.5'/><circle cx='725.1' cy='461.6' r='1.5'/><circle cx='742.9' cy='460.2' r='1.5'/><circle cx='738.4' cy='452.2' r='1.5'/><circle cx='731.4' cy='460.4' r='1.5'/><circle cx='733.1' cy='471.0' r='1.5'/><circle cx='740.1' cy='462.6' r='1.5'/><circle cx='751.7' cy='446.2' r='1.5'/><circle cx='740.9' cy='446.5' r='1.5'/><circle cx='736.5' cy='461.3' r='1.5'/><circle cx='727.1' cy='467.1' r='1.5'/><circle cx='731.3' cy='461.3' r='1.5'/><circle cx='732.3' cy='462.8' r='1.5'/><circle cx='759.3' cy='439.7' r='1.5'/><circle cx='749.5' cy='446.8' r='1.5'/><circle cx='727.0' cy='465.9' r='1.5'/><circle cx='740.8' cy='459.6' r='1.5'/><circle cx='760.1' cy='451.4' r='1.5'/><circle cx='736.7' cy='466.6' r='1.5'/><circle cx='742.7' cy='446.7' r='1.5'/><circle cx='724.5' cy='475.1' r='1.5'/><circle cx='761.2' cy='443.8' r='1.5'/><circle cx='744.9' cy='455.2' r='1.5'/><circle cx='745.4' cy='461.5' r='1.5'/><circle cx='748.9' cy='446.7' r='1.5'/><circle cx='758.0' cy='454.5' r='1.5'/><circle cx='753.9' cy='457.8' r='1.5'/><circle cx='746.3' cy='455.3' r='1.5'/><circle cx='749.0' cy='443.9' r='1.5'/><circle cx='749.9' cy='458.2' r='1.5'/><circle cx='753.5' cy='447.3' r='1.5'/><circle cx='751.6' cy='442.0' r='1.5'/><circle cx='739.3' cy='471.5' r='1.5'/><circle cx='736.4' cy='468.0' r='1.5'/><circle cx='746.3' cy='436.7' r='1.5'/><circle cx='731.6' cy='462.4' r='1.5'/><circle cx='747.8' cy='467.8' r='1.5'/><circle cx='747.8' cy='451.7' r='1.5'/><circle cx='747.8' cy='445.8' r='1.5'/><circle cx='745.0' cy='467.2' r='1.5'/><circle cx='735.8' cy='463.2' r='1.5'/><circle cx='767.7' cy='441.2' r='1.5'/><circle cx='752.5' cy='444.6' r='1.5'/><circle cx='738.5' cy='458.6' r='1.5'/><circle cx='734.9' cy='465.5' r='1.5'/><circle cx='733.6' cy='436.8' r='1.5'/><circle cx='740.5' cy='453.7' r='1.5'/><circle cx='759.8' cy='439.5' r='1.5'/><circle cx='753.8' cy='442.5' r='1.5'/><circle cx='743.1' cy='444.7' r='1.5'/><circle cx='759.8' cy='432.3' r='1.5'/><circle cx='734.7' cy='466.4' r='1.5'/><circle cx='739.8' cy='461.3' r='1.5'/><circle cx='746.2' cy='451.6' r='1.5'/><circle cx='757.2' cy='444.7' r='1.5'/><circle cx='747.1' cy='449.9' r='1.5'/><circle cx='767.8' cy='431.0' r='1.5'/><circle cx='731.9' cy='470.9' r='1.5'/><circle cx='735.6' cy='452.1' r='1.5'/><circle cx='740.7' cy='458.0' r='1.5'/><circle cx='741.5' cy='463.3' r='1.5'/><circle cx='719.4' cy='462.8' r='1.5'/><circle cx='747.7' cy='447.8' r='1.5'/><circle cx='737.3' cy='470.9' r='1.5'/><circle cx='745.7' cy='446.6' r='1.5'/><circle cx='751.3' cy='434.5' r='1.5'/><circle cx='766.6' cy='433.9' r='1.5'/><circle cx='759.0' cy='441.9' r='1.5'/><circle cx='749.6' cy='449.4' r='1.5'/><circle cx='746.8' cy='453.3' r='1.5'/><circle cx='742.4' cy='465.7' r='1.5'/><circle cx='733.8' cy='455.2' r='1.5'/><circle cx='742.7' cy='438.9' r='1.5'/><circle cx='744.6' cy='447.4' r='1.5'/><circle cx='755.2' cy='423.8' r='1.5'/><circle cx='738.3' cy='461.6' r='1.5'/><circle cx='747.4' cy='452.7' r='1.5'/><circle cx='741.5' cy='453.5' r='1.5'/><circle cx='731.2' cy='458.6' r='1.5'/><circle cx='735.4' cy='455.3' r='1.5'/><circle cx='739.2' cy='458.5' r='1.5'/><circle cx='751.3' cy='449.9' r='1.5'/><circle cx='755.7' cy='443.4' r='1.5'/><circle cx='728.1' cy='456.9' r='1.5'/><circle cx='727.6' cy='460.4' r='1.5'/><circle cx='743.6' cy='440.8' r='1.5'/><circle cx='748.4' cy='443.9' r='1.5'/><circle cx='739.1' cy='470.8' r='1.5'/><circle cx='745.5' cy='451.0' r='1.5'/><circle cx='750.9' cy='445.5' r='1.5'/><circle cx='755.5' cy='451.0' r='1.5'/><circle cx='748.1' cy='454.5' r='1.5'/><circle cx='741.2' cy='451.2' r='1.5'/><circle cx='734.3' cy='458.3' r='1.5'/><circle cx='738.6' cy='458.9' r='1.5'/><circle cx='733.5' cy='465.8' r='1.5'/><circle cx='748.5' cy='441.5' r='1.5'/><circle cx='735.3' cy='452.3' r='1.5'/><circle cx='745.5' cy='450.6' r='1.5'/><circle cx='734.1' cy='452.4' r='1.5'/><circle cx='753.4' cy='454.1' r='1.5'/><circle cx='747.9' cy='457.2' r='1.5'/><circle cx='742.1' cy='460.1' r='1.5'/><circle cx='751.2' cy='438.1' r='1.5'/><circle cx='746.6' cy='449.0' r='1.5'/><circle cx='744.3' cy='461.6' r='1.5'/><circle cx='740.6' cy='469.4' r='1.5'/><circle cx='742.9' cy='453.5' r='1.5'/><circle cx='757.4' cy='444.6' r='1.5'/><circle cx='745.7' cy='442.0' r='1.5'/><circle cx='745.4' cy='441.2' r='1.5'/><circle cx='726.1' cy='475.1' r='1.5'/><circle cx='736.7' cy='452.4' r='1.5'/><circle cx='725.1' cy='465.4' r='1.5'/><circle cx='729.3' cy='462.5' r='1.5'/><circle cx='753.5' cy='446.4' r='1.5'/><circle cx='748.6' cy='443.2' r='1.5'/><circle cx='752.0' cy='440.3' r='1.5'/><circle cx='741.0' cy='462.3' r='1.5'/><circle cx='738.1' cy='463.3' r='1.5'/><circle cx='741.9' cy='452.5' r='1.5'/><circle cx='756.1' cy='441.3' r='1.5'/><circle cx='738.0' cy='460.3' r='1.5'/><circle cx='752.4' cy='457.5' r='1.5'/><circle cx='765.6' cy='431.1' r='1.5'/><circle cx='744.8' cy='451.1' r='1.5'/><circle cx='738.8' cy='450.0' r='1.5'/><circle cx='733.4' cy='458.4' r='1.5'/><circle cx='754.1' cy='444.9' r='1.5'/><circle cx='733.0' cy='470.5' r='1.5'/><circle cx='731.1' cy='456.5' r='1.5'/><circle cx='734.8' cy='465.6' r='1.5'/><circle cx='739.5' cy='460.2' r='1.5'/><circle cx='738.5' cy='452.4' r='1.5'/><circle cx='721.8' cy='483.4' r='1.5'/><circle cx='749.0' cy='449.4' r='1.5'/><circle cx='753.8' cy='451.2' r='1.5'/><circle cx='748.3' cy='446.2' r='1.5'/><circle cx='740.9' cy='463.0' r='1.5'/><circle cx='722.8' cy='478.3' r='1.5'/><circle cx='766.4' cy='426.9' r='1.5'/><circle cx='736.0' cy='468.2' r='1.5'/><circle cx='753.0' cy='443.6' r='1.5'/><circle cx='734.9' cy='479.1' r='1.5'/><circle cx='711.0' cy='487.1' r='1.5'/><circle cx='748.9' cy='453.6' r='1.5'/><circle cx='753.4' cy='442.8' r='1.5'/><circle cx='743.0' cy='455.5' r='1.5'/><circle cx='752.9' cy='444.6' r='1.5'/><circle cx='752.3' cy='455.1' r='1.5'/><circle cx='735.4' cy='470.5' r='1.5'/><circle cx='742.0' cy='456.4' r='1.5'/><circle cx='751.4' cy='453.8' r='1.5'/><circle cx='737.7' cy='460.8' r='1.5'/><circle cx='744.4' cy='442.5' r='1.5'/><circle cx='735.4' cy='464.5' r='1.5'/><circle cx='734.4' cy='464.8' r='1.5'/><circle cx='743.0' cy='449.1' r='1.5'/><circle cx='761.5' cy='436.1' r='1.5'/><circle cx='741.8' cy='446.7' r='1.5'/><circle cx='760.0' cy='457.6' r='1.5'/><circle cx='742.4' cy='455.1' r='1.5'/><circle cx='757.4' cy='448.3' r='1.5'/><circle cx='723.4' cy='468.0' r='1.5'/><circle cx='736.5' cy='455.6' r='1.5'/><circle cx='720.3' cy='474.8' r='1.5'/><circle cx='732.9' cy='458.0' r='1.5'/><circle cx='748.3' cy='459.8' r='1.5'/><circle cx='756.1' cy='450.6' r='1.5'/><circle cx='741.1' cy='446.4' r='1.5'/><circle cx='748.8' cy='442.1' r='1.5'/><circle cx='754.3' cy='455.3' r='1.5'/><circle cx='739.2' cy='451.5' r='1.5'/><circle cx='717.3' cy='476.8' r='1.5'/><circle cx='735.8' cy='467.0' r='1.5'/><circle cx='752.2' cy='453.7' r='1.5'/><circle cx='744.9' cy='448.3' r='1.5'/><circle cx='743.8' cy='448.0' r='1.5'/><circle cx='741.7' cy='453.2' r='1.5'/><circle cx='746.7' cy='453.4' r='1.5'/><circle cx='742.1' cy='444.5' r='1.5'/><circle cx='734.2' cy='460.2' r='1.5'/><circle cx='747.2' cy='436.7' r='1.5'/><circle cx='740.4' cy='453.9' r='1.5'/><circle cx='723.8' cy='448.4' r='1.5'/><circle cx='750.5' cy='454.3' r='1.5'/><circle cx='762.9' cy='435.2' r='1.5'/><circle cx='728.5' cy='463.4' r='1.5'/><circle cx='728.8' cy='468.2' r='1.5'/><circle cx='741.1' cy='448.0' r='1.5'/><circle cx='736.8' cy='456.7' r='1.5'/><circle cx='732.8' cy='451.7' r='1.5'/><circle cx='723.1' cy='481.3' r='1.5'/><circle cx='751.8' cy='450.4' r='1.5'/><circle cx='737.3' cy='464.2' r='1.5'/><circle cx='741.7' cy='449.8' r='1.5'/><circle cx='734.6' cy='461.0' r='1.5'/><circle cx='743.0' cy='461.0' r='1.5'/><circle cx='721.7' cy='474.4' r='1.5'/><circle cx='751.2' cy='447.0' r='1.5'/><circle cx='732.4' cy='459.3' r='1.5'/><circle cx='737.0' cy='456.5' r='1.5'/><circle cx='748.0' cy='451.7' r='1.5'/><circle cx='745.2' cy='445.0' r='1.5'/><circle cx='754.3' cy='444.8' r='1.5'/><circle cx='743.9' cy='453.3' r='1.5'/><circle cx='734.3' cy='459.1' r='1.5'/><circle cx='756.6' cy='436.3' r='1.5'/><circle cx='746.4' cy='442.0' r='1.5'/><circle cx='742.3' cy='462.4' r='1.5'/><circle cx='754.5' cy='453.1' r='1.5'/><circle cx='741.5' cy='466.8' r='1.5'/><circle cx='734.5' cy='468.0' r='1.5'/><circle cx='742.8' cy='452.3' r='1.5'/><circle cx='759.5' cy='432.3' r='1.5'/><circle cx='738.1' cy='457.5' r='1.5'/><circle cx='746.6' cy='453.1' r='1.5'/><circle cx='731.7' cy='464.2' r='1.5'/><circle cx='747.4' cy='439.8' r='1.5'/><circle cx='766.9' cy='434.0' r='1.5'/><circle cx='751.5' cy='439.9' r='1.5'/><circle cx='731.4' cy='454.7' r='1.5'/><circle cx='717.4' cy='467.6' r='1.5'/><circle cx='740.8' cy='444.3' r='1.5'/><circle cx='724.9' cy='466.2' r='1.5'/><circle cx='748.6' cy='449.4' r='1.5'/><circle cx='756.6' cy='441.6' r='1.5'/><circle cx='748.7' cy='454.2' r='1.5'/><circle cx='740.7' cy='445.7' r='1.5'/><circle cx='736.1' cy='470.2' r='1.5'/><circle cx='742.1' cy='443.3' r='1.5'/><circle cx='746.0' cy='455.4' r='1.5'/><circle cx='733.7' cy='454.5' r='1.5'/><circle cx='736.5' cy='449.8' r='1.5'/><circle cx='763.9' cy='440.8' r='1.5'/><circle cx='757.2' cy='443.6' r='1.5'/><circle cx='727.3' cy='460.6' r='1.5'/><circle cx='755.7' cy='442.5' r='1.5'/><circle cx='721.7' cy='482.0' r='1.5'/><circle cx='725.8' cy='472.1' r='1.5'/><circle cx='723.7' cy='470.3' r='1.5'/><circle cx='734.1' cy='460.7' r='1.5'/><circle cx='762.4' cy='444.1' r='1.5'/><circle cx='733.8' cy='459.3' r='1.5'/><circle cx='726.3' cy='474.6' r='1.5'/><circle cx='756.1' cy='447.3' r='1.5'/><circle cx='734.8' cy='459.6' r='1.5'/><circle cx='740.3' cy='450.5' r='1.5'/><circle cx='740.5' cy='462.8' r='1.5'/><circle cx='737.1' cy='461.1' r='1.5'/><circle cx='739.9' cy='451.3' r='1.5'/><circle cx='735.4' cy='453.4' r='1.5'/><circle cx='734.2' cy='468.0' r='1.5'/><circle cx='754.2' cy='452.4' r='1.5'/><circle cx='741.2' cy='464.8' r='1.5'/><circle cx='732.9' cy='451.0' r='1.5'/><circle cx='719.4' cy='480.3' r='1.5'/><circle cx='763.6' cy='426.4' r='1.5'/><circle cx='746.5' cy='452.5' r='1.5'/><circle cx='757.6' cy='456.8' r='1.5'/><circle cx='759.5' cy='444.9' r='1.5'/><circle cx='737.5' cy='469.5' r='1.5'/><circle cx='739.7' cy='466.1' r='1.5'/><circle cx='736.4' cy='469.0' r='1.5'/><circle cx='738.6' cy='459.3' r='1.5'/><circle cx='757.9' cy='430.8' r='1.5'/><circle cx='741.8' cy='448.6' r='1.5'/><circle cx='786.0' cy='439.1' r='1.5'/><circle cx='745.7' cy='453.5' r='1.5'/><circle cx='750.6' cy='443.6' r='1.5'/><circle cx='760.9' cy='446.5' r='1.5'/><circle cx='718.5' cy='467.2' r='1.5'/><circle cx='734.9' cy='466.0' r='1.5'/><circle cx='758.5' cy='443.7' r='1.5'/><circle cx='717.3' cy='473.0' r='1.5'/><circle cx='742.5' cy='460.3' r='1.5'/><circle cx='734.3' cy='456.4' r='1.5'/><circle cx='747.7' cy='451.6' r='1.5'/><circle cx='722.1' cy='469.7' r='1.5'/><circle cx='755.9' cy='451.6' r='1.5'/><circle cx='746.8' cy='457.7' r='1.5'/><circle cx='748.7' cy='461.8' r='1.5'/><circle cx='743.7' cy='445.4' r='1.5'/><circle cx='742.6' cy='458.3' r='1.5'/><circle cx='750.8' cy='447.1' r='1.5'/><circle cx='738.2' cy='456.4' r='1.5'/><circle cx='745.7' cy='453.3' r='1.5'/><circle cx='751.4' cy='444.7' r='1.5'/><circle cx='736.4' cy='451.7' r='1.5'/><circle cx='741.7' cy='454.9' r='1.5'/><circle cx='756.6' cy='443.4' r='1.5'/><circle cx='741.7' cy='452.6' r='1.5'/><circle cx='747.8' cy='450.0' r='1.5'/><circle cx='765.9' cy='441.8' r='1.5'/><circle cx='745.1' cy='456.2' r='1.5'/><circle cx='723.4' cy='477.9' r='1.5'/><circle cx='735.9' cy='455.3' r='1.5'/><circle cx='748.5' cy='460.2' r='1.5'/><circle cx='751.0' cy='444.0' r='1.5'/><circle cx='729.5' cy='457.5' r='1.5'/><circle cx='722.1' cy='463.8' r='1.5'/><circle cx='733.4' cy='462.2' r='1.5'/><circle cx='743.0' cy='457.1' r='1.5'/><circle cx='743.9' cy='458.7' r='1.5'/><circle cx='756.0' cy='434.6' r='1.5'/><circle cx='732.2' cy='462.6' r='1.5'/><circle cx='758.9' cy='445.7' r='1.5'/><circle cx='741.7' cy='450.3' r='1.5'/><circle cx='746.7' cy='472.2' r='1.5'/><circle cx='731.5' cy='463.7' r='1.5'/><circle cx='754.1' cy='451.3' r='1.5'/><circle cx='745.5' cy='469.8' r='1.5'/><circle cx='731.2' cy='461.9' r='1.5'/><circle cx='745.1' cy='459.1' r='1.5'/><circle cx='733.3' cy='477.9' r='1.5'/><circle cx='733.3' cy='460.0' r='1.5'/><circle cx='732.2' cy='470.8' r='1.5'/><circle cx='735.2' cy='464.1' r='1.5'/><circle cx='737.5' cy='450.6' r='1.5'/><circle cx='739.6' cy='446.5' r='1.5'/><circle cx='730.2' cy='470.0' r='1.5'/><circle cx='749.2' cy='467.5' r='1.5'/><circle cx='747.8' cy='456.4' r='1.5'/><circle cx='739.5' cy='444.4' r='1.5'/><circle cx='742.1' cy='454.3' r='1.5'/><circle cx='735.5' cy='456.3' r='1.5'/><circle cx='764.3' cy='437.8' r='1.5'/><circle cx='726.1' cy='473.1' r='1.5'/><circle cx='745.2' cy='458.7' r='1.5'/><circle cx='732.2' cy='458.7' r='1.5'/><circle cx='744.4' cy='464.6' r='1.5'/><circle cx='734.6' cy='461.1' r='1.5'/><circle cx='742.7' cy='453.4' r='1.5'/><circle cx='738.3' cy='460.8' r='1.5'/><circle cx='744.7' cy='447.3' r='1.5'/><circle cx='728.5' cy='470.1' r='1.5'/><circle cx='733.9' cy='452.5' r='1.5'/><circle cx='768.7' cy='436.7' r='1.5'/><circle cx='740.2' cy='454.5' r='1.5'/><circle cx='760.0' cy='441.6' r='1.5'/><circle cx='743.1' cy='458.4' r='1.5'/><circle cx='739.7' cy='451.9' r='1.5'/><circle cx='748.6' cy='461.4' r='1.5'/><circle cx='744.7' cy='459.2' r='1.5'/><circle cx='716.0' cy='462.9' r='1.5'/><circle cx='737.7' cy='456.2' r='1.5'/><circle cx='752.8' cy='443.3' r='1.5'/><circle cx='759.7' cy='431.4' r='1.5'/><circle cx='747.2' cy='453.5' r='1.5'/><circle cx='748.3' cy='445.6' r='1.5'/><circle cx='744.5' cy='453.7' r='1.5'/><circle cx='762.0' cy='433.7' r='1.5'/><circle cx='739.2' cy='458.4' r='1.5'/><circle cx='754.8' cy='447.8' r='1.5'/><circle cx='746.9' cy='456.4' r='1.5'/><circle cx='749.2' cy='457.4' r='1.5'/><circle cx='743.6' cy='451.7' r='1.5'/><circle cx='757.3' cy='434.8' r='1.5'/><circle cx='739.7' cy='460.2' r='1.5'/><circle cx='725.4' cy='482.1' r='1.5'/><circle cx='739.5' cy='468.4' r='1.5'/><circle cx='745.8' cy='454.1' r='1.5'/><circle cx='739.3' cy='447.7' r='1.5'/><circle cx='739.9' cy='444.1' r='1.5'/><circle cx='729.4' cy='460.9' r='1.5'/><circle cx='756.8' cy='434.8' r='1.5'/><circle cx='741.4' cy='446.2' r='1.5'/><circle cx='742.0' cy='448.6' r='1.5'/><circle cx='741.3' cy='453.1' r='1.5'/><circle cx='745.8' cy='457.3' r='1.5'/><circle cx='733.8' cy='456.3' r='1.5'/><circle cx='752.5' cy='445.9' r='1.5'/><circle cx='736.2' cy='453.2' r='1.5'/><circle cx='740.8' cy='445.7' r='1.5'/><circle cx='726.3' cy='468.4' r='1.5'/><circle cx='742.7' cy='453.1' r='1.5'/><circle cx='753.9' cy='434.2' r='1.5'/><circle cx='736.4' cy='465.0' r='1.5'/><circle cx='753.2' cy='440.8' r='1.5'/><circle cx='739.2' cy='454.0' r='1.5'/><circle cx='737.2' cy='455.3' r='1.5'/><circle cx='756.9' cy='421.9' r='1.5'/><circle cx='731.1' cy='459.2' r='1.5'/><circle cx='741.5' cy='457.8' r='1.5'/><circle cx='747.3' cy='455.4' r='1.5'/><circle cx='750.7' cy='437.5' r='1.5'/><circle cx='726.5' cy='486.1' r='1.5'/><circle cx='747.7' cy='452.1' r='1.5'/><circle cx='749.7' cy='457.2' r='1.5'/><circle cx='739.3' cy='456.2' r='1.5'/><circle cx='740.3' cy='451.9' r='1.5'/><circle cx='753.3' cy='455.8' r='1.5'/><circle cx='741.9' cy='452.9' r='1.5'/><circle cx='724.7' cy='479.7' r='1.5'/><circle cx='740.7' cy='450.7' r='1.5'/><circle cx='747.4' cy='458.8' r='1.5'/><circle cx='743.2' cy='464.5' r='1.5'/><circle cx='747.8' cy='440.7' r='1.5'/><circle cx='737.9' cy='464.3' r='1.5'/><circle cx='728.1' cy='458.7' r='1.5'/><circle cx='739.2' cy='468.7' r='1.5'/><circle cx='736.4' cy='445.6' r='1.5'/><circle cx='739.9' cy='460.9' r='1.5'/><circle cx='762.0' cy='443.8' r='1.5'/><circle cx='733.6' cy='452.0' r='1.5'/><circle cx='727.7' cy='475.2' r='1.5'/><circle cx='750.0' cy='447.1' r='1.5'/><circle cx='746.0' cy='436.7' r='1.5'/><circle cx='744.0' cy='458.3' r='1.5'/><circle cx='749.1' cy='444.8' r='1.5'/><circle cx='754.6' cy='453.6' r='1.5'/><circle cx='737.4' cy='455.8' r='1.5'/><circle cx='755.7' cy='437.6' r='1.5'/><circle cx='758.6' cy='436.3' r='1.5'/><circle cx='747.7' cy='451.0' r='1.5'/><circle cx='741.4' cy='443.5' r='1.5'/><circle cx='741.3' cy='452.9' r='1.5'/><circle cx='762.0' cy='432.4' r='1.5'/><circle cx='750.6' cy='451.0' r='1.5'/><circle cx='744.6' cy='457.5' r='1.5'/><circle cx='723.1' cy='461.7' r='1.5'/><circle cx='738.3' cy='461.3' r='1.5'/><circle cx='742.3' cy='442.7' r='1.5'/><circle cx='745.1' cy='443.9' r='1.5'/><circle cx='750.4' cy='470.0' r='1.5'/><circle cx='741.1' cy='467.7' r='1.5'/><circle cx='737.8' cy='450.6' r='1.5'/><circle cx='746.3' cy='453.0' r='1.5'/><circle cx='751.8' cy='449.1' r='1.5'/><circle cx='752.1' cy='456.0' r='1.5'/><circle cx='716.0' cy='477.4' r='1.5'/><circle cx='744.7' cy='458.8' r='1.5'/><circle cx='753.8' cy='435.9' r='1.5'/><circle cx='739.2' cy='462.3' r='1.5'/><circle cx='735.0' cy='451.8' r='1.5'/><circle cx='725.7' cy='463.6' r='1.5'/><circle cx='740.0' cy='467.7' r='1.5'/><circle cx='747.3' cy='444.5' r='1.5'/><circle cx='745.4' cy='460.1' r='1.5'/><circle cx='748.4' cy='442.1' r='1.5'/><circle cx='751.4' cy='439.6' r='1.5'/><circle cx='733.7' cy='461.4' r='1.5'/><circle cx='715.8' cy='476.4' r='1.5'/><circle cx='745.0' cy='438.5' r='1.5'/><circle cx='737.3' cy='459.6' r='1.5'/><circle cx='726.7' cy='470.6' r='1.5'/><circle cx='731.5' cy='463.6' r='1.5'/><circle cx='742.0' cy='462.2' r='1.5'/><circle cx='734.7' cy='450.4' r='1.5'/><circle cx='742.3' cy='460.3' r='1.5'/><circle cx='731.9' cy='468.1' r='1.5'/><circle cx='740.1' cy='464.5' r='1.5'/><circle cx='749.6' cy='440.2' r='1.5'/><circle cx='744.3' cy='457.6' r='1.5'/><circle cx='736.5' cy='463.6' r='1.5'/><circle cx='758.5' cy='433.3' r='1.5'/><circle cx='749.5' cy='446.6' r='1.5'/><circle cx='739.6' cy='444.3' r='1.5'/><circle cx='749.6' cy='445.9' r='1.5'/><circle cx='765.3' cy='445.9' r='1.5'/><circle cx='768.1' cy='435.9' r='1.5'/><circle cx='732.5' cy='460.2' r='1.5'/><circle cx='751.0' cy='442.4' r='1.5'/><circle cx='754.8' cy='435.5' r='1.5'/><circle cx='755.2' cy='445.0' r='1.5'/><circle cx='742.9' cy='454.5' r='1.5'/><circle cx='738.5' cy='460.7' r='1.5'/><circle cx='723.1' cy='461.4' r='1.5'/><circle cx='762.8' cy='439.1' r='1.5'/><circle cx='756.0' cy='443.2' r='1.5'/><circle cx='730.2' cy='459.2' r='1.5'/><circle cx='729.9' cy='457.8' r='1.5'/><circle cx='737.4' cy='456.4' r='1.5'/><circle cx='734.6' cy='466.4' r='1.5'/><circle cx='752.3' cy='463.3' r='1.5'/><circle cx='731.7' cy='465.7' r='1.5'/><circle cx='731.7' cy='470.0' r='1.5'/><circle cx='742.8' cy='453.1' r='1.5'/><circle cx='742.4' cy='470.5' r='1.5'/><circle cx='751.9' cy='442.7' r='1.5'/><circle cx='749.9' cy='452.9' r='1.5'/><circle cx='745.3' cy='452.9' r='1.5'/><circle cx='759.1' cy='433.9' r='1.5'/><circle cx='713.6' cy='470.4' r='1.5'/><circle cx='724.3' cy='468.0' r='1.5'/><circle cx='750.4' cy='450.9' r='1.5'/><circle cx='743.8' cy='445.7' r='1.5'/><circle cx='726.1' cy='468.3' r='1.5'/><circle cx='746.5' cy='456.3' r='1.5'/><circle cx='727.8' cy='471.3' r='1.5'/><circle cx='721.8' cy='476.6' r='1.5'/><circle cx='724.4' cy='475.1' r='1.5'/><circle cx='762.1' cy='427.9' r='1.5'/><circle cx='726.7' cy='468.3' r='1.5'/><circle cx='741.6' cy='449.8' r='1.5'/><circle cx='755.3' cy='444.0' r='1.5'/><circle cx='762.5' cy='444.2' r='1.5'/><circle cx='730.6' cy='452.1' r='1.5'/><circle cx='743.4' cy='445.9' r='1.5'/><circle cx='756.6' cy='440.5' r='1.5'/><circle cx='758.0' cy='460.8' r='1.5'/><circle cx='730.4' cy='457.0' r='1.5'/><circle cx='729.7' cy='464.6' r='1.5'/><circle cx='734.8' cy='466.6' r='1.5'/><circle cx='737.2' cy='464.6' r='1.5'/><circle cx='732.9' cy='452.7' r='1.5'/><circle cx='743.7' cy='447.6' r='1.5'/><circle cx='726.0' cy='471.1' r='1.5'/><circle cx='740.9' cy='454.2' r='1.5'/><circle cx='744.3' cy='448.6' r='1.5'/><circle cx='751.0' cy='449.6' r='1.5'/><circle cx='760.0' cy='422.6' r='1.5'/><circle cx='722.1' cy='475.5' r='1.5'/><circle cx='751.8' cy='460.9' r='1.5'/><circle cx='745.3' cy='449.9' r='1.5'/><circle cx='764.4' cy='437.6' r='1.5'/><circle cx='748.5' cy='446.3' r='1.5'/><circle cx='746.1' cy='452.3' r='1.5'/><circle cx='726.3' cy='476.3' r='1.5'/><circle cx='753.9' cy='446.3' r='1.5'/><circle cx='748.4' cy='462.8' r='1.5'/><circle cx='737.2' cy='452.0' r='1.5'/><circle cx='742.7' cy='464.4' r='1.5'/><circle cx='731.0' cy='455.7' r='1.5'/><circle cx='757.1' cy='459.6' r='1.5'/><circle cx='741.7' cy='457.0' r='1.5'/><circle cx='721.6' cy='459.8' r='1.5'/><circle cx='743.2' cy='458.2' r='1.5'/><circle cx='730.5' cy='460.3' r='1.5'/><circle cx='737.1' cy='456.6' r='1.5'/><circle cx='736.4' cy='469.8' r='1.5'/><circle cx='749.9' cy='437.8' r='1.5'/><circle cx='772.2' cy='427.5' r='1.5'/><circle cx='747.0' cy='444.4' r='1.5'/><circle cx='726.8' cy='471.8' r='1.5'/><circle cx='741.4' cy='469.3' r='1.5'/><circle cx='742.0' cy='459.8' r='1.5'/><circle cx='733.4' cy='461.0' r='1.5'/><circle cx='755.8' cy='447.5' r='1.5'/><circle cx='730.1' cy='467.8' r='1.5'/><circle cx='755.9' cy='436.3' r='1.5'/><circle cx='752.1' cy='440.8' r='1.5'/><circle cx='741.5' cy='451.1' r='1.5'/><circle cx='767.6' cy='424.6' r='1.5'/><circle cx='725.3' cy='459.0' r='1.5'/><circle cx='746.3' cy='457.4' r='1.5'/><circle cx='725.8' cy='475.7' r='1.5'/><circle cx='739.8' cy='461.0' r='1.5'/><circle cx='755.7' cy='436.9' r='1.5'/><circle cx='746.9' cy='449.8' r='1.5'/><circle cx='744.2' cy='447.4' r='1.5'/><circle cx='731.3' cy='473.0' r='1.5'/><circle cx='754.4' cy='437.1' r='1.5'/><circle cx='723.7' cy='463.5' r='1.5'/><circle cx='722.4' cy='486.4' r='1.5'/><circle cx='738.3' cy='459.6' r='1.5'/><circle cx='741.2' cy='444.4' r='1.5'/><circle cx='751.1' cy='440.5' r='1.5'/><circle cx='745.6' cy='444.6' r='1.5'/><circle cx='734.5' cy='473.3' r='1.5'/><circle cx='731.0' cy='474.7' r='1.5'/><circle cx='732.3' cy='468.5' r='1.5'/><circle cx='730.6' cy='466.4' r='1.5'/><circle cx='734.7' cy='453.0' r='1.5'/><circle cx='737.6' cy='452.7' r='1.5'/><circle cx='747.9' cy='456.3' r='1.5'/><circle cx='747.1' cy='453.1' r='1.5'/><circle cx='729.3' cy='469.4' r='1.5'/><circle cx='741.0' cy='456.1' r='1.5'/><circle cx='739.2' cy='466.4' r='1.5'/><circle cx='753.2' cy='446.8' r='1.5'/><circle cx='741.3' cy='464.6' r='1.5'/><circle cx='740.6' cy='446.1' r='1.5'/><circle cx='735.6' cy='449.2' r='1.5'/><circle cx='746.6' cy='445.3' r='1.5'/><circle cx='747.2' cy='458.6' r='1.5'/><circle cx='749.8' cy='460.8' r='1.5'/><circle cx='742.4' cy='441.5' r='1.5'/><circle cx='739.9' cy='449.6' r='1.5'/><circle cx='737.8' cy='458.3' r='1.5'/><circle cx='756.8' cy='447.7' r='1.5'/><circle cx='747.4' cy='445.3' r='1.5'/><circle cx='753.5' cy='445.3' r='1.5'/><circle cx='740.5' cy='469.0' r='1.5'/><circle cx='737.8' cy='452.2' r='1.5'/><circle cx='750.0' cy='447.9' r='1.5'/><circle cx='743.5' cy='457.7' r='1.5'/><circle cx='751.2' cy='457.4' r='1.5'/><circle cx='726.5' cy='465.8' r='1.5'/><circle cx='722.5' cy='474.8' r='1.5'/><circle cx='742.0' cy='471.0' r='1.5'/><circle cx='741.4' cy='457.8' r='1.5'/><circle cx='748.0' cy='446.2' r='1.5'/><circle cx='730.4' cy='466.9' r='1.5'/><circle cx='741.9' cy='459.0' r='1.5'/><circle cx='754.8' cy='452.5' r='1.5'/><circle cx='740.5' cy='460.5' r='1.5'/><circle cx='758.7' cy='462.1' r='1.5'/><circle cx='736.4' cy='462.2' r='1.5'/><circle cx='762.4' cy='446.5' r='1.5'/><circle cx='765.2' cy='424.0' r='1.5'/><circle cx='748.9' cy='441.7' r='1.5'/><circle cx='733.5' cy='469.5' r='1.5'/><circle cx='729.0' cy='470.4' r='1.5'/><circle cx='746.4' cy='445.3' r='1.5'/><circle cx='746.3' cy='472.9' r='1.5'/><circle cx='720.2' cy='474.4' r='1.5'/><circle cx='731.6' cy='459.6' r='1.5'/><circle cx='748.7' cy='467.7' r='1.5'/><circle cx='733.7' cy='470.9' r='1.5'/><circle cx='722.3' cy='479.3' r='1.5'/><circle cx='763.8' cy='439.4' r='1.5'/><circle cx='758.0' cy='448.2' r='1.5'/><circle cx='713.7' cy='468.4' r='1.5'/><circle cx='715.6' cy='474.6' r='1.5'/><circle cx='736.5' cy='457.2' r='1.5'/><circle cx='738.5' cy='466.8' r='1.5'/><circle cx='749.9' cy='461.8' r='1.5'/><circle cx='752.9' cy='444.0' r='1.5'/><circle cx='746.1' cy='447.0' r='1.5'/><circle cx='743.6' cy='453.9' r='1.5'/><circle cx='715.9' cy='484.2' r='1.5'/><circle cx='753.2' cy='453.2' r='1.5'/><circle cx='749.0' cy='462.3' r='1.5'/><circle cx='750.3' cy='434.0' r='1.5'/><circle cx='747.9' cy='456.7' r='1.5'/><circle cx='750.3' cy='452.5' r='1.5'/><circle cx='734.2' cy='472.1' r='1.5'/><circle cx='730.5' cy='465.9' r='1.5'/><circle cx='749.4' cy='464.7' r='1.5'/><circle cx='762.8' cy='427.1' r='1.5'/><circle cx='727.8' cy='469.6' r='1.5'/><circle cx='753.3' cy='451.0' r='1.5'/><circle cx='743.7' cy='462.3' r='1.5'/><circle cx='738.2' cy='465.4' r='1.5'/><circle cx='737.5' cy='445.6' r='1.5'/><circle cx='723.4' cy='469.7' r='1.5'/><circle cx='738.1' cy='448.7' r='1.5'/><circle cx='746.3' cy='456.8' r='1.5'/><circle cx='744.6' cy='457.0' r='1.5'/><circle cx='745.4' cy='454.3' r='1.5'/><circle cx='732.5' cy='462.9' r='1.5'/><circle cx='743.4' cy='441.5' r='1.5'/><circle cx='758.4' cy='443.9' r='1.5'/><circle cx='750.6' cy='460.9' r='1.5'/><circle cx='728.7' cy='456.2' r='1.5'/><circle cx='734.7' cy='461.1' r='1.5'/><circle cx='743.9' cy='452.2' r='1.5'/><circle cx='751.1' cy='440.8' r='1.5'/><circle cx='743.5' cy='465.3' r='1.5'/><circle cx='746.8' cy='461.4' r='1.5'/><circle cx='733.3' cy='458.9' r='1.5'/><circle cx='753.8' cy='437.0' r='1.5'/><circle cx='731.6' cy='467.1' r='1.5'/><circle cx='741.4' cy='456.3' r='1.5'/><circle cx='738.8' cy='462.4' r='1.5'/><circle cx='736.1' cy='459.0' r='1.5'/><circle cx='748.8' cy='440.2' r='1.5'/><circle cx='728.8' cy='462.1' r='1.5'/><circle cx='752.1' cy='446.0' r='1.5'/><circle cx='732.6' cy='476.0' r='1.5'/><circle cx='743.9' cy='450.2' r='1.5'/><circle cx='737.2' cy='467.0' r='1.5'/><circle cx='741.5' cy='458.6' r='1.5'/><circle cx='756.0' cy='435.6' r='1.5'/><circle cx='738.5' cy='456.0' r='1.5'/><circle cx='738.4' cy='456.8' r='1.5'/><circle cx='743.1' cy='463.4' r='1.5'/><circle cx='760.3' cy='450.9' r='1.5'/><circle cx='751.0' cy='442.4' r='1.5'/><circle cx='752.7' cy='449.3' r='1.5'/><circle cx='740.8' cy='462.0' r='1.5'/><circle cx='723.1' cy='472.0' r='1.5'/><circle cx='749.8' cy='443.3' r='1.5'/><circle cx='732.3' cy='466.6' r='1.5'/><circle cx='746.3' cy='460.4' r='1.5'/><circle cx='760.8' cy='448.2' r='1.5'/><circle cx='751.8' cy='456.2' r='1.5'/><circle cx='727.9' cy='478.9' r='1.5'/><circle cx='755.8' cy='436.1' r='1.5'/><circle cx='726.7' cy='460.7' r='1.5'/><circle cx='743.4' cy='451.4' r='1.5'/><circle cx='730.2' cy='462.6' r='1.5'/><circle cx='726.3' cy='465.7' r='1.5'/><circle cx='751.0' cy='469.5' r='1.5'/><circle cx='737.2' cy='454.9' r='1.5'/><circle cx='744.4' cy='449.5' r='1.5'/><circle cx='744.4' cy='452.0' r='1.5'/><circle cx='767.2' cy='432.7' r='1.5'/><circle cx='747.0' cy='458.9' r='1.5'/><circle cx='737.1' cy='458.7' r='1.5'/><circle cx='761.8' cy='442.4' r='1.5'/><circle cx='745.9' cy='461.6' r='1.5'/><circle cx='746.5' cy='442.2' r='1.5'/><circle cx='754.6' cy='438.0' r='1.5'/><circle cx='734.8' cy='460.9' r='1.5'/><circle cx='728.6' cy='458.9' r='1.5'/><circle cx='745.5' cy='458.1' r='1.5'/><circle cx='750.0' cy='457.4' r='1.5'/><circle cx='729.5' cy='461.6' r='1.5'/><circle cx='737.6' cy='461.3' r='1.5'/><circle cx='733.4' cy='470.3' r='1.5'/><circle cx='727.8' cy='466.4' r='1.5'/><circle cx='749.8' cy='444.8' r='1.5'/><circle cx='736.9' cy='450.6' r='1.5'/><circle cx='748.0' cy='442.0' r='1.5'/><circle cx='735.6' cy='468.3' r='1.5'/><circle cx='749.1' cy='452.8' r='1.5'/><circle cx='766.7' cy='443.5' r='1.5'/><circle cx='733.2' cy='461.1' r='1.5'/><circle cx='739.8' cy='460.7' r='1.5'/><circle cx='736.0' cy='458.3' r='1.5'/><circle cx='719.5' cy='475.1' r='1.5'/><circle cx='741.4' cy='471.5' r='1.5'/><circle cx='737.6' cy='455.7' r='1.5'/><circle cx='750.0' cy='458.4' r='1.5'/><circle cx='757.4' cy='431.8' r='1.5'/><circle cx='722.8' cy='468.8' r='1.5'/><circle cx='761.5' cy='437.1' r='1.5'/><circle cx='748.3' cy='447.5' r='1.5'/><circle cx='737.4' cy='466.7' r='1.5'/><circle cx='751.5' cy='440.2' r='1.5'/><circle cx='730.7' cy='471.0' r='1.5'/><circle cx='755.4' cy='438.4' r='1.5'/><circle cx='718.2' cy='474.7' r='1.5'/><circle cx='734.6' cy='454.2' r='1.5'/><circle cx='757.7' cy='443.1' r='1.5'/><circle cx='715.0' cy='466.3' r='1.5'/><circle cx='735.6' cy='463.2' r='1.5'/><circle cx='769.5' cy='447.5' r='1.5'/><circle cx='736.2' cy='455.3' r='1.5'/><circle cx='737.1' cy='450.7' r='1.5'/><circle cx='750.7' cy='439.2' r='1.5'/><circle cx='734.7' cy='464.2' r='1.5'/><circle cx='721.2' cy='487.4' r='1.5'/><circle cx='752.0' cy='430.6' r='1.5'/><circle cx='737.4' cy='456.6' r='1.5'/><circle cx='745.0' cy='455.2' r='1.5'/><circle cx='771.1' cy='445.7' r='1.5'/><circle cx='731.0' cy='458.6' r='1.5'/><circle cx='752.6' cy='444.5' r='1.5'/><circle cx='747.4' cy='464.2' r='1.5'/><circle cx='750.2' cy='453.8' r='1.5'/><circle cx='723.2' cy='469.8' r='1.5'/><circle cx='732.6' cy='466.8' r='1.5'/><circle cx='746.8' cy='455.9' r='1.5'/><circle cx='757.0' cy='423.9' r='1.5'/><circle cx='758.2' cy='435.8' r='1.5'/><circle cx='734.0' cy='477.1' r='1.5'/><circle cx='736.6' cy='464.6' r='1.5'/><circle cx='744.4' cy='445.0' r='1.5'/><circle cx='746.5' cy='462.9' r='1.5'/><circle cx='744.5' cy='465.7' r='1.5'/><circle cx='764.5' cy='454.1' r='1.5'/><circle cx='735.0' cy='461.7' r='1.5'/><circle cx='720.1' cy='471.3' r='1.5'/><circle cx='751.5' cy='452.8' r='1.5'/><circle cx='760.5' cy='432.8' r='1.5'/><circle cx='733.3' cy='461.5' r='1.5'/><circle cx='755.8' cy='441.5' r='1.5'/><circle cx='748.8' cy='442.6' r='1.5'/><circle cx='762.9' cy='446.6' r='1.5'/><circle cx='750.7' cy='446.3' r='1.5'/><circle cx='739.7' cy='444.4' r='1.5'/><circle cx='738.0' cy='452.9' r='1.5'/><circle cx='732.8' cy='477.1' r='1.5'/><circle cx='736.3' cy='461.7' r='1.5'/><circle cx='731.4' cy='452.8' r='1.5'/><circle cx='730.1' cy='461.1' r='1.5'/><circle cx='734.2' cy='456.6' r='1.5'/><circle cx='737.0' cy='460.0' r='1.5'/><circle cx='731.4' cy='462.7' r='1.5'/><circle cx='749.3' cy='443.2' r='1.5'/><circle cx='758.5' cy='444.4' r='1.5'/><circle cx='750.8' cy='461.3' r='1.5'/><circle cx='765.2' cy='444.1' r='1.5'/><circle cx='728.7' cy='447.3' r='1.5'/><circle cx='742.9' cy='466.9' r='1.5'/><circle cx='739.6' cy='461.6' r='1.5'/><circle cx='732.4' cy='461.9' r='1.5'/><circle cx='743.4' cy='460.6' r='1.5'/><circle cx='728.4' cy='469.4' r='1.5'/><circle cx='752.7' cy='441.1' r='1.5'/><circle cx='739.1' cy='455.9' r='1.5'/><circle cx='746.0' cy='466.8' r='1.5'/><circle cx='750.4' cy='457.1' r='1.5'/><circle cx='734.7' cy='451.5' r='1.5'/><circle cx='746.8' cy='439.1' r='1.5'/><circle cx='741.2' cy='468.1' r='1.5'/><circle cx='750.1' cy='453.0' r='1.5'/><circle cx='752.6' cy='448.6' r='1.5'/><circle cx='730.4' cy='479.5' r='1.5'/><circle cx='734.1' cy='453.5' r='1.5'/><circle cx='739.2' cy='457.6' r='1.5'/><circle cx='733.6' cy='459.7' r='1.5'/><circle cx='766.4' cy='432.7' r='1.5'/><circle cx='756.2' cy='448.0' r='1.5'/><circle cx='750.6' cy='451.0' r='1.5'/><circle cx='741.7' cy='460.2' r='1.5'/><circle cx='729.6' cy='455.9' r='1.5'/><circle cx='744.4' cy='469.3' r='1.5'/><circle cx='739.3' cy='458.0' r='1.5'/><circle cx='731.1' cy='463.0' r='1.5'/><circle cx='720.9' cy='466.0' r='1.5'/><circle cx='758.8' cy='446.7' r='1.5'/><circle cx='751.7' cy='448.1' r='1.5'/><circle cx='741.2' cy='452.1' r='1.5'/><circle cx='738.5' cy='450.1' r='1.5'/><circle cx='762.7' cy='441.9' r='1.5'/><circle cx='728.5' cy='463.8' r='1.5'/><circle cx='745.4' cy='454.9' r='1.5'/><circle cx='747.0' cy='453.4' r='1.5'/><circle cx='744.5' cy='456.3' r='1.5'/><circle cx='752.7' cy='461.9' r='1.5'/><circle cx='757.8' cy='447.5' r='1.5'/><circle cx='731.8' cy='472.6' r='1.5'/><circle cx='735.7' cy='462.5' r='1.5'/><circle cx='743.4' cy='455.3' r='1.5'/><circle cx='735.6' cy='455.0' r='1.5'/><circle cx='737.3' cy='464.4' r='1.5'/><circle cx='732.2' cy='448.0' r='1.5'/><circle cx='747.5' cy='449.4' r='1.5'/><circle cx='755.6' cy='451.4' r='1.5'/><circle cx='729.3' cy='457.2' r='1.5'/><circle cx='736.2' cy='453.0' r='1.5'/><circle cx='747.0' cy='463.4' r='1.5'/><circle cx='744.1' cy='452.8' r='1.5'/><circle cx='740.1' cy='443.9' r='1.5'/><circle cx='742.2' cy='457.3' r='1.5'/><circle cx='717.9' cy='474.1' r='1.5'/><circle cx='729.6' cy='461.3' r='1.5'/><circle cx='738.5' cy='473.6' r='1.5'/><circle cx='740.1' cy='466.4' r='1.5'/><circle cx='736.1' cy='462.0' r='1.5'/><circle cx='740.9' cy='449.2' r='1.5'/><circle cx='752.8' cy='447.7' r='1.5'/><circle cx='731.0' cy='469.5' r='1.5'/><circle cx='729.9' cy='453.5' r='1.5'/><circle cx='730.4' cy='473.6' r='1.5'/><circle cx='747.4' cy='455.9' r='1.5'/><circle cx='743.4' cy='447.4' r='1.5'/><circle cx='748.6' cy='447.0' r='1.5'/><circle cx='742.9' cy='455.0' r='1.5'/><circle cx='741.1' cy='450.4' r='1.5'/><circle cx='728.5' cy='468.1' r='1.5'/><circle cx='735.8' cy='455.8' r='1.5'/><circle cx='723.4' cy='481.2' r='1.5'/><circle cx='758.5' cy='441.6' r='1.5'/><circle cx='731.7' cy='458.9' r='1.5'/><circle cx='759.9' cy='443.6' r='1.5'/><circle cx='729.6' cy='448.1' r='1.5'/><circle cx='739.6' cy='461.5' r='1.5'/><circle cx='737.1' cy='452.1' r='1.5'/><circle cx='735.3' cy='460.2' r='1.5'/><circle cx='757.8' cy='439.5' r='1.5'/><circle cx='753.8' cy='452.6' r='1.5'/><circle cx='744.0' cy='459.4' r='1.5'/><circle cx='742.2' cy='449.9' r='1.5'/><circle cx='736.1' cy='451.5' r='1.5'/><circle cx='738.9' cy='479.6' r='1.5'/><circle cx='732.6' cy='473.4' r='1.5'/><circle cx='737.7' cy='472.2' r='1.5'/><circle cx='746.4' cy='452.6' r='1.5'/><circle cx='742.4' cy='457.2' r='1.5'/><circle cx='742.7' cy='459.8' r='1.5'/><circle cx='749.5' cy='453.9' r='1.5'/><circle cx='742.3' cy='453.2' r='1.5'/><circle cx='740.3' cy='448.2' r='1.5'/><circle cx='757.7' cy='450.8' r='1.5'/><circle cx='756.2' cy='451.9' r='1.5'/><circle cx='749.0' cy='452.2' r='1.5'/><circle cx='729.3' cy='462.7' r='1.5'/><circle cx='745.8' cy='443.6' r='1.5'/><circle cx='747.9' cy='443.4' r='1.5'/><circle cx='736.7' cy='480.4' r='1.5'/><circle cx='752.9' cy='443.0' r='1.5'/><circle cx='738.0' cy='456.1' r='1.5'/><circle cx='732.1' cy='463.6' r='1.5'/><circle cx='747.1' cy='449.3' r='1.5'/><circle cx='748.5' cy='433.7' r='1.5'/><circle cx='739.9' cy='462.4' r='1.5'/><circle cx='764.9' cy='445.1' r='1.5'/><circle cx='734.6' cy='458.9' r='1.5'/><circle cx='751.0' cy='451.3' r='1.5'/><circle cx='754.6' cy='439.2' r='1.5'/><circle cx='744.5' cy='446.0' r='1.5'/><circle cx='753.1' cy='444.2' r='1.5'/><circle cx='718.0' cy='484.7' r='1.5'/><circle cx='722.8' cy='462.5' r='1.5'/><circle cx='738.3' cy='466.6' r='1.5'/><circle cx='744.1' cy='454.8' r='1.5'/><circle cx='733.7' cy='461.1' r='1.5'/><circle cx='743.1' cy='453.6' r='1.5'/><circle cx='749.6' cy='453.3' r='1.5'/><circle cx='740.5' cy='461.5' r='1.5'/><circle cx='731.3' cy='471.0' r='1.5'/><circle cx='752.2' cy='428.4' r='1.5'/><circle cx='755.0' cy='443.1' r='1.5'/><circle cx='729.1' cy='453.8' r='1.5'/><circle cx='742.6' cy='459.9' r='1.5'/><circle cx='744.7' cy='458.5' r='1.5'/><circle cx='739.0' cy='456.4' r='1.5'/><circle cx='739.9' cy='454.4' r='1.5'/><circle cx='740.1' cy='441.9' r='1.5'/><circle cx='744.5' cy='446.2' r='1.5'/><circle cx='731.9' cy='458.7' r='1.5'/><circle cx='743.0' cy='457.8' r='1.5'/><circle cx='748.7' cy='447.3' r='1.5'/><circle cx='749.0' cy='452.6' r='1.5'/><circle cx='736.6' cy='460.3' r='1.5'/><circle cx='722.9' cy='473.4' r='1.5'/><circle cx='742.5' cy='466.8' r='1.5'/><circle cx='747.3' cy='450.6' r='1.5'/><circle cx='738.8' cy='454.7' r='1.5'/><circle cx='748.8' cy='444.9' r='1.5'/><circle cx='732.9' cy='467.5' r='1.5'/><circle cx='736.7' cy='456.1' r='1.5'/><circle cx='759.1' cy='444.1' r='1.5'/><circle cx='730.5' cy='462.3' r='1.5'/><circle cx='751.4' cy='448.2' r='1.5'/><circle cx='734.6' cy='467.6' r='1.5'/><circle cx='725.8' cy='472.9' r='1.5'/><circle cx='749.5' cy='449.5' r='1.5'/><circle cx='744.6' cy='457.5' r='1.5'/><circle cx='726.9' cy='462.6' r='1.5'/><circle cx='752.1' cy='439.1' r='1.5'/><circle cx='727.1' cy='476.6' r='1.5'/><circle cx='743.2' cy='467.5' r='1.5'/><circle cx='761.5' cy='440.3' r='1.5'/><circle cx='730.4' cy='458.2' r='1.5'/><circle cx='746.2' cy='442.5' r='1.5'/><circle cx='748.9' cy='444.6' r='1.5'/><circle cx='752.0' cy='447.6' r='1.5'/><circle cx='730.4' cy='466.3' r='1.5'/><circle cx='775.8' cy='414.3' r='1.5'/><circle cx='754.4' cy='457.0' r='1.5'/><circle cx='744.2' cy='444.9' r='1.5'/><circle cx='729.4' cy='457.3' r='1.5'/><circle cx='747.0' cy='455.5' r='1.5'/><circle cx='731.2' cy='467.9' r='1.5'/><circle cx='748.1' cy='452.4' r='1.5'/><circle cx='769.0' cy='443.0' r='1.5'/><circle cx='759.4' cy='435.3' r='1.5'/><circle cx='748.7' cy='452.2' r='1.5'/><circle cx='734.4' cy='456.1' r='1.5'/><circle cx='757.4' cy='453.8' r='1.5'/><circle cx='742.0' cy='454.1' r='1.5'/><circle cx='729.8' cy='471.6' r='1.5'/><circle cx='733.5' cy='458.7' r='1.5'/><circle cx='732.6' cy='464.4' r='1.5'/><circle cx='749.3' cy='446.3' r='1.5'/><circle cx='733.9' cy='460.2' r='1.5'/><circle cx='742.6' cy='455.2' r='1.5'/><circle cx='749.7' cy='449.1' r='1.5'/><circle cx='732.3' cy='468.1' r='1.5'/><circle cx='743.1' cy='454.6' r='1.5'/><circle cx='747.9' cy='451.1' r='1.5'/><circle cx='716.7' cy='481.4' r='1.5'/><circle cx='739.2' cy='448.0' r='1.5'/><circle cx='740.7' cy='459.3' r='1.5'/><circle cx='724.0' cy='470.3' r='1.5'/><circle cx='742.8' cy='453.6' r='1.5'/><circle cx='756.3' cy='453.2' r='1.5'/><circle cx='722.9' cy='458.4' r='1.5'/><circle cx='728.5' cy='467.3' r='1.5'/><circle cx='744.1' cy='461.4' r='1.5'/><circle cx='756.0' cy='438.5' r='1.5'/><circle cx='754.5' cy='441.5' r='1.5'/><circle cx='743.6' cy='446.0' r='1.5'/><circle cx='748.8' cy='463.8' r='1.5'/><circle cx='755.8' cy='437.4' r='1.5'/><circle cx='740.4' cy='464.5' r='1.5'/><circle cx='743.1' cy='474.4' r='1.5'/><circle cx='744.9' cy='440.1' r='1.5'/><circle cx='748.7' cy='456.5' r='1.5'/><circle cx='736.2' cy='459.0' r='1.5'/><circle cx='750.9' cy='457.5' r='1.5'/><circle cx='737.4' cy='453.9' r='1.5'/><circle cx='730.9' cy='457.1' r='1.5'/><circle cx='739.7' cy='459.6' r='1.5'/><circle cx='754.4' cy='445.7' r='1.5'/><circle cx='734.1' cy='464.6' r='1.5'/><circle cx='744.0' cy='455.3' r='1.5'/><circle cx='746.8' cy='463.6' r='1.5'/><circle cx='755.1' cy='456.3' r='1.5'/><circle cx='729.3' cy='464.4' r='1.5'/><circle cx='745.6' cy='452.4' r='1.5'/><circle cx='755.0' cy='451.1' r='1.5'/><circle cx='745.0' cy='447.7' r='1.5'/><circle cx='747.6' cy='442.0' r='1.5'/><circle cx='767.3' cy='422.3' r='1.5'/><circle cx='748.3' cy='461.3' r='1.5'/><circle cx='749.7' cy='449.5' r='1.5'/><circle cx='720.6' cy='466.0' r='1.5'/><circle cx='754.8' cy='435.8' r='1.5'/><circle cx='726.8' cy='464.0' r='1.5'/><circle cx='754.4' cy='445.1' r='1.5'/><circle cx='744.5' cy='452.9' r='1.5'/><circle cx='759.5' cy='439.3' r='1.5'/><circle cx='760.3' cy='432.5' r='1.5'/><circle cx='720.0' cy='464.1' r='1.5'/><circle cx='764.8' cy='447.3' r='1.5'/><circle cx='751.2' cy='451.5' r='1.5'/><circle cx='735.3' cy='447.6' r='1.5'/><circle cx='729.6' cy='453.3' r='1.5'/><circle cx='744.7' cy='450.9' r='1.5'/><circle cx='751.8' cy='447.8' r='1.5'/><circle cx='734.7' cy='462.2' r='1.5'/><circle cx='746.4' cy='452.3' r='1.5'/><circle cx='741.2' cy='456.6' r='1.5'/><circle cx='745.5' cy='460.7' r='1.5'/><circle cx='741.0' cy='448.6' r='1.5'/><circle cx='748.3' cy='458.5' r='1.5'/><circle cx='736.5' cy='461.7' r='1.5'/><circle cx='740.0' cy='456.3' r='1.5'/><circle cx='726.2' cy='474.9' r='1.5'/><circle cx='755.8' cy='444.0' r='1.5'/><circle cx='748.9' cy='463.7' r='1.5'/><circle cx='732.3' cy='457.3' r='1.5'/><circle cx='734.9' cy='463.2' r='1.5'/><circle cx='709.4' cy='482.8' r='1.5'/><circle cx='747.3' cy='458.8' r='1.5'/><circle cx='743.4' cy='464.1' r='1.5'/><circle cx='735.1' cy='461.9' r='1.5'/><circle cx='735.6' cy='460.6' r='1.5'/><circle cx='758.4' cy='440.2' r='1.5'/><circle cx='732.5' cy='465.9' r='1.5'/><circle cx='739.9' cy='449.1' r='1.5'/><circle cx='723.7' cy='477.7' r='1.5'/><circle cx='748.7' cy='470.6' r='1.5'/><circle cx='753.1' cy='443.3' r='1.5'/><circle cx='731.7' cy='455.3' r='1.5'/><circle cx='731.2' cy='465.9' r='1.5'/><circle cx='742.4' cy='462.0' r='1.5'/><circle cx='743.8' cy='451.6' r='1.5'/><circle cx='742.2' cy='464.8' r='1.5'/><circle cx='727.7' cy='466.9' r='1.5'/><circle cx='729.1' cy='490.3' r='1.5'/><circle cx='743.1' cy='461.4' r='1.5'/><circle cx='732.1' cy='456.1' r='1.5'/><circle cx='740.7' cy='455.2' r='1.5'/><circle cx='739.2' cy='440.7' r='1.5'/><circle cx='733.0' cy='444.6' r='1.5'/><circle cx='762.1' cy='440.3' r='1.5'/><circle cx='747.5' cy='454.2' r='1.5'/><circle cx='753.9' cy='444.3' r='1.5'/><circle cx='738.6' cy='466.7' r='1.5'/><circle cx='723.7' cy='461.9' r='1.5'/><circle cx='740.6' cy='458.6' r='1.5'/><circle cx='731.7' cy='470.6' r='1.5'/><circle cx='733.7' cy='464.1' r='1.5'/><circle cx='741.4' cy='452.5' r='1.5'/><circle cx='739.6' cy='454.9' r='1.5'/><circle cx='731.6' cy='457.3' r='1.5'/><circle cx='746.4' cy='444.9' r='1.5'/><circle cx='730.8' cy='476.1' r='1.5'/><circle cx='748.7' cy='452.0' r='1.5'/><circle cx='754.2' cy='440.0' r='1.5'/><circle cx='737.8' cy='461.1' r='1.5'/><circle cx='753.4' cy='444.5' r='1.5'/><circle cx='750.2' cy='433.4' r='1.5'/><circle cx='774.7' cy='431.7' r='1.5'/><circle cx='759.4' cy='448.6' r='1.5'/><circle cx='718.0' cy='473.9' r='1.5'/><circle cx='728.1' cy='470.8' r='1.5'/><circle cx='739.0' cy='455.0' r='1.5'/><circle cx='748.1' cy='448.0' r='1.5'/><circle cx='744.6' cy='473.1' r='1.5'/><circle cx='746.0' cy='450.7' r='1.5'/><circle cx='749.6' cy='449.5' r='1.5'/><circle cx='732.2' cy='453.9' r='1.5'/><circle cx='744.4' cy='441.4' r='1.5'/><circle cx='753.4' cy='442.1' r='1.5'/><circle cx='772.0' cy='426.4' r='1.5'/><circle cx='751.8' cy='459.8' r='1.5'/><circle cx='740.1' cy='455.3' r='1.5'/><circle cx='742.2' cy='444.9' r='1.5'/><circle cx='743.4' cy='468.6' r='1.5'/><circle cx='731.6' cy='463.5' r='1.5'/><circle cx='755.9' cy='447.8' r='1.5'/><circle cx='738.3' cy='459.3' r='1.5'/><circle cx='742.4' cy='468.4' r='1.5'/><circle cx='735.8' cy='461.5' r='1.5'/><circle cx='734.1' cy='473.0' r='1.5'/><circle cx='734.2' cy='450.5' r='1.5'/><circle cx='754.5' cy='450.3' r='1.5'/><circle cx='740.5' cy='452.5' r='1.5'/><circle cx='743.6' cy='454.7' r='1.5'/><circle cx='740.0' cy='448.2' r='1.5'/><circle cx='748.4' cy='434.4' r='1.5'/><circle cx='743.0' cy='463.2' r='1.5'/><circle cx='753.6' cy='451.7' r='1.5'/><circle cx='734.0' cy='459.9' r='1.5'/><circle cx='732.8' cy='462.1' r='1.5'/><circle cx='738.3' cy='461.6' r='1.5'/><circle cx='758.2' cy='441.2' r='1.5'/><circle cx='742.9' cy='452.0' r='1.5'/><circle cx='747.2' cy='453.7' r='1.5'/><circle cx='738.2' cy='470.7' r='1.5'/><circle cx='726.8' cy='467.2' r='1.5'/><circle cx='720.9' cy='467.2' r='1.5'/><circle cx='754.6' cy='443.9' r='1.5'/><circle cx='726.6' cy='463.9' r='1.5'/><circle cx='724.8' cy='470.5' r='1.5'/><circle cx='727.9' cy='479.0' r='1.5'/><circle cx='721.0' cy='460.0' r='1.5'/><circle cx='725.7' cy='476.0' r='1.5'/><circle cx='752.2' cy='457.2' r='1.5'/><circle cx='738.0' cy='456.3' r='1.5'/><circle cx='733.0' cy='449.3' r='1.5'/><circle cx='757.8' cy='428.3' r='1.5'/><circle cx='761.0' cy='440.4' r='1.5'/><circle cx='738.8' cy='448.9' r='1.5'/><circle cx='728.2' cy='459.5' r='1.5'/><circle cx='729.4' cy='471.0' r='1.5'/><circle cx='742.5' cy='470.7' r='1.5'/><circle cx='727.2' cy='462.0' r='1.5'/><circle cx='735.9' cy='467.7' r='1.5'/><circle cx='740.5' cy='452.4' r='1.5'/><circle cx='730.7' cy='471.9' r='1.5'/><circle cx='743.0' cy='441.1' r='1.5'/><circle cx='750.9' cy='454.8' r='1.5'/><circle cx='750.7' cy='439.2' r='1.5'/><circle cx='733.3' cy='459.0' r='1.5'/><circle cx='752.0' cy='442.1' r='1.5'/><circle cx='739.4' cy='463.8' r='1.5'/><circle cx='712.9' cy='481.0' r='1.5'/><circle cx='730.7' cy='455.8' r='1.5'/><circle cx='760.0' cy='446.3' r='1.5'/><circle cx='743.5' cy='461.0' r='1.5'/><circle cx='758.7' cy='437.9' r='1.5'/><circle cx='732.7' cy='457.9' r='1.5'/><circle cx='755.1' cy='441.2' r='1.5'/><circle cx='742.4' cy='445.1' r='1.5'/><circle cx='734.6' cy='458.7' r='1.5'/><circle cx='715.6' cy='475.0' r='1.5'/><circle cx='743.1' cy='447.3' r='1.5'/><circle cx='748.4' cy='458.4' r='1.5'/><circle cx='727.1' cy='474.7' r='1.5'/><circle cx='740.6' cy='447.4' r='1.5'/><circle cx='737.9' cy='460.3' r='1.5'/><circle cx='727.2' cy='468.1' r='1.5'/><circle cx='710.9' cy='466.3' r='1.5'/><circle cx='743.6' cy='446.3' r='1.5'/><circle cx='760.1' cy='444.0' r='1.5'/><circle cx='746.8' cy='446.2' r='1.5'/></g>
<path d='M626.4,571.3L855.8,342.7' stroke='#000' stroke-opacity='0.26' stroke-width='3.7' stroke-dasharray='13.73 5.94' fill='none'/>
<path d='M664.63,571.30v3.5 M626.40,533.20h-3.5 M741.10,571.30v3.5 M626.40,457.00h-3.5 M817.57,571.30v3.5 M626.40,380.80h-3.5' stroke='#000' stroke-width='2' fill='none'/>
<rect x='626.4' y='342.7' width='229.40' height='228.60' fill='none' stroke='#000' stroke-width='3.1'/>
<rect x='255.10' y='1.40' width='618.80' height='619.50' fill='none' stroke='#000' stroke-width='3.1'/>
<path d='M316.98,620.90v24.6 M255.10,559.02h-24.6 M440.74,620.90v24.6 M255.10,435.26h-24.6 M564.50,620.90v24.6 M255.10,311.50h-24.6 M688.26,620.90v24.6 M255.10,187.74h-24.6 M812.02,620.90v24.6 M255.10,63.98h-24.6' stroke='#000' stroke-width='3.9' fill='none'/>
<path d='M255.40,1103.00H874.80' stroke='#000' stroke-width='3.9' stroke-dasharray='12.3 5.32' fill='none'/>
<path d='M565.10,1381.00V825.00' stroke='#000' stroke-width='3.9' stroke-dasharray='12.3 5.32' fill='none'/>
<g fill='#d62728' fill-opacity='0.75'><rect x='368.18' y='1296.45' width='22.2' height='22.2'/><rect x='430.12' y='1269.35' width='22.2' height='22.2'/><rect x='492.06' y='1234.15' width='22.2' height='22.2'/><rect x='541.61' y='1157.34' width='22.2' height='22.2'/><rect x='547.81' y='1126.79' width='22.2' height='22.2'/><rect x='554.00' y='1091.76' width='22.2' height='22.2'/><rect x='560.19' y='1057.46' width='22.2' height='22.2'/><rect x='566.39' y='1017.70' width='22.2' height='22.2'/><rect x='615.94' y='942.45' width='22.2' height='22.2'/><rect x='677.88' y='906.61' width='22.2' height='22.2'/><rect x='739.82' y='878.34' width='22.2' height='22.2'/></g>
<polyline points='379.28,1307.55 441.22,1280.45 503.16,1245.25 552.71,1168.44 558.91,1137.89 565.10,1102.86 571.29,1068.56 577.49,1028.80 627.04,953.55 688.98,917.71 750.92,889.44' fill='none' stroke='#d62728' stroke-opacity='0.4' stroke-width='4.5' stroke-dasharray='16.4 7.05' stroke-dashoffset='1.9'/>
<path transform='translate(456,1474) scale(0.04926)' fill='#000' d='M805,235 C760,160 680,125 570,122 C420,122 300,200 272,300 C255,380 280,470 352,515 C230,555 120,630 117,760 C115,890 230,965 380,965 C500,965 620,900 712,830 L680,772 C600,840 500,890 400,890 C300,890 238,830 238,750 C238,650 320,585 450,575 C520,570 600,570 632,550 C655,535 655,505 650,490 C600,492 540,497 490,490 C420,480 372,420 372,340 C372,240 450,185 540,185 C610,185 660,220 692,288 Z'/>
<rect x='255.40' y='825.00' width='619.40' height='556.00' fill='none' stroke='#000' stroke-width='3.5'/>
<path d='M255.40,1381.00v22.4 M410.25,1381.00v22.4 M565.10,1381.00v22.4 M719.95,1381.00v22.4 M874.80,1381.00v22.4 M255.40,1381.00h-22.4 M255.40,1242.00h-22.4 M255.40,1103.00h-22.4 M255.40,964.00h-22.4 M255.40,825.00h-22.4' stroke='#000' stroke-width='3.9' fill='none'/>
<g style='filter:grayscale(1)'>
<g transform='translate(26.68,54.83) scale(0.6139,0.6145)'><text x='0' y='0' font-family='Liberation Sans' font-size='100' font-weight='bold' font-style='normal' stroke='#000' stroke-width='1.6'>a</text></g>
<g transform='translate(187.94,84.71) scale(0.5954,0.5765)'><text x='0' y='0' font-family='Liberation Sans' font-size='100' font-weight='normal' font-style='normal' stroke='#000' stroke-width='0.8'>8</text></g>
<g transform='translate(188.31,208.24) scale(0.5724,0.5701)'><text x='0' y='0' font-family='Liberation Sans' font-size='100' font-weight='normal' font-style='normal' stroke='#000' stroke-width='0.8'>4</text></g>
<g transform='translate(188.61,331.92) scale(0.5680,0.5730)'><text x='0' y='0' font-family='Liberation Sans' font-size='100' font-weight='normal' font-style='normal' stroke='#000' stroke-width='0.8'>0</text></g>
<g transform='translate(143.86,457.44) scale(0.6928,0.5682)'><text x='0' y='0' font-family='Liberation Sans' font-size='100' font-weight='normal' font-style='normal' stroke='#000' stroke-width='0.8'>−</text></g>
<g transform='translate(188.60,455.54) scale(0.5670,0.5744)'><text x='0' y='0' font-family='Liberation Sans' font-size='100' font-weight='normal' font-style='normal' stroke='#000' stroke-width='0.8'>4</text></g>
<g transform='translate(143.83,581.35) scale(0.6993,0.5671)'><text x='0' y='0' font-family='Liberation Sans' font-size='100' font-weight='normal' font-style='normal' stroke='#000' stroke-width='0.8'>−</text></g>
<g transform='translate(188.85,579.71) scale(0.5779,0.5775)'><text x='0' y='0' font-family='Liberation Sans' font-size='100' font-weight='normal' font-style='normal' stroke='#000' stroke-width='0.8'>8</text></g>
<g transform='translate(279.14,696.64) scale(0.6964,0.5602)'><text x='0' y='0' font-family='Liberation Sans' font-size='100' font-weight='normal' font-style='normal' stroke='#000' stroke-width='0.8'>−</text></g>
<g transform='translate(323.97,695.02) scale(0.5755,0.5705)'><text x='0' y='0' font-family='Liberation Sans' font-size='100' font-weight='normal' font-style='normal' stroke='#000' stroke-width='0.8'>8</text></g>
<g transform='translate(402.74,697.05) scale(0.6976,0.5710)'><text x='0' y='0' font-family='Liberation Sans' font-size='100' font-weight='normal' font-style='normal' stroke='#000' stroke-width='0.8'>−</text></g>
<g transform='translate(447.79,695.14) scale(0.5709,0.5772)'><text x='0' y='0' font-family='Liberation Sans' font-size='100' font-weight='normal' font-style='normal' stroke='#000' stroke-width='0.8'>4</text></g>
<g transform='translate(548.39,695.51) scale(0.5721,0.5772)'><text x='0' y='0' font-family='Liberation Sans' font-size='100' font-weight='normal' font-style='normal' stroke='#000' stroke-width='0.8'>0</text></g>
<g transform='translate(672.11,695.04) scale(0.5743,0.5744)'><text x='0' y='0' font-family='Liberation Sans' font-size='100' font-weight='normal' font-style='normal' stroke='#000' stroke-width='0.8'>4</text></g>
<g transform='translate(795.90,695.41) scale(0.5807,0.5775)'><text x='0' y='0' font-family='Liberation Sans' font-size='100' font-weight='normal' font-style='normal' stroke='#000' stroke-width='0.8'>8</text></g>
<g transform='translate(351.10,760.65) scale(0.4736,0.5773)'><text x='0' y='0' font-family='Liberation Sans' font-size='100' font-weight='normal' font-style='normal' stroke='#000' stroke-width='0.8'>P</text></g>
<g transform='translate(383.49,760.79) scale(0.5202,0.5784)'><text x='0' y='0' font-family='Liberation Sans' font-size='100' font-weight='normal' font-style='normal' stroke='#000' stroke-width='0.8'>B</text></g>
<g transform='translate(421.23,760.79) scale(0.4642,0.5763)'><text x='0' y='0' font-family='Liberation Sans' font-size='100' font-weight='normal' font-style='normal' stroke='#000' stroke-width='0.8'>E</text></g>
<g transform='translate(454.26,759.38) scale(0.5673,0.5132)'><text x='0' y='0' font-family='Liberation Sans' font-size='100' font-weight='normal' font-style='normal' stroke='#000' stroke-width='0.8'>-</text></g>
<g transform='translate(474.54,760.79) scale(0.5548,0.5784)'><text x='0' y='0' font-family='Liberation Sans' font-size='100' font-weight='normal' font-style='normal' stroke='#000' stroke-width='0.8'>D</text></g>
<g transform='translate(517.15,760.65) scale(0.4583,0.5763)'><text x='0' y='0' font-family='Liberation Sans' font-size='100' font-weight='normal' font-style='normal' stroke='#000' stroke-width='0.8'>F</text></g>
<g transform='translate(545.40,760.79) scale(0.5847,0.5752)'><text x='0' y='0' font-family='Liberation Sans' font-size='100' font-weight='normal' font-style='normal' stroke='#000' stroke-width='0.8'>T</text></g>
<g transform='translate(597.28,760.98) scale(0.5951,0.5908)'><text x='0' y='0' font-family='Liberation Sans' font-size='100' font-weight='normal' font-style='italic' stroke='#000' stroke-width='0.8'>Z</text></g>
<path d='M655.25,711.70L655.25,728.70M647.45,715.70L663.05,724.71M663.05,715.70L647.45,724.71' stroke='#000' stroke-width='2.38' fill='none'/>
<g transform='translate(634.79,775.16) scale(0.3981,0.3949)'><text x='0' y='0' font-family='Liberation Sans' font-size='100' font-weight='normal' font-style='italic' stroke='#000' stroke-width='0.8'>α</text></g>
<g transform='translate(659.79,775.16) scale(0.3984,0.3948)'><text x='0' y='0' font-family='Liberation Sans' font-size='100' font-weight='normal' font-style='italic' stroke='#000' stroke-width='0.8'>α</text></g>
<g transform='translate(704.25,756.73) scale(0.5422,0.5179)'><text x='0' y='0' font-family='Liberation Sans' font-size='100' font-weight='normal' font-style='normal' stroke='#000' stroke-width='0.8'>[</text></g>
<g transform='translate(725.13,760.72) scale(0.5748,0.5658)'><text x='0' y='0' font-family='Liberation Sans' font-size='100' font-weight='normal' font-style='normal' stroke='#000' stroke-width='0.8'>e</text></g>
<g transform='translate(762.70,756.73) scale(0.5416,0.5179)'><text x='0' y='0' font-family='Liberation Sans' font-size='100' font-weight='normal' font-style='normal' stroke='#000' stroke-width='0.8'>]</text></g>
<g transform='translate(128.66,459.71) rotate(-90) scale(0.5521,0.5754)'><text x='0' y='0' font-family='Liberation Sans' font-size='100' font-weight='normal' font-style='normal' stroke='#000' stroke-width='0.8'>L</text></g>
<g transform='translate(128.67,428.58) rotate(-90) scale(0.4665,0.5734)'><text x='0' y='0' font-family='Liberation Sans' font-size='100' font-weight='normal' font-style='normal' stroke='#000' stroke-width='0.8'>E</text></g>
<g transform='translate(128.91,394.23) rotate(-90) scale(0.4804,0.5775)'><text x='0' y='0' font-family='Liberation Sans' font-size='100' font-weight='normal' font-style='normal' stroke='#000' stroke-width='0.8'>S</text></g>
<g transform='translate(128.69,344.51) rotate(-90) scale(0.5996,0.5736)'><text x='0' y='0' font-family='Liberation Sans' font-size='100' font-weight='normal' font-style='italic' stroke='#000' stroke-width='0.8'>Z</text></g>
<path d='M79.80,286.30L97.60,286.30M83.98,278.13L93.42,294.47M93.42,278.13L83.98,294.47' stroke='#000' stroke-width='2.49' fill='none'/>
<g transform='translate(143.95,306.81) rotate(-90) scale(0.3998,0.4020)'><text x='0' y='0' font-family='Liberation Sans' font-size='100' font-weight='normal' font-style='italic' stroke='#000' stroke-width='0.8'>α</text></g>
<g transform='translate(143.95,281.71) rotate(-90) scale(0.4001,0.4020)'><text x='0' y='0' font-family='Liberation Sans' font-size='100' font-weight='normal' font-style='italic' stroke='#000' stroke-width='0.8'>α</text></g>
<g transform='translate(125.40,237.70) rotate(-90) scale(0.5487,0.5242)'><text x='0' y='0' font-family='Liberation Sans' font-size='100' font-weight='normal' font-style='normal' stroke='#000' stroke-width='0.8'>[</text></g>
<g transform='translate(129.44,216.57) rotate(-90) scale(0.5818,0.5728)'><text x='0' y='0' font-family='Liberation Sans' font-size='100' font-weight='normal' font-style='normal' stroke='#000' stroke-width='0.8'>e</text></g>
<g transform='translate(125.40,178.54) rotate(-90) scale(0.5482,0.5242)'><text x='0' y='0' font-family='Liberation Sans' font-size='100' font-weight='normal' font-style='normal' stroke='#000' stroke-width='0.8'>]</text></g>
<g transform='translate(299.52,98.31) scale(0.4885,0.5430)'><text x='0' y='0' font-family='Liberation Sans' font-size='100' font-weight='bold' font-style='normal' stroke='#000' stroke-width='1.6'>E</text></g>
<path d='M340.38,79.17H374.45v6.26H340.38Z M354.29,65.88h6.26V98.71h-6.26Z' fill='#000'/>
<g transform='translate(382.09,98.44) scale(0.5276,0.5429)'><text x='0' y='0' font-family='Liberation Sans' font-size='100' font-weight='bold' font-style='normal' stroke='#000' stroke-width='1.6'>F</text></g>
<path d='M423.11,79.17H457.18v6.26H423.11Z M437.02,65.88h6.26V98.71h-6.26Z' fill='#000'/>
<g transform='translate(464.92,98.31) scale(0.5218,0.5411)'><text x='0' y='0' font-family='Liberation Sans' font-size='100' font-weight='bold' font-style='normal' stroke='#000' stroke-width='1.6'>B</text></g>
<g transform='translate(506.55,98.31) scale(0.4884,0.5430)'><text x='0' y='0' font-family='Liberation Sans' font-size='100' font-weight='bold' font-style='normal' stroke='#000' stroke-width='1.6'>E</text></g>
<g transform='translate(542.69,98.55) scale(0.5033,0.5470)'><text x='0' y='0' font-family='Liberation Sans' font-size='100' font-weight='bold' font-style='normal' stroke='#000' stroke-width='1.6'>C</text></g>
<g transform='translate(350.41,205.54) scale(0.3953,0.4679)'><text x='0' y='0' font-family='Liberation Sans' font-size='100' font-weight='normal' font-style='normal' stroke='#000' stroke-width='0.8'>P</text></g>
<g transform='translate(377.57,205.86) scale(0.4852,0.4675)'><text x='0' y='0' font-family='Liberation Sans' font-size='100' font-weight='normal' font-style='normal' stroke='#000' stroke-width='0.8'>b</text></g>
<g transform='translate(356.73,272.83) scale(0.4675,0.4658)'><text x='0' y='0' font-family='Liberation Sans' font-size='100' font-weight='normal' font-style='normal' stroke='#000' stroke-width='0.8'>T</text></g>
<g transform='translate(385.83,272.83) scale(0.4075,0.4643)'><text x='0' y='0' font-family='Liberation Sans' font-size='100' font-weight='normal' font-style='normal' stroke='#000' stroke-width='0.8'>i</text></g>
<g transform='translate(359.66,334.75) scale(0.4461,0.4754)'><text x='0' y='0' font-family='Liberation Sans' font-size='100' font-weight='normal' font-style='normal' stroke='#000' stroke-width='0.8'>O</text></g>
<g transform='translate(671.27,276.33) scale(0.3499,0.3745)'><text x='0' y='0' font-family='Liberation Sans' font-size='100' font-weight='normal' font-style='normal' stroke='#000' stroke-width='0.8'>R</text></g>
<g transform='translate(697.20,276.52) scale(0.3713,0.3775)'><text x='0' y='0' font-family='Liberation Sans' font-size='100' font-weight='normal' font-style='normal' stroke='#000' stroke-width='0.8'>2</text></g>
<path d='M723.81,260.39H747.08v2.97H723.81Z M723.81,267.58H747.08V270.55H723.81Z' fill='#000'/>
<g transform='translate(752.11,276.68) scale(0.3856,0.3786)'><text x='0' y='0' font-family='Liberation Sans' font-size='100' font-weight='normal' font-style='normal' stroke='#000' stroke-width='0.8'>0</text></g>
<g transform='translate(775.41,276.52) scale(0.3712,0.3876)'><text x='0' y='0' font-family='Liberation Sans' font-size='100' font-weight='normal' font-style='normal' stroke='#000' stroke-width='0.8'>.</text></g>
<g transform='translate(787.17,276.69) scale(0.3980,0.3786)'><text x='0' y='0' font-family='Liberation Sans' font-size='100' font-weight='normal' font-style='normal' stroke='#000' stroke-width='0.8'>9</text></g>
<g transform='translate(810.83,276.69) scale(0.3981,0.3786)'><text x='0' y='0' font-family='Liberation Sans' font-size='100' font-weight='normal' font-style='normal' stroke='#000' stroke-width='0.8'>9</text></g>
<g transform='translate(834.86,276.52) scale(0.3713,0.3775)'><text x='0' y='0' font-family='Liberation Sans' font-size='100' font-weight='normal' font-style='normal' stroke='#000' stroke-width='0.8'>2</text></g>
<g transform='translate(592.81,397.43) scale(0.4508,0.4694)'><text x='0' y='0' font-family='Liberation Sans' font-size='100' font-weight='normal' font-style='normal' stroke='#000' stroke-width='0.8'>2</text></g>
<g transform='translate(592.72,473.85) scale(0.4795,0.4754)'><text x='0' y='0' font-family='Liberation Sans' font-size='100' font-weight='normal' font-style='normal' stroke='#000' stroke-width='0.8'>0</text></g>
<g transform='translate(556.67,551.24) scale(0.5683,0.4544)'><text x='0' y='0' font-family='Liberation Sans' font-size='100' font-weight='normal' font-style='normal' stroke='#000' stroke-width='0.8'>−</text></g>
<g transform='translate(593.28,549.73) scale(0.4474,0.4624)'><text x='0' y='0' font-family='Liberation Sans' font-size='100' font-weight='normal' font-style='normal' stroke='#000' stroke-width='0.8'>2</text></g>
<g transform='translate(633.52,612.46) scale(0.5688,0.4600)'><text x='0' y='0' font-family='Liberation Sans' font-size='100' font-weight='normal' font-style='normal' stroke='#000' stroke-width='0.8'>−</text></g>
<g transform='translate(670.16,610.93) scale(0.4478,0.4680)'><text x='0' y='0' font-family='Liberation Sans' font-size='100' font-weight='normal' font-style='normal' stroke='#000' stroke-width='0.8'>2</text></g>
<g transform='translate(726.87,611.33) scale(0.4939,0.4894)'><text x='0' y='0' font-family='Liberation Sans' font-size='100' font-weight='normal' font-style='normal' stroke='#000' stroke-width='0.8'>0</text></g>
<g transform='translate(803.42,611.22) scale(0.4702,0.4793)'><text x='0' y='0' font-family='Liberation Sans' font-size='100' font-weight='normal' font-style='normal' stroke='#000' stroke-width='0.8'>2</text></g>
<g transform='translate(700.92,532.97) scale(0.2797,0.3175)'><text x='0' y='0' font-family='Liberation Sans' font-size='100' font-weight='normal' font-style='normal' stroke='#000' stroke-width='0.8'>R</text></g>
<g transform='translate(721.65,533.13) scale(0.2968,0.3202)'><text x='0' y='0' font-family='Liberation Sans' font-size='100' font-weight='normal' font-style='normal' stroke='#000' stroke-width='0.8'>2</text></g>
<path d='M742.91,519.44H761.52v2.52H742.91Z M742.91,525.54H761.52V528.06H742.91Z' fill='#000'/>
<g transform='translate(765.54,533.26) scale(0.3082,0.3211)'><text x='0' y='0' font-family='Liberation Sans' font-size='100' font-weight='normal' font-style='normal' stroke='#000' stroke-width='0.8'>0</text></g>
<g transform='translate(784.16,533.12) scale(0.2967,0.3287)'><text x='0' y='0' font-family='Liberation Sans' font-size='100' font-weight='normal' font-style='normal' stroke='#000' stroke-width='0.8'>.</text></g>
<g transform='translate(793.63,533.26) scale(0.3189,0.3210)'><text x='0' y='0' font-family='Liberation Sans' font-size='100' font-weight='normal' font-style='normal' stroke='#000' stroke-width='0.8'>6</text></g>
<g transform='translate(813.22,533.26) scale(0.2960,0.3211)'><text x='0' y='0' font-family='Liberation Sans' font-size='100' font-weight='normal' font-style='normal' stroke='#000' stroke-width='0.8'>3</text></g>
<g transform='translate(831.38,533.26) scale(0.3182,0.3211)'><text x='0' y='0' font-family='Liberation Sans' font-size='100' font-weight='normal' font-style='normal' stroke='#000' stroke-width='0.8'>9</text></g>
<g transform='translate(557.83,531.68) rotate(-90) scale(0.4854,0.4704)'><text x='0' y='0' font-family='Liberation Sans' font-size='100' font-weight='normal' font-style='italic' stroke='#000' stroke-width='0.8'>Z</text></g>
<path d='M517.40,484.55L531.60,484.55M520.74,478.03L528.26,491.07M528.26,478.03L520.74,491.07' stroke='#000' stroke-width='1.99' fill='none'/>
<g transform='translate(570.35,501.50) rotate(-90) scale(0.3305,0.3265)'><text x='0' y='0' font-family='Liberation Sans' font-size='100' font-weight='normal' font-style='italic' stroke='#000' stroke-width='0.8'>α</text></g>
<g transform='translate(570.01,480.30) rotate(-90) scale(0.3143,0.3273)'><text x='0' y='0' font-family='Liberation Sans' font-size='100' font-weight='normal' font-style='italic' stroke='#000' stroke-width='0.8'>β</text></g>
<g transform='translate(554.90,444.47) rotate(-90) scale(0.4406,0.4213)'><text x='0' y='0' font-family='Liberation Sans' font-size='100' font-weight='normal' font-style='normal' stroke='#000' stroke-width='0.8'>[</text></g>
<g transform='translate(558.14,427.50) rotate(-90) scale(0.4672,0.4603)'><text x='0' y='0' font-family='Liberation Sans' font-size='100' font-weight='normal' font-style='normal' stroke='#000' stroke-width='0.8'>e</text></g>
<g transform='translate(554.90,396.97) rotate(-90) scale(0.4402,0.4213)'><text x='0' y='0' font-family='Liberation Sans' font-size='100' font-weight='normal' font-style='normal' stroke='#000' stroke-width='0.8'>]</text></g>
<g transform='translate(24.11,852.83) scale(0.6766,0.6121)'><text x='0' y='0' font-family='Liberation Sans' font-size='100' font-weight='bold' font-style='normal' stroke='#000' stroke-width='1.6'>b</text></g>
<path d='M130.06,840.69L138.70,840.69L138.70,811.11L129.30,812.98L129.30,808.20L138.65,806.33L143.94,806.33L143.94,840.69L152.58,840.69L152.58,845.10L130.06,845.10Z' fill='#000'/>
<g transform='translate(159.12,845.14) scale(0.5559,0.5591)'><text x='0' y='0' font-family='Liberation Sans' font-size='100' font-weight='normal' font-style='normal' stroke='#000' stroke-width='0.8'>0</text></g>
<g transform='translate(193.23,845.14) scale(0.5559,0.5591)'><text x='0' y='0' font-family='Liberation Sans' font-size='100' font-weight='normal' font-style='normal' stroke='#000' stroke-width='0.8'>0</text></g>
<g transform='translate(158.54,984.53) scale(0.5353,0.5659)'><text x='0' y='0' font-family='Liberation Sans' font-size='100' font-weight='normal' font-style='normal' stroke='#000' stroke-width='0.8'>5</text></g>
<g transform='translate(192.68,984.53) scale(0.5667,0.5675)'><text x='0' y='0' font-family='Liberation Sans' font-size='100' font-weight='normal' font-style='normal' stroke='#000' stroke-width='0.8'>0</text></g>
<g transform='translate(192.82,1123.53) scale(0.5639,0.5647)'><text x='0' y='0' font-family='Liberation Sans' font-size='100' font-weight='normal' font-style='normal' stroke='#000' stroke-width='0.8'>0</text></g>
<g transform='translate(115.53,1264.04) scale(0.6777,0.5589)'><text x='0' y='0' font-family='Liberation Sans' font-size='100' font-weight='normal' font-style='normal' stroke='#000' stroke-width='0.8'>−</text></g>
<g transform='translate(159.94,1262.43) scale(0.5237,0.5687)'><text x='0' y='0' font-family='Liberation Sans' font-size='100' font-weight='normal' font-style='normal' stroke='#000' stroke-width='0.8'>5</text></g>
<g transform='translate(193.33,1262.42) scale(0.5542,0.5703)'><text x='0' y='0' font-family='Liberation Sans' font-size='100' font-weight='normal' font-style='normal' stroke='#000' stroke-width='0.8'>0</text></g>
<g transform='translate(81.43,1402.83) scale(0.6781,0.5520)'><text x='0' y='0' font-family='Liberation Sans' font-size='100' font-weight='normal' font-style='normal' stroke='#000' stroke-width='0.8'>−</text></g>
<path d='M130.29,1396.75L138.91,1396.75L138.91,1366.95L129.53,1368.83L129.53,1364.02L138.86,1362.14L144.14,1362.14L144.14,1396.75L152.75,1396.75L152.75,1401.20L130.29,1401.20Z' fill='#000'/>
<g transform='translate(159.27,1401.23) scale(0.5545,0.5633)'><text x='0' y='0' font-family='Liberation Sans' font-size='100' font-weight='normal' font-style='normal' stroke='#000' stroke-width='0.8'>0</text></g>
<g transform='translate(193.31,1401.23) scale(0.5544,0.5633)'><text x='0' y='0' font-family='Liberation Sans' font-size='100' font-weight='normal' font-style='normal' stroke='#000' stroke-width='0.8'>0</text></g>
<g transform='translate(203.63,1449.74) scale(0.5601,0.4934)'><text x='0' y='0' font-family='Liberation Sans' font-size='100' font-weight='normal' font-style='normal' stroke='#000' stroke-width='0.8'>-</text></g>
<g transform='translate(224.25,1451.34) scale(0.5561,0.5591)'><text x='0' y='0' font-family='Liberation Sans' font-size='100' font-weight='normal' font-style='normal' stroke='#000' stroke-width='0.8'>0</text></g>
<g transform='translate(257.85,1451.09) scale(0.5353,0.5724)'><text x='0' y='0' font-family='Liberation Sans' font-size='100' font-weight='normal' font-style='normal' stroke='#000' stroke-width='0.8'>.</text></g>
<path d='M280.48,1446.89L289.12,1446.89L289.12,1417.31L279.72,1419.18L279.72,1414.40L289.07,1412.53L294.36,1412.53L294.36,1446.89L303.00,1446.89L303.00,1451.30L280.48,1451.30Z' fill='#000'/>
<g transform='translate(341.53,1450.01) scale(0.5597,0.5008)'><text x='0' y='0' font-family='Liberation Sans' font-size='100' font-weight='normal' font-style='normal' stroke='#000' stroke-width='0.8'>-</text></g>
<g transform='translate(362.14,1451.63) scale(0.5558,0.5675)'><text x='0' y='0' font-family='Liberation Sans' font-size='100' font-weight='normal' font-style='normal' stroke='#000' stroke-width='0.8'>0</text></g>
<g transform='translate(395.72,1451.38) scale(0.5349,0.5810)'><text x='0' y='0' font-family='Liberation Sans' font-size='100' font-weight='normal' font-style='normal' stroke='#000' stroke-width='0.8'>.</text></g>
<g transform='translate(413.27,1451.63) scale(0.5556,0.5675)'><text x='0' y='0' font-family='Liberation Sans' font-size='100' font-weight='normal' font-style='normal' stroke='#000' stroke-width='0.8'>0</text></g>
<g transform='translate(448.00,1451.63) scale(0.5252,0.5659)'><text x='0' y='0' font-family='Liberation Sans' font-size='100' font-weight='normal' font-style='normal' stroke='#000' stroke-width='0.8'>5</text></g>
<g transform='translate(549.42,1451.34) scale(0.5639,0.5577)'><text x='0' y='0' font-family='Liberation Sans' font-size='100' font-weight='normal' font-style='normal' stroke='#000' stroke-width='0.8'>0</text></g>
<g transform='translate(661.53,1451.43) scale(0.5606,0.5633)'><text x='0' y='0' font-family='Liberation Sans' font-size='100' font-weight='normal' font-style='normal' stroke='#000' stroke-width='0.8'>0</text></g>
<g transform='translate(695.41,1451.19) scale(0.5399,0.5767)'><text x='0' y='0' font-family='Liberation Sans' font-size='100' font-weight='normal' font-style='normal' stroke='#000' stroke-width='0.8'>.</text></g>
<g transform='translate(713.11,1451.43) scale(0.5607,0.5633)'><text x='0' y='0' font-family='Liberation Sans' font-size='100' font-weight='normal' font-style='normal' stroke='#000' stroke-width='0.8'>0</text></g>
<g transform='translate(748.16,1451.44) scale(0.5297,0.5617)'><text x='0' y='0' font-family='Liberation Sans' font-size='100' font-weight='normal' font-style='normal' stroke='#000' stroke-width='0.8'>5</text></g>
<g transform='translate(833.13,1451.43) scale(0.5611,0.5633)'><text x='0' y='0' font-family='Liberation Sans' font-size='100' font-weight='normal' font-style='normal' stroke='#000' stroke-width='0.8'>0</text></g>
<g transform='translate(867.04,1451.19) scale(0.5404,0.5767)'><text x='0' y='0' font-family='Liberation Sans' font-size='100' font-weight='normal' font-style='normal' stroke='#000' stroke-width='0.8'>.</text></g>
<path d='M889.87,1446.95L898.59,1446.95L898.59,1417.15L889.10,1419.03L889.10,1414.22L898.54,1412.34L903.88,1412.34L903.88,1446.95L912.60,1446.95L912.60,1451.40L889.87,1451.40Z' fill='#000'/>
<g transform='translate(521.05,1516.41) scale(0.5569,0.5282)'><text x='0' y='0' font-family='Liberation Sans' font-size='100' font-weight='normal' font-style='normal' stroke='#000' stroke-width='0.8'>[</text></g>
<g transform='translate(542.22,1520.22) scale(0.5550,0.5854)'><text x='0' y='0' font-family='Liberation Sans' font-size='100' font-weight='normal' font-style='normal' stroke='#000' stroke-width='0.8'>V</text></g>
<g transform='translate(580.02,1524.74) scale(0.6527,0.6174)'><text x='0' y='0' font-family='Liberation Sans' font-size='100' font-weight='normal' font-style='normal' stroke='#000' stroke-width='0.8'>/</text></g>
<g transform='translate(599.09,1520.20) scale(0.5505,0.5863)'><text x='0' y='0' font-family='Liberation Sans' font-size='100' font-weight='normal' font-style='normal' stroke='#000' stroke-width='0.8'>Å</text></g>
<g transform='translate(641.69,1516.41) scale(0.5563,0.5282)'><text x='0' y='0' font-family='Liberation Sans' font-size='100' font-weight='normal' font-style='normal' stroke='#000' stroke-width='0.8'>]</text></g>
<g transform='translate(66.78,1252.59) rotate(-90) scale(0.5100,0.5880)'><text x='0' y='0' font-family='Liberation Sans' font-size='100' font-weight='normal' font-style='italic' stroke='#000' stroke-width='0.8'>P</text></g>
<g transform='translate(62.86,1200.95) rotate(-90) scale(0.5859,0.5306)'><text x='0' y='0' font-family='Liberation Sans' font-size='100' font-weight='normal' font-style='normal' stroke='#000' stroke-width='0.8'>[</text></g>
<g transform='translate(67.15,1179.47) rotate(-90) scale(0.6060,0.5836)'><text x='0' y='0' font-family='Liberation Sans' font-size='100' font-weight='normal' font-style='italic' stroke='#000' stroke-width='0.8'>μ</text></g>
<g transform='translate(66.64,1144.19) rotate(-90) scale(0.5086,0.5876)'><text x='0' y='0' font-family='Liberation Sans' font-size='100' font-weight='normal' font-style='normal' stroke='#000' stroke-width='0.8'>C</text></g>
<g transform='translate(70.90,1105.83) rotate(-90) scale(0.6516,0.6153)'><text x='0' y='0' font-family='Liberation Sans' font-size='100' font-weight='normal' font-style='normal' stroke='#000' stroke-width='0.8'>/</text></g>
<g transform='translate(66.66,1086.52) rotate(-90) scale(0.5469,0.5750)'><text x='0' y='0' font-family='Liberation Sans' font-size='100' font-weight='normal' font-style='normal' stroke='#000' stroke-width='0.8'>c</text></g>
<g transform='translate(66.40,1055.82) rotate(-90) scale(0.6253,0.5702)'><text x='0' y='0' font-family='Liberation Sans' font-size='100' font-weight='normal' font-style='normal' stroke='#000' stroke-width='0.8'>m</text></g>
<g transform='translate(45.75,1001.96) rotate(-90) scale(0.4012,0.4129)'><text x='0' y='0' font-family='Liberation Sans' font-size='100' font-weight='normal' font-style='normal' stroke='#000' stroke-width='0.8'>2</text></g>
<g transform='translate(62.86,971.42) rotate(-90) scale(0.5853,0.5306)'><text x='0' y='0' font-family='Liberation Sans' font-size='100' font-weight='normal' font-style='normal' stroke='#000' stroke-width='0.8'>]</text></g>
</g>
</svg>
</body></html>
